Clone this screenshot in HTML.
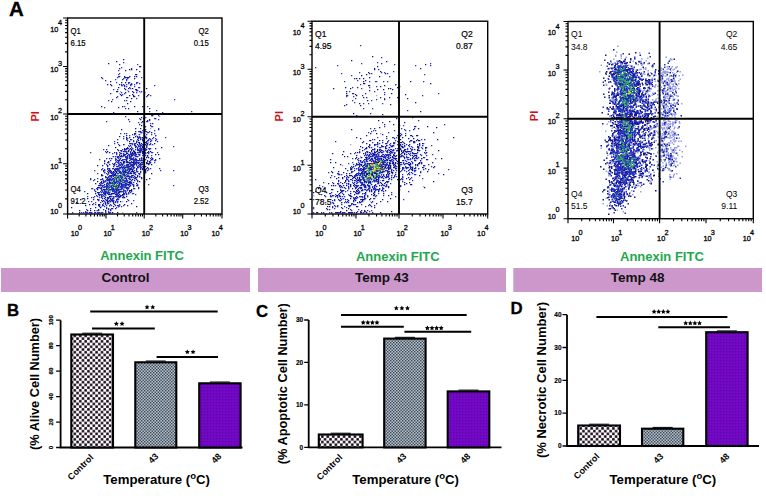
<!DOCTYPE html>
<html><head><meta charset="utf-8"><style>
html,body{margin:0;padding:0;background:#fff;}
svg{display:block;font-family:'Liberation Sans',sans-serif;}
</style></head><body>
<svg width="766" height="496" viewBox="0 0 766 496" style="font-family:'Liberation Sans',sans-serif">
<defs>
<filter id="bl" x="0" y="0" width="1" height="1"><feGaussianBlur stdDeviation="0.6"/></filter>
<pattern id="chk1" patternUnits="userSpaceOnUse" width="5.44" height="5.44"><rect width="5.44" height="5.44" fill="#fdf6fd"/><rect x="0.15" y="0.15" width="2.45" height="2.45" fill="#0a040a"/><rect x="2.87" y="2.87" width="2.45" height="2.45" fill="#0a040a"/></pattern>
<pattern id="chk2" patternUnits="userSpaceOnUse" width="3" height="3"><rect width="3" height="3" fill="#b4c0ce"/><rect width="1.4" height="1.4" fill="#3c4552"/><rect x="1.5" y="1.5" width="1.4" height="1.4" fill="#36404c"/></pattern>
<pattern id="chk3" patternUnits="userSpaceOnUse" width="3" height="3"><rect width="3" height="3" fill="#7408c6"/><rect width="1.3" height="1.3" fill="#5608a4"/></pattern>
</defs>
<text x="9" y="16.3" font-size="20.5" font-weight="bold" stroke="#000" stroke-width="0.3">A</text>
<path fill="#98a0e6" d="M0 0m112 188h1.3v1.3h-1.3zm12 2h1.3v1.3h-1.3zm-12 6h1.3v1.3h-1.3zm26 -34h1.3v1.3h-1.3zm-13 21h1.3v1.3h-1.3zm-29 27h1.3v1.3h-1.3zm29 -23h1.3v1.3h-1.3zm-4 -18h1.3v1.3h-1.3zm9 -7h1.3v1.3h-1.3zm7 18h1.3v1.3h-1.3zm-19 -10h1.3v1.3h-1.3zm-8 6h1.3v1.3h-1.3zm26 -41h1.3v1.3h-1.3zm-17 22h1.3v1.3h-1.3zm4 30h1.3v1.3h-1.3zm15 -42h1.3v1.3h-1.3zm-6 32h1.3v1.3h-1.3zm1 -27h1.3v1.3h-1.3zm-16 34h1.3v1.3h-1.3zm16 -20h1.3v1.3h-1.3zm-11 37h1.3v1.3h-1.3zm-21 5h1.3v1.3h-1.3zm41 -55h1.3v1.3h-1.3zm-23 12h1.3v1.3h-1.3zm29 -21h1.3v1.3h-1.3zm-17 4h1.3v1.3h-1.3zm-8 10h1.3v1.3h-1.3zm19 7h1.3v1.3h-1.3zm-33 30h1.3v1.3h-1.3zm0 9h1.3v1.3h-1.3zm-5 -11h1.3v1.3h-1.3zm19 -12h1.3v1.3h-1.3zm-11 -23h1.3v1.3h-1.3zm9 30h1.3v1.3h-1.3zm26 -25h1.3v1.3h-1.3zm-17 15h1.3v1.3h-1.3zm-9 -14h1.3v1.3h-1.3zm23 -11h1.3v1.3h-1.3zm-24 17h1.3v1.3h-1.3zm-5 33h1.3v1.3h-1.3zm44 -85h1.3v1.3h-1.3zm-37 96h1.3v1.3h-1.3zm2 -68h1.3v1.3h-1.3zm18 -6h1.3v1.3h-1.3zm-2 27h1.3v1.3h-1.3zm-2 -31h1.3v1.3h-1.3zm-2 6h1.3v1.3h-1.3zm14 -12h1.3v1.3h-1.3zm-10 -36h1.3v1.3h-1.3zm-20 -1h1.3v1.3h-1.3zm-1 2h1.3v1.3h-1.3zm8 -3h1.3v1.3h-1.3z"/>
<path fill="#14148a" d="M0 0m104 193h1.3v1.3h-1.3zm18 -15h1.3v1.3h-1.3zm1 18h1.3v1.3h-1.3zm-3 -13h1.3v1.3h-1.3zm4 4h1.3v1.3h-1.3zm5 -1h1.3v1.3h-1.3zm-19 -3h1.3v1.3h-1.3zm-10 24h1.3v1.3h-1.3zm1 -33h1.3v1.3h-1.3zm6 6h1.3v1.3h-1.3zm10 7h1.3v1.3h-1.3zm4 0h1.3v1.3h-1.3zm-4 -2h1.3v1.3h-1.3zm-2 -7h1.3v1.3h-1.3zm-15 7h1.3v1.3h-1.3zm16 6h1.3v1.3h-1.3zm-7 -10h1.3v1.3h-1.3zm2 5h1.3v1.3h-1.3zm10 1h1.3v1.3h-1.3zm3 0h1.3v1.3h-1.3zm-14 7h1.3v1.3h-1.3zm12 0h1.3v1.3h-1.3zm0 -8h1.3v1.3h-1.3zm-12 15h1.3v1.3h-1.3zm8 -11h1.3v1.3h-1.3zm-7 -7h1.3v1.3h-1.3zm6 8h1.3v1.3h-1.3zm-1 8h1.3v1.3h-1.3zm-1 -25h1.3v1.3h-1.3zm7 10h1.3v1.3h-1.3zm-9 -6h1.3v1.3h-1.3zm0 8h1.3v1.3h-1.3zm7 -11h1.3v1.3h-1.3zm-2 11h1.3v1.3h-1.3zm-15 7h1.3v1.3h-1.3zm6 -11h1.3v1.3h-1.3zm-12 -1h1.3v1.3h-1.3zm21 -5h1.3v1.3h-1.3zm-10 4h1.3v1.3h-1.3zm10 15h1.3v1.3h-1.3zm2 -15h1.3v1.3h-1.3zm-12 18h1.3v1.3h-1.3zm24 -33h1.3v1.3h-1.3zm-17 12h1.3v1.3h-1.3zm-2 16h1.3v1.3h-1.3zm13 3h1.3v1.3h-1.3zm-7 -13h1.3v1.3h-1.3zm-5 3h1.3v1.3h-1.3zm-3 7h1.3v1.3h-1.3zm-5 -1h1.3v1.3h-1.3zm10 -2h1.3v1.3h-1.3zm3 -8h1.3v1.3h-1.3zm4 4h1.3v1.3h-1.3zm1 18h1.3v1.3h-1.3zm5 -13h1.3v1.3h-1.3zm-24 12h1.3v1.3h-1.3zm28 -18h1.3v1.3h-1.3zm-9 12h1.3v1.3h-1.3zm-2 -11h1.3v1.3h-1.3zm-5 -9h1.3v1.3h-1.3zm-5 12h1.3v1.3h-1.3zm-1 -9h1.3v1.3h-1.3zm5 5h1.3v1.3h-1.3zm-7 15h1.3v1.3h-1.3zm14 -18h1.3v1.3h-1.3zm-6 -2h1.3v1.3h-1.3zm-8 14h1.3v1.3h-1.3zm10 2h1.3v1.3h-1.3zm-8 -16h1.3v1.3h-1.3zm18 2h1.3v1.3h-1.3zm-12 3h1.3v1.3h-1.3zm-12 12h1.3v1.3h-1.3zm21 -19h1.3v1.3h-1.3zm-24 -3h1.3v1.3h-1.3zm18 6h1.3v1.3h-1.3zm21 -4h1.3v1.3h-1.3zm-38 15h1.3v1.3h-1.3zm27 -20h1.3v1.3h-1.3zm-15 24h1.3v1.3h-1.3zm1 -7h1.3v1.3h-1.3zm-6 -14h1.3v1.3h-1.3zm-2 13h1.3v1.3h-1.3zm18 6h1.3v1.3h-1.3zm-22 -10h1.3v1.3h-1.3zm6 -1h1.3v1.3h-1.3zm-1 11h1.3v1.3h-1.3zm10 -2h1.3v1.3h-1.3zm0 -1h1.3v1.3h-1.3zm-10 -11h1.3v1.3h-1.3zm12 11h1.3v1.3h-1.3zm-13 -5h1.3v1.3h-1.3zm2 10h1.3v1.3h-1.3zm-10 -8h1.3v1.3h-1.3zm-1 -5h1.3v1.3h-1.3zm15 -4h1.3v1.3h-1.3zm-4 7h1.3v1.3h-1.3zm23 0h1.3v1.3h-1.3zm-13 10h1.3v1.3h-1.3zm-3 -12h1.3v1.3h-1.3zm-4 18h1.3v1.3h-1.3zm7 -7h1.3v1.3h-1.3zm-9 5h1.3v1.3h-1.3zm4 -11h1.3v1.3h-1.3zm-8 -6h1.3v1.3h-1.3zm19 0h1.3v1.3h-1.3zm-4 12h1.3v1.3h-1.3zm-4 -10h1.3v1.3h-1.3zm-4 19h1.3v1.3h-1.3zm-1 -22h1.3v1.3h-1.3zm2 10h1.3v1.3h-1.3zm16 -2h1.3v1.3h-1.3zm-23 19h1.3v1.3h-1.3zm0 -39h1.3v1.3h-1.3zm-1 10h1.3v1.3h-1.3zm-1 20h1.3v1.3h-1.3zm15 -19h1.3v1.3h-1.3zm0 10h1.3v1.3h-1.3zm-4 -11h1.3v1.3h-1.3zm-6 -1h1.3v1.3h-1.3zm-21 0h1.3v1.3h-1.3zm25 3h1.3v1.3h-1.3zm-8 -4h1.3v1.3h-1.3zm1 11h1.3v1.3h-1.3zm20 -18h1.3v1.3h-1.3zm4 -5h1.3v1.3h-1.3zm-6 -1h1.3v1.3h-1.3zm13 16h1.3v1.3h-1.3zm-18 -3h1.3v1.3h-1.3zm-8 23h1.3v1.3h-1.3zm-4 -25h1.3v1.3h-1.3zm17 -6h1.3v1.3h-1.3zm6 -16h1.3v1.3h-1.3zm-3 2h1.3v1.3h-1.3zm18 11h1.3v1.3h-1.3zm-25 -8h1.3v1.3h-1.3zm1 34h1.3v1.3h-1.3zm-4 -16h1.3v1.3h-1.3zm35 -34h1.3v1.3h-1.3zm-32 36h1.3v1.3h-1.3zm20 -40h1.3v1.3h-1.3zm-44 65h1.3v1.3h-1.3zm17 -26h1.3v1.3h-1.3zm-1 -3h1.3v1.3h-1.3zm18 -16h1.3v1.3h-1.3zm-8 9h1.3v1.3h-1.3zm16 3h1.3v1.3h-1.3zm-33 32h1.3v1.3h-1.3zm15 -19h1.3v1.3h-1.3zm-1 1h1.3v1.3h-1.3zm-5 -4h1.3v1.3h-1.3zm3 2h1.3v1.3h-1.3zm-22 9h1.3v1.3h-1.3zm26 -48h1.3v1.3h-1.3zm-11 68h1.3v1.3h-1.3zm-3 -44h1.3v1.3h-1.3zm30 8h1.3v1.3h-1.3zm-16 14h1.3v1.3h-1.3zm27 -49h1.3v1.3h-1.3zm-13 8h1.3v1.3h-1.3zm-16 32h1.3v1.3h-1.3zm-4 24h1.3v1.3h-1.3zm9 -53h1.3v1.3h-1.3zm-9 29h1.3v1.3h-1.3zm-9 5h1.3v1.3h-1.3zm26 -22h1.3v1.3h-1.3zm-10 1h1.3v1.3h-1.3zm-21 6h1.3v1.3h-1.3zm5 18h1.3v1.3h-1.3zm24 -37h1.3v1.3h-1.3zm2 11h1.3v1.3h-1.3zm-19 22h1.3v1.3h-1.3zm-3 23h1.3v1.3h-1.3zm5 -26h1.3v1.3h-1.3zm-27 28h1.3v1.3h-1.3zm28 -14h1.3v1.3h-1.3zm28 -51h1.3v1.3h-1.3zm-37 47h1.3v1.3h-1.3zm13 -28h1.3v1.3h-1.3zm2 7h1.3v1.3h-1.3zm-10 -19h1.3v1.3h-1.3zm26 -15h1.3v1.3h-1.3zm-32 35h1.3v1.3h-1.3zm8 15h1.3v1.3h-1.3zm-8 -2h1.3v1.3h-1.3zm7 -3h1.3v1.3h-1.3zm28 -24h1.3v1.3h-1.3zm-15 -8h1.3v1.3h-1.3zm3 26h1.3v1.3h-1.3zm-27 13h1.3v1.3h-1.3zm22 -28h1.3v1.3h-1.3zm0 40h1.3v1.3h-1.3zm-26 -16h1.3v1.3h-1.3zm29 -25h1.3v1.3h-1.3zm-5 22h1.3v1.3h-1.3zm14 -33h1.3v1.3h-1.3zm-9 17h1.3v1.3h-1.3zm-6 0h1.3v1.3h-1.3zm21 15h1.3v1.3h-1.3zm-7 -6h1.3v1.3h-1.3zm4 3h1.3v1.3h-1.3zm-37 3h1.3v1.3h-1.3zm22 -28h1.3v1.3h-1.3zm-8 10h1.3v1.3h-1.3zm25 -22h1.3v1.3h-1.3zm-26 71h1.3v1.3h-1.3zm24 -53h1.3v1.3h-1.3zm-24 28h1.3v1.3h-1.3zm-13 11h1.3v1.3h-1.3zm13 -29h1.3v1.3h-1.3zm-5 5h1.3v1.3h-1.3zm-18 36h1.3v1.3h-1.3zm15 -40h1.3v1.3h-1.3zm33 -26h1.3v1.3h-1.3zm-30 38h1.3v1.3h-1.3zm-6 3h1.3v1.3h-1.3zm-11 8h1.3v1.3h-1.3zm39 -41h1.3v1.3h-1.3zm-18 17h1.3v1.3h-1.3zm21 -30h1.3v1.3h-1.3zm-33 52h1.3v1.3h-1.3zm21 -20h1.3v1.3h-1.3zm1 -34h1.3v1.3h-1.3zm16 0h1.3v1.3h-1.3zm-24 49h1.3v1.3h-1.3zm-1 12h1.3v1.3h-1.3zm-4 -30h1.3v1.3h-1.3zm-4 12h1.3v1.3h-1.3zm20 -3h1.3v1.3h-1.3zm-10 -17h1.3v1.3h-1.3zm-9 30h1.3v1.3h-1.3zm35 -19h1.3v1.3h-1.3zm-35 5h1.3v1.3h-1.3zm12 -1h1.3v1.3h-1.3zm-21 0h1.3v1.3h-1.3zm26 9h1.3v1.3h-1.3zm7 -33h1.3v1.3h-1.3zm-25 20h1.3v1.3h-1.3zm26 -13h1.3v1.3h-1.3zm-25 38h1.3v1.3h-1.3zm26 -28h1.3v1.3h-1.3zm-3 3h1.3v1.3h-1.3zm-22 0h1.3v1.3h-1.3zm9 -4h1.3v1.3h-1.3zm3 7h1.3v1.3h-1.3zm13 -15h1.3v1.3h-1.3zm-13 -4h1.3v1.3h-1.3zm6 -14h1.3v1.3h-1.3zm19 16h1.3v1.3h-1.3zm-41 43h1.3v1.3h-1.3zm29 -21h1.3v1.3h-1.3zm-35 33h1.3v1.3h-1.3zm3 -42h1.3v1.3h-1.3zm27 -1h1.3v1.3h-1.3zm-8 0h1.3v1.3h-1.3zm-2 -40h1.3v1.3h-1.3zm1 51h1.3v1.3h-1.3zm24 -92h1.3v1.3h-1.3zm-21 95h1.3v1.3h-1.3zm-8 -34h1.3v1.3h-1.3zm9 10h1.3v1.3h-1.3zm-7 9h1.3v1.3h-1.3zm24 -20h1.3v1.3h-1.3zm-33 48h1.3v1.3h-1.3zm4 -5h1.3v1.3h-1.3zm18 -20h1.3v1.3h-1.3zm14 8h1.3v1.3h-1.3zm-26 12h1.3v1.3h-1.3zm-11 -39h1.3v1.3h-1.3zm21 -13h1.3v1.3h-1.3zm-20 59h1.3v1.3h-1.3zm1 -40h1.3v1.3h-1.3zm8 1h1.3v1.3h-1.3zm-5 15h1.3v1.3h-1.3zm30 -44h1.3v1.3h-1.3zm-27 36h1.3v1.3h-1.3zm21 -4h1.3v1.3h-1.3zm-5 0h1.3v1.3h-1.3zm-8 -11h1.3v1.3h-1.3zm-5 22h1.3v1.3h-1.3zm-24 22h1.3v1.3h-1.3zm41 -39h1.3v1.3h-1.3zm-29 41h1.3v1.3h-1.3zm12 -20h1.3v1.3h-1.3zm-14 14h1.3v1.3h-1.3zm13 -19h1.3v1.3h-1.3zm23 -20h1.3v1.3h-1.3zm-20 15h1.3v1.3h-1.3zm-7 11h1.3v1.3h-1.3zm18 -27h1.3v1.3h-1.3zm-16 50h1.3v1.3h-1.3zm-20 -36h1.3v1.3h-1.3zm38 9h1.3v1.3h-1.3zm-33 -9h1.3v1.3h-1.3zm32 11h1.3v1.3h-1.3zm-5 10h1.3v1.3h-1.3zm-30 9h1.3v1.3h-1.3zm32 -18h1.3v1.3h-1.3zm7 -17h1.3v1.3h-1.3zm3 4h1.3v1.3h-1.3zm0 -6h1.3v1.3h-1.3zm-2 0h1.3v1.3h-1.3zm-34 54h1.3v1.3h-1.3zm13 -62h1.3v1.3h-1.3zm17 9h1.3v1.3h-1.3zm-3 -4h1.3v1.3h-1.3zm-22 31h1.3v1.3h-1.3zm24 2h1.3v1.3h-1.3zm-31 1h1.3v1.3h-1.3zm31 -27h1.3v1.3h-1.3zm-3 -9h1.3v1.3h-1.3zm-18 44h1.3v1.3h-1.3zm19 -28h1.3v1.3h-1.3zm-24 19h1.3v1.3h-1.3zm33 -63h1.3v1.3h-1.3zm-24 48h1.3v1.3h-1.3zm-22 39h1.3v1.3h-1.3zm29 -38h1.3v1.3h-1.3zm-10 2h1.3v1.3h-1.3zm32 -13h1.3v1.3h-1.3zm-22 9h1.3v1.3h-1.3zm-18 17h1.3v1.3h-1.3zm14 12h1.3v1.3h-1.3zm-8 -13h1.3v1.3h-1.3zm19 -20h1.3v1.3h-1.3zm12 -50h1.3v1.3h-1.3zm-10 43h1.3v1.3h-1.3zm-5 -11h1.3v1.3h-1.3zm-14 31h1.3v1.3h-1.3zm-9 -1h1.3v1.3h-1.3zm50 -40h1.3v1.3h-1.3zm-23 24h1.3v1.3h-1.3zm11 -17h1.3v1.3h-1.3zm-18 38h1.3v1.3h-1.3zm-4 -7h1.3v1.3h-1.3zm-1 -16h1.3v1.3h-1.3zm13 0h1.3v1.3h-1.3zm-35 25h1.3v1.3h-1.3zm9 6h1.3v1.3h-1.3zm5 -15h1.3v1.3h-1.3zm13 -29h1.3v1.3h-1.3zm-1 18h1.3v1.3h-1.3zm13 0h1.3v1.3h-1.3zm-31 33h1.3v1.3h-1.3zm20 -52h1.3v1.3h-1.3zm-19 54h1.3v1.3h-1.3zm42 -64h1.3v1.3h-1.3zm-31 46h1.3v1.3h-1.3zm20 -34h1.3v1.3h-1.3zm-40 42h1.3v1.3h-1.3zm26 -37h1.3v1.3h-1.3zm-19 25h1.3v1.3h-1.3zm40 -36h1.3v1.3h-1.3zm-11 29h1.3v1.3h-1.3zm-18 23h1.3v1.3h-1.3zm-3 -15h1.3v1.3h-1.3zm0 8h1.3v1.3h-1.3zm8 -10h1.3v1.3h-1.3zm22 -18h1.3v1.3h-1.3zm-28 27h1.3v1.3h-1.3zm-1 -19h1.3v1.3h-1.3zm13 -7h1.3v1.3h-1.3zm-29 38h1.3v1.3h-1.3zm22 -28h1.3v1.3h-1.3zm-5 4h1.3v1.3h-1.3zm19 -17h1.3v1.3h-1.3zm-19 -12h1.3v1.3h-1.3zm25 -19h1.3v1.3h-1.3zm-21 17h1.3v1.3h-1.3zm2 39h1.3v1.3h-1.3zm0 -24h1.3v1.3h-1.3zm0 -7h1.3v1.3h-1.3zm0 10h1.3v1.3h-1.3zm10 14h1.3v1.3h-1.3zm15 -15h1.3v1.3h-1.3zm-20 -2h1.3v1.3h-1.3zm3 24h1.3v1.3h-1.3zm-4 -12h1.3v1.3h-1.3zm-11 -9h1.3v1.3h-1.3zm15 -8h1.3v1.3h-1.3zm-6 8h1.3v1.3h-1.3zm-11 27h1.3v1.3h-1.3zm24 -28h1.3v1.3h-1.3zm-11 3h1.3v1.3h-1.3zm7 5h1.3v1.3h-1.3zm-21 38h1.3v1.3h-1.3zm2 -2h1.3v1.3h-1.3zm38 -74h1.3v1.3h-1.3zm-49 72h1.3v1.3h-1.3zm25 -46h1.3v1.3h-1.3zm-23 23h1.3v1.3h-1.3zm9 7h1.3v1.3h-1.3zm15 -34h1.3v1.3h-1.3zm-1 12h1.3v1.3h-1.3zm1 16h1.3v1.3h-1.3zm-26 19h1.3v1.3h-1.3zm44 -55h1.3v1.3h-1.3zm5 13h1.3v1.3h-1.3zm-40 27h1.3v1.3h-1.3zm2 -20h1.3v1.3h-1.3zm9 11h1.3v1.3h-1.3zm-12 33h1.3v1.3h-1.3zm-2 -20h1.3v1.3h-1.3zm10 -3h1.3v1.3h-1.3zm13 2h1.3v1.3h-1.3zm2 -29h1.3v1.3h-1.3zm9 4h1.3v1.3h-1.3zm-22 25h1.3v1.3h-1.3zm11 -16h1.3v1.3h-1.3zm-18 0h1.3v1.3h-1.3zm1 4h1.3v1.3h-1.3zm12 11h1.3v1.3h-1.3zm7 -26h1.3v1.3h-1.3zm-1 13h1.3v1.3h-1.3zm-10 3h1.3v1.3h-1.3zm28 -39h1.3v1.3h-1.3zm-55 44h1.3v1.3h-1.3zm32 -18h1.3v1.3h-1.3zm0 -3h1.3v1.3h-1.3zm-2 -3h1.3v1.3h-1.3zm-9 22h1.3v1.3h-1.3zm14 9h1.3v1.3h-1.3zm-2 -26h1.3v1.3h-1.3zm-22 27h1.3v1.3h-1.3zm15 -36h1.3v1.3h-1.3zm-14 31h1.3v1.3h-1.3zm24 -27h1.3v1.3h-1.3zm-1 10h1.3v1.3h-1.3zm-9 3h1.3v1.3h-1.3zm-14 -7h1.3v1.3h-1.3zm18 26h1.3v1.3h-1.3zm4 -31h1.3v1.3h-1.3zm8 0h1.3v1.3h-1.3zm-8 18h1.3v1.3h-1.3zm-2 -17h1.3v1.3h-1.3zm-9 8h1.3v1.3h-1.3zm17 9h1.3v1.3h-1.3zm23 -49h1.3v1.3h-1.3zm-54 72h1.3v1.3h-1.3zm2 -13h1.3v1.3h-1.3zm6 10h1.3v1.3h-1.3zm-25 12h1.3v1.3h-1.3zm41 -56h1.3v1.3h-1.3zm-11 26h1.3v1.3h-1.3zm10 -11h1.3v1.3h-1.3zm7 -36h1.3v1.3h-1.3zm-6 21h1.3v1.3h-1.3zm14 10h1.3v1.3h-1.3zm16 -10h1.3v1.3h-1.3zm-18 -4h1.3v1.3h-1.3zm-32 12h1.3v1.3h-1.3zm19 2h1.3v1.3h-1.3zm28 -16h1.3v1.3h-1.3zm-25 0h1.3v1.3h-1.3zm10 -3h1.3v1.3h-1.3zm-30 54h1.3v1.3h-1.3zm32 -30h1.3v1.3h-1.3zm-11 -4h1.3v1.3h-1.3zm-9 15h1.3v1.3h-1.3zm-36 32h1.3v1.3h-1.3zm45 -50h1.3v1.3h-1.3zm-7 14h1.3v1.3h-1.3zm4 -14h1.3v1.3h-1.3zm7 -10h1.3v1.3h-1.3zm-9 -17h1.3v1.3h-1.3zm-13 62h1.3v1.3h-1.3zm-12 -16h1.3v1.3h-1.3zm40 -31h1.3v1.3h-1.3zm-16 20h1.3v1.3h-1.3zm-1 -5h1.3v1.3h-1.3zm-23 31h1.3v1.3h-1.3zm25 -45h1.3v1.3h-1.3zm-18 50h1.3v1.3h-1.3zm23 -11h1.3v1.3h-1.3zm-9 -22h1.3v1.3h-1.3zm-1 -18h1.3v1.3h-1.3zm4 33h1.3v1.3h-1.3zm0 -18h1.3v1.3h-1.3zm5 -7h1.3v1.3h-1.3zm-41 54h1.3v1.3h-1.3zm37 -34h1.3v1.3h-1.3zm15 -16h1.3v1.3h-1.3zm-17 -13h1.3v1.3h-1.3zm-18 38h1.3v1.3h-1.3zm36 -36h1.3v1.3h-1.3zm-32 47h1.3v1.3h-1.3zm16 -33h1.3v1.3h-1.3zm8 -21h1.3v1.3h-1.3zm5 8h1.3v1.3h-1.3zm-37 46h1.3v1.3h-1.3zm46 -47h1.3v1.3h-1.3zm-43 59h1.3v1.3h-1.3zm0 -11h1.3v1.3h-1.3zm15 -23h1.3v1.3h-1.3zm19 -45h1.3v1.3h-1.3zm-21 25h1.3v1.3h-1.3zm17 21h1.3v1.3h-1.3zm14 -58h1.3v1.3h-1.3zm-3 38h1.3v1.3h-1.3zm-44 34h1.3v1.3h-1.3zm13 -5h1.3v1.3h-1.3zm-28 12h1.3v1.3h-1.3zm39 -59h1.3v1.3h-1.3zm-9 29h1.3v1.3h-1.3zm13 0h1.3v1.3h-1.3zm-5 24h1.3v1.3h-1.3zm-18 -30h1.3v1.3h-1.3zm25 0h1.3v1.3h-1.3zm-7 -3h1.3v1.3h-1.3zm9 -25h1.3v1.3h-1.3zm-29 57h1.3v1.3h-1.3zm10 3h1.3v1.3h-1.3zm-10 0h1.3v1.3h-1.3zm21 -12h1.3v1.3h-1.3zm-33 17h1.3v1.3h-1.3zm41 -46h1.3v1.3h-1.3zm-9 3h1.3v1.3h-1.3zm0 -2h1.3v1.3h-1.3zm-28 58h1.3v1.3h-1.3zm48 -83h1.3v1.3h-1.3zm-20 22h1.3v1.3h-1.3zm5 14h1.3v1.3h-1.3zm1 -16h1.3v1.3h-1.3zm-18 40h1.3v1.3h-1.3zm11 -28h1.3v1.3h-1.3zm3 6h1.3v1.3h-1.3zm-28 39h1.3v1.3h-1.3zm41 -46h1.3v1.3h-1.3zm-23 35h1.3v1.3h-1.3zm-1 0h1.3v1.3h-1.3zm-15 -26h1.3v1.3h-1.3zm26 3h1.3v1.3h-1.3zm18 -19h1.3v1.3h-1.3zm-11 27h1.3v1.3h-1.3zm-12 -4h1.3v1.3h-1.3zm-9 -12h1.3v1.3h-1.3zm10 9h1.3v1.3h-1.3zm14 -13h1.3v1.3h-1.3zm-4 3h1.3v1.3h-1.3zm-27 21h1.3v1.3h-1.3zm-14 20h1.3v1.3h-1.3zm37 -38h1.3v1.3h-1.3zm1 -23h1.3v1.3h-1.3zm-29 44h1.3v1.3h-1.3zm19 -7h1.3v1.3h-1.3zm10 -11h1.3v1.3h-1.3zm9 -19h1.3v1.3h-1.3zm-32 16h1.3v1.3h-1.3zm27 -3h1.3v1.3h-1.3zm-4 -6h1.3v1.3h-1.3zm-3 -4h1.3v1.3h-1.3zm-23 10h1.3v1.3h-1.3zm43 -20h1.3v1.3h-1.3zm-37 36h1.3v1.3h-1.3zm8 13h1.3v1.3h-1.3zm-9 -13h1.3v1.3h-1.3zm38 -35h1.3v1.3h-1.3zm-38 36h1.3v1.3h-1.3zm26 -17h1.3v1.3h-1.3zm-13 22h1.3v1.3h-1.3zm14 -8h1.3v1.3h-1.3zm-18 12h1.3v1.3h-1.3zm23 -41h1.3v1.3h-1.3zm-23 14h1.3v1.3h-1.3zm7 18h1.3v1.3h-1.3zm-15 9h1.3v1.3h-1.3zm18 -38h1.3v1.3h-1.3zm-15 49h1.3v1.3h-1.3zm22 -55h1.3v1.3h-1.3zm-8 42h1.3v1.3h-1.3zm12 -33h1.3v1.3h-1.3zm-3 -13h1.3v1.3h-1.3zm-17 42h1.3v1.3h-1.3zm-7 17h1.3v1.3h-1.3zm18 -15h1.3v1.3h-1.3zm25 -67h1.3v1.3h-1.3zm-33 46h1.3v1.3h-1.3zm5 41h1.3v1.3h-1.3zm4 -22h1.3v1.3h-1.3zm2 -15h1.3v1.3h-1.3zm13 -19h1.3v1.3h-1.3zm-25 26h1.3v1.3h-1.3zm7 9h1.3v1.3h-1.3zm4 -36h1.3v1.3h-1.3zm-27 45h1.3v1.3h-1.3zm31 -10h1.3v1.3h-1.3zm-21 -27h1.3v1.3h-1.3zm9 18h1.3v1.3h-1.3zm6 -12h1.3v1.3h-1.3zm-28 17h1.3v1.3h-1.3zm10 -4h1.3v1.3h-1.3zm40 -52h1.3v1.3h-1.3zm-1 41h1.3v1.3h-1.3zm-37 20h1.3v1.3h-1.3zm6 -13h1.3v1.3h-1.3zm-10 1h1.3v1.3h-1.3zm18 4h1.3v1.3h-1.3zm-30 36h1.3v1.3h-1.3zm29 -39h1.3v1.3h-1.3zm-8 21h1.3v1.3h-1.3zm-29 14h1.3v1.3h-1.3zm38 -89h1.3v1.3h-1.3zm1 71h1.3v1.3h-1.3zm1 -32h1.3v1.3h-1.3zm-16 21h1.3v1.3h-1.3zm28 -19h1.3v1.3h-1.3zm-29 36h1.3v1.3h-1.3zm23 -27h1.3v1.3h-1.3zm-27 14h1.3v1.3h-1.3zm0 22h1.3v1.3h-1.3zm9 -26h1.3v1.3h-1.3zm-1 -9h1.3v1.3h-1.3zm-8 -6h1.3v1.3h-1.3zm35 -14h1.3v1.3h-1.3zm-31 28h1.3v1.3h-1.3zm46 -20h1.3v1.3h-1.3zm-12 -38h1.3v1.3h-1.3zm-17 48h1.3v1.3h-1.3zm-27 32h1.3v1.3h-1.3zm22 -46h1.3v1.3h-1.3zm4 9h1.3v1.3h-1.3zm-9 17h1.3v1.3h-1.3zm-1 7h1.3v1.3h-1.3zm-21 18h1.3v1.3h-1.3zm1 -20h1.3v1.3h-1.3zm6 -4h1.3v1.3h-1.3zm41 -40h1.3v1.3h-1.3zm-33 35h1.3v1.3h-1.3zm33 -8h1.3v1.3h-1.3zm-17 -31h1.3v1.3h-1.3zm-14 39h1.3v1.3h-1.3zm22 -16h1.3v1.3h-1.3zm-8 10h1.3v1.3h-1.3zm3 -11h1.3v1.3h-1.3zm-41 53h1.3v1.3h-1.3zm30 -29h1.3v1.3h-1.3zm-5 -11h1.3v1.3h-1.3zm0 22h1.3v1.3h-1.3zm15 -40h1.3v1.3h-1.3zm-10 10h1.3v1.3h-1.3zm-8 11h1.3v1.3h-1.3zm2 33h1.3v1.3h-1.3zm-15 -26h1.3v1.3h-1.3zm33 -16h1.3v1.3h-1.3zm-32 23h1.3v1.3h-1.3zm-6 18h1.3v1.3h-1.3zm19 -29h1.3v1.3h-1.3zm11 -3h1.3v1.3h-1.3zm-21 -3h1.3v1.3h-1.3zm2 36h1.3v1.3h-1.3zm26 -38h1.3v1.3h-1.3zm-28 -9h1.3v1.3h-1.3zm31 -15h1.3v1.3h-1.3zm2 -2h1.3v1.3h-1.3zm5 18h1.3v1.3h-1.3zm0 -11h1.3v1.3h-1.3zm-15 24h1.3v1.3h-1.3zm-8 -23h1.3v1.3h-1.3zm-4 19h1.3v1.3h-1.3zm-8 3h1.3v1.3h-1.3zm-8 13h1.3v1.3h-1.3zm24 -26h1.3v1.3h-1.3zm-12 18h1.3v1.3h-1.3zm12 15h1.3v1.3h-1.3zm-6 -4h1.3v1.3h-1.3zm7 -3h1.3v1.3h-1.3zm-14 -5h1.3v1.3h-1.3zm23 -17h1.3v1.3h-1.3zm-17 21h1.3v1.3h-1.3zm5 -13h1.3v1.3h-1.3zm-24 26h1.3v1.3h-1.3zm40 -63h1.3v1.3h-1.3zm-32 53h1.3v1.3h-1.3zm38 -35h1.3v1.3h-1.3zm-31 18h1.3v1.3h-1.3zm36 -20h1.3v1.3h-1.3zm-33 26h1.3v1.3h-1.3zm16 -2h1.3v1.3h-1.3zm4 -29h1.3v1.3h-1.3zm-1 31h1.3v1.3h-1.3zm2 -36h1.3v1.3h-1.3zm-5 38h1.3v1.3h-1.3zm4 -37h1.3v1.3h-1.3zm7 4h1.3v1.3h-1.3zm3 23h1.3v1.3h-1.3zm-22 5h1.3v1.3h-1.3zm5 -8h1.3v1.3h-1.3zm-5 30h1.3v1.3h-1.3zm-3 -41h1.3v1.3h-1.3zm10 16h1.3v1.3h-1.3zm-6 -1h1.3v1.3h-1.3zm9 -30h1.3v1.3h-1.3zm-13 48h1.3v1.3h-1.3zm8 -13h1.3v1.3h-1.3zm-16 3h1.3v1.3h-1.3zm36 -28h1.3v1.3h-1.3zm-43 35h1.3v1.3h-1.3zm-10 5h1.3v1.3h-1.3zm37 -38h1.3v1.3h-1.3zm-13 24h1.3v1.3h-1.3zm36 -23h1.3v1.3h-1.3zm-32 -3h1.3v1.3h-1.3zm-14 43h1.3v1.3h-1.3zm1 -24h1.3v1.3h-1.3zm1 3h1.3v1.3h-1.3zm12 -1h1.3v1.3h-1.3zm-17 5h1.3v1.3h-1.3zm18 -23h1.3v1.3h-1.3zm-4 21h1.3v1.3h-1.3zm-21 29h1.3v1.3h-1.3zm40 -31h1.3v1.3h-1.3zm-18 -17h1.3v1.3h-1.3zm2 14h1.3v1.3h-1.3zm15 -5h1.3v1.3h-1.3zm17 -30h1.3v1.3h-1.3zm-10 31h1.3v1.3h-1.3zm-31 22h1.3v1.3h-1.3zm17 15h1.3v1.3h-1.3zm-1 -30h1.3v1.3h-1.3zm-32 19h1.3v1.3h-1.3zm10 2h1.3v1.3h-1.3zm27 -39h1.3v1.3h-1.3zm0 -27h1.3v1.3h-1.3zm-10 29h1.3v1.3h-1.3zm-14 28h1.3v1.3h-1.3zm14 -18h1.3v1.3h-1.3zm-10 11h1.3v1.3h-1.3zm20 -20h1.3v1.3h-1.3zm-6 18h1.3v1.3h-1.3zm-16 27h1.3v1.3h-1.3zm-1 -35h1.3v1.3h-1.3zm5 17h1.3v1.3h-1.3zm9 -6h1.3v1.3h-1.3zm-17 10h1.3v1.3h-1.3zm35 -56h1.3v1.3h-1.3zm-37 54h1.3v1.3h-1.3zm31 -45h1.3v1.3h-1.3zm-26 51h1.3v1.3h-1.3zm6 -16h1.3v1.3h-1.3zm-1 4h1.3v1.3h-1.3zm12 -19h1.3v1.3h-1.3zm6 -26h1.3v1.3h-1.3zm1 27h1.3v1.3h-1.3zm-24 10h1.3v1.3h-1.3zm15 -16h1.3v1.3h-1.3zm5 -2h1.3v1.3h-1.3zm-16 23h1.3v1.3h-1.3zm9 -22h1.3v1.3h-1.3zm6 15h1.3v1.3h-1.3zm-22 25h1.3v1.3h-1.3zm34 -45h1.3v1.3h-1.3zm-8 12h1.3v1.3h-1.3zm-6 14h1.3v1.3h-1.3zm13 -9h1.3v1.3h-1.3zm-17 18h1.3v1.3h-1.3zm-10 -17h1.3v1.3h-1.3zm14 -14h1.3v1.3h-1.3zm32 -8h1.3v1.3h-1.3zm-53 38h1.3v1.3h-1.3zm-5 -3h1.3v1.3h-1.3zm-27 20h1.3v1.3h-1.3zm54 -50h1.3v1.3h-1.3zm-24 0h1.3v1.3h-1.3zm41 -57h1.3v1.3h-1.3zm-17 50h1.3v1.3h-1.3zm-31 67h1.3v1.3h-1.3zm2 -12h1.3v1.3h-1.3zm12 -18h1.3v1.3h-1.3zm6 -46h1.3v1.3h-1.3zm8 19h1.3v1.3h-1.3zm-21 -6h1.3v1.3h-1.3zm-9 43h1.3v1.3h-1.3zm37 -29h1.3v1.3h-1.3zm-36 31h1.3v1.3h-1.3zm23 -18h1.3v1.3h-1.3zm-5 -23h1.3v1.3h-1.3zm3 2h1.3v1.3h-1.3zm8 -8h1.3v1.3h-1.3zm10 29h1.3v1.3h-1.3zm1 -38h1.3v1.3h-1.3zm-33 54h1.3v1.3h-1.3zm20 -23h1.3v1.3h-1.3zm-7 -9h1.3v1.3h-1.3zm25 7h1.3v1.3h-1.3zm-14 2h1.3v1.3h-1.3zm23 -11h1.3v1.3h-1.3zm-17 -25h1.3v1.3h-1.3zm-64 74h1.3v1.3h-1.3zm36 -30h1.3v1.3h-1.3zm38 -8h1.3v1.3h-1.3zm-24 14h1.3v1.3h-1.3zm0 -19h1.3v1.3h-1.3zm6 12h1.3v1.3h-1.3zm-12 -1h1.3v1.3h-1.3zm2 -18h1.3v1.3h-1.3zm-20 32h1.3v1.3h-1.3zm16 -18h1.3v1.3h-1.3zm23 8h1.3v1.3h-1.3zm-47 33h1.3v1.3h-1.3zm43 -43h1.3v1.3h-1.3zm-15 24h1.3v1.3h-1.3zm34 -20h1.3v1.3h-1.3zm-46 39h1.3v1.3h-1.3zm-26 0h1.3v1.3h-1.3zm29 -51h1.3v1.3h-1.3zm-21 32h1.3v1.3h-1.3zm28 -20h1.3v1.3h-1.3zm18 -19h1.3v1.3h-1.3zm-11 25h1.3v1.3h-1.3zm27 -71h1.3v1.3h-1.3zm-38 91h1.3v1.3h-1.3zm25 7h1.3v1.3h-1.3zm-15 -43h1.3v1.3h-1.3zm7 30h1.3v1.3h-1.3zm-12 -22h1.3v1.3h-1.3zm25 -28h1.3v1.3h-1.3zm-32 15h1.3v1.3h-1.3zm22 25h1.3v1.3h-1.3zm-13 -5h1.3v1.3h-1.3zm1 9h1.3v1.3h-1.3zm33 -72h1.3v1.3h-1.3zm-3 63h1.3v1.3h-1.3zm-23 -16h1.3v1.3h-1.3zm-7 18h1.3v1.3h-1.3zm-30 24h1.3v1.3h-1.3zm18 -3h1.3v1.3h-1.3zm31 -14h1.3v1.3h-1.3zm-27 -12h1.3v1.3h-1.3zm26 6h1.3v1.3h-1.3zm-29 -2h1.3v1.3h-1.3zm6 3h1.3v1.3h-1.3zm10 -34h1.3v1.3h-1.3zm-26 51h1.3v1.3h-1.3zm-13 6h1.3v1.3h-1.3zm17 -14h1.3v1.3h-1.3zm35 -6h1.3v1.3h-1.3zm-28 4h1.3v1.3h-1.3zm-8 -7h1.3v1.3h-1.3zm36 -11h1.3v1.3h-1.3zm-30 -3h1.3v1.3h-1.3zm13 4h1.3v1.3h-1.3zm12 7h1.3v1.3h-1.3zm-30 7h1.3v1.3h-1.3zm26 -20h1.3v1.3h-1.3zm17 -16h1.3v1.3h-1.3zm-38 47h1.3v1.3h-1.3zm6 4h1.3v1.3h-1.3zm5 -17h1.3v1.3h-1.3zm-15 8h1.3v1.3h-1.3zm-5 17h1.3v1.3h-1.3zm25 -47h1.3v1.3h-1.3zm7 20h1.3v1.3h-1.3zm-21 30h1.3v1.3h-1.3zm31 -81h1.3v1.3h-1.3zm-30 58h1.3v1.3h-1.3zm-5 -13h1.3v1.3h-1.3zm13 30h1.3v1.3h-1.3zm26 -57h1.3v1.3h-1.3zm-16 19h1.3v1.3h-1.3zm3 -13h1.3v1.3h-1.3zm-14 -13h1.3v1.3h-1.3zm3 16h1.3v1.3h-1.3zm-13 -7h1.3v1.3h-1.3zm1 -6h1.3v1.3h-1.3zm11 40h1.3v1.3h-1.3zm-39 14h1.3v1.3h-1.3zm48 -11h1.3v1.3h-1.3zm3 -38h1.3v1.3h-1.3zm-52 60h1.3v1.3h-1.3zm39 -48h1.3v1.3h-1.3zm25 -18h1.3v1.3h-1.3zm-3 22h1.3v1.3h-1.3zm-1 -23h1.3v1.3h-1.3zm2 -11h1.3v1.3h-1.3zm0 27h1.3v1.3h-1.3zm5 -28h1.3v1.3h-1.3zm-5 29h1.3v1.3h-1.3zm-14 -12h1.3v1.3h-1.3zm12 -6h1.3v1.3h-1.3zm11 -17h1.3v1.3h-1.3zm-6 2h1.3v1.3h-1.3zm6 35h1.3v1.3h-1.3zm-8 -41h1.3v1.3h-1.3zm-2 29h1.3v1.3h-1.3zm2 -4h1.3v1.3h-1.3zm7 17h1.3v1.3h-1.3zm-2 -11h1.3v1.3h-1.3zm-2 -15h1.3v1.3h-1.3zm-7 3h1.3v1.3h-1.3zm0 23h1.3v1.3h-1.3zm4 -23h1.3v1.3h-1.3zm1 1h1.3v1.3h-1.3zm0 4h1.3v1.3h-1.3zm2 -3h1.3v1.3h-1.3zm-10 18h1.3v1.3h-1.3zm-3 -1h1.3v1.3h-1.3zm7 5h1.3v1.3h-1.3zm-6 -27h1.3v1.3h-1.3zm5 15h1.3v1.3h-1.3zm12 -1h1.3v1.3h-1.3zm-5 21h1.3v1.3h-1.3zm-3 -19h1.3v1.3h-1.3zm-2 -34h1.3v1.3h-1.3zm-5 12h1.3v1.3h-1.3zm6 -14h1.3v1.3h-1.3zm2 42h1.3v1.3h-1.3zm6 2h1.3v1.3h-1.3zm-7 -8h1.3v1.3h-1.3zm-2 -2h1.3v1.3h-1.3zm7 4h1.3v1.3h-1.3zm-8 -31h1.3v1.3h-1.3zm8 39h1.3v1.3h-1.3zm-7 0h1.3v1.3h-1.3zm6 -26h1.3v1.3h-1.3zm1 3h1.3v1.3h-1.3zm-7 29h1.3v1.3h-1.3zm-5 -16h1.3v1.3h-1.3zm13 11h1.3v1.3h-1.3zm-9 -98h1.3v1.3h-1.3zm-3 3h1.3v1.3h-1.3zm-25 16h1.3v1.3h-1.3zm13 0h1.3v1.3h-1.3zm4 23h1.3v1.3h-1.3zm-3 -16h1.3v1.3h-1.3zm4 -23h1.3v1.3h-1.3zm2 29h1.3v1.3h-1.3zm3 -22h1.3v1.3h-1.3zm6 -10h1.3v1.3h-1.3zm-7 30h1.3v1.3h-1.3zm2 -7h1.3v1.3h-1.3zm-6 6h1.3v1.3h-1.3zm-8 -13h1.3v1.3h-1.3zm-5 9h1.3v1.3h-1.3zm0 6h1.3v1.3h-1.3zm2 -10h1.3v1.3h-1.3zm14 7h1.3v1.3h-1.3zm12 -2h1.3v1.3h-1.3zm-25 -24h1.3v1.3h-1.3zm9 20h1.3v1.3h-1.3zm3 -19h1.3v1.3h-1.3zm2 26h1.3v1.3h-1.3zm-6 -18h1.3v1.3h-1.3zm-2 -7h1.3v1.3h-1.3zm8 22h1.3v1.3h-1.3zm-11 14h1.3v1.3h-1.3zm-1 -11h1.3v1.3h-1.3zm4 -13h1.3v1.3h-1.3zm4 -6h1.3v1.3h-1.3zm19 18h1.3v1.3h-1.3zm-38 -1h1.3v1.3h-1.3zm8 14h1.3v1.3h-1.3zm18 -31h1.3v1.3h-1.3zm0 14h1.3v1.3h-1.3zm-2 -12h1.3v1.3h-1.3zm-17 13h1.3v1.3h-1.3zm-6 10h1.3v1.3h-1.3zm17 -24h1.3v1.3h-1.3zm8 -3h1.3v1.3h-1.3zm1 37h1.3v1.3h-1.3zm-5 -20h1.3v1.3h-1.3zm0 -3h1.3v1.3h-1.3zm10 18h1.3v1.3h-1.3zm-15 -3h1.3v1.3h-1.3zm-3 -15h1.3v1.3h-1.3zm3 9h1.3v1.3h-1.3zm-2 -8h1.3v1.3h-1.3zm6 -5h1.3v1.3h-1.3zm-7 -8h1.3v1.3h-1.3zm-2 3h1.3v1.3h-1.3zm2 9h1.3v1.3h-1.3zm-4 6h1.3v1.3h-1.3zm-4 -33h1.3v1.3h-1.3zm19 13h1.3v1.3h-1.3zm1 15h1.3v1.3h-1.3zm-29 -5h1.3v1.3h-1.3zm18 -7h1.3v1.3h-1.3zm-17 -14h1.3v1.3h-1.3zm22 38h1.3v1.3h-1.3zm-11 -17h1.3v1.3h-1.3zm-9 0h1.3v1.3h-1.3zm0 -3h1.3v1.3h-1.3zm-9 25h1.3v1.3h-1.3zm33 0h1.3v1.3h-1.3zm0 -10h1.3v1.3h-1.3zm-11 -37h1.3v1.3h-1.3zm-22 18h1.3v1.3h-1.3zm89 36h1.3v1.3h-1.3zm-71 -37h1.3v1.3h-1.3z"/>
<path fill="#2834c4" d="M0 0m114 180h1.3v1.3h-1.3zm0 0h1.3v1.3h-1.3zm2 0h1.3v1.3h-1.3zm3 0h1.3v1.3h-1.3zm-5 3h1.3v1.3h-1.3zm-3 5h1.3v1.3h-1.3zm-4 -9h1.3v1.3h-1.3zm-6 6h1.3v1.3h-1.3zm23 8h1.3v1.3h-1.3zm-7 -23h1.3v1.3h-1.3zm2 5h1.3v1.3h-1.3zm-20 22h1.3v1.3h-1.3zm10 -14h1.3v1.3h-1.3zm5 -2h1.3v1.3h-1.3zm10 6h1.3v1.3h-1.3zm11 -15h1.3v1.3h-1.3zm-25 22h1.3v1.3h-1.3zm7 -4h1.3v1.3h-1.3zm1 -28h1.3v1.3h-1.3zm6 20h1.3v1.3h-1.3zm-5 -3h1.3v1.3h-1.3zm-2 12h1.3v1.3h-1.3zm1 15h1.3v1.3h-1.3zm0 -21h1.3v1.3h-1.3zm-16 6h1.3v1.3h-1.3zm14 2h1.3v1.3h-1.3zm-8 -2h1.3v1.3h-1.3zm0 -5h1.3v1.3h-1.3zm19 -5h1.3v1.3h-1.3zm-9 1h1.3v1.3h-1.3zm9 -1h1.3v1.3h-1.3zm-19 12h1.3v1.3h-1.3zm18 -12h1.3v1.3h-1.3zm-13 17h1.3v1.3h-1.3zm4 -15h1.3v1.3h-1.3zm-5 -10h1.3v1.3h-1.3zm10 13h1.3v1.3h-1.3zm15 -2h1.3v1.3h-1.3zm-34 -4h1.3v1.3h-1.3zm5 10h1.3v1.3h-1.3zm21 -6h1.3v1.3h-1.3zm-21 -7h1.3v1.3h-1.3zm5 -5h1.3v1.3h-1.3zm2 30h1.3v1.3h-1.3zm12 -12h1.3v1.3h-1.3zm-20 9h1.3v1.3h-1.3zm5 -9h1.3v1.3h-1.3zm13 -10h1.3v1.3h-1.3zm-2 6h1.3v1.3h-1.3zm-8 -1h1.3v1.3h-1.3zm-22 12h1.3v1.3h-1.3zm24 -10h1.3v1.3h-1.3zm6 -2h1.3v1.3h-1.3zm-20 0h1.3v1.3h-1.3zm14 -10h1.3v1.3h-1.3zm-5 9h1.3v1.3h-1.3zm21 4h1.3v1.3h-1.3zm-21 -20h1.3v1.3h-1.3zm10 16h1.3v1.3h-1.3zm-4 12h1.3v1.3h-1.3zm-7 3h1.3v1.3h-1.3zm22 -24h1.3v1.3h-1.3zm-11 12h1.3v1.3h-1.3zm-15 -5h1.3v1.3h-1.3zm16 7h1.3v1.3h-1.3zm-6 9h1.3v1.3h-1.3zm6 -27h1.3v1.3h-1.3zm-21 34h1.3v1.3h-1.3zm21 -23h1.3v1.3h-1.3zm-15 10h1.3v1.3h-1.3zm8 8h1.3v1.3h-1.3zm0 -9h1.3v1.3h-1.3zm8 3h1.3v1.3h-1.3zm-17 -5h1.3v1.3h-1.3zm11 1h1.3v1.3h-1.3zm-9 -10h1.3v1.3h-1.3zm-7 10h1.3v1.3h-1.3zm17 -20h1.3v1.3h-1.3zm4 20h1.3v1.3h-1.3zm2 1h1.3v1.3h-1.3zm0 -7h1.3v1.3h-1.3zm-13 1h1.3v1.3h-1.3zm15 -3h1.3v1.3h-1.3zm-16 7h1.3v1.3h-1.3zm0 5h1.3v1.3h-1.3zm-3 -3h1.3v1.3h-1.3zm1 -6h1.3v1.3h-1.3zm14 -15h1.3v1.3h-1.3zm-12 26h1.3v1.3h-1.3zm14 -5h1.3v1.3h-1.3zm-10 -4h1.3v1.3h-1.3zm1 -5h1.3v1.3h-1.3zm-9 -5h1.3v1.3h-1.3zm18 4h1.3v1.3h-1.3zm-11 10h1.3v1.3h-1.3zm4 -20h1.3v1.3h-1.3zm2 15h1.3v1.3h-1.3zm-2 11h1.3v1.3h-1.3zm16 -35h1.3v1.3h-1.3zm4 26h1.3v1.3h-1.3zm-13 2h1.3v1.3h-1.3zm-18 8h1.3v1.3h-1.3zm-1 -14h1.3v1.3h-1.3zm18 -9h1.3v1.3h-1.3zm-21 34h1.3v1.3h-1.3zm8 -15h1.3v1.3h-1.3zm5 -30h1.3v1.3h-1.3zm-15 24h1.3v1.3h-1.3zm10 -11h1.3v1.3h-1.3zm-7 9h1.3v1.3h-1.3zm19 4h1.3v1.3h-1.3zm-6 -2h1.3v1.3h-1.3zm7 -7h1.3v1.3h-1.3zm-21 0h1.3v1.3h-1.3zm23 12h1.3v1.3h-1.3zm2 7h1.3v1.3h-1.3zm0 -13h1.3v1.3h-1.3zm-19 -11h1.3v1.3h-1.3zm0 29h1.3v1.3h-1.3zm11 -22h1.3v1.3h-1.3zm-11 -5h1.3v1.3h-1.3zm3 21h1.3v1.3h-1.3zm5 0h1.3v1.3h-1.3zm5 -8h1.3v1.3h-1.3zm-11 -12h1.3v1.3h-1.3zm14 -10h1.3v1.3h-1.3zm-13 6h1.3v1.3h-1.3zm14 12h1.3v1.3h-1.3zm-14 -4h1.3v1.3h-1.3zm0 -3h1.3v1.3h-1.3zm-10 5h1.3v1.3h-1.3zm15 11h1.3v1.3h-1.3zm1 -15h1.3v1.3h-1.3zm-2 7h1.3v1.3h-1.3zm-10 1h1.3v1.3h-1.3zm19 -5h1.3v1.3h-1.3zm-8 14h1.3v1.3h-1.3zm-8 -1h1.3v1.3h-1.3zm6 -13h1.3v1.3h-1.3zm13 9h1.3v1.3h-1.3zm-30 -8h1.3v1.3h-1.3zm15 6h1.3v1.3h-1.3zm-14 -8h1.3v1.3h-1.3zm26 -2h1.3v1.3h-1.3zm-14 6h1.3v1.3h-1.3zm-5 3h1.3v1.3h-1.3zm18 -5h1.3v1.3h-1.3zm-30 -6h1.3v1.3h-1.3zm7 13h1.3v1.3h-1.3zm14 -5h1.3v1.3h-1.3zm4 -12h1.3v1.3h-1.3zm-9 -3h1.3v1.3h-1.3zm4 9h1.3v1.3h-1.3zm14 4h1.3v1.3h-1.3zm-24 -4h1.3v1.3h-1.3zm11 7h1.3v1.3h-1.3zm18 -29h1.3v1.3h-1.3zm5 -28h1.3v1.3h-1.3zm13 9h1.3v1.3h-1.3zm-2 -9h1.3v1.3h-1.3zm-31 74h1.3v1.3h-1.3zm5 -34h1.3v1.3h-1.3zm-21 23h1.3v1.3h-1.3zm16 -19h1.3v1.3h-1.3zm22 -38h1.3v1.3h-1.3zm-12 17h1.3v1.3h-1.3zm1 29h1.3v1.3h-1.3zm1 -20h1.3v1.3h-1.3zm14 -50h1.3v1.3h-1.3zm-19 65h1.3v1.3h-1.3zm-17 -5h1.3v1.3h-1.3zm33 -15h1.3v1.3h-1.3zm-26 31h1.3v1.3h-1.3zm21 -25h1.3v1.3h-1.3zm-17 4h1.3v1.3h-1.3zm9 -23h1.3v1.3h-1.3zm-29 49h1.3v1.3h-1.3zm4 11h1.3v1.3h-1.3zm35 -51h1.3v1.3h-1.3zm-14 13h1.3v1.3h-1.3zm-20 20h1.3v1.3h-1.3zm5 -12h1.3v1.3h-1.3zm-12 35h1.3v1.3h-1.3zm12 2h1.3v1.3h-1.3zm12 -45h1.3v1.3h-1.3zm27 17h1.3v1.3h-1.3zm-22 -10h1.3v1.3h-1.3zm3 -12h1.3v1.3h-1.3zm-13 -3h1.3v1.3h-1.3zm19 -3h1.3v1.3h-1.3zm-11 38h1.3v1.3h-1.3zm12 -31h1.3v1.3h-1.3zm-17 34h1.3v1.3h-1.3zm24 -52h1.3v1.3h-1.3zm2 3h1.3v1.3h-1.3zm-34 37h1.3v1.3h-1.3zm32 -23h1.3v1.3h-1.3zm-62 50h1.3v1.3h-1.3zm52 -62h1.3v1.3h-1.3zm-7 11h1.3v1.3h-1.3zm-17 9h1.3v1.3h-1.3zm-1 27h1.3v1.3h-1.3zm19 -9h1.3v1.3h-1.3zm3 4h1.3v1.3h-1.3zm-45 20h1.3v1.3h-1.3zm3 -11h1.3v1.3h-1.3zm31 -19h1.3v1.3h-1.3zm8 -16h1.3v1.3h-1.3zm26 -29h1.3v1.3h-1.3zm-19 -3h1.3v1.3h-1.3zm-20 46h1.3v1.3h-1.3zm16 -8h1.3v1.3h-1.3zm0 -21h1.3v1.3h-1.3zm7 1h1.3v1.3h-1.3zm-20 41h1.3v1.3h-1.3zm24 -44h1.3v1.3h-1.3zm-15 17h1.3v1.3h-1.3zm-16 12h1.3v1.3h-1.3zm8 -17h1.3v1.3h-1.3zm8 -4h1.3v1.3h-1.3zm-20 48h1.3v1.3h-1.3zm16 -30h1.3v1.3h-1.3zm-1 11h1.3v1.3h-1.3zm-7 -7h1.3v1.3h-1.3zm33 -18h1.3v1.3h-1.3zm-9 -12h1.3v1.3h-1.3zm-12 21h1.3v1.3h-1.3zm-9 31h1.3v1.3h-1.3zm1 -2h1.3v1.3h-1.3zm16 -32h1.3v1.3h-1.3zm-24 12h1.3v1.3h-1.3zm-6 -10h1.3v1.3h-1.3zm-6 24h1.3v1.3h-1.3zm27 -6h1.3v1.3h-1.3zm-25 -8h1.3v1.3h-1.3zm13 12h1.3v1.3h-1.3zm30 -32h1.3v1.3h-1.3zm-52 38h1.3v1.3h-1.3zm35 -17h1.3v1.3h-1.3zm-41 23h1.3v1.3h-1.3zm27 -31h1.3v1.3h-1.3zm22 -13h1.3v1.3h-1.3zm-13 18h1.3v1.3h-1.3zm-13 31h1.3v1.3h-1.3zm32 -60h1.3v1.3h-1.3zm-53 64h1.3v1.3h-1.3zm23 -3h1.3v1.3h-1.3zm33 -48h1.3v1.3h-1.3zm-15 10h1.3v1.3h-1.3zm22 -28h1.3v1.3h-1.3zm-46 49h1.3v1.3h-1.3zm22 -18h1.3v1.3h-1.3zm-1 -9h1.3v1.3h-1.3zm-1 8h1.3v1.3h-1.3zm-10 17h1.3v1.3h-1.3zm1 -22h1.3v1.3h-1.3zm3 5h1.3v1.3h-1.3zm-3 -4h1.3v1.3h-1.3zm10 -13h1.3v1.3h-1.3zm7 37h1.3v1.3h-1.3zm-23 -24h1.3v1.3h-1.3zm25 3h1.3v1.3h-1.3zm-11 -34h1.3v1.3h-1.3zm-16 65h1.3v1.3h-1.3zm8 -12h1.3v1.3h-1.3zm-18 -4h1.3v1.3h-1.3zm43 -39h1.3v1.3h-1.3zm-34 25h1.3v1.3h-1.3zm31 -11h1.3v1.3h-1.3zm6 -1h1.3v1.3h-1.3zm-9 -16h1.3v1.3h-1.3zm6 4h1.3v1.3h-1.3zm-24 19h1.3v1.3h-1.3zm0 -16h1.3v1.3h-1.3zm12 40h1.3v1.3h-1.3zm24 -40h1.3v1.3h-1.3zm-4 -4h1.3v1.3h-1.3zm-42 39h1.3v1.3h-1.3zm25 -12h1.3v1.3h-1.3zm-11 -2h1.3v1.3h-1.3zm-2 0h1.3v1.3h-1.3zm25 -35h1.3v1.3h-1.3zm-6 9h1.3v1.3h-1.3zm3 13h1.3v1.3h-1.3zm-15 32h1.3v1.3h-1.3zm29 -59h1.3v1.3h-1.3zm-45 45h1.3v1.3h-1.3zm8 2h1.3v1.3h-1.3zm6 -14h1.3v1.3h-1.3zm-18 46h1.3v1.3h-1.3zm13 -16h1.3v1.3h-1.3zm-9 -4h1.3v1.3h-1.3zm-3 -9h1.3v1.3h-1.3zm26 -35h1.3v1.3h-1.3zm-26 59h1.3v1.3h-1.3zm17 -34h1.3v1.3h-1.3zm16 -39h1.3v1.3h-1.3zm-8 22h1.3v1.3h-1.3zm-19 45h1.3v1.3h-1.3zm7 3h1.3v1.3h-1.3zm27 -66h1.3v1.3h-1.3zm-40 26h1.3v1.3h-1.3zm33 -18h1.3v1.3h-1.3zm-31 34h1.3v1.3h-1.3zm9 9h1.3v1.3h-1.3zm6 3h1.3v1.3h-1.3zm10 -17h1.3v1.3h-1.3zm7 -3h1.3v1.3h-1.3zm-4 -12h1.3v1.3h-1.3zm-32 46h1.3v1.3h-1.3zm38 -44h1.3v1.3h-1.3zm-42 32h1.3v1.3h-1.3zm34 -18h1.3v1.3h-1.3zm-4 -14h1.3v1.3h-1.3zm-25 18h1.3v1.3h-1.3zm21 -16h1.3v1.3h-1.3zm-22 8h1.3v1.3h-1.3zm19 -2h1.3v1.3h-1.3zm22 -33h1.3v1.3h-1.3zm-29 55h1.3v1.3h-1.3zm20 -36h1.3v1.3h-1.3zm-22 30h1.3v1.3h-1.3zm15 -26h1.3v1.3h-1.3zm-23 31h1.3v1.3h-1.3zm12 -23h1.3v1.3h-1.3zm4 9h1.3v1.3h-1.3zm-25 11h1.3v1.3h-1.3zm26 9h1.3v1.3h-1.3zm12 -43h1.3v1.3h-1.3zm5 11h1.3v1.3h-1.3zm-6 5h1.3v1.3h-1.3zm4 -48h1.3v1.3h-1.3zm-22 71h1.3v1.3h-1.3zm18 -38h1.3v1.3h-1.3zm4 -3h1.3v1.3h-1.3zm-5 1h1.3v1.3h-1.3zm-4 28h1.3v1.3h-1.3zm-28 -2h1.3v1.3h-1.3zm32 -26h1.3v1.3h-1.3zm-7 5h1.3v1.3h-1.3zm-8 19h1.3v1.3h-1.3zm-3 -2h1.3v1.3h-1.3zm-8 -6h1.3v1.3h-1.3zm14 -6h1.3v1.3h-1.3zm-1 1h1.3v1.3h-1.3zm15 -6h1.3v1.3h-1.3zm-44 54h1.3v1.3h-1.3zm16 -44h1.3v1.3h-1.3zm26 -8h1.3v1.3h-1.3zm-4 -3h1.3v1.3h-1.3zm-35 33h1.3v1.3h-1.3zm-3 11h1.3v1.3h-1.3zm24 0h1.3v1.3h-1.3zm-17 -2h1.3v1.3h-1.3zm31 -23h1.3v1.3h-1.3zm-5 4h1.3v1.3h-1.3zm-7 14h1.3v1.3h-1.3zm1 -23h1.3v1.3h-1.3zm9 4h1.3v1.3h-1.3zm6 9h1.3v1.3h-1.3zm-22 -4h1.3v1.3h-1.3zm12 -11h1.3v1.3h-1.3zm3 -20h1.3v1.3h-1.3zm-18 19h1.3v1.3h-1.3zm25 -9h1.3v1.3h-1.3zm-34 33h1.3v1.3h-1.3zm26 -8h1.3v1.3h-1.3zm-28 28h1.3v1.3h-1.3zm24 -40h1.3v1.3h-1.3zm-27 40h1.3v1.3h-1.3zm39 -48h1.3v1.3h-1.3zm-19 -23h1.3v1.3h-1.3zm-2 46h1.3v1.3h-1.3zm9 8h1.3v1.3h-1.3zm0 -29h1.3v1.3h-1.3zm1 -17h1.3v1.3h-1.3zm-24 61h1.3v1.3h-1.3zm19 -48h1.3v1.3h-1.3zm10 -24h1.3v1.3h-1.3zm-2 21h1.3v1.3h-1.3zm17 1h1.3v1.3h-1.3zm-31 16h1.3v1.3h-1.3zm22 1h1.3v1.3h-1.3zm-13 -5h1.3v1.3h-1.3zm0 -7h1.3v1.3h-1.3zm-13 9h1.3v1.3h-1.3zm26 10h1.3v1.3h-1.3zm14 -44h1.3v1.3h-1.3zm-30 33h1.3v1.3h-1.3zm-3 -1h1.3v1.3h-1.3zm9 13h1.3v1.3h-1.3zm-16 -14h1.3v1.3h-1.3zm24 4h1.3v1.3h-1.3zm-9 1h1.3v1.3h-1.3zm24 -30h1.3v1.3h-1.3zm-39 39h1.3v1.3h-1.3zm29 -39h1.3v1.3h-1.3zm-29 37h1.3v1.3h-1.3zm21 -5h1.3v1.3h-1.3zm-25 -29h1.3v1.3h-1.3zm17 30h1.3v1.3h-1.3zm28 -26h1.3v1.3h-1.3zm-18 28h1.3v1.3h-1.3zm-11 8h1.3v1.3h-1.3zm11 -25h1.3v1.3h-1.3zm-12 2h1.3v1.3h-1.3zm25 -7h1.3v1.3h-1.3zm-19 31h1.3v1.3h-1.3zm-5 -25h1.3v1.3h-1.3zm-2 29h1.3v1.3h-1.3zm13 -41h1.3v1.3h-1.3zm-4 -15h1.3v1.3h-1.3zm7 44h1.3v1.3h-1.3zm-28 20h1.3v1.3h-1.3zm12 -46h1.3v1.3h-1.3zm12 23h1.3v1.3h-1.3zm-7 -20h1.3v1.3h-1.3zm-9 15h1.3v1.3h-1.3zm15 -5h1.3v1.3h-1.3zm20 -29h1.3v1.3h-1.3zm-28 47h1.3v1.3h-1.3zm10 -21h1.3v1.3h-1.3zm-28 12h1.3v1.3h-1.3zm8 34h1.3v1.3h-1.3zm9 -7h1.3v1.3h-1.3zm19 -40h1.3v1.3h-1.3zm17 -27h1.3v1.3h-1.3zm-39 41h1.3v1.3h-1.3zm25 -30h1.3v1.3h-1.3zm7 14h1.3v1.3h-1.3zm-31 39h1.3v1.3h-1.3zm0 -22h1.3v1.3h-1.3zm14 -27h1.3v1.3h-1.3zm24 7h1.3v1.3h-1.3zm3 -32h1.3v1.3h-1.3zm-40 16h1.3v1.3h-1.3zm-32 68h1.3v1.3h-1.3zm47 -35h1.3v1.3h-1.3zm24 -36h1.3v1.3h-1.3zm-28 30h1.3v1.3h-1.3zm-16 9h1.3v1.3h-1.3zm10 -14h1.3v1.3h-1.3zm0 9h1.3v1.3h-1.3zm6 -40h1.3v1.3h-1.3zm-18 61h1.3v1.3h-1.3zm-7 5h1.3v1.3h-1.3zm25 -17h1.3v1.3h-1.3zm-28 10h1.3v1.3h-1.3zm8 -2h1.3v1.3h-1.3zm18 -27h1.3v1.3h-1.3zm-5 23h1.3v1.3h-1.3zm4 -3h1.3v1.3h-1.3zm9 -23h1.3v1.3h-1.3zm-11 16h1.3v1.3h-1.3zm15 -18h1.3v1.3h-1.3zm10 -11h1.3v1.3h-1.3zm-31 9h1.3v1.3h-1.3zm33 -32h1.3v1.3h-1.3zm-8 14h1.3v1.3h-1.3zm-10 28h1.3v1.3h-1.3zm-33 23h1.3v1.3h-1.3zm-6 5h1.3v1.3h-1.3zm42 -36h1.3v1.3h-1.3zm-22 33h1.3v1.3h-1.3zm29 -52h1.3v1.3h-1.3zm-36 51h1.3v1.3h-1.3zm8 -32h1.3v1.3h-1.3zm5 13h1.3v1.3h-1.3zm-16 21h1.3v1.3h-1.3zm43 -24h1.3v1.3h-1.3zm-2 -17h1.3v1.3h-1.3zm-24 26h1.3v1.3h-1.3zm-3 -18h1.3v1.3h-1.3zm11 -40h1.3v1.3h-1.3zm11 43h1.3v1.3h-1.3zm8 -25h1.3v1.3h-1.3zm-22 -6h1.3v1.3h-1.3zm-18 51h1.3v1.3h-1.3zm8 12h1.3v1.3h-1.3zm0 -42h1.3v1.3h-1.3zm6 21h1.3v1.3h-1.3zm17 -16h1.3v1.3h-1.3zm-20 25h1.3v1.3h-1.3zm19 -32h1.3v1.3h-1.3zm-10 21h1.3v1.3h-1.3zm-9 -2h1.3v1.3h-1.3zm4 -4h1.3v1.3h-1.3zm12 -7h1.3v1.3h-1.3zm-5 23h1.3v1.3h-1.3zm22 -39h1.3v1.3h-1.3zm-21 17h1.3v1.3h-1.3zm-31 33h1.3v1.3h-1.3zm35 -38h1.3v1.3h-1.3zm-14 -5h1.3v1.3h-1.3zm-8 39h1.3v1.3h-1.3zm-18 14h1.3v1.3h-1.3zm35 -50h1.3v1.3h-1.3zm-1 0h1.3v1.3h-1.3zm-7 25h1.3v1.3h-1.3zm-2 -26h1.3v1.3h-1.3zm-13 16h1.3v1.3h-1.3zm2 23h1.3v1.3h-1.3zm21 -16h1.3v1.3h-1.3zm-8 9h1.3v1.3h-1.3zm13 -39h1.3v1.3h-1.3zm4 16h1.3v1.3h-1.3zm6 -31h1.3v1.3h-1.3zm-19 45h1.3v1.3h-1.3zm1 -3h1.3v1.3h-1.3zm-14 1h1.3v1.3h-1.3zm2 -16h1.3v1.3h-1.3zm9 15h1.3v1.3h-1.3zm2 -12h1.3v1.3h-1.3zm-20 12h1.3v1.3h-1.3zm4 39h1.3v1.3h-1.3zm-1 0h1.3v1.3h-1.3zm-3 -26h1.3v1.3h-1.3zm35 -36h1.3v1.3h-1.3zm-26 10h1.3v1.3h-1.3zm7 14h1.3v1.3h-1.3zm7 -18h1.3v1.3h-1.3zm0 -7h1.3v1.3h-1.3zm-5 35h1.3v1.3h-1.3zm-3 -4h1.3v1.3h-1.3zm2 -11h1.3v1.3h-1.3zm14 -13h1.3v1.3h-1.3zm-24 40h1.3v1.3h-1.3zm25 -59h1.3v1.3h-1.3zm-7 27h1.3v1.3h-1.3zm-2 -21h1.3v1.3h-1.3zm36 -6h1.3v1.3h-1.3zm-48 44h1.3v1.3h-1.3zm-9 2h1.3v1.3h-1.3zm-3 -6h1.3v1.3h-1.3zm49 -47h1.3v1.3h-1.3zm-21 28h1.3v1.3h-1.3zm-5 15h1.3v1.3h-1.3zm-36 15h1.3v1.3h-1.3zm3 14h1.3v1.3h-1.3zm13 -26h1.3v1.3h-1.3zm24 8h1.3v1.3h-1.3zm-16 3h1.3v1.3h-1.3zm-10 5h1.3v1.3h-1.3zm-6 -10h1.3v1.3h-1.3zm3 3h1.3v1.3h-1.3zm19 3h1.3v1.3h-1.3zm-14 23h1.3v1.3h-1.3zm2 -32h1.3v1.3h-1.3zm19 -2h1.3v1.3h-1.3zm33 -65h1.3v1.3h-1.3zm-45 77h1.3v1.3h-1.3zm14 -7h1.3v1.3h-1.3zm-13 -17h1.3v1.3h-1.3zm5 10h1.3v1.3h-1.3zm9 -9h1.3v1.3h-1.3zm-2 -13h1.3v1.3h-1.3zm-27 17h1.3v1.3h-1.3zm36 -4h1.3v1.3h-1.3zm-6 6h1.3v1.3h-1.3zm-22 0h1.3v1.3h-1.3zm-7 19h1.3v1.3h-1.3zm25 -34h1.3v1.3h-1.3zm0 16h1.3v1.3h-1.3zm-44 38h1.3v1.3h-1.3zm32 -15h1.3v1.3h-1.3zm-11 -38h1.3v1.3h-1.3zm10 26h1.3v1.3h-1.3zm-8 -7h1.3v1.3h-1.3zm22 -18h1.3v1.3h-1.3zm10 -15h1.3v1.3h-1.3zm-21 38h1.3v1.3h-1.3zm-14 22h1.3v1.3h-1.3zm28 -32h1.3v1.3h-1.3zm-7 -3h1.3v1.3h-1.3zm14 -1h1.3v1.3h-1.3zm-35 9h1.3v1.3h-1.3zm25 -21h1.3v1.3h-1.3zm-16 8h1.3v1.3h-1.3zm4 -1h1.3v1.3h-1.3zm25 -21h1.3v1.3h-1.3zm-28 50h1.3v1.3h-1.3zm6 -6h1.3v1.3h-1.3zm-20 9h1.3v1.3h-1.3zm30 -4h1.3v1.3h-1.3zm-19 -6h1.3v1.3h-1.3zm-9 2h1.3v1.3h-1.3zm41 -39h1.3v1.3h-1.3zm-37 35h1.3v1.3h-1.3zm16 8h1.3v1.3h-1.3zm-13 -5h1.3v1.3h-1.3zm26 -21h1.3v1.3h-1.3zm-3 2h1.3v1.3h-1.3zm22 -32h1.3v1.3h-1.3zm3 -16h1.3v1.3h-1.3zm-35 17h1.3v1.3h-1.3zm22 -5h1.3v1.3h-1.3zm-22 23h1.3v1.3h-1.3zm19 1h1.3v1.3h-1.3zm-14 -7h1.3v1.3h-1.3zm-9 19h1.3v1.3h-1.3zm15 11h1.3v1.3h-1.3zm-1 -5h1.3v1.3h-1.3zm-15 5h1.3v1.3h-1.3zm6 2h1.3v1.3h-1.3zm-14 3h1.3v1.3h-1.3zm-9 14h1.3v1.3h-1.3zm27 -32h1.3v1.3h-1.3zm-24 25h1.3v1.3h-1.3zm46 -32h1.3v1.3h-1.3zm-56 12h1.3v1.3h-1.3zm38 -36h1.3v1.3h-1.3zm8 12h1.3v1.3h-1.3zm-19 45h1.3v1.3h-1.3zm-2 -20h1.3v1.3h-1.3zm4 -4h1.3v1.3h-1.3zm7 -10h1.3v1.3h-1.3zm1 -14h1.3v1.3h-1.3zm20 9h1.3v1.3h-1.3zm0 3h1.3v1.3h-1.3zm-37 36h1.3v1.3h-1.3zm-2 -17h1.3v1.3h-1.3zm16 -2h1.3v1.3h-1.3zm-26 40h1.3v1.3h-1.3zm3 -20h1.3v1.3h-1.3zm-3 2h1.3v1.3h-1.3zm20 -38h1.3v1.3h-1.3zm2 -6h1.3v1.3h-1.3zm-4 26h1.3v1.3h-1.3zm35 -17h1.3v1.3h-1.3zm-31 19h1.3v1.3h-1.3zm1 -1h1.3v1.3h-1.3zm-25 7h1.3v1.3h-1.3zm9 13h1.3v1.3h-1.3zm18 -41h1.3v1.3h-1.3zm9 7h1.3v1.3h-1.3zm-9 26h1.3v1.3h-1.3zm-11 -13h1.3v1.3h-1.3zm-1 -17h1.3v1.3h-1.3zm8 0h1.3v1.3h-1.3zm-10 -3h1.3v1.3h-1.3zm13 11h1.3v1.3h-1.3zm-26 35h1.3v1.3h-1.3zm29 -40h1.3v1.3h-1.3zm-15 28h1.3v1.3h-1.3zm25 -35h1.3v1.3h-1.3zm-8 21h1.3v1.3h-1.3zm-26 13h1.3v1.3h-1.3zm32 -41h1.3v1.3h-1.3zm22 20h1.3v1.3h-1.3zm-16 -2h1.3v1.3h-1.3zm-8 -11h1.3v1.3h-1.3zm13 -23h1.3v1.3h-1.3zm-30 44h1.3v1.3h-1.3zm1 -17h1.3v1.3h-1.3zm4 25h1.3v1.3h-1.3zm31 -24h1.3v1.3h-1.3zm-37 41h1.3v1.3h-1.3zm-4 -16h1.3v1.3h-1.3zm-1 6h1.3v1.3h-1.3zm24 -21h1.3v1.3h-1.3zm10 -28h1.3v1.3h-1.3zm-21 44h1.3v1.3h-1.3zm-24 4h1.3v1.3h-1.3zm-4 6h1.3v1.3h-1.3zm21 -3h1.3v1.3h-1.3zm3 -17h1.3v1.3h-1.3zm18 -25h1.3v1.3h-1.3zm-27 12h1.3v1.3h-1.3zm7 2h1.3v1.3h-1.3zm20 9h1.3v1.3h-1.3zm-15 -12h1.3v1.3h-1.3zm-3 11h1.3v1.3h-1.3zm-11 -2h1.3v1.3h-1.3zm12 26h1.3v1.3h-1.3zm1 -34h1.3v1.3h-1.3zm17 -11h1.3v1.3h-1.3zm-21 2h1.3v1.3h-1.3zm17 7h1.3v1.3h-1.3zm20 -22h1.3v1.3h-1.3zm-11 13h1.3v1.3h-1.3zm-49 36h1.3v1.3h-1.3zm6 8h1.3v1.3h-1.3zm31 -3h1.3v1.3h-1.3zm4 -56h1.3v1.3h-1.3zm10 -16h1.3v1.3h-1.3zm-11 33h1.3v1.3h-1.3zm7 -7h1.3v1.3h-1.3zm-16 -7h1.3v1.3h-1.3zm-4 65h1.3v1.3h-1.3zm10 -48h1.3v1.3h-1.3zm-34 48h1.3v1.3h-1.3zm37 -34h1.3v1.3h-1.3zm-39 2h1.3v1.3h-1.3zm60 -21h1.3v1.3h-1.3zm-30 18h1.3v1.3h-1.3zm-12 31h1.3v1.3h-1.3zm10 -21h1.3v1.3h-1.3zm27 -21h1.3v1.3h-1.3zm-16 -13h1.3v1.3h-1.3zm-21 37h1.3v1.3h-1.3zm4 -12h1.3v1.3h-1.3zm6 6h1.3v1.3h-1.3zm1 -25h1.3v1.3h-1.3zm22 -13h1.3v1.3h-1.3zm-32 36h1.3v1.3h-1.3zm-19 3h1.3v1.3h-1.3zm31 -3h1.3v1.3h-1.3zm-15 8h1.3v1.3h-1.3zm5 -4h1.3v1.3h-1.3zm1 -20h1.3v1.3h-1.3zm17 2h1.3v1.3h-1.3zm-21 -5h1.3v1.3h-1.3zm0 13h1.3v1.3h-1.3zm19 -9h1.3v1.3h-1.3zm-5 18h1.3v1.3h-1.3zm0 -20h1.3v1.3h-1.3zm-14 44h1.3v1.3h-1.3zm18 -2h1.3v1.3h-1.3zm-2 -42h1.3v1.3h-1.3zm20 -24h1.3v1.3h-1.3zm-29 34h1.3v1.3h-1.3zm20 -24h1.3v1.3h-1.3zm-17 37h1.3v1.3h-1.3zm-1 -48h1.3v1.3h-1.3zm25 -13h1.3v1.3h-1.3zm-28 55h1.3v1.3h-1.3zm-4 5h1.3v1.3h-1.3zm-9 10h1.3v1.3h-1.3zm-1 -3h1.3v1.3h-1.3zm30 -7h1.3v1.3h-1.3zm-13 -21h1.3v1.3h-1.3zm7 2h1.3v1.3h-1.3zm-6 23h1.3v1.3h-1.3zm-1 -4h1.3v1.3h-1.3zm-4 -7h1.3v1.3h-1.3zm-15 4h1.3v1.3h-1.3zm24 -31h1.3v1.3h-1.3zm19 -14h1.3v1.3h-1.3zm-45 71h1.3v1.3h-1.3zm27 -50h1.3v1.3h-1.3zm7 13h1.3v1.3h-1.3zm-3 -4h1.3v1.3h-1.3zm-18 45h1.3v1.3h-1.3zm24 -47h1.3v1.3h-1.3zm-20 -27h1.3v1.3h-1.3zm17 17h1.3v1.3h-1.3zm8 -33h1.3v1.3h-1.3zm-36 53h1.3v1.3h-1.3zm22 -23h1.3v1.3h-1.3zm-2 21h1.3v1.3h-1.3zm1 11h1.3v1.3h-1.3zm-3 1h1.3v1.3h-1.3zm0 -6h1.3v1.3h-1.3zm2 -5h1.3v1.3h-1.3zm-28 14h1.3v1.3h-1.3zm14 -21h1.3v1.3h-1.3zm-11 34h1.3v1.3h-1.3zm41 -37h1.3v1.3h-1.3zm-42 33h1.3v1.3h-1.3zm42 -56h1.3v1.3h-1.3zm-30 49h1.3v1.3h-1.3zm16 -17h1.3v1.3h-1.3zm-1 -3h1.3v1.3h-1.3zm-13 30h1.3v1.3h-1.3zm15 -41h1.3v1.3h-1.3zm-6 18h1.3v1.3h-1.3zm-10 -11h1.3v1.3h-1.3zm8 4h1.3v1.3h-1.3zm-13 7h1.3v1.3h-1.3zm31 -6h1.3v1.3h-1.3zm2 -31h1.3v1.3h-1.3zm-2 -5h1.3v1.3h-1.3zm-16 26h1.3v1.3h-1.3zm15 -6h1.3v1.3h-1.3zm-27 42h1.3v1.3h-1.3zm6 -42h1.3v1.3h-1.3zm14 11h1.3v1.3h-1.3zm-15 3h1.3v1.3h-1.3zm22 -5h1.3v1.3h-1.3zm9 -15h1.3v1.3h-1.3zm-29 44h1.3v1.3h-1.3zm3 -26h1.3v1.3h-1.3zm-6 -5h1.3v1.3h-1.3zm-8 3h1.3v1.3h-1.3zm9 17h1.3v1.3h-1.3zm-18 35h1.3v1.3h-1.3zm10 -36h1.3v1.3h-1.3zm10 30h1.3v1.3h-1.3zm-9 -53h1.3v1.3h-1.3zm28 -6h1.3v1.3h-1.3zm-11 34h1.3v1.3h-1.3zm-15 -16h1.3v1.3h-1.3zm-9 30h1.3v1.3h-1.3zm35 -50h1.3v1.3h-1.3zm-4 67h1.3v1.3h-1.3zm-4 -69h1.3v1.3h-1.3zm1 11h1.3v1.3h-1.3zm-24 33h1.3v1.3h-1.3zm4 13h1.3v1.3h-1.3zm7 -19h1.3v1.3h-1.3zm2 -11h1.3v1.3h-1.3zm-5 -1h1.3v1.3h-1.3zm-18 -10h1.3v1.3h-1.3zm59 -44h1.3v1.3h-1.3zm-74 76h1.3v1.3h-1.3zm24 12h1.3v1.3h-1.3zm43 -88h1.3v1.3h-1.3zm-16 79h1.3v1.3h-1.3zm12 -38h1.3v1.3h-1.3zm-11 29h1.3v1.3h-1.3zm-20 -19h1.3v1.3h-1.3zm33 -18h1.3v1.3h-1.3zm-45 46h1.3v1.3h-1.3zm11 -17h1.3v1.3h-1.3zm-22 3h1.3v1.3h-1.3zm19 8h1.3v1.3h-1.3zm9 1h1.3v1.3h-1.3zm18 -43h1.3v1.3h-1.3zm-27 33h1.3v1.3h-1.3zm10 -14h1.3v1.3h-1.3zm1 -12h1.3v1.3h-1.3zm-24 59h1.3v1.3h-1.3zm32 -45h1.3v1.3h-1.3zm-29 16h1.3v1.3h-1.3zm1 12h1.3v1.3h-1.3zm1 -35h1.3v1.3h-1.3zm22 -9h1.3v1.3h-1.3zm13 -14h1.3v1.3h-1.3zm-23 58h1.3v1.3h-1.3zm11 4h1.3v1.3h-1.3zm11 -50h1.3v1.3h-1.3zm0 18h1.3v1.3h-1.3zm-18 9h1.3v1.3h-1.3zm8 -11h1.3v1.3h-1.3zm-26 3h1.3v1.3h-1.3zm71 -22h1.3v1.3h-1.3zm-23 -23h1.3v1.3h-1.3zm-4 -2h1.3v1.3h-1.3zm-20 63h1.3v1.3h-1.3zm13 -66h1.3v1.3h-1.3zm4 34h1.3v1.3h-1.3zm-26 -13h1.3v1.3h-1.3zm74 -28h1.3v1.3h-1.3zm-69 60h1.3v1.3h-1.3zm2 -12h1.3v1.3h-1.3zm-37 37h1.3v1.3h-1.3zm-2 16h1.3v1.3h-1.3zm36 -46h1.3v1.3h-1.3zm-30 46h1.3v1.3h-1.3zm48 -76h1.3v1.3h-1.3zm-32 63h1.3v1.3h-1.3zm3 0h1.3v1.3h-1.3zm6 -3h1.3v1.3h-1.3zm-26 -18h1.3v1.3h-1.3zm18 34h1.3v1.3h-1.3zm0 -21h1.3v1.3h-1.3zm-4 10h1.3v1.3h-1.3zm10 -12h1.3v1.3h-1.3zm-6 4h1.3v1.3h-1.3zm-4 1h1.3v1.3h-1.3zm11 11h1.3v1.3h-1.3zm58 -35h1.3v1.3h-1.3zm-67 9h1.3v1.3h-1.3zm9 -9h1.3v1.3h-1.3zm22 1h1.3v1.3h-1.3zm-34 34h1.3v1.3h-1.3zm37 -38h1.3v1.3h-1.3zm-9 -28h1.3v1.3h-1.3zm23 23h1.3v1.3h-1.3zm-61 41h1.3v1.3h-1.3zm27 -20h1.3v1.3h-1.3zm28 -15h1.3v1.3h-1.3zm-43 13h1.3v1.3h-1.3zm-6 6h1.3v1.3h-1.3zm6 -1h1.3v1.3h-1.3zm55 -16h1.3v1.3h-1.3zm-21 6h1.3v1.3h-1.3zm-33 -55h1.3v1.3h-1.3zm-1 30h1.3v1.3h-1.3zm-18 61h1.3v1.3h-1.3zm23 -3h1.3v1.3h-1.3zm-38 3h1.3v1.3h-1.3zm39 -7h1.3v1.3h-1.3zm4 -19h1.3v1.3h-1.3zm-32 26h1.3v1.3h-1.3zm73 -102h1.3v1.3h-1.3zm-28 57h1.3v1.3h-1.3zm-23 32h1.3v1.3h-1.3zm-1 -12h1.3v1.3h-1.3zm17 -23h1.3v1.3h-1.3zm-16 47h1.3v1.3h-1.3zm30 -55h1.3v1.3h-1.3zm-25 20h1.3v1.3h-1.3zm14 -4h1.3v1.3h-1.3zm-12 6h1.3v1.3h-1.3zm-26 31h1.3v1.3h-1.3zm48 -49h1.3v1.3h-1.3zm-17 0h1.3v1.3h-1.3zm-4 37h1.3v1.3h-1.3zm-16 15h1.3v1.3h-1.3zm27 -61h1.3v1.3h-1.3zm25 11h1.3v1.3h-1.3zm-9 -24h1.3v1.3h-1.3zm-50 14h1.3v1.3h-1.3zm28 14h1.3v1.3h-1.3zm24 -6h1.3v1.3h-1.3zm-4 13h1.3v1.3h-1.3zm-51 39h1.3v1.3h-1.3zm27 -20h1.3v1.3h-1.3zm0 -49h1.3v1.3h-1.3zm-13 46h1.3v1.3h-1.3zm73 -90h1.3v1.3h-1.3zm-52 61h1.3v1.3h-1.3zm24 -26h1.3v1.3h-1.3zm-38 28h1.3v1.3h-1.3zm-7 28h1.3v1.3h-1.3zm22 -10h1.3v1.3h-1.3zm-32 8h1.3v1.3h-1.3zm23 -18h1.3v1.3h-1.3zm-4 34h1.3v1.3h-1.3zm-12 8h1.3v1.3h-1.3zm24 -30h1.3v1.3h-1.3zm19 -15h1.3v1.3h-1.3zm-51 45h1.3v1.3h-1.3zm29 -60h1.3v1.3h-1.3zm18 -15h1.3v1.3h-1.3zm-36 60h1.3v1.3h-1.3zm43 -24h1.3v1.3h-1.3zm-61 39h1.3v1.3h-1.3zm67 -64h1.3v1.3h-1.3zm-32 58h1.3v1.3h-1.3zm-24 -17h1.3v1.3h-1.3zm19 -3h1.3v1.3h-1.3zm-12 -17h1.3v1.3h-1.3zm7 24h1.3v1.3h-1.3zm35 -44h1.3v1.3h-1.3zm-11 9h1.3v1.3h-1.3zm9 -26h1.3v1.3h-1.3zm6 28h1.3v1.3h-1.3zm3 -17h1.3v1.3h-1.3zm-11 11h1.3v1.3h-1.3zm2 -9h1.3v1.3h-1.3zm-7 -2h1.3v1.3h-1.3zm6 2h1.3v1.3h-1.3zm5 10h1.3v1.3h-1.3zm-1 -20h1.3v1.3h-1.3zm1 14h1.3v1.3h-1.3zm-13 -5h1.3v1.3h-1.3zm10 5h1.3v1.3h-1.3zm-3 -1h1.3v1.3h-1.3zm9 4h1.3v1.3h-1.3zm-3 -26h1.3v1.3h-1.3zm-4 31h1.3v1.3h-1.3zm0 -25h1.3v1.3h-1.3zm13 -14h1.3v1.3h-1.3zm-3 39h1.3v1.3h-1.3zm-7 -22h1.3v1.3h-1.3zm5 9h1.3v1.3h-1.3zm-3 -1h1.3v1.3h-1.3zm3 1h1.3v1.3h-1.3zm-2 -12h1.3v1.3h-1.3zm-7 7h1.3v1.3h-1.3zm2 1h1.3v1.3h-1.3zm-3 18h1.3v1.3h-1.3zm13 -20h1.3v1.3h-1.3zm-6 9h1.3v1.3h-1.3zm-8 -1h1.3v1.3h-1.3zm1 -2h1.3v1.3h-1.3zm-4 5h1.3v1.3h-1.3zm9 -19h1.3v1.3h-1.3zm-8 11h1.3v1.3h-1.3zm2 4h1.3v1.3h-1.3zm12 15h1.3v1.3h-1.3zm-2 9h1.3v1.3h-1.3zm-7 -47h1.3v1.3h-1.3zm9 46h1.3v1.3h-1.3zm-12 -14h1.3v1.3h-1.3zm-5 -14h1.3v1.3h-1.3zm7 -8h1.3v1.3h-1.3zm3 8h1.3v1.3h-1.3zm-3 -3h1.3v1.3h-1.3zm12 -11h1.3v1.3h-1.3zm-22 -41h1.3v1.3h-1.3zm19 26h1.3v1.3h-1.3zm-25 -25h1.3v1.3h-1.3zm-5 -22h1.3v1.3h-1.3zm15 20h1.3v1.3h-1.3zm5 -13h1.3v1.3h-1.3zm-11 11h1.3v1.3h-1.3zm-9 -9h1.3v1.3h-1.3zm8 5h1.3v1.3h-1.3zm-1 -1h1.3v1.3h-1.3zm-5 -10h1.3v1.3h-1.3zm25 29h1.3v1.3h-1.3zm-15 -13h1.3v1.3h-1.3zm-8 -5h1.3v1.3h-1.3zm18 13h1.3v1.3h-1.3zm-4 -9h1.3v1.3h-1.3zm-24 30h1.3v1.3h-1.3zm23 -29h1.3v1.3h-1.3zm-10 -3h1.3v1.3h-1.3zm-5 4h1.3v1.3h-1.3zm16 6h1.3v1.3h-1.3zm-22 -11h1.3v1.3h-1.3zm11 5h1.3v1.3h-1.3zm-9 12h1.3v1.3h-1.3zm-4 -7h1.3v1.3h-1.3zm12 19h1.3v1.3h-1.3zm-7 -32h1.3v1.3h-1.3zm29 30h1.3v1.3h-1.3zm-25 -21h1.3v1.3h-1.3zm1 -23h1.3v1.3h-1.3zm1 15h1.3v1.3h-1.3zm0 29h1.3v1.3h-1.3zm14 -19h1.3v1.3h-1.3zm-8 -3h1.3v1.3h-1.3zm-1 3h1.3v1.3h-1.3zm-4 29h1.3v1.3h-1.3zm4 -34h1.3v1.3h-1.3zm-1 1h1.3v1.3h-1.3zm6 3h1.3v1.3h-1.3zm5 -3h1.3v1.3h-1.3zm-11 8h1.3v1.3h-1.3zm11 0h1.3v1.3h-1.3zm-13 6h1.3v1.3h-1.3zm-5 -12h1.3v1.3h-1.3zm15 -3h1.3v1.3h-1.3zm-12 11h1.3v1.3h-1.3zm6 -5h1.3v1.3h-1.3zm1 -20h1.3v1.3h-1.3zm-5 18h1.3v1.3h-1.3zm3 -10h1.3v1.3h-1.3zm-5 24h1.3v1.3h-1.3zm14 -5h1.3v1.3h-1.3zm-21 -6h1.3v1.3h-1.3zm19 3h1.3v1.3h-1.3zm14 3h1.3v1.3h-1.3zm-32 -25h1.3v1.3h-1.3zm4 24h1.3v1.3h-1.3zm-4 -20h1.3v1.3h-1.3zm18 24h1.3v1.3h-1.3zm-24 1h1.3v1.3h-1.3zm4 -17h1.3v1.3h-1.3zm23 5h1.3v1.3h-1.3zm-13 13h1.3v1.3h-1.3zm-5 -8h1.3v1.3h-1.3zm-4 -15h1.3v1.3h-1.3zm-15 1h1.3v1.3h-1.3zm35 -14h1.3v1.3h-1.3zm-33 43h1.3v1.3h-1.3zm1 -27h1.3v1.3h-1.3zm3 20h1.3v1.3h-1.3zm33 -23h1.3v1.3h-1.3zm-18 7h1.3v1.3h-1.3zm3 -5h1.3v1.3h-1.3zm47 106h1.3v1.3h-1.3zm-19 -100h1.3v1.3h-1.3z"/>
<path fill="#30b060" d="M0 0m119 177h1.3v1.3h-1.3zm-11 12h1.3v1.3h-1.3zm10 -10h1.3v1.3h-1.3zm-3 6h1.3v1.3h-1.3zm-5 0h1.3v1.3h-1.3zm16 -3h1.3v1.3h-1.3zm-20 8h1.3v1.3h-1.3zm15 -11h1.3v1.3h-1.3zm-3 -1h1.3v1.3h-1.3zm-4 0h1.3v1.3h-1.3zm1 0h1.3v1.3h-1.3zm6 2h1.3v1.3h-1.3zm6 -12h1.3v1.3h-1.3zm-11 19h1.3v1.3h-1.3zm3 0h1.3v1.3h-1.3zm3 -9h1.3v1.3h-1.3zm-9 4h1.3v1.3h-1.3zm0 2h1.3v1.3h-1.3zm-5 1h1.3v1.3h-1.3zm17 -20h1.3v1.3h-1.3zm1 4h1.3v1.3h-1.3zm-5 6h1.3v1.3h-1.3zm-9 5h1.3v1.3h-1.3zm0 4h1.3v1.3h-1.3zm1 3h1.3v1.3h-1.3zm4 -12h1.3v1.3h-1.3zm7 -6h1.3v1.3h-1.3zm-7 2h1.3v1.3h-1.3zm0 9h1.3v1.3h-1.3zm10 -6h1.3v1.3h-1.3zm-20 14h1.3v1.3h-1.3zm11 -13h1.3v1.3h-1.3zm-5 12h1.3v1.3h-1.3zm4 4h1.3v1.3h-1.3zm1 -12h1.3v1.3h-1.3zm4 -6h1.3v1.3h-1.3zm-12 17h1.3v1.3h-1.3zm5 -12h1.3v1.3h-1.3zm-4 4h1.3v1.3h-1.3zm7 -4h1.3v1.3h-1.3zm-4 10h1.3v1.3h-1.3zm3 -6h1.3v1.3h-1.3zm-4 2h1.3v1.3h-1.3zm3 -8h1.3v1.3h-1.3zm-1 0h1.3v1.3h-1.3zm-10 19h1.3v1.3h-1.3zm17 -20h1.3v1.3h-1.3zm-7 9h1.3v1.3h-1.3z"/>
<path fill="#d8e040" d="M0 0m114 187h1.3v1.3h-1.3zm0 -11h1.3v1.3h-1.3zm9 0h1.3v1.3h-1.3zm-6 8h1.3v1.3h-1.3zm-2 0h1.3v1.3h-1.3z"/>
<rect x="67.6" y="18" width="154.4" height="196" fill="none" stroke="#000" stroke-width="1.4"/>
<line x1="67.6" y1="114" x2="222" y2="114" stroke="#000" stroke-width="1.9"/>
<line x1="144.2" y1="18" x2="144.2" y2="214" stroke="#000" stroke-width="1.9"/>
<path d="M63.1 214H67.6M67.6 214V218.5M65.1 198.86H67.6M79.16 214V216.5M65.1 190H67.6M85.92 214V216.5M65.1 183.72H67.6M90.72 214V216.5M65.1 178.84H67.6M94.44 214V216.5M65.1 174.86H67.6M97.48 214V216.5M65.1 171.49H67.6M100.05 214V216.5M65.1 168.57H67.6M102.28 214V216.5M65.1 166H67.6M104.24 214V216.5M63.1 163.7H67.6M106 214V218.5M65.1 148.74H67.6M117.5 214V216.5M65.1 139.99H67.6M124.23 214V216.5M65.1 133.78H67.6M129 214V216.5M65.1 128.96H67.6M132.7 214V216.5M65.1 125.03H67.6M135.73 214V216.5M65.1 121.7H67.6M138.28 214V216.5M65.1 118.82H67.6M140.5 214V216.5M65.1 116.27H67.6M142.45 214V216.5M63.1 114H67.6M144.2 214V218.5M65.1 99.7H67.6M155.79 214V216.5M65.1 91.34H67.6M162.57 214V216.5M65.1 85.4H67.6M167.38 214V216.5M65.1 80.8H67.6M171.11 214V216.5M65.1 77.04H67.6M174.16 214V216.5M65.1 73.86H67.6M176.74 214V216.5M65.1 71.1H67.6M178.97 214V216.5M65.1 68.67H67.6M180.94 214V216.5M63.1 66.5H67.6M182.7 214V218.5M65.1 51.9H67.6M194.53 214V216.5M65.1 43.36H67.6M201.45 214V216.5M65.1 37.3H67.6M206.36 214V216.5M65.1 32.6H67.6M210.17 214V216.5M65.1 28.76H67.6M213.28 214V216.5M65.1 25.51H67.6M215.91 214V216.5M65.1 22.7H67.6M218.19 214V216.5M65.1 20.22H67.6M220.2 214V216.5M63.1 18H67.6M222 214V218.5" stroke="#000" stroke-width="1.1" fill="none"/>
<text x="50.3" y="213.9" font-size="7.3" stroke="#000" stroke-width="0.28">10</text>
<text x="58" y="207.6" font-size="7.3" stroke="#000" stroke-width="0.28">0</text>
<text x="70.8" y="236.2" font-size="7.3" stroke="#000" stroke-width="0.28">10</text>
<text x="78.1" y="230.2" font-size="7.3" stroke="#000" stroke-width="0.28">0</text>
<text x="50.3" y="169.2" font-size="7.3" stroke="#000" stroke-width="0.28">10</text>
<text x="58" y="162.9" font-size="7.3" stroke="#000" stroke-width="0.28">1</text>
<text x="103.5" y="236.2" font-size="7.3" stroke="#000" stroke-width="0.28">10</text>
<text x="110.8" y="230.2" font-size="7.3" stroke="#000" stroke-width="0.28">1</text>
<text x="50.3" y="119.5" font-size="7.3" stroke="#000" stroke-width="0.28">10</text>
<text x="58" y="113.2" font-size="7.3" stroke="#000" stroke-width="0.28">2</text>
<text x="141.7" y="236.2" font-size="7.3" stroke="#000" stroke-width="0.28">10</text>
<text x="149" y="230.2" font-size="7.3" stroke="#000" stroke-width="0.28">2</text>
<text x="50.3" y="72" font-size="7.3" stroke="#000" stroke-width="0.28">10</text>
<text x="58" y="65.7" font-size="7.3" stroke="#000" stroke-width="0.28">3</text>
<text x="180.2" y="236.2" font-size="7.3" stroke="#000" stroke-width="0.28">10</text>
<text x="187.5" y="230.2" font-size="7.3" stroke="#000" stroke-width="0.28">3</text>
<text x="50.3" y="31.5" font-size="7.3" stroke="#000" stroke-width="0.28">10</text>
<text x="58" y="25.2" font-size="7.3" stroke="#000" stroke-width="0.28">4</text>
<text x="211.4" y="236.2" font-size="7.3" stroke="#000" stroke-width="0.28">10</text>
<text x="218.7" y="230.2" font-size="7.3" stroke="#000" stroke-width="0.28">4</text>
<text transform="translate(70.6 34) scale(0.86 1)" font-size="9" stroke="#000" stroke-width="0.2" text-anchor="start">Q1</text>
<text transform="translate(70.6 46) scale(0.86 1)" font-size="9" stroke="#000" stroke-width="0.2" text-anchor="start">6.15</text>
<text transform="translate(208.7 34) scale(0.86 1)" font-size="9" stroke="#000" stroke-width="0.2" text-anchor="end">Q2</text>
<text transform="translate(208.7 46) scale(0.86 1)" font-size="9" stroke="#000" stroke-width="0.2" text-anchor="end">0.15</text>
<text transform="translate(70.6 191.5) scale(0.86 1)" font-size="9" stroke="#000" stroke-width="0.2" text-anchor="start">Q4</text>
<text transform="translate(70.6 203.5) scale(0.86 1)" font-size="9" stroke="#000" stroke-width="0.2" text-anchor="start">91.2</text>
<text transform="translate(208.7 191.5) scale(0.86 1)" font-size="9" stroke="#000" stroke-width="0.2" text-anchor="end">Q3</text>
<text transform="translate(208.7 203.5) scale(0.86 1)" font-size="9" stroke="#000" stroke-width="0.2" text-anchor="end">2.52</text>
<text transform="translate(38.5 116.3) rotate(-90)" font-size="11" font-weight="bold" fill="#cc1020" text-anchor="middle">PI</text>
<text x="142.1" y="259.7" font-size="13" font-weight="bold" fill="#1ea84e" text-anchor="middle">Annexin FITC</text>
<path fill="#98a0e6" d="M0 0m364 162h1.3v1.3h-1.3zm16 3h1.3v1.3h-1.3zm1 -6h1.3v1.3h-1.3zm10 0h1.3v1.3h-1.3zm-15 1h1.3v1.3h-1.3zm-34 38h1.3v1.3h-1.3zm29 -44h1.3v1.3h-1.3zm9 26h1.3v1.3h-1.3zm-21 -5h1.3v1.3h-1.3zm-10 6h1.3v1.3h-1.3zm24 -15h1.3v1.3h-1.3zm21 -10h1.3v1.3h-1.3zm-25 0h1.3v1.3h-1.3zm6 17h1.3v1.3h-1.3zm-5 5h1.3v1.3h-1.3zm0 23h1.3v1.3h-1.3zm-57 -6h1.3v1.3h-1.3zm64 -21h1.3v1.3h-1.3zm-36 18h1.3v1.3h-1.3zm47 -45h1.3v1.3h-1.3zm-42 63h1.3v1.3h-1.3zm14 -54h1.3v1.3h-1.3zm10 -4h1.3v1.3h-1.3zm3 40h1.3v1.3h-1.3zm-17 -6h1.3v1.3h-1.3zm19 -6h1.3v1.3h-1.3zm-15 -23h1.3v1.3h-1.3zm54 2h1.3v1.3h-1.3zm-48 28h1.3v1.3h-1.3zm0 -21h1.3v1.3h-1.3zm25 -15h1.3v1.3h-1.3zm-19 1h1.3v1.3h-1.3zm-11 18h1.3v1.3h-1.3zm26 -25h1.3v1.3h-1.3zm-37 -1h1.3v1.3h-1.3zm16 37h1.3v1.3h-1.3zm10 -37h1.3v1.3h-1.3zm5 31h1.3v1.3h-1.3zm-1 -42h1.3v1.3h-1.3zm-38 32h1.3v1.3h-1.3zm81 21h1.3v1.3h-1.3zm-3 -25h1.3v1.3h-1.3zm-11 -2h1.3v1.3h-1.3zm3 7h1.3v1.3h-1.3zm6 2h1.3v1.3h-1.3zm-23 1h1.3v1.3h-1.3zm-19 -74h1.3v1.3h-1.3z"/>
<path fill="#14148a" d="M0 0m381 177h1.3v1.3h-1.3zm-11 -11h1.3v1.3h-1.3zm8 -4h1.3v1.3h-1.3zm10 3h1.3v1.3h-1.3zm-4 3h1.3v1.3h-1.3zm-9 12h1.3v1.3h-1.3zm3 -22h1.3v1.3h-1.3zm-18 17h1.3v1.3h-1.3zm20 -17h1.3v1.3h-1.3zm-6 5h1.3v1.3h-1.3zm8 -7h1.3v1.3h-1.3zm-3 10h1.3v1.3h-1.3zm-1 -2h1.3v1.3h-1.3zm-7 1h1.3v1.3h-1.3zm4 -3h1.3v1.3h-1.3zm15 -9h1.3v1.3h-1.3zm-30 16h1.3v1.3h-1.3zm21 -17h1.3v1.3h-1.3zm4 8h1.3v1.3h-1.3zm-18 20h1.3v1.3h-1.3zm17 -24h1.3v1.3h-1.3zm-7 -3h1.3v1.3h-1.3zm13 -8h1.3v1.3h-1.3zm-20 21h1.3v1.3h-1.3zm-7 1h1.3v1.3h-1.3zm12 2h1.3v1.3h-1.3zm-6 8h1.3v1.3h-1.3zm8 -10h1.3v1.3h-1.3zm2 21h1.3v1.3h-1.3zm-11 -15h1.3v1.3h-1.3zm14 -27h1.3v1.3h-1.3zm-5 16h1.3v1.3h-1.3zm-12 6h1.3v1.3h-1.3zm24 -3h1.3v1.3h-1.3zm-26 4h1.3v1.3h-1.3zm1 0h1.3v1.3h-1.3zm24 -13h1.3v1.3h-1.3zm-9 11h1.3v1.3h-1.3zm-9 6h1.3v1.3h-1.3zm-6 6h1.3v1.3h-1.3zm14 -23h1.3v1.3h-1.3zm15 -11h1.3v1.3h-1.3zm-2 7h1.3v1.3h-1.3zm-24 23h1.3v1.3h-1.3zm12 -19h1.3v1.3h-1.3zm-14 15h1.3v1.3h-1.3zm0 15h1.3v1.3h-1.3zm11 -32h1.3v1.3h-1.3zm-6 10h1.3v1.3h-1.3zm24 -6h1.3v1.3h-1.3zm-13 2h1.3v1.3h-1.3zm-6 6h1.3v1.3h-1.3zm2 4h1.3v1.3h-1.3zm-1 5h1.3v1.3h-1.3zm-7 -7h1.3v1.3h-1.3zm9 9h1.3v1.3h-1.3zm-4 -22h1.3v1.3h-1.3zm11 11h1.3v1.3h-1.3zm1 -21h1.3v1.3h-1.3zm-15 31h1.3v1.3h-1.3zm1 -1h1.3v1.3h-1.3zm1 -5h1.3v1.3h-1.3zm-9 9h1.3v1.3h-1.3zm9 -24h1.3v1.3h-1.3zm-5 18h1.3v1.3h-1.3zm18 -22h1.3v1.3h-1.3zm-2 16h1.3v1.3h-1.3zm-8 13h1.3v1.3h-1.3zm-11 -26h1.3v1.3h-1.3zm17 7h1.3v1.3h-1.3zm-8 16h1.3v1.3h-1.3zm5 -5h1.3v1.3h-1.3zm-6 -4h1.3v1.3h-1.3zm7 -7h1.3v1.3h-1.3zm-7 0h1.3v1.3h-1.3zm6 3h1.3v1.3h-1.3zm-5 14h1.3v1.3h-1.3zm21 -10h1.3v1.3h-1.3zm-26 -14h1.3v1.3h-1.3zm-8 29h1.3v1.3h-1.3zm12 -20h1.3v1.3h-1.3zm-9 12h1.3v1.3h-1.3zm13 -24h1.3v1.3h-1.3zm-11 23h1.3v1.3h-1.3zm9 -17h1.3v1.3h-1.3zm-13 27h1.3v1.3h-1.3zm12 -23h1.3v1.3h-1.3zm-3 -11h1.3v1.3h-1.3zm-9 16h1.3v1.3h-1.3zm16 -6h1.3v1.3h-1.3zm11 -10h1.3v1.3h-1.3zm-16 30h1.3v1.3h-1.3zm4 -20h1.3v1.3h-1.3zm-1 15h1.3v1.3h-1.3zm14 -10h1.3v1.3h-1.3zm-9 -13h1.3v1.3h-1.3zm1 15h1.3v1.3h-1.3zm-23 14h1.3v1.3h-1.3zm20 -8h1.3v1.3h-1.3zm4 -11h1.3v1.3h-1.3zm12 1h1.3v1.3h-1.3zm-29 14h1.3v1.3h-1.3zm25 -31h1.3v1.3h-1.3zm-15 28h1.3v1.3h-1.3zm-2 -17h1.3v1.3h-1.3zm-6 29h1.3v1.3h-1.3zm7 -11h1.3v1.3h-1.3zm0 -2h1.3v1.3h-1.3zm-13 -11h1.3v1.3h-1.3zm2 6h1.3v1.3h-1.3zm-2 10h1.3v1.3h-1.3zm23 -11h1.3v1.3h-1.3zm-17 11h1.3v1.3h-1.3zm-8 1h1.3v1.3h-1.3zm5 -16h1.3v1.3h-1.3zm13 -5h1.3v1.3h-1.3zm-9 5h1.3v1.3h-1.3zm-1 14h1.3v1.3h-1.3zm2 -5h1.3v1.3h-1.3zm15 -24h1.3v1.3h-1.3zm-4 11h1.3v1.3h-1.3zm-20 6h1.3v1.3h-1.3zm6 13h1.3v1.3h-1.3zm9 -6h1.3v1.3h-1.3zm-9 6h1.3v1.3h-1.3zm-3 1h1.3v1.3h-1.3zm3 -6h1.3v1.3h-1.3zm4 0h1.3v1.3h-1.3zm4 -19h1.3v1.3h-1.3zm-2 14h1.3v1.3h-1.3zm0 7h1.3v1.3h-1.3zm8 -25h1.3v1.3h-1.3zm4 16h1.3v1.3h-1.3zm-6 -8h1.3v1.3h-1.3zm8 6h1.3v1.3h-1.3zm-29 26h1.3v1.3h-1.3zm9 -20h1.3v1.3h-1.3zm-3 14h1.3v1.3h-1.3zm10 -4h1.3v1.3h-1.3zm-2 -21h1.3v1.3h-1.3zm-3 13h1.3v1.3h-1.3zm12 -10h1.3v1.3h-1.3zm2 4h1.3v1.3h-1.3zm-10 6h1.3v1.3h-1.3zm8 0h1.3v1.3h-1.3zm-6 -12h1.3v1.3h-1.3zm1 8h1.3v1.3h-1.3zm0 -7h1.3v1.3h-1.3zm5 3h1.3v1.3h-1.3zm-23 6h1.3v1.3h-1.3zm28 -27h1.3v1.3h-1.3zm-27 34h1.3v1.3h-1.3zm17 -12h1.3v1.3h-1.3zm5 0h1.3v1.3h-1.3zm-15 8h1.3v1.3h-1.3zm16 7h1.3v1.3h-1.3zm-12 -20h1.3v1.3h-1.3zm21 10h1.3v1.3h-1.3zm-27 12h1.3v1.3h-1.3zm15 -12h1.3v1.3h-1.3zm-6 -9h1.3v1.3h-1.3zm-2 0h1.3v1.3h-1.3zm2 -7h1.3v1.3h-1.3zm1 11h1.3v1.3h-1.3zm11 -18h1.3v1.3h-1.3zm-9 23h1.3v1.3h-1.3zm-3 10h1.3v1.3h-1.3zm-10 -1h1.3v1.3h-1.3zm20 -22h1.3v1.3h-1.3zm-8 10h1.3v1.3h-1.3zm-1 -16h1.3v1.3h-1.3zm5 12h1.3v1.3h-1.3zm8 -11h1.3v1.3h-1.3zm-20 13h1.3v1.3h-1.3zm15 -9h1.3v1.3h-1.3zm7 4h1.3v1.3h-1.3zm0 3h1.3v1.3h-1.3zm-14 6h1.3v1.3h-1.3zm-9 6h1.3v1.3h-1.3zm24 -14h1.3v1.3h-1.3zm-9 -3h1.3v1.3h-1.3zm-21 24h1.3v1.3h-1.3zm-4 -1h1.3v1.3h-1.3zm24 -9h1.3v1.3h-1.3zm-2 -4h1.3v1.3h-1.3zm-14 12h1.3v1.3h-1.3zm15 -13h1.3v1.3h-1.3zm-8 -3h1.3v1.3h-1.3zm5 -5h1.3v1.3h-1.3zm-10 14h1.3v1.3h-1.3zm9 -4h1.3v1.3h-1.3zm5 -9h1.3v1.3h-1.3zm-10 16h1.3v1.3h-1.3zm10 6h1.3v1.3h-1.3zm3 -18h1.3v1.3h-1.3zm-8 -3h1.3v1.3h-1.3zm15 2h1.3v1.3h-1.3zm-8 1h1.3v1.3h-1.3zm-3 0h1.3v1.3h-1.3zm-6 8h1.3v1.3h-1.3zm1 8h1.3v1.3h-1.3zm-13 -8h1.3v1.3h-1.3zm28 -12h1.3v1.3h-1.3zm-16 -7h1.3v1.3h-1.3zm16 -1h1.3v1.3h-1.3zm-2 21h1.3v1.3h-1.3zm-22 -2h1.3v1.3h-1.3zm5 -15h1.3v1.3h-1.3zm3 4h1.3v1.3h-1.3zm-11 33h1.3v1.3h-1.3zm3 -29h1.3v1.3h-1.3zm18 7h1.3v1.3h-1.3zm-10 5h1.3v1.3h-1.3zm-5 -11h1.3v1.3h-1.3zm9 -16h1.3v1.3h-1.3zm-5 24h1.3v1.3h-1.3zm3 -1h1.3v1.3h-1.3zm-7 1h1.3v1.3h-1.3zm30 -32h1.3v1.3h-1.3zm-30 22h1.3v1.3h-1.3zm15 -9h1.3v1.3h-1.3zm-17 12h1.3v1.3h-1.3zm21 -6h1.3v1.3h-1.3zm-15 9h1.3v1.3h-1.3zm5 12h1.3v1.3h-1.3zm-16 1h1.3v1.3h-1.3zm1 -9h1.3v1.3h-1.3zm5 -6h1.3v1.3h-1.3zm5 -1h1.3v1.3h-1.3zm2 -22h1.3v1.3h-1.3zm-14 31h1.3v1.3h-1.3zm10 -10h1.3v1.3h-1.3zm-1 4h1.3v1.3h-1.3zm7 -6h1.3v1.3h-1.3zm1 -1h1.3v1.3h-1.3zm-11 8h1.3v1.3h-1.3zm6 -15h1.3v1.3h-1.3zm-10 17h1.3v1.3h-1.3zm38 -28h1.3v1.3h-1.3zm-18 16h1.3v1.3h-1.3zm-6 13h1.3v1.3h-1.3zm1 -9h1.3v1.3h-1.3zm-4 -11h1.3v1.3h-1.3zm5 17h1.3v1.3h-1.3zm2 -2h1.3v1.3h-1.3zm-6 -11h1.3v1.3h-1.3zm15 6h1.3v1.3h-1.3zm-12 1h1.3v1.3h-1.3zm-6 4h1.3v1.3h-1.3zm2 7h1.3v1.3h-1.3zm10 -12h1.3v1.3h-1.3zm-11 12h1.3v1.3h-1.3zm-16 10h1.3v1.3h-1.3zm12 -12h1.3v1.3h-1.3zm27 -10h1.3v1.3h-1.3zm-29 2h1.3v1.3h-1.3zm-4 6h1.3v1.3h-1.3zm9 -3h1.3v1.3h-1.3zm-10 2h1.3v1.3h-1.3zm13 5h1.3v1.3h-1.3zm9 -6h1.3v1.3h-1.3zm3 -10h1.3v1.3h-1.3zm-16 16h1.3v1.3h-1.3zm-4 7h1.3v1.3h-1.3zm19 -26h1.3v1.3h-1.3zm-9 6h1.3v1.3h-1.3zm14 5h1.3v1.3h-1.3zm-24 -7h1.3v1.3h-1.3zm5 14h1.3v1.3h-1.3zm6 2h1.3v1.3h-1.3zm-14 9h1.3v1.3h-1.3zm7 -25h1.3v1.3h-1.3zm-4 13h1.3v1.3h-1.3zm-2 -8h1.3v1.3h-1.3zm29 2h1.3v1.3h-1.3zm-4 -20h1.3v1.3h-1.3zm-33 32h1.3v1.3h-1.3zm-17 21h1.3v1.3h-1.3zm13 -22h1.3v1.3h-1.3zm35 -28h1.3v1.3h-1.3zm-28 28h1.3v1.3h-1.3zm29 9h1.3v1.3h-1.3zm-72 25h1.3v1.3h-1.3zm48 -14h1.3v1.3h-1.3zm0 12h1.3v1.3h-1.3zm5 -42h1.3v1.3h-1.3zm19 -1h1.3v1.3h-1.3zm-26 9h1.3v1.3h-1.3zm16 2h1.3v1.3h-1.3zm-11 -15h1.3v1.3h-1.3zm-7 24h1.3v1.3h-1.3zm10 -24h1.3v1.3h-1.3zm-7 2h1.3v1.3h-1.3zm-6 24h1.3v1.3h-1.3zm-13 -13h1.3v1.3h-1.3zm22 -5h1.3v1.3h-1.3zm-14 7h1.3v1.3h-1.3zm17 -26h1.3v1.3h-1.3zm-4 24h1.3v1.3h-1.3zm37 -39h1.3v1.3h-1.3zm-36 53h1.3v1.3h-1.3zm21 -18h1.3v1.3h-1.3zm-21 -12h1.3v1.3h-1.3zm0 -12h1.3v1.3h-1.3zm-13 35h1.3v1.3h-1.3zm12 6h1.3v1.3h-1.3zm-8 -14h1.3v1.3h-1.3zm20 4h1.3v1.3h-1.3zm-17 -18h1.3v1.3h-1.3zm0 3h1.3v1.3h-1.3zm-11 9h1.3v1.3h-1.3zm3 3h1.3v1.3h-1.3zm40 -4h1.3v1.3h-1.3zm-28 2h1.3v1.3h-1.3zm-11 23h1.3v1.3h-1.3zm11 -24h1.3v1.3h-1.3zm-37 36h1.3v1.3h-1.3zm72 -53h1.3v1.3h-1.3zm-52 23h1.3v1.3h-1.3zm-16 -8h1.3v1.3h-1.3zm36 3h1.3v1.3h-1.3zm7 17h1.3v1.3h-1.3zm-2 10h1.3v1.3h-1.3zm-3 -14h1.3v1.3h-1.3zm-8 -19h1.3v1.3h-1.3zm-30 44h1.3v1.3h-1.3zm22 -46h1.3v1.3h-1.3zm28 0h1.3v1.3h-1.3zm-26 22h1.3v1.3h-1.3zm40 -23h1.3v1.3h-1.3zm-13 7h1.3v1.3h-1.3zm17 -36h1.3v1.3h-1.3zm-36 41h1.3v1.3h-1.3zm11 4h1.3v1.3h-1.3zm-5 -17h1.3v1.3h-1.3zm-14 34h1.3v1.3h-1.3zm33 -43h1.3v1.3h-1.3zm-37 16h1.3v1.3h-1.3zm28 -21h1.3v1.3h-1.3zm-15 45h1.3v1.3h-1.3zm9 0h1.3v1.3h-1.3zm11 -34h1.3v1.3h-1.3zm-24 19h1.3v1.3h-1.3zm2 -30h1.3v1.3h-1.3zm-8 26h1.3v1.3h-1.3zm-21 27h1.3v1.3h-1.3zm15 -20h1.3v1.3h-1.3zm27 -5h1.3v1.3h-1.3zm-24 34h1.3v1.3h-1.3zm48 -23h1.3v1.3h-1.3zm-62 2h1.3v1.3h-1.3zm3 -6h1.3v1.3h-1.3zm36 -16h1.3v1.3h-1.3zm-44 33h1.3v1.3h-1.3zm37 2h1.3v1.3h-1.3zm-7 -30h1.3v1.3h-1.3zm-4 -1h1.3v1.3h-1.3zm25 7h1.3v1.3h-1.3zm-37 3h1.3v1.3h-1.3zm8 -3h1.3v1.3h-1.3zm44 -42h1.3v1.3h-1.3zm-19 47h1.3v1.3h-1.3zm-15 11h1.3v1.3h-1.3zm34 -30h1.3v1.3h-1.3zm-11 5h1.3v1.3h-1.3zm-66 41h1.3v1.3h-1.3zm59 -63h1.3v1.3h-1.3zm-41 25h1.3v1.3h-1.3zm27 -7h1.3v1.3h-1.3zm2 -21h1.3v1.3h-1.3zm-13 46h1.3v1.3h-1.3zm-17 -21h1.3v1.3h-1.3zm18 25h1.3v1.3h-1.3zm23 -46h1.3v1.3h-1.3zm-45 50h1.3v1.3h-1.3zm53 -29h1.3v1.3h-1.3zm-29 22h1.3v1.3h-1.3zm-1 -13h1.3v1.3h-1.3zm25 -20h1.3v1.3h-1.3zm-10 -4h1.3v1.3h-1.3zm8 -5h1.3v1.3h-1.3zm-36 36h1.3v1.3h-1.3zm26 -5h1.3v1.3h-1.3zm-22 23h1.3v1.3h-1.3zm44 -53h1.3v1.3h-1.3zm-32 8h1.3v1.3h-1.3zm9 22h1.3v1.3h-1.3zm2 12h1.3v1.3h-1.3zm-5 -15h1.3v1.3h-1.3zm14 -16h1.3v1.3h-1.3zm-46 42h1.3v1.3h-1.3zm18 -34h1.3v1.3h-1.3zm49 -29h1.3v1.3h-1.3zm-51 42h1.3v1.3h-1.3zm17 12h1.3v1.3h-1.3zm23 -28h1.3v1.3h-1.3zm9 -19h1.3v1.3h-1.3zm-29 24h1.3v1.3h-1.3zm-13 -9h1.3v1.3h-1.3zm-1 42h1.3v1.3h-1.3zm-1 -6h1.3v1.3h-1.3zm17 -28h1.3v1.3h-1.3zm21 -5h1.3v1.3h-1.3zm-25 21h1.3v1.3h-1.3zm6 -15h1.3v1.3h-1.3zm-9 13h1.3v1.3h-1.3zm0 -1h1.3v1.3h-1.3zm21 -10h1.3v1.3h-1.3zm-11 -9h1.3v1.3h-1.3zm19 -13h1.3v1.3h-1.3zm-51 41h1.3v1.3h-1.3zm61 -45h1.3v1.3h-1.3zm-54 49h1.3v1.3h-1.3zm32 -32h1.3v1.3h-1.3zm-36 9h1.3v1.3h-1.3zm31 -10h1.3v1.3h-1.3zm-30 36h1.3v1.3h-1.3zm1 -1h1.3v1.3h-1.3zm15 -30h1.3v1.3h-1.3zm-21 20h1.3v1.3h-1.3zm17 -27h1.3v1.3h-1.3zm9 7h1.3v1.3h-1.3zm10 11h1.3v1.3h-1.3zm18 -31h1.3v1.3h-1.3zm-58 49h1.3v1.3h-1.3zm18 -9h1.3v1.3h-1.3zm-8 -4h1.3v1.3h-1.3zm12 -6h1.3v1.3h-1.3zm18 -26h1.3v1.3h-1.3zm-2 22h1.3v1.3h-1.3zm-35 31h1.3v1.3h-1.3zm73 -52h1.3v1.3h-1.3zm-63 41h1.3v1.3h-1.3zm-15 -18h1.3v1.3h-1.3zm-1 18h1.3v1.3h-1.3zm33 -8h1.3v1.3h-1.3zm22 -37h1.3v1.3h-1.3zm-33 26h1.3v1.3h-1.3zm-26 35h1.3v1.3h-1.3zm60 -1h1.3v1.3h-1.3zm-8 -23h1.3v1.3h-1.3zm-50 -5h1.3v1.3h-1.3zm41 -34h1.3v1.3h-1.3zm-25 63h1.3v1.3h-1.3zm60 -71h1.3v1.3h-1.3zm-69 57h1.3v1.3h-1.3zm21 1h1.3v1.3h-1.3zm9 -66h1.3v1.3h-1.3zm4 38h1.3v1.3h-1.3zm-30 11h1.3v1.3h-1.3zm53 -21h1.3v1.3h-1.3zm-60 12h1.3v1.3h-1.3zm-2 39h1.3v1.3h-1.3zm21 -48h1.3v1.3h-1.3zm23 -12h1.3v1.3h-1.3zm-28 16h1.3v1.3h-1.3zm10 -4h1.3v1.3h-1.3zm20 21h1.3v1.3h-1.3zm5 -49h1.3v1.3h-1.3zm-22 59h1.3v1.3h-1.3zm-38 -3h1.3v1.3h-1.3zm64 -41h1.3v1.3h-1.3zm3 12h1.3v1.3h-1.3zm-27 -8h1.3v1.3h-1.3zm7 38h1.3v1.3h-1.3zm-3 -40h1.3v1.3h-1.3zm-14 15h1.3v1.3h-1.3zm7 12h1.3v1.3h-1.3zm15 0h1.3v1.3h-1.3zm-4 -15h1.3v1.3h-1.3zm-42 7h1.3v1.3h-1.3zm30 -3h1.3v1.3h-1.3zm37 -12h1.3v1.3h-1.3zm-25 35h1.3v1.3h-1.3zm-7 -40h1.3v1.3h-1.3zm-17 17h1.3v1.3h-1.3zm30 32h1.3v1.3h-1.3zm-18 -11h1.3v1.3h-1.3zm7 -22h1.3v1.3h-1.3zm-28 23h1.3v1.3h-1.3zm1 -37h1.3v1.3h-1.3zm15 28h1.3v1.3h-1.3zm27 1h1.3v1.3h-1.3zm-9 -11h1.3v1.3h-1.3zm-4 7h1.3v1.3h-1.3zm-7 32h1.3v1.3h-1.3zm13 -58h1.3v1.3h-1.3zm-5 34h1.3v1.3h-1.3zm4 -25h1.3v1.3h-1.3zm-3 5h1.3v1.3h-1.3zm14 9h1.3v1.3h-1.3zm-9 -7h1.3v1.3h-1.3zm8 7h1.3v1.3h-1.3zm-6 -15h1.3v1.3h-1.3zm-19 12h1.3v1.3h-1.3zm20 -4h1.3v1.3h-1.3zm-16 12h1.3v1.3h-1.3zm3 -2h1.3v1.3h-1.3zm27 -23h1.3v1.3h-1.3zm4 -31h1.3v1.3h-1.3zm-46 76h1.3v1.3h-1.3zm30 -38h1.3v1.3h-1.3zm7 -3h1.3v1.3h-1.3zm-32 7h1.3v1.3h-1.3zm-7 2h1.3v1.3h-1.3zm14 3h1.3v1.3h-1.3zm-6 -20h1.3v1.3h-1.3zm21 4h1.3v1.3h-1.3zm-31 50h1.3v1.3h-1.3zm-17 1h1.3v1.3h-1.3zm12 -20h1.3v1.3h-1.3zm32 -16h1.3v1.3h-1.3zm28 -18h1.3v1.3h-1.3zm-61 32h1.3v1.3h-1.3zm21 -16h1.3v1.3h-1.3zm40 -26h1.3v1.3h-1.3zm-7 36h1.3v1.3h-1.3zm-40 23h1.3v1.3h-1.3zm29 -17h1.3v1.3h-1.3zm3 -31h1.3v1.3h-1.3zm25 -5h1.3v1.3h-1.3zm-49 -1h1.3v1.3h-1.3zm-3 52h1.3v1.3h-1.3zm5 -22h1.3v1.3h-1.3zm24 -1h1.3v1.3h-1.3zm3 -39h1.3v1.3h-1.3zm-38 36h1.3v1.3h-1.3zm-18 3h1.3v1.3h-1.3zm49 4h1.3v1.3h-1.3zm-24 3h1.3v1.3h-1.3zm10 -13h1.3v1.3h-1.3zm-15 17h1.3v1.3h-1.3zm-10 -5h1.3v1.3h-1.3zm37 7h1.3v1.3h-1.3zm-11 -5h1.3v1.3h-1.3zm-19 -7h1.3v1.3h-1.3zm31 3h1.3v1.3h-1.3zm-1 -23h1.3v1.3h-1.3zm-44 44h1.3v1.3h-1.3zm30 -44h1.3v1.3h-1.3zm-17 26h1.3v1.3h-1.3zm-14 27h1.3v1.3h-1.3zm13 -34h1.3v1.3h-1.3zm29 7h1.3v1.3h-1.3zm-3 -19h1.3v1.3h-1.3zm3 -2h1.3v1.3h-1.3zm34 -8h1.3v1.3h-1.3zm-69 1h1.3v1.3h-1.3zm27 38h1.3v1.3h-1.3zm-21 -9h1.3v1.3h-1.3zm33 -8h1.3v1.3h-1.3zm-17 -4h1.3v1.3h-1.3zm-6 -3h1.3v1.3h-1.3zm37 -6h1.3v1.3h-1.3zm-13 37h1.3v1.3h-1.3zm-50 4h1.3v1.3h-1.3zm19 -12h1.3v1.3h-1.3zm30 -19h1.3v1.3h-1.3zm-37 1h1.3v1.3h-1.3zm18 14h1.3v1.3h-1.3zm3 -30h1.3v1.3h-1.3zm6 20h1.3v1.3h-1.3zm17 -9h1.3v1.3h-1.3zm6 -2h1.3v1.3h-1.3zm-39 44h1.3v1.3h-1.3zm-20 -20h1.3v1.3h-1.3zm-16 3h1.3v1.3h-1.3zm33 -2h1.3v1.3h-1.3zm14 -28h1.3v1.3h-1.3zm-35 47h1.3v1.3h-1.3zm7 -40h1.3v1.3h-1.3zm1 40h1.3v1.3h-1.3zm-13 -23h1.3v1.3h-1.3zm60 -43h1.3v1.3h-1.3zm17 5h1.3v1.3h-1.3zm-52 40h1.3v1.3h-1.3zm18 -39h1.3v1.3h-1.3zm-10 12h1.3v1.3h-1.3zm26 2h1.3v1.3h-1.3zm-25 21h1.3v1.3h-1.3zm9 1h1.3v1.3h-1.3zm-24 7h1.3v1.3h-1.3zm1 -20h1.3v1.3h-1.3zm37 -10h1.3v1.3h-1.3zm-29 1h1.3v1.3h-1.3zm19 3h1.3v1.3h-1.3zm-10 16h1.3v1.3h-1.3zm14 14h1.3v1.3h-1.3zm3 -17h1.3v1.3h-1.3zm-21 -15h1.3v1.3h-1.3zm-4 7h1.3v1.3h-1.3zm16 5h1.3v1.3h-1.3zm-1 -35h1.3v1.3h-1.3zm-14 46h1.3v1.3h-1.3zm21 -19h1.3v1.3h-1.3zm1 0h1.3v1.3h-1.3zm-7 -15h1.3v1.3h-1.3zm18 8h1.3v1.3h-1.3zm-17 1h1.3v1.3h-1.3zm-8 -2h1.3v1.3h-1.3zm-23 22h1.3v1.3h-1.3zm-28 3h1.3v1.3h-1.3zm60 -23h1.3v1.3h-1.3zm14 -2h1.3v1.3h-1.3zm-53 32h1.3v1.3h-1.3zm42 -12h1.3v1.3h-1.3zm-12 -39h1.3v1.3h-1.3zm-21 33h1.3v1.3h-1.3zm2 21h1.3v1.3h-1.3zm-12 -18h1.3v1.3h-1.3zm36 -17h1.3v1.3h-1.3zm-29 17h1.3v1.3h-1.3zm23 -13h1.3v1.3h-1.3zm-10 13h1.3v1.3h-1.3zm20 -16h1.3v1.3h-1.3zm-9 22h1.3v1.3h-1.3zm-30 7h1.3v1.3h-1.3zm25 -8h1.3v1.3h-1.3zm37 -29h1.3v1.3h-1.3zm-61 40h1.3v1.3h-1.3zm29 -29h1.3v1.3h-1.3zm-3 -20h1.3v1.3h-1.3zm-7 31h1.3v1.3h-1.3zm-1 -18h1.3v1.3h-1.3zm11 5h1.3v1.3h-1.3zm20 -3h1.3v1.3h-1.3zm19 -24h1.3v1.3h-1.3zm-40 35h1.3v1.3h-1.3zm-2 39h1.3v1.3h-1.3zm-46 -24h1.3v1.3h-1.3zm68 -34h1.3v1.3h-1.3zm-38 32h1.3v1.3h-1.3zm36 -23h1.3v1.3h-1.3zm-23 15h1.3v1.3h-1.3zm6 3h1.3v1.3h-1.3zm48 -31h1.3v1.3h-1.3zm-26 19h1.3v1.3h-1.3zm-41 29h1.3v1.3h-1.3zm-13 8h1.3v1.3h-1.3zm57 -51h1.3v1.3h-1.3zm-38 8h1.3v1.3h-1.3zm6 12h1.3v1.3h-1.3zm-17 -7h1.3v1.3h-1.3zm49 -15h1.3v1.3h-1.3zm-29 28h1.3v1.3h-1.3zm20 -35h1.3v1.3h-1.3zm-32 54h1.3v1.3h-1.3zm8 -12h1.3v1.3h-1.3zm-8 16h1.3v1.3h-1.3zm1 -34h1.3v1.3h-1.3zm9 4h1.3v1.3h-1.3zm-21 3h1.3v1.3h-1.3zm10 -1h1.3v1.3h-1.3zm-26 32h1.3v1.3h-1.3zm28 -31h1.3v1.3h-1.3zm22 0h1.3v1.3h-1.3zm-15 -5h1.3v1.3h-1.3zm13 -4h1.3v1.3h-1.3zm-4 13h1.3v1.3h-1.3zm-10 1h1.3v1.3h-1.3zm11 8h1.3v1.3h-1.3zm18 -17h1.3v1.3h-1.3zm-14 -15h1.3v1.3h-1.3zm3 24h1.3v1.3h-1.3zm-8 -5h1.3v1.3h-1.3zm-25 4h1.3v1.3h-1.3zm38 12h1.3v1.3h-1.3zm-28 4h1.3v1.3h-1.3zm24 -9h1.3v1.3h-1.3zm-13 -53h1.3v1.3h-1.3zm-12 59h1.3v1.3h-1.3zm35 -23h1.3v1.3h-1.3zm-30 9h1.3v1.3h-1.3zm13 6h1.3v1.3h-1.3zm2 19h1.3v1.3h-1.3zm18 -49h1.3v1.3h-1.3zm-21 33h1.3v1.3h-1.3zm-2 -8h1.3v1.3h-1.3zm-5 0h1.3v1.3h-1.3zm-13 -52h1.3v1.3h-1.3zm4 63h1.3v1.3h-1.3zm19 -12h1.3v1.3h-1.3zm6 -11h1.3v1.3h-1.3zm2 0h1.3v1.3h-1.3zm-27 -11h1.3v1.3h-1.3zm4 20h1.3v1.3h-1.3zm-27 11h1.3v1.3h-1.3zm47 -40h1.3v1.3h-1.3zm-8 20h1.3v1.3h-1.3zm-39 26h1.3v1.3h-1.3zm88 -35h1.3v1.3h-1.3zm-83 35h1.3v1.3h-1.3zm36 -18h1.3v1.3h-1.3zm6 -18h1.3v1.3h-1.3zm-7 16h1.3v1.3h-1.3zm4 -11h1.3v1.3h-1.3zm-12 -5h1.3v1.3h-1.3zm8 6h1.3v1.3h-1.3zm-10 17h1.3v1.3h-1.3zm10 -8h1.3v1.3h-1.3zm11 -13h1.3v1.3h-1.3zm12 13h1.3v1.3h-1.3zm-30 32h1.3v1.3h-1.3zm-29 -11h1.3v1.3h-1.3zm38 -23h1.3v1.3h-1.3zm-18 -17h1.3v1.3h-1.3zm11 22h1.3v1.3h-1.3zm-13 22h1.3v1.3h-1.3zm27 -54h1.3v1.3h-1.3zm10 30h1.3v1.3h-1.3zm-11 -12h1.3v1.3h-1.3zm-4 40h1.3v1.3h-1.3zm-21 -25h1.3v1.3h-1.3zm34 0h1.3v1.3h-1.3zm-29 4h1.3v1.3h-1.3zm1 -6h1.3v1.3h-1.3zm17 -16h1.3v1.3h-1.3zm-36 52h1.3v1.3h-1.3zm35 -54h1.3v1.3h-1.3zm8 7h1.3v1.3h-1.3zm-32 35h1.3v1.3h-1.3zm5 -36h1.3v1.3h-1.3zm-12 46h1.3v1.3h-1.3zm48 -34h1.3v1.3h-1.3zm-17 -26h1.3v1.3h-1.3zm-47 46h1.3v1.3h-1.3zm39 -51h1.3v1.3h-1.3zm9 37h1.3v1.3h-1.3zm-21 -5h1.3v1.3h-1.3zm17 1h1.3v1.3h-1.3zm-5 -31h1.3v1.3h-1.3zm-5 8h1.3v1.3h-1.3zm22 -4h1.3v1.3h-1.3zm-30 36h1.3v1.3h-1.3zm25 -32h1.3v1.3h-1.3zm19 -10h1.3v1.3h-1.3zm-13 22h1.3v1.3h-1.3zm-29 23h1.3v1.3h-1.3zm27 -20h1.3v1.3h-1.3zm-25 9h1.3v1.3h-1.3zm55 -53h1.3v1.3h-1.3zm-82 59h1.3v1.3h-1.3zm55 -17h1.3v1.3h-1.3zm-31 29h1.3v1.3h-1.3zm26 -38h1.3v1.3h-1.3zm0 12h1.3v1.3h-1.3zm-7 -16h1.3v1.3h-1.3zm-14 -8h1.3v1.3h-1.3zm-12 28h1.3v1.3h-1.3zm-2 13h1.3v1.3h-1.3zm3 -22h1.3v1.3h-1.3zm13 -5h1.3v1.3h-1.3zm17 29h1.3v1.3h-1.3zm-11 -50h1.3v1.3h-1.3zm4 33h1.3v1.3h-1.3zm-9 19h1.3v1.3h-1.3zm22 -30h1.3v1.3h-1.3zm1 12h1.3v1.3h-1.3zm-37 -6h1.3v1.3h-1.3zm67 -40h1.3v1.3h-1.3zm-101 84h1.3v1.3h-1.3zm75 -55h1.3v1.3h-1.3zm-21 34h1.3v1.3h-1.3zm39 -56h1.3v1.3h-1.3zm-70 77h1.3v1.3h-1.3zm53 -50h1.3v1.3h-1.3zm-11 14h1.3v1.3h-1.3zm-20 8h1.3v1.3h-1.3zm28 -29h1.3v1.3h-1.3zm-48 28h1.3v1.3h-1.3zm-5 29h1.3v1.3h-1.3zm37 -39h1.3v1.3h-1.3zm28 -36h1.3v1.3h-1.3zm-30 12h1.3v1.3h-1.3zm-12 24h1.3v1.3h-1.3zm17 16h1.3v1.3h-1.3zm11 6h1.3v1.3h-1.3zm-40 17h1.3v1.3h-1.3zm9 -6h1.3v1.3h-1.3zm21 -31h1.3v1.3h-1.3zm13 -3h1.3v1.3h-1.3zm-32 30h1.3v1.3h-1.3zm5 -38h1.3v1.3h-1.3zm48 -12h1.3v1.3h-1.3zm-44 30h1.3v1.3h-1.3zm-2 -15h1.3v1.3h-1.3zm-4 33h1.3v1.3h-1.3zm32 -42h1.3v1.3h-1.3zm-61 45h1.3v1.3h-1.3zm31 -17h1.3v1.3h-1.3zm-33 -1h1.3v1.3h-1.3zm26 -10h1.3v1.3h-1.3zm36 -20h1.3v1.3h-1.3zm-37 2h1.3v1.3h-1.3zm36 4h1.3v1.3h-1.3zm-9 1h1.3v1.3h-1.3zm-34 33h1.3v1.3h-1.3zm33 -24h1.3v1.3h-1.3zm-16 -28h1.3v1.3h-1.3zm11 1h1.3v1.3h-1.3zm-19 30h1.3v1.3h-1.3zm-8 11h1.3v1.3h-1.3zm20 -4h1.3v1.3h-1.3zm16 -26h1.3v1.3h-1.3zm-16 1h1.3v1.3h-1.3zm30 8h1.3v1.3h-1.3zm-50 45h1.3v1.3h-1.3zm38 -43h1.3v1.3h-1.3zm-5 -12h1.3v1.3h-1.3zm-40 36h1.3v1.3h-1.3zm21 -18h1.3v1.3h-1.3zm14 19h1.3v1.3h-1.3zm0 -1h1.3v1.3h-1.3zm-33 9h1.3v1.3h-1.3zm11 -24h1.3v1.3h-1.3zm-4 37h1.3v1.3h-1.3zm10 -15h1.3v1.3h-1.3zm17 -57h1.3v1.3h-1.3zm-31 68h1.3v1.3h-1.3zm46 -56h1.3v1.3h-1.3zm-34 44h1.3v1.3h-1.3zm2 3h1.3v1.3h-1.3zm19 -43h1.3v1.3h-1.3zm34 -3h1.3v1.3h-1.3zm-35 16h1.3v1.3h-1.3zm-41 17h1.3v1.3h-1.3zm36 4h1.3v1.3h-1.3zm31 -36h1.3v1.3h-1.3zm2 -9h1.3v1.3h-1.3zm-42 15h1.3v1.3h-1.3zm-2 33h1.3v1.3h-1.3zm10 -13h1.3v1.3h-1.3zm0 -18h1.3v1.3h-1.3zm-10 3h1.3v1.3h-1.3zm16 17h1.3v1.3h-1.3zm8 -24h1.3v1.3h-1.3zm-27 29h1.3v1.3h-1.3zm-10 9h1.3v1.3h-1.3zm31 -27h1.3v1.3h-1.3zm-30 19h1.3v1.3h-1.3zm24 -2h1.3v1.3h-1.3zm-38 -6h1.3v1.3h-1.3zm23 32h1.3v1.3h-1.3zm-32 -6h1.3v1.3h-1.3zm44 -27h1.3v1.3h-1.3zm17 19h1.3v1.3h-1.3zm-34 14h1.3v1.3h-1.3zm35 -63h1.3v1.3h-1.3zm-16 3h1.3v1.3h-1.3zm-6 36h1.3v1.3h-1.3zm1 10h1.3v1.3h-1.3zm43 -60h1.3v1.3h-1.3zm-33 24h1.3v1.3h-1.3zm-38 16h1.3v1.3h-1.3zm88 -95h1.3v1.3h-1.3zm-40 74h1.3v1.3h-1.3zm-62 26h1.3v1.3h-1.3zm72 -41h1.3v1.3h-1.3zm-8 4h1.3v1.3h-1.3zm-15 -4h1.3v1.3h-1.3zm13 26h1.3v1.3h-1.3zm24 -26h1.3v1.3h-1.3zm23 -3h1.3v1.3h-1.3zm-46 13h1.3v1.3h-1.3zm12 11h1.3v1.3h-1.3zm-73 -1h1.3v1.3h-1.3zm31 48h1.3v1.3h-1.3zm55 -70h1.3v1.3h-1.3zm37 -3h1.3v1.3h-1.3zm-126 69h1.3v1.3h-1.3zm37 -44h1.3v1.3h-1.3zm49 -6h1.3v1.3h-1.3zm-78 6h1.3v1.3h-1.3zm80 -60h1.3v1.3h-1.3zm-55 77h1.3v1.3h-1.3zm-19 7h1.3v1.3h-1.3zm71 -69h1.3v1.3h-1.3zm-82 42h1.3v1.3h-1.3zm80 25h1.3v1.3h-1.3zm23 -3h1.3v1.3h-1.3zm-73 -43h1.3v1.3h-1.3zm-9 34h1.3v1.3h-1.3zm69 -61h1.3v1.3h-1.3zm16 16h1.3v1.3h-1.3zm-86 48h1.3v1.3h-1.3zm5 -10h1.3v1.3h-1.3zm11 -8h1.3v1.3h-1.3zm8 50h1.3v1.3h-1.3zm28 -38h1.3v1.3h-1.3zm-41 -12h1.3v1.3h-1.3zm11 6h1.3v1.3h-1.3zm5 10h1.3v1.3h-1.3zm24 -27h1.3v1.3h-1.3zm-88 46h1.3v1.3h-1.3zm27 -28h1.3v1.3h-1.3zm20 38h1.3v1.3h-1.3zm-7 -4h1.3v1.3h-1.3zm-9 -42h1.3v1.3h-1.3zm67 -16h1.3v1.3h-1.3zm-61 53h1.3v1.3h-1.3zm34 -26h1.3v1.3h-1.3zm5 -46h1.3v1.3h-1.3zm-1 44h1.3v1.3h-1.3zm-6 -25h1.3v1.3h-1.3zm18 39h1.3v1.3h-1.3zm-63 4h1.3v1.3h-1.3zm26 -30h1.3v1.3h-1.3zm41 1h1.3v1.3h-1.3zm39 20h1.3v1.3h-1.3zm-72 -2h1.3v1.3h-1.3zm15 -8h1.3v1.3h-1.3zm14 -25h1.3v1.3h-1.3zm0 10h1.3v1.3h-1.3zm-2 1h1.3v1.3h-1.3zm-31 21h1.3v1.3h-1.3zm15 -11h1.3v1.3h-1.3zm-39 -9h1.3v1.3h-1.3zm67 12h1.3v1.3h-1.3zm-36 12h1.3v1.3h-1.3zm22 -20h1.3v1.3h-1.3zm31 -29h1.3v1.3h-1.3zm-23 -4h1.3v1.3h-1.3zm-58 51h1.3v1.3h-1.3zm43 -5h1.3v1.3h-1.3zm52 -10h1.3v1.3h-1.3zm-126 21h1.3v1.3h-1.3zm42 -27h1.3v1.3h-1.3zm57 -26h1.3v1.3h-1.3zm10 61h1.3v1.3h-1.3zm-38 -22h1.3v1.3h-1.3zm16 14h1.3v1.3h-1.3zm-9 -2h1.3v1.3h-1.3zm-37 -40h1.3v1.3h-1.3zm-26 40h1.3v1.3h-1.3zm52 -61h1.3v1.3h-1.3zm-6 17h1.3v1.3h-1.3zm36 34h1.3v1.3h-1.3zm-11 -17h1.3v1.3h-1.3zm-16 27h1.3v1.3h-1.3zm-23 -35h1.3v1.3h-1.3zm38 43h1.3v1.3h-1.3zm-20 27h1.3v1.3h-1.3zm-22 -20h1.3v1.3h-1.3zm30 -23h1.3v1.3h-1.3zm-14 -41h1.3v1.3h-1.3zm-5 71h1.3v1.3h-1.3zm27 -33h1.3v1.3h-1.3zm-28 6h1.3v1.3h-1.3zm11 -45h1.3v1.3h-1.3zm54 5h1.3v1.3h-1.3zm-29 32h1.3v1.3h-1.3zm-32 48h1.3v1.3h-1.3zm12 -47h1.3v1.3h-1.3zm-10 22h1.3v1.3h-1.3zm19 -33h1.3v1.3h-1.3zm-27 4h1.3v1.3h-1.3zm2 0h1.3v1.3h-1.3zm30 -20h1.3v1.3h-1.3zm9 13h1.3v1.3h-1.3zm-44 48h1.3v1.3h-1.3zm-6 -24h1.3v1.3h-1.3zm14 -24h1.3v1.3h-1.3zm27 -14h1.3v1.3h-1.3zm-23 17h1.3v1.3h-1.3zm49 -15h1.3v1.3h-1.3zm-55 51h1.3v1.3h-1.3zm13 -56h1.3v1.3h-1.3zm22 11h1.3v1.3h-1.3zm-41 23h1.3v1.3h-1.3zm20 7h1.3v1.3h-1.3zm-51 -22h1.3v1.3h-1.3zm18 0h1.3v1.3h-1.3zm78 16h1.3v1.3h-1.3zm-44 -45h1.3v1.3h-1.3zm-4 45h1.3v1.3h-1.3zm-23 28h1.3v1.3h-1.3zm31 -11h1.3v1.3h-1.3zm-28 -40h1.3v1.3h-1.3zm42 21h1.3v1.3h-1.3zm-28 -13h1.3v1.3h-1.3zm-9 3h1.3v1.3h-1.3zm30 1h1.3v1.3h-1.3zm13 19h1.3v1.3h-1.3zm-75 -10h1.3v1.3h-1.3zm66 -31h1.3v1.3h-1.3zm-42 55h1.3v1.3h-1.3zm36 -67h1.3v1.3h-1.3zm3 -6h1.3v1.3h-1.3zm17 35h1.3v1.3h-1.3zm-3 15h1.3v1.3h-1.3zm12 -23h1.3v1.3h-1.3zm-2 27h1.3v1.3h-1.3zm-3 -37h1.3v1.3h-1.3zm-2 29h1.3v1.3h-1.3zm0 -11h1.3v1.3h-1.3zm-12 -2h1.3v1.3h-1.3zm1 6h1.3v1.3h-1.3zm21 -10h1.3v1.3h-1.3zm3 17h1.3v1.3h-1.3zm-7 -2h1.3v1.3h-1.3zm1 5h1.3v1.3h-1.3zm-13 15h1.3v1.3h-1.3zm-8 -31h1.3v1.3h-1.3zm3 33h1.3v1.3h-1.3zm2 -16h1.3v1.3h-1.3zm5 16h1.3v1.3h-1.3zm4 -29h1.3v1.3h-1.3zm-6 -11h1.3v1.3h-1.3zm3 26h1.3v1.3h-1.3zm-5 -19h1.3v1.3h-1.3zm-5 26h1.3v1.3h-1.3zm-13 -12h1.3v1.3h-1.3zm34 0h1.3v1.3h-1.3zm-12 -30h1.3v1.3h-1.3zm-10 18h1.3v1.3h-1.3zm15 0h1.3v1.3h-1.3zm-14 2h1.3v1.3h-1.3zm3 -4h1.3v1.3h-1.3zm8 -9h1.3v1.3h-1.3zm4 8h1.3v1.3h-1.3zm-15 -4h1.3v1.3h-1.3zm7 19h1.3v1.3h-1.3zm1 1h1.3v1.3h-1.3zm15 2h1.3v1.3h-1.3zm-21 -18h1.3v1.3h-1.3zm8 18h1.3v1.3h-1.3zm-2 -20h1.3v1.3h-1.3zm22 14h1.3v1.3h-1.3zm-37 0h1.3v1.3h-1.3zm7 -10h1.3v1.3h-1.3zm20 -9h1.3v1.3h-1.3zm-26 15h1.3v1.3h-1.3zm-5 21h1.3v1.3h-1.3zm14 -30h1.3v1.3h-1.3zm9 4h1.3v1.3h-1.3zm-15 -6h1.3v1.3h-1.3zm39 3h1.3v1.3h-1.3zm-20 13h1.3v1.3h-1.3zm-15 0h1.3v1.3h-1.3zm20 2h1.3v1.3h-1.3zm1 -13h1.3v1.3h-1.3zm9 15h1.3v1.3h-1.3zm-8 -17h1.3v1.3h-1.3zm-1 15h1.3v1.3h-1.3zm-5 10h1.3v1.3h-1.3zm-17 -28h1.3v1.3h-1.3zm-5 3h1.3v1.3h-1.3zm14 19h1.3v1.3h-1.3zm-3 -7h1.3v1.3h-1.3zm0 11h1.3v1.3h-1.3zm4 -21h1.3v1.3h-1.3zm-12 -4h1.3v1.3h-1.3zm4 34h1.3v1.3h-1.3zm16 -28h1.3v1.3h-1.3zm-15 13h1.3v1.3h-1.3zm-1 -17h1.3v1.3h-1.3zm15 13h1.3v1.3h-1.3zm-2 1h1.3v1.3h-1.3zm-18 2h1.3v1.3h-1.3zm11 -2h1.3v1.3h-1.3zm5 -4h1.3v1.3h-1.3zm-14 -5h1.3v1.3h-1.3zm16 10h1.3v1.3h-1.3zm0 -19h1.3v1.3h-1.3zm4 12h1.3v1.3h-1.3zm-19 9h1.3v1.3h-1.3zm1 -7h1.3v1.3h-1.3zm6 4h1.3v1.3h-1.3zm3 5h1.3v1.3h-1.3zm-19 -19h1.3v1.3h-1.3zm10 18h1.3v1.3h-1.3zm18 -5h1.3v1.3h-1.3zm-28 2h1.3v1.3h-1.3zm19 -10h1.3v1.3h-1.3zm-5 2h1.3v1.3h-1.3zm20 14h1.3v1.3h-1.3zm-8 -21h1.3v1.3h-1.3zm-7 8h1.3v1.3h-1.3zm-3 -7h1.3v1.3h-1.3zm-3 3h1.3v1.3h-1.3zm-12 13h1.3v1.3h-1.3zm25 -5h1.3v1.3h-1.3zm7 -3h1.3v1.3h-1.3zm-20 24h1.3v1.3h-1.3zm-6 -48h1.3v1.3h-1.3zm19 5h1.3v1.3h-1.3zm7 12h1.3v1.3h-1.3zm-8 -12h1.3v1.3h-1.3zm-2 0h1.3v1.3h-1.3zm2 10h1.3v1.3h-1.3zm-4 8h1.3v1.3h-1.3zm3 -12h1.3v1.3h-1.3zm-7 5h1.3v1.3h-1.3zm4 -10h1.3v1.3h-1.3zm0 27h1.3v1.3h-1.3zm-2 0h1.3v1.3h-1.3zm-9 -12h1.3v1.3h-1.3zm31 10h1.3v1.3h-1.3zm-8 -19h1.3v1.3h-1.3zm-26 15h1.3v1.3h-1.3zm23 -5h1.3v1.3h-1.3zm-4 -14h1.3v1.3h-1.3zm-2 6h1.3v1.3h-1.3zm-10 18h1.3v1.3h-1.3zm5 -10h1.3v1.3h-1.3zm1 -28h1.3v1.3h-1.3zm-1 38h1.3v1.3h-1.3zm-3 12h1.3v1.3h-1.3zm7 -44h1.3v1.3h-1.3zm3 9h1.3v1.3h-1.3zm-5 5h1.3v1.3h-1.3zm-6 21h1.3v1.3h-1.3zm6 -15h1.3v1.3h-1.3zm-9 -20h1.3v1.3h-1.3zm10 35h1.3v1.3h-1.3zm3 -23h1.3v1.3h-1.3zm-10 17h1.3v1.3h-1.3zm-7 -9h1.3v1.3h-1.3zm-51 -67h1.3v1.3h-1.3zm33 1h1.3v1.3h-1.3zm-27 6h1.3v1.3h-1.3zm11 5h1.3v1.3h-1.3zm-21 4h1.3v1.3h-1.3zm17 -26h1.3v1.3h-1.3zm6 12h1.3v1.3h-1.3zm13 24h1.3v1.3h-1.3zm8 -26h1.3v1.3h-1.3zm1 5h1.3v1.3h-1.3zm-26 -13h1.3v1.3h-1.3zm-12 13h1.3v1.3h-1.3zm31 6h1.3v1.3h-1.3zm-15 -22h1.3v1.3h-1.3zm-10 1h1.3v1.3h-1.3zm6 15h1.3v1.3h-1.3zm21 -32h1.3v1.3h-1.3zm-35 -1h1.3v1.3h-1.3zm34 13h1.3v1.3h-1.3zm-11 -5h1.3v1.3h-1.3zm-30 37h1.3v1.3h-1.3zm53 -18h1.3v1.3h-1.3zm-41 -9h1.3v1.3h-1.3zm-10 13h1.3v1.3h-1.3zm0 2h1.3v1.3h-1.3zm53 -7h1.3v1.3h-1.3zm-22 3h1.3v1.3h-1.3zm-22 5h1.3v1.3h-1.3zm19 -25h1.3v1.3h-1.3zm6 2h1.3v1.3h-1.3zm-35 16h1.3v1.3h-1.3zm35 -1h1.3v1.3h-1.3zm4 -1h1.3v1.3h-1.3zm-30 -7h1.3v1.3h-1.3zm-1 35h1.3v1.3h-1.3zm13 -39h1.3v1.3h-1.3zm-3 7h1.3v1.3h-1.3zm27 23h1.3v1.3h-1.3zm-27 -7h1.3v1.3h-1.3zm14 -31h1.3v1.3h-1.3zm-9 19h1.3v1.3h-1.3zm10 -16h1.3v1.3h-1.3zm-21 18h1.3v1.3h-1.3zm-24 1h1.3v1.3h-1.3zm30 -5h1.3v1.3h-1.3zm6 -10h1.3v1.3h-1.3zm9 47h1.3v1.3h-1.3zm-14 -37h1.3v1.3h-1.3zm28 6h1.3v1.3h-1.3zm-13 -13h1.3v1.3h-1.3zm-10 9h1.3v1.3h-1.3zm19 3h1.3v1.3h-1.3zm-42 7h1.3v1.3h-1.3zm22 -23h1.3v1.3h-1.3zm12 25h1.3v1.3h-1.3zm-14 0h1.3v1.3h-1.3zm-5 -22h1.3v1.3h-1.3zm-1 30h1.3v1.3h-1.3zm-1 -2h1.3v1.3h-1.3zm13 -47h1.3v1.3h-1.3zm23 28h1.3v1.3h-1.3zm2 13h1.3v1.3h-1.3zm8 -3h1.3v1.3h-1.3zm15 -26h1.3v1.3h-1.3zm5 -4h1.3v1.3h-1.3zm-18 34h1.3v1.3h-1.3zm3 -17h1.3v1.3h-1.3z"/>
<path fill="#2834c4" d="M0 0m373 172h1.3v1.3h-1.3zm-14 15h1.3v1.3h-1.3zm22 -42h1.3v1.3h-1.3zm3 12h1.3v1.3h-1.3zm-14 9h1.3v1.3h-1.3zm12 -5h1.3v1.3h-1.3zm-8 0h1.3v1.3h-1.3zm-6 7h1.3v1.3h-1.3zm12 -12h1.3v1.3h-1.3zm0 15h1.3v1.3h-1.3zm-2 -11h1.3v1.3h-1.3zm-9 10h1.3v1.3h-1.3zm21 -21h1.3v1.3h-1.3zm-34 24h1.3v1.3h-1.3zm5 6h1.3v1.3h-1.3zm14 -25h1.3v1.3h-1.3zm-2 26h1.3v1.3h-1.3zm6 -5h1.3v1.3h-1.3zm-16 -8h1.3v1.3h-1.3zm7 3h1.3v1.3h-1.3zm19 -6h1.3v1.3h-1.3zm-20 0h1.3v1.3h-1.3zm0 24h1.3v1.3h-1.3zm5 -39h1.3v1.3h-1.3zm1 15h1.3v1.3h-1.3zm13 11h1.3v1.3h-1.3zm-1 -8h1.3v1.3h-1.3zm-21 -6h1.3v1.3h-1.3zm15 1h1.3v1.3h-1.3zm-23 11h1.3v1.3h-1.3zm-1 13h1.3v1.3h-1.3zm28 -29h1.3v1.3h-1.3zm2 -2h1.3v1.3h-1.3zm-20 4h1.3v1.3h-1.3zm11 20h1.3v1.3h-1.3zm5 -5h1.3v1.3h-1.3zm-2 -8h1.3v1.3h-1.3zm-10 1h1.3v1.3h-1.3zm1 -2h1.3v1.3h-1.3zm-9 2h1.3v1.3h-1.3zm18 -12h1.3v1.3h-1.3zm-6 23h1.3v1.3h-1.3zm-3 -12h1.3v1.3h-1.3zm0 -3h1.3v1.3h-1.3zm2 12h1.3v1.3h-1.3zm1 -6h1.3v1.3h-1.3zm6 -4h1.3v1.3h-1.3zm-4 -6h1.3v1.3h-1.3zm-3 2h1.3v1.3h-1.3zm12 9h1.3v1.3h-1.3zm-9 11h1.3v1.3h-1.3zm-14 -14h1.3v1.3h-1.3zm9 -14h1.3v1.3h-1.3zm5 3h1.3v1.3h-1.3zm-10 22h1.3v1.3h-1.3zm17 -23h1.3v1.3h-1.3zm-11 15h1.3v1.3h-1.3zm13 6h1.3v1.3h-1.3zm-14 -8h1.3v1.3h-1.3zm11 -11h1.3v1.3h-1.3zm-21 18h1.3v1.3h-1.3zm-1 -13h1.3v1.3h-1.3zm14 4h1.3v1.3h-1.3zm2 -8h1.3v1.3h-1.3zm-4 7h1.3v1.3h-1.3zm-11 10h1.3v1.3h-1.3zm-1 10h1.3v1.3h-1.3zm23 -23h1.3v1.3h-1.3zm-6 -7h1.3v1.3h-1.3zm3 12h1.3v1.3h-1.3zm-15 4h1.3v1.3h-1.3zm5 -5h1.3v1.3h-1.3zm4 -22h1.3v1.3h-1.3zm10 20h1.3v1.3h-1.3zm-13 3h1.3v1.3h-1.3zm11 2h1.3v1.3h-1.3zm3 -15h1.3v1.3h-1.3zm-28 25h1.3v1.3h-1.3zm13 -4h1.3v1.3h-1.3zm-10 4h1.3v1.3h-1.3zm10 -11h1.3v1.3h-1.3zm16 -11h1.3v1.3h-1.3zm-20 -3h1.3v1.3h-1.3zm2 3h1.3v1.3h-1.3zm0 18h1.3v1.3h-1.3zm14 -19h1.3v1.3h-1.3zm1 8h1.3v1.3h-1.3zm-24 17h1.3v1.3h-1.3zm22 -19h1.3v1.3h-1.3zm-6 -11h1.3v1.3h-1.3zm23 -6h1.3v1.3h-1.3zm-5 7h1.3v1.3h-1.3zm-10 8h1.3v1.3h-1.3zm-9 -3h1.3v1.3h-1.3zm-19 26h1.3v1.3h-1.3zm24 -14h1.3v1.3h-1.3zm-11 -9h1.3v1.3h-1.3zm1 -1h1.3v1.3h-1.3zm14 2h1.3v1.3h-1.3zm-25 4h1.3v1.3h-1.3zm20 11h1.3v1.3h-1.3zm-12 1h1.3v1.3h-1.3zm-5 -1h1.3v1.3h-1.3zm7 0h1.3v1.3h-1.3zm1 -7h1.3v1.3h-1.3zm17 -15h1.3v1.3h-1.3zm-15 -1h1.3v1.3h-1.3zm7 36h1.3v1.3h-1.3zm-7 -33h1.3v1.3h-1.3zm21 -13h1.3v1.3h-1.3zm-15 32h1.3v1.3h-1.3zm6 -18h1.3v1.3h-1.3zm-18 18h1.3v1.3h-1.3zm-5 7h1.3v1.3h-1.3zm11 -29h1.3v1.3h-1.3zm16 1h1.3v1.3h-1.3zm-24 14h1.3v1.3h-1.3zm18 -18h1.3v1.3h-1.3zm7 8h1.3v1.3h-1.3zm-25 13h1.3v1.3h-1.3zm22 -17h1.3v1.3h-1.3zm-17 25h1.3v1.3h-1.3zm-2 5h1.3v1.3h-1.3zm13 -20h1.3v1.3h-1.3zm-11 -6h1.3v1.3h-1.3zm15 -1h1.3v1.3h-1.3zm-4 19h1.3v1.3h-1.3zm-1 1h1.3v1.3h-1.3zm-11 -2h1.3v1.3h-1.3zm16 -20h1.3v1.3h-1.3zm-16 1h1.3v1.3h-1.3zm0 22h1.3v1.3h-1.3zm20 -2h1.3v1.3h-1.3zm-17 -17h1.3v1.3h-1.3zm-9 15h1.3v1.3h-1.3zm13 -14h1.3v1.3h-1.3zm7 -6h1.3v1.3h-1.3zm-8 -15h1.3v1.3h-1.3zm1 23h1.3v1.3h-1.3zm-1 8h1.3v1.3h-1.3zm3 -27h1.3v1.3h-1.3zm1 26h1.3v1.3h-1.3zm-12 1h1.3v1.3h-1.3zm2 18h1.3v1.3h-1.3zm4 -25h1.3v1.3h-1.3zm7 -1h1.3v1.3h-1.3zm-9 4h1.3v1.3h-1.3zm7 -1h1.3v1.3h-1.3zm7 6h1.3v1.3h-1.3zm-16 9h1.3v1.3h-1.3zm15 5h1.3v1.3h-1.3zm-12 -22h1.3v1.3h-1.3zm10 6h1.3v1.3h-1.3zm7 -12h1.3v1.3h-1.3zm-24 15h1.3v1.3h-1.3zm22 -12h1.3v1.3h-1.3zm-19 9h1.3v1.3h-1.3zm27 -26h1.3v1.3h-1.3zm-35 27h1.3v1.3h-1.3zm9 0h1.3v1.3h-1.3zm-7 9h1.3v1.3h-1.3zm15 -4h1.3v1.3h-1.3zm-7 4h1.3v1.3h-1.3zm20 -11h1.3v1.3h-1.3zm-23 -4h1.3v1.3h-1.3zm17 -13h1.3v1.3h-1.3zm-17 16h1.3v1.3h-1.3zm-7 -3h1.3v1.3h-1.3zm27 0h1.3v1.3h-1.3zm-28 4h1.3v1.3h-1.3zm6 -4h1.3v1.3h-1.3zm23 3h1.3v1.3h-1.3zm-19 4h1.3v1.3h-1.3zm9 0h1.3v1.3h-1.3zm-4 9h1.3v1.3h-1.3zm-2 -12h1.3v1.3h-1.3zm1 3h1.3v1.3h-1.3zm7 -12h1.3v1.3h-1.3zm-3 -4h1.3v1.3h-1.3zm-7 0h1.3v1.3h-1.3zm4 16h1.3v1.3h-1.3zm1 -18h1.3v1.3h-1.3zm-5 16h1.3v1.3h-1.3zm20 -17h1.3v1.3h-1.3zm-8 8h1.3v1.3h-1.3zm-7 7h1.3v1.3h-1.3zm-13 9h1.3v1.3h-1.3zm11 -16h1.3v1.3h-1.3zm7 -2h1.3v1.3h-1.3zm-14 8h1.3v1.3h-1.3zm0 -2h1.3v1.3h-1.3zm10 0h1.3v1.3h-1.3zm10 -10h1.3v1.3h-1.3zm-5 12h1.3v1.3h-1.3zm5 -10h1.3v1.3h-1.3zm-11 12h1.3v1.3h-1.3zm4 -10h1.3v1.3h-1.3zm2 11h1.3v1.3h-1.3zm1 1h1.3v1.3h-1.3zm-7 25h1.3v1.3h-1.3zm-11 -10h1.3v1.3h-1.3zm-5 -27h1.3v1.3h-1.3zm21 10h1.3v1.3h-1.3zm-1 -9h1.3v1.3h-1.3zm-34 53h1.3v1.3h-1.3zm24 -37h1.3v1.3h-1.3zm-33 19h1.3v1.3h-1.3zm61 -18h1.3v1.3h-1.3zm-34 13h1.3v1.3h-1.3zm-29 6h1.3v1.3h-1.3zm30 -16h1.3v1.3h-1.3zm11 -24h1.3v1.3h-1.3zm1 29h1.3v1.3h-1.3zm-20 1h1.3v1.3h-1.3zm-18 11h1.3v1.3h-1.3zm74 -46h1.3v1.3h-1.3zm-19 12h1.3v1.3h-1.3zm-24 6h1.3v1.3h-1.3zm-17 11h1.3v1.3h-1.3zm-5 23h1.3v1.3h-1.3zm24 -49h1.3v1.3h-1.3zm-41 56h1.3v1.3h-1.3zm25 -34h1.3v1.3h-1.3zm11 -23h1.3v1.3h-1.3zm21 12h1.3v1.3h-1.3zm6 -19h1.3v1.3h-1.3zm-61 67h1.3v1.3h-1.3zm-2 -19h1.3v1.3h-1.3zm12 9h1.3v1.3h-1.3zm0 -28h1.3v1.3h-1.3zm34 -3h1.3v1.3h-1.3zm-8 7h1.3v1.3h-1.3zm-3 -29h1.3v1.3h-1.3zm-25 63h1.3v1.3h-1.3zm36 -35h1.3v1.3h-1.3zm-44 15h1.3v1.3h-1.3zm19 13h1.3v1.3h-1.3zm45 -33h1.3v1.3h-1.3zm-40 32h1.3v1.3h-1.3zm-1 -6h1.3v1.3h-1.3zm-4 -30h1.3v1.3h-1.3zm25 -9h1.3v1.3h-1.3zm3 31h1.3v1.3h-1.3zm8 -26h1.3v1.3h-1.3zm12 -5h1.3v1.3h-1.3zm4 15h1.3v1.3h-1.3zm-43 17h1.3v1.3h-1.3zm32 1h1.3v1.3h-1.3zm-21 -9h1.3v1.3h-1.3zm-27 15h1.3v1.3h-1.3zm3 -19h1.3v1.3h-1.3zm1 20h1.3v1.3h-1.3zm24 -21h1.3v1.3h-1.3zm-2 7h1.3v1.3h-1.3zm9 -2h1.3v1.3h-1.3zm-5 -34h1.3v1.3h-1.3zm1 37h1.3v1.3h-1.3zm-33 13h1.3v1.3h-1.3zm32 -1h1.3v1.3h-1.3zm-5 -23h1.3v1.3h-1.3zm32 -4h1.3v1.3h-1.3zm-11 -17h1.3v1.3h-1.3zm5 -12h1.3v1.3h-1.3zm-25 33h1.3v1.3h-1.3zm-16 22h1.3v1.3h-1.3zm6 -28h1.3v1.3h-1.3zm-8 35h1.3v1.3h-1.3zm9 -8h1.3v1.3h-1.3zm22 -44h1.3v1.3h-1.3zm-7 4h1.3v1.3h-1.3zm-29 21h1.3v1.3h-1.3zm8 -9h1.3v1.3h-1.3zm25 -21h1.3v1.3h-1.3zm-14 12h1.3v1.3h-1.3zm3 -27h1.3v1.3h-1.3zm13 34h1.3v1.3h-1.3zm5 -18h1.3v1.3h-1.3zm-44 60h1.3v1.3h-1.3zm35 -51h1.3v1.3h-1.3zm-11 9h1.3v1.3h-1.3zm26 7h1.3v1.3h-1.3zm-4 6h1.3v1.3h-1.3zm-42 28h1.3v1.3h-1.3zm2 -5h1.3v1.3h-1.3zm5 -11h1.3v1.3h-1.3zm53 -20h1.3v1.3h-1.3zm-21 -28h1.3v1.3h-1.3zm-40 45h1.3v1.3h-1.3zm16 8h1.3v1.3h-1.3zm-46 -5h1.3v1.3h-1.3zm53 -33h1.3v1.3h-1.3zm18 5h1.3v1.3h-1.3zm-10 14h1.3v1.3h-1.3zm-15 24h1.3v1.3h-1.3zm44 -68h1.3v1.3h-1.3zm-82 79h1.3v1.3h-1.3zm66 -68h1.3v1.3h-1.3zm-19 -16h1.3v1.3h-1.3zm-3 49h1.3v1.3h-1.3zm-15 3h1.3v1.3h-1.3zm-14 14h1.3v1.3h-1.3zm38 -28h1.3v1.3h-1.3zm-8 23h1.3v1.3h-1.3zm1 -1h1.3v1.3h-1.3zm-24 3h1.3v1.3h-1.3zm33 -35h1.3v1.3h-1.3zm-4 39h1.3v1.3h-1.3zm-34 -5h1.3v1.3h-1.3zm9 15h1.3v1.3h-1.3zm54 -63h1.3v1.3h-1.3zm-21 -20h1.3v1.3h-1.3zm-14 59h1.3v1.3h-1.3zm15 -3h1.3v1.3h-1.3zm-32 -7h1.3v1.3h-1.3zm-12 41h1.3v1.3h-1.3zm27 -44h1.3v1.3h-1.3zm23 -1h1.3v1.3h-1.3zm-20 20h1.3v1.3h-1.3zm21 -42h1.3v1.3h-1.3zm-40 67h1.3v1.3h-1.3zm18 -26h1.3v1.3h-1.3zm18 -35h1.3v1.3h-1.3zm-34 31h1.3v1.3h-1.3zm-4 5h1.3v1.3h-1.3zm5 -23h1.3v1.3h-1.3zm49 4h1.3v1.3h-1.3zm-54 13h1.3v1.3h-1.3zm-1 -11h1.3v1.3h-1.3zm3 -3h1.3v1.3h-1.3zm21 -20h1.3v1.3h-1.3zm17 34h1.3v1.3h-1.3zm-21 -17h1.3v1.3h-1.3zm-7 48h1.3v1.3h-1.3zm11 -56h1.3v1.3h-1.3zm-58 56h1.3v1.3h-1.3zm69 -44h1.3v1.3h-1.3zm-16 0h1.3v1.3h-1.3zm-9 5h1.3v1.3h-1.3zm37 2h1.3v1.3h-1.3zm-24 -8h1.3v1.3h-1.3zm12 -25h1.3v1.3h-1.3zm-50 64h1.3v1.3h-1.3zm60 -54h1.3v1.3h-1.3zm-40 15h1.3v1.3h-1.3zm49 -33h1.3v1.3h-1.3zm-31 25h1.3v1.3h-1.3zm0 9h1.3v1.3h-1.3zm13 27h1.3v1.3h-1.3zm-35 -32h1.3v1.3h-1.3zm19 33h1.3v1.3h-1.3zm-13 -14h1.3v1.3h-1.3zm13 2h1.3v1.3h-1.3zm-7 -23h1.3v1.3h-1.3zm13 28h1.3v1.3h-1.3zm23 -52h1.3v1.3h-1.3zm-6 46h1.3v1.3h-1.3zm-23 12h1.3v1.3h-1.3zm-23 11h1.3v1.3h-1.3zm29 -34h1.3v1.3h-1.3zm-15 -3h1.3v1.3h-1.3zm11 42h1.3v1.3h-1.3zm-5 -49h1.3v1.3h-1.3zm-5 19h1.3v1.3h-1.3zm-7 22h1.3v1.3h-1.3zm-1 -24h1.3v1.3h-1.3zm1 -17h1.3v1.3h-1.3zm13 31h1.3v1.3h-1.3zm-21 9h1.3v1.3h-1.3zm27 -18h1.3v1.3h-1.3zm-48 -2h1.3v1.3h-1.3zm31 -29h1.3v1.3h-1.3zm23 4h1.3v1.3h-1.3zm-35 34h1.3v1.3h-1.3zm-18 -3h1.3v1.3h-1.3zm47 18h1.3v1.3h-1.3zm15 -68h1.3v1.3h-1.3zm-11 -8h1.3v1.3h-1.3zm3 63h1.3v1.3h-1.3zm-14 -32h1.3v1.3h-1.3zm8 20h1.3v1.3h-1.3zm11 10h1.3v1.3h-1.3zm-44 21h1.3v1.3h-1.3zm55 -82h1.3v1.3h-1.3zm4 38h1.3v1.3h-1.3zm3 -40h1.3v1.3h-1.3zm-53 60h1.3v1.3h-1.3zm2 3h1.3v1.3h-1.3zm28 -18h1.3v1.3h-1.3zm4 -10h1.3v1.3h-1.3zm-34 21h1.3v1.3h-1.3zm26 -9h1.3v1.3h-1.3zm7 -29h1.3v1.3h-1.3zm11 4h1.3v1.3h-1.3zm-37 37h1.3v1.3h-1.3zm5 -18h1.3v1.3h-1.3zm33 -9h1.3v1.3h-1.3zm-17 29h1.3v1.3h-1.3zm16 -28h1.3v1.3h-1.3zm-1 -2h1.3v1.3h-1.3zm-28 15h1.3v1.3h-1.3zm5 2h1.3v1.3h-1.3zm20 -4h1.3v1.3h-1.3zm5 -14h1.3v1.3h-1.3zm-62 17h1.3v1.3h-1.3zm43 14h1.3v1.3h-1.3zm19 -32h1.3v1.3h-1.3zm-23 21h1.3v1.3h-1.3zm-38 24h1.3v1.3h-1.3zm55 -60h1.3v1.3h-1.3zm-39 63h1.3v1.3h-1.3zm9 -23h1.3v1.3h-1.3zm19 -18h1.3v1.3h-1.3zm-3 -4h1.3v1.3h-1.3zm-39 48h1.3v1.3h-1.3zm48 -21h1.3v1.3h-1.3zm-12 -11h1.3v1.3h-1.3zm-8 1h1.3v1.3h-1.3zm-7 3h1.3v1.3h-1.3zm13 3h1.3v1.3h-1.3zm-8 -15h1.3v1.3h-1.3zm6 -9h1.3v1.3h-1.3zm-12 45h1.3v1.3h-1.3zm18 -46h1.3v1.3h-1.3zm7 -9h1.3v1.3h-1.3zm21 37h1.3v1.3h-1.3zm-30 -19h1.3v1.3h-1.3zm-1 24h1.3v1.3h-1.3zm-14 7h1.3v1.3h-1.3zm36 -27h1.3v1.3h-1.3zm-41 8h1.3v1.3h-1.3zm47 -38h1.3v1.3h-1.3zm-33 44h1.3v1.3h-1.3zm23 -15h1.3v1.3h-1.3zm6 -6h1.3v1.3h-1.3zm-50 48h1.3v1.3h-1.3zm42 -26h1.3v1.3h-1.3zm-12 -24h1.3v1.3h-1.3zm-45 10h1.3v1.3h-1.3zm39 -11h1.3v1.3h-1.3zm18 -11h1.3v1.3h-1.3zm-47 24h1.3v1.3h-1.3zm42 -11h1.3v1.3h-1.3zm-23 -4h1.3v1.3h-1.3zm23 13h1.3v1.3h-1.3zm-15 22h1.3v1.3h-1.3zm-9 -21h1.3v1.3h-1.3zm1 12h1.3v1.3h-1.3zm5 -7h1.3v1.3h-1.3zm17 -2h1.3v1.3h-1.3zm-23 5h1.3v1.3h-1.3zm11 -24h1.3v1.3h-1.3zm-3 25h1.3v1.3h-1.3zm15 -10h1.3v1.3h-1.3zm-17 0h1.3v1.3h-1.3zm13 -8h1.3v1.3h-1.3zm-36 32h1.3v1.3h-1.3zm44 -50h1.3v1.3h-1.3zm1 25h1.3v1.3h-1.3zm-26 -2h1.3v1.3h-1.3zm20 -17h1.3v1.3h-1.3zm-2 14h1.3v1.3h-1.3zm-15 18h1.3v1.3h-1.3zm-4 -25h1.3v1.3h-1.3zm29 9h1.3v1.3h-1.3zm-20 1h1.3v1.3h-1.3zm-20 9h1.3v1.3h-1.3zm-8 34h1.3v1.3h-1.3zm13 -33h1.3v1.3h-1.3zm49 -25h1.3v1.3h-1.3zm-53 22h1.3v1.3h-1.3zm15 25h1.3v1.3h-1.3zm35 -53h1.3v1.3h-1.3zm-56 56h1.3v1.3h-1.3zm15 -18h1.3v1.3h-1.3zm10 -10h1.3v1.3h-1.3zm-6 23h1.3v1.3h-1.3zm-18 -3h1.3v1.3h-1.3zm-29 12h1.3v1.3h-1.3zm16 4h1.3v1.3h-1.3zm26 -36h1.3v1.3h-1.3zm17 -9h1.3v1.3h-1.3zm-19 31h1.3v1.3h-1.3zm24 -15h1.3v1.3h-1.3zm41 -63h1.3v1.3h-1.3zm-74 76h1.3v1.3h-1.3zm44 -40h1.3v1.3h-1.3zm-23 12h1.3v1.3h-1.3zm-15 28h1.3v1.3h-1.3zm22 -54h1.3v1.3h-1.3zm13 20h1.3v1.3h-1.3zm-15 -3h1.3v1.3h-1.3zm-6 30h1.3v1.3h-1.3zm19 -28h1.3v1.3h-1.3zm-19 16h1.3v1.3h-1.3zm-7 1h1.3v1.3h-1.3zm-19 3h1.3v1.3h-1.3zm37 -12h1.3v1.3h-1.3zm-16 4h1.3v1.3h-1.3zm42 -18h1.3v1.3h-1.3zm-67 44h1.3v1.3h-1.3zm16 -20h1.3v1.3h-1.3zm37 -7h1.3v1.3h-1.3zm-5 16h1.3v1.3h-1.3zm-26 10h1.3v1.3h-1.3zm11 -9h1.3v1.3h-1.3zm12 -19h1.3v1.3h-1.3zm-19 18h1.3v1.3h-1.3zm3 -28h1.3v1.3h-1.3zm3 21h1.3v1.3h-1.3zm22 -10h1.3v1.3h-1.3zm-1 -20h1.3v1.3h-1.3zm-30 42h1.3v1.3h-1.3zm34 -33h1.3v1.3h-1.3zm-15 21h1.3v1.3h-1.3zm-5 -27h1.3v1.3h-1.3zm-3 29h1.3v1.3h-1.3zm-5 -10h1.3v1.3h-1.3zm-38 23h1.3v1.3h-1.3zm55 -34h1.3v1.3h-1.3zm-14 -7h1.3v1.3h-1.3zm9 23h1.3v1.3h-1.3zm-10 20h1.3v1.3h-1.3zm42 -41h1.3v1.3h-1.3zm-50 7h1.3v1.3h-1.3zm22 -3h1.3v1.3h-1.3zm16 5h1.3v1.3h-1.3zm-50 35h1.3v1.3h-1.3zm38 -27h1.3v1.3h-1.3zm-43 8h1.3v1.3h-1.3zm19 14h1.3v1.3h-1.3zm43 -19h1.3v1.3h-1.3zm-7 19h1.3v1.3h-1.3zm-43 -38h1.3v1.3h-1.3zm-14 16h1.3v1.3h-1.3zm32 31h1.3v1.3h-1.3zm-13 6h1.3v1.3h-1.3zm-19 -38h1.3v1.3h-1.3zm50 -33h1.3v1.3h-1.3zm-29 9h1.3v1.3h-1.3zm16 31h1.3v1.3h-1.3zm17 -18h1.3v1.3h-1.3zm-28 25h1.3v1.3h-1.3zm14 -26h1.3v1.3h-1.3zm9 11h1.3v1.3h-1.3zm-64 40h1.3v1.3h-1.3zm41 -33h1.3v1.3h-1.3zm-1 -38h1.3v1.3h-1.3zm0 30h1.3v1.3h-1.3zm4 7h1.3v1.3h-1.3zm10 -19h1.3v1.3h-1.3zm11 -1h1.3v1.3h-1.3zm-14 30h1.3v1.3h-1.3zm-44 11h1.3v1.3h-1.3zm46 -4h1.3v1.3h-1.3zm-37 -10h1.3v1.3h-1.3zm20 7h1.3v1.3h-1.3zm16 -3h1.3v1.3h-1.3zm-7 -26h1.3v1.3h-1.3zm-10 4h1.3v1.3h-1.3zm-8 12h1.3v1.3h-1.3zm6 -11h1.3v1.3h-1.3zm-26 27h1.3v1.3h-1.3zm49 -48h1.3v1.3h-1.3zm-42 58h1.3v1.3h-1.3zm41 -26h1.3v1.3h-1.3zm-65 20h1.3v1.3h-1.3zm73 -13h1.3v1.3h-1.3zm6 -27h1.3v1.3h-1.3zm-67 43h1.3v1.3h-1.3zm47 -16h1.3v1.3h-1.3zm-15 7h1.3v1.3h-1.3zm14 -62h1.3v1.3h-1.3zm-33 52h1.3v1.3h-1.3zm24 -22h1.3v1.3h-1.3zm5 5h1.3v1.3h-1.3zm-36 30h1.3v1.3h-1.3zm29 15h1.3v1.3h-1.3zm7 -45h1.3v1.3h-1.3zm-27 23h1.3v1.3h-1.3zm49 -21h1.3v1.3h-1.3zm4 -26h1.3v1.3h-1.3zm5 18h1.3v1.3h-1.3zm-3 -12h1.3v1.3h-1.3zm17 5h1.3v1.3h-1.3zm-46 18h1.3v1.3h-1.3zm6 -32h1.3v1.3h-1.3zm26 -15h1.3v1.3h-1.3zm-56 63h1.3v1.3h-1.3zm24 -36h1.3v1.3h-1.3zm-4 32h1.3v1.3h-1.3zm0 13h1.3v1.3h-1.3zm15 -26h1.3v1.3h-1.3zm11 -21h1.3v1.3h-1.3zm-28 33h1.3v1.3h-1.3zm-1 -31h1.3v1.3h-1.3zm16 34h1.3v1.3h-1.3zm15 -24h1.3v1.3h-1.3zm-16 -16h1.3v1.3h-1.3zm-3 57h1.3v1.3h-1.3zm13 -17h1.3v1.3h-1.3zm-9 3h1.3v1.3h-1.3zm-8 -3h1.3v1.3h-1.3zm-9 -13h1.3v1.3h-1.3zm27 -10h1.3v1.3h-1.3zm-20 13h1.3v1.3h-1.3zm-5 -1h1.3v1.3h-1.3zm-5 30h1.3v1.3h-1.3zm31 -50h1.3v1.3h-1.3zm-15 56h1.3v1.3h-1.3zm6 -54h1.3v1.3h-1.3zm2 0h1.3v1.3h-1.3zm-5 2h1.3v1.3h-1.3zm4 -4h1.3v1.3h-1.3zm-23 11h1.3v1.3h-1.3zm18 23h1.3v1.3h-1.3zm-15 -30h1.3v1.3h-1.3zm50 -5h1.3v1.3h-1.3zm-42 24h1.3v1.3h-1.3zm7 -47h1.3v1.3h-1.3zm10 26h1.3v1.3h-1.3zm-22 48h1.3v1.3h-1.3zm21 -14h1.3v1.3h-1.3zm-42 10h1.3v1.3h-1.3zm0 -13h1.3v1.3h-1.3zm30 -9h1.3v1.3h-1.3zm-35 7h1.3v1.3h-1.3zm42 -48h1.3v1.3h-1.3zm16 12h1.3v1.3h-1.3zm-11 1h1.3v1.3h-1.3zm-24 10h1.3v1.3h-1.3zm1 20h1.3v1.3h-1.3zm6 -27h1.3v1.3h-1.3zm22 6h1.3v1.3h-1.3zm-8 17h1.3v1.3h-1.3zm-13 14h1.3v1.3h-1.3zm2 15h1.3v1.3h-1.3zm-16 -23h1.3v1.3h-1.3zm-14 2h1.3v1.3h-1.3zm16 7h1.3v1.3h-1.3zm11 20h1.3v1.3h-1.3zm-23 -18h1.3v1.3h-1.3zm-7 13h1.3v1.3h-1.3zm46 -42h1.3v1.3h-1.3zm-49 36h1.3v1.3h-1.3zm46 -36h1.3v1.3h-1.3zm-22 27h1.3v1.3h-1.3zm26 -23h1.3v1.3h-1.3zm-8 13h1.3v1.3h-1.3zm-22 -10h1.3v1.3h-1.3zm35 11h1.3v1.3h-1.3zm4 -13h1.3v1.3h-1.3zm-33 16h1.3v1.3h-1.3zm-7 18h1.3v1.3h-1.3zm-10 -13h1.3v1.3h-1.3zm43 -14h1.3v1.3h-1.3zm-71 36h1.3v1.3h-1.3zm34 -22h1.3v1.3h-1.3zm32 -31h1.3v1.3h-1.3zm12 -8h1.3v1.3h-1.3zm-35 40h1.3v1.3h-1.3zm22 -2h1.3v1.3h-1.3zm3 -15h1.3v1.3h-1.3zm-59 12h1.3v1.3h-1.3zm37 15h1.3v1.3h-1.3zm44 -2h1.3v1.3h-1.3zm-11 -62h1.3v1.3h-1.3zm13 -7h1.3v1.3h-1.3zm-36 10h1.3v1.3h-1.3zm-6 72h1.3v1.3h-1.3zm58 -57h1.3v1.3h-1.3zm-27 11h1.3v1.3h-1.3zm-10 -1h1.3v1.3h-1.3zm2 19h1.3v1.3h-1.3zm29 -10h1.3v1.3h-1.3zm-55 11h1.3v1.3h-1.3zm44 -39h1.3v1.3h-1.3zm-37 64h1.3v1.3h-1.3zm-3 -13h1.3v1.3h-1.3zm45 -35h1.3v1.3h-1.3zm-6 5h1.3v1.3h-1.3zm-1 9h1.3v1.3h-1.3zm-51 34h1.3v1.3h-1.3zm31 -58h1.3v1.3h-1.3zm-23 23h1.3v1.3h-1.3zm56 -8h1.3v1.3h-1.3zm-44 0h1.3v1.3h-1.3zm-58 40h1.3v1.3h-1.3zm75 -75h1.3v1.3h-1.3zm-20 23h1.3v1.3h-1.3zm37 -22h1.3v1.3h-1.3zm-2 17h1.3v1.3h-1.3zm-49 36h1.3v1.3h-1.3zm41 -27h1.3v1.3h-1.3zm-19 5h1.3v1.3h-1.3zm6 25h1.3v1.3h-1.3zm-2 -42h1.3v1.3h-1.3zm11 47h1.3v1.3h-1.3zm41 -40h1.3v1.3h-1.3zm-55 5h1.3v1.3h-1.3zm-15 34h1.3v1.3h-1.3zm25 -51h1.3v1.3h-1.3zm-13 6h1.3v1.3h-1.3zm-53 51h1.3v1.3h-1.3zm87 -32h1.3v1.3h-1.3zm-34 31h1.3v1.3h-1.3zm16 -55h1.3v1.3h-1.3zm-30 27h1.3v1.3h-1.3zm61 -31h1.3v1.3h-1.3zm-8 2h1.3v1.3h-1.3zm-44 4h1.3v1.3h-1.3zm69 28h1.3v1.3h-1.3zm-77 10h1.3v1.3h-1.3zm16 -37h1.3v1.3h-1.3zm-22 28h1.3v1.3h-1.3zm3 35h1.3v1.3h-1.3zm31 -51h1.3v1.3h-1.3zm-34 -6h1.3v1.3h-1.3zm24 -9h1.3v1.3h-1.3zm18 -8h1.3v1.3h-1.3zm-29 53h1.3v1.3h-1.3zm44 -39h1.3v1.3h-1.3zm-77 -8h1.3v1.3h-1.3zm29 58h1.3v1.3h-1.3zm1 -36h1.3v1.3h-1.3zm19 -37h1.3v1.3h-1.3zm-52 56h1.3v1.3h-1.3zm61 -45h1.3v1.3h-1.3zm-56 60h1.3v1.3h-1.3zm50 -56h1.3v1.3h-1.3zm-17 24h1.3v1.3h-1.3zm49 -20h1.3v1.3h-1.3zm-15 -16h1.3v1.3h-1.3zm44 40h1.3v1.3h-1.3zm-102 14h1.3v1.3h-1.3zm12 -21h1.3v1.3h-1.3zm17 34h1.3v1.3h-1.3zm-4 -80h1.3v1.3h-1.3zm32 9h1.3v1.3h-1.3zm-33 43h1.3v1.3h-1.3zm1 -14h1.3v1.3h-1.3zm-16 21h1.3v1.3h-1.3zm59 -4h1.3v1.3h-1.3zm30 -47h1.3v1.3h-1.3zm-71 51h1.3v1.3h-1.3zm-43 18h1.3v1.3h-1.3zm37 -42h1.3v1.3h-1.3zm54 -4h1.3v1.3h-1.3zm-87 29h1.3v1.3h-1.3zm68 5h1.3v1.3h-1.3zm-54 13h1.3v1.3h-1.3zm43 -19h1.3v1.3h-1.3zm-70 19h1.3v1.3h-1.3zm80 -30h1.3v1.3h-1.3zm-82 21h1.3v1.3h-1.3zm63 -8h1.3v1.3h-1.3zm-23 2h1.3v1.3h-1.3zm48 -69h1.3v1.3h-1.3zm-59 70h1.3v1.3h-1.3zm6 32h1.3v1.3h-1.3zm34 -35h1.3v1.3h-1.3zm22 -24h1.3v1.3h-1.3zm13 16h1.3v1.3h-1.3zm-13 -29h1.3v1.3h-1.3zm4 30h1.3v1.3h-1.3zm-4 -3h1.3v1.3h-1.3zm-14 1h1.3v1.3h-1.3zm27 -1h1.3v1.3h-1.3zm-8 -2h1.3v1.3h-1.3zm-15 -11h1.3v1.3h-1.3zm9 -24h1.3v1.3h-1.3zm6 38h1.3v1.3h-1.3zm-6 1h1.3v1.3h-1.3zm11 2h1.3v1.3h-1.3zm-4 -15h1.3v1.3h-1.3zm-21 -16h1.3v1.3h-1.3zm3 26h1.3v1.3h-1.3zm27 -13h1.3v1.3h-1.3zm-22 3h1.3v1.3h-1.3zm8 11h1.3v1.3h-1.3zm-8 -15h1.3v1.3h-1.3zm11 22h1.3v1.3h-1.3zm4 -26h1.3v1.3h-1.3zm-22 18h1.3v1.3h-1.3zm14 12h1.3v1.3h-1.3zm-20 -29h1.3v1.3h-1.3zm22 13h1.3v1.3h-1.3zm5 -10h1.3v1.3h-1.3zm-11 15h1.3v1.3h-1.3zm0 -6h1.3v1.3h-1.3zm-6 -5h1.3v1.3h-1.3zm6 -4h1.3v1.3h-1.3zm-10 8h1.3v1.3h-1.3zm16 13h1.3v1.3h-1.3zm-15 -29h1.3v1.3h-1.3zm28 4h1.3v1.3h-1.3zm-18 0h1.3v1.3h-1.3zm-4 -1h1.3v1.3h-1.3zm15 21h1.3v1.3h-1.3zm-9 6h1.3v1.3h-1.3zm-3 -23h1.3v1.3h-1.3zm29 7h1.3v1.3h-1.3zm-31 12h1.3v1.3h-1.3zm20 -13h1.3v1.3h-1.3zm-8 1h1.3v1.3h-1.3zm-10 -7h1.3v1.3h-1.3zm10 2h1.3v1.3h-1.3zm-4 10h1.3v1.3h-1.3zm-12 -18h1.3v1.3h-1.3zm17 2h1.3v1.3h-1.3zm-6 20h1.3v1.3h-1.3zm-10 3h1.3v1.3h-1.3zm5 -14h1.3v1.3h-1.3zm12 -10h1.3v1.3h-1.3zm-17 16h1.3v1.3h-1.3zm-1 2h1.3v1.3h-1.3zm9 -10h1.3v1.3h-1.3zm3 -7h1.3v1.3h-1.3zm-14 19h1.3v1.3h-1.3zm9 -17h1.3v1.3h-1.3zm4 23h1.3v1.3h-1.3zm-3 -13h1.3v1.3h-1.3zm7 9h1.3v1.3h-1.3zm-12 -6h1.3v1.3h-1.3zm2 -2h1.3v1.3h-1.3zm9 11h1.3v1.3h-1.3zm-14 -38h1.3v1.3h-1.3zm7 26h1.3v1.3h-1.3zm-11 -9h1.3v1.3h-1.3zm21 -6h1.3v1.3h-1.3zm-6 2h1.3v1.3h-1.3zm0 31h1.3v1.3h-1.3zm6 -19h1.3v1.3h-1.3zm-5 -1h1.3v1.3h-1.3zm-10 -16h1.3v1.3h-1.3zm29 4h1.3v1.3h-1.3zm-21 13h1.3v1.3h-1.3zm2 22h1.3v1.3h-1.3zm4 -23h1.3v1.3h-1.3zm-10 0h1.3v1.3h-1.3zm9 0h1.3v1.3h-1.3zm6 -2h1.3v1.3h-1.3zm-23 4h1.3v1.3h-1.3zm29 0h1.3v1.3h-1.3zm-23 -1h1.3v1.3h-1.3zm6 -3h1.3v1.3h-1.3zm-2 2h1.3v1.3h-1.3zm-12 13h1.3v1.3h-1.3zm14 -19h1.3v1.3h-1.3zm13 14h1.3v1.3h-1.3zm-12 -4h1.3v1.3h-1.3zm-2 -20h1.3v1.3h-1.3zm9 16h1.3v1.3h-1.3zm-20 -1h1.3v1.3h-1.3zm-1 7h1.3v1.3h-1.3zm4 15h1.3v1.3h-1.3zm5 -34h1.3v1.3h-1.3zm8 -16h1.3v1.3h-1.3zm-8 50h1.3v1.3h-1.3zm-1 -11h1.3v1.3h-1.3zm21 -12h1.3v1.3h-1.3zm-20 8h1.3v1.3h-1.3zm6 -27h1.3v1.3h-1.3zm-5 27h1.3v1.3h-1.3zm14 -5h1.3v1.3h-1.3zm-4 -19h1.3v1.3h-1.3zm5 6h1.3v1.3h-1.3zm-17 18h1.3v1.3h-1.3zm4 9h1.3v1.3h-1.3zm-1 19h1.3v1.3h-1.3zm2 -32h1.3v1.3h-1.3zm13 -16h1.3v1.3h-1.3zm-1 5h1.3v1.3h-1.3zm-23 -3h1.3v1.3h-1.3zm10 1h1.3v1.3h-1.3zm13 32h1.3v1.3h-1.3zm-11 -29h1.3v1.3h-1.3zm-13 -2h1.3v1.3h-1.3zm7 19h1.3v1.3h-1.3zm-3 -6h1.3v1.3h-1.3zm8 -20h1.3v1.3h-1.3zm-3 34h1.3v1.3h-1.3zm7 -14h1.3v1.3h-1.3zm-12 -16h1.3v1.3h-1.3zm29 22h1.3v1.3h-1.3zm-37 -102h1.3v1.3h-1.3zm-42 36h1.3v1.3h-1.3zm31 -19h1.3v1.3h-1.3zm-2 -9h1.3v1.3h-1.3zm12 -1h1.3v1.3h-1.3zm-11 32h1.3v1.3h-1.3zm-1 -40h1.3v1.3h-1.3zm-4 -1h1.3v1.3h-1.3zm-6 38h1.3v1.3h-1.3zm5 -19h1.3v1.3h-1.3zm-17 -9h1.3v1.3h-1.3zm22 -15h1.3v1.3h-1.3zm6 24h1.3v1.3h-1.3zm-36 -6h1.3v1.3h-1.3zm33 19h1.3v1.3h-1.3zm-14 19h1.3v1.3h-1.3zm-33 -48h1.3v1.3h-1.3zm37 26h1.3v1.3h-1.3zm-28 5h1.3v1.3h-1.3zm26 12h1.3v1.3h-1.3zm-1 -35h1.3v1.3h-1.3zm-15 42h1.3v1.3h-1.3zm-12 -34h1.3v1.3h-1.3zm40 11h1.3v1.3h-1.3zm-15 -11h1.3v1.3h-1.3zm-22 14h1.3v1.3h-1.3zm16 13h1.3v1.3h-1.3zm-11 -15h1.3v1.3h-1.3zm37 -17h1.3v1.3h-1.3zm-48 -3h1.3v1.3h-1.3zm43 25h1.3v1.3h-1.3zm-23 -10h1.3v1.3h-1.3zm-46 -21h1.3v1.3h-1.3zm42 13h1.3v1.3h-1.3zm38 4h1.3v1.3h-1.3zm-19 2h1.3v1.3h-1.3zm-1 -5h1.3v1.3h-1.3zm-13 14h1.3v1.3h-1.3zm-2 -50h1.3v1.3h-1.3zm-6 57h1.3v1.3h-1.3zm-5 -11h1.3v1.3h-1.3zm38 -18h1.3v1.3h-1.3zm-26 -10h1.3v1.3h-1.3zm-9 24h1.3v1.3h-1.3zm3 11h1.3v1.3h-1.3zm29 -26h1.3v1.3h-1.3zm-8 27h1.3v1.3h-1.3zm-8 4h1.3v1.3h-1.3zm1 -16h1.3v1.3h-1.3zm-6 16h1.3v1.3h-1.3zm-3 -19h1.3v1.3h-1.3zm-7 12h1.3v1.3h-1.3zm69 -1h1.3v1.3h-1.3zm-7 -30h1.3v1.3h-1.3zm8 16h1.3v1.3h-1.3zm7 -16h1.3v1.3h-1.3zm0 -2h1.3v1.3h-1.3zm-6 11h1.3v1.3h-1.3zm-35 23h1.3v1.3h-1.3zm49 -4h1.3v1.3h-1.3z"/>
<path fill="#30b060" d="M0 0m376 164h1.3v1.3h-1.3zm-10 6h1.3v1.3h-1.3zm13 -3h1.3v1.3h-1.3zm-2 -4h1.3v1.3h-1.3zm3 -3h1.3v1.3h-1.3zm-4 3h1.3v1.3h-1.3zm-5 1h1.3v1.3h-1.3zm8 -1h1.3v1.3h-1.3zm-2 2h1.3v1.3h-1.3zm-4 0h1.3v1.3h-1.3zm-6 6h1.3v1.3h-1.3zm13 -4h1.3v1.3h-1.3zm-11 -1h1.3v1.3h-1.3zm1 10h1.3v1.3h-1.3zm5 -12h1.3v1.3h-1.3zm3 7h1.3v1.3h-1.3zm-1 -5h1.3v1.3h-1.3zm3 3h1.3v1.3h-1.3zm-14 -2h1.3v1.3h-1.3zm-3 7h1.3v1.3h-1.3zm17 -13h1.3v1.3h-1.3zm-6 15h1.3v1.3h-1.3zm2 -10h1.3v1.3h-1.3zm-8 1h1.3v1.3h-1.3zm14 1h1.3v1.3h-1.3zm-5 6h1.3v1.3h-1.3zm4 -14h1.3v1.3h-1.3zm1 8h1.3v1.3h-1.3zm-4 0h1.3v1.3h-1.3zm-3 7h1.3v1.3h-1.3zm-2 -10h1.3v1.3h-1.3zm-4 9h1.3v1.3h-1.3zm-3 3h1.3v1.3h-1.3zm18 -12h1.3v1.3h-1.3zm-20 12h1.3v1.3h-1.3zm19 -9h1.3v1.3h-1.3zm-15 1h1.3v1.3h-1.3zm-2 -5h1.3v1.3h-1.3zm7 15h1.3v1.3h-1.3zm-4 -4h1.3v1.3h-1.3zm5 -7h1.3v1.3h-1.3zm4 -1h1.3v1.3h-1.3zm-1 -1h1.3v1.3h-1.3zm-1 6h1.3v1.3h-1.3zm-9 5h1.3v1.3h-1.3zm11 -11h1.3v1.3h-1.3zm-7 5h1.3v1.3h-1.3zm-4 9h1.3v1.3h-1.3zm3 -10h1.3v1.3h-1.3zm-1 4h1.3v1.3h-1.3zm6 -5h1.3v1.3h-1.3zm-5 4h1.3v1.3h-1.3zm-1 7h1.3v1.3h-1.3zm-1 -14h1.3v1.3h-1.3zm8 3h1.3v1.3h-1.3zm-1 -1h1.3v1.3h-1.3zm-13 11h1.3v1.3h-1.3zm12 -2h1.3v1.3h-1.3zm-6 -5h1.3v1.3h-1.3zm3 0h1.3v1.3h-1.3zm0 -1h1.3v1.3h-1.3zm-1 2h1.3v1.3h-1.3zm-3 -4h1.3v1.3h-1.3zm3 1h1.3v1.3h-1.3zm-4 9h1.3v1.3h-1.3zm9 -13h1.3v1.3h-1.3zm-7 4h1.3v1.3h-1.3zm8 -5h1.3v1.3h-1.3zm-3 2h1.3v1.3h-1.3zm5 6h1.3v1.3h-1.3zm-7 3h1.3v1.3h-1.3zm4 -5h1.3v1.3h-1.3zm-8 -4h1.3v1.3h-1.3zm1 12h1.3v1.3h-1.3z"/>
<path fill="#d8e040" d="M0 0m379 167h1.3v1.3h-1.3zm-8 9h1.3v1.3h-1.3zm1 -11h1.3v1.3h-1.3zm-5 4h1.3v1.3h-1.3zm6 1h1.3v1.3h-1.3zm-3 2h1.3v1.3h-1.3zm2 -2h1.3v1.3h-1.3zm9 0h1.3v1.3h-1.3zm-7 5h1.3v1.3h-1.3zm2 -15h1.3v1.3h-1.3zm-2 9h1.3v1.3h-1.3zm4 0h1.3v1.3h-1.3zm0 -6h1.3v1.3h-1.3zm-1 9h1.3v1.3h-1.3zm-7 3h1.3v1.3h-1.3zm7 -8h1.3v1.3h-1.3zm-8 9h1.3v1.3h-1.3zm4 -5h1.3v1.3h-1.3zm-5 -5h1.3v1.3h-1.3zm3 10h1.3v1.3h-1.3zm9 -15h1.3v1.3h-1.3zm-1 2h1.3v1.3h-1.3zm-7 7h1.3v1.3h-1.3zm-2 -6h1.3v1.3h-1.3zm9 -2h1.3v1.3h-1.3zm-8 3h1.3v1.3h-1.3zm10 -2h1.3v1.3h-1.3zm-4 5h1.3v1.3h-1.3zm-10 7h1.3v1.3h-1.3zm16 -8h1.3v1.3h-1.3zm-15 -2h1.3v1.3h-1.3zm3 12h1.3v1.3h-1.3zm4 -9h1.3v1.3h-1.3zm-1 0h1.3v1.3h-1.3zm-6 8h1.3v1.3h-1.3zm-1 -5h1.3v1.3h-1.3zm7 -4h1.3v1.3h-1.3zm0 -2h1.3v1.3h-1.3zm-7 11h1.3v1.3h-1.3zm7 -6h1.3v1.3h-1.3zm-2 -2h1.3v1.3h-1.3zm-6 1h1.3v1.3h-1.3zm12 -5h1.3v1.3h-1.3z"/>
<path fill="#e03020" d="M0 0m381 168h1.3v1.3h-1.3zm-3 -3h1.3v1.3h-1.3zm-6 -2h1.3v1.3h-1.3zm5 5h1.3v1.3h-1.3zm-4 -6h1.3v1.3h-1.3z"/>
<rect x="312" y="21.2" width="175.7" height="192.8" fill="none" stroke="#000" stroke-width="1.4"/>
<line x1="312" y1="116.8" x2="487.7" y2="116.8" stroke="#000" stroke-width="1.9"/>
<line x1="399" y1="21.2" x2="399" y2="214" stroke="#000" stroke-width="1.9"/>
<path d="M307.5 214H312M312 214V218.5M309.5 199.34H312M325.25 214V216.5M309.5 190.76H312M332.99 214V216.5M309.5 184.68H312M338.49 214V216.5M309.5 179.96H312M342.75 214V216.5M309.5 176.1H312M346.24 214V216.5M309.5 172.84H312M349.18 214V216.5M309.5 170.02H312M351.74 214V216.5M309.5 167.53H312M353.99 214V216.5M307.5 165.3H312M356 214V218.5M309.5 150.7H312M368.94 214V216.5M309.5 142.16H312M376.52 214V216.5M309.5 136.1H312M381.89 214V216.5M309.5 131.4H312M386.06 214V216.5M309.5 127.56H312M389.46 214V216.5M309.5 124.31H312M392.34 214V216.5M309.5 121.5H312M394.83 214V216.5M309.5 119.02H312M397.03 214V216.5M307.5 116.8H312M399 214V218.5M309.5 102.5H312M412.25 214V216.5M309.5 94.14H312M419.99 214V216.5M309.5 88.2H312M425.49 214V216.5M309.5 83.6H312M429.75 214V216.5M309.5 79.84H312M433.24 214V216.5M309.5 76.66H312M436.18 214V216.5M309.5 73.9H312M438.74 214V216.5M309.5 71.47H312M440.99 214V216.5M307.5 69.3H312M443 214V218.5M309.5 54.82H312M456.46 214V216.5M309.5 46.35H312M464.33 214V216.5M309.5 40.34H312M469.91 214V216.5M309.5 35.68H312M474.24 214V216.5M309.5 31.87H312M477.78 214V216.5M309.5 28.65H312M480.78 214V216.5M309.5 25.86H312M483.37 214V216.5M309.5 23.4H312M485.65 214V216.5M307.5 21.2H312M487.7 214V218.5" stroke="#000" stroke-width="1.1" fill="none"/>
<text x="292.7" y="213.9" font-size="7.3" stroke="#000" stroke-width="0.28">10</text>
<text x="300.4" y="207.6" font-size="7.3" stroke="#000" stroke-width="0.28">0</text>
<text x="315.2" y="236.2" font-size="7.3" stroke="#000" stroke-width="0.28">10</text>
<text x="322.5" y="230.2" font-size="7.3" stroke="#000" stroke-width="0.28">0</text>
<text x="292.7" y="170.8" font-size="7.3" stroke="#000" stroke-width="0.28">10</text>
<text x="300.4" y="164.5" font-size="7.3" stroke="#000" stroke-width="0.28">1</text>
<text x="353.5" y="236.2" font-size="7.3" stroke="#000" stroke-width="0.28">10</text>
<text x="360.8" y="230.2" font-size="7.3" stroke="#000" stroke-width="0.28">1</text>
<text x="292.7" y="122.3" font-size="7.3" stroke="#000" stroke-width="0.28">10</text>
<text x="300.4" y="116" font-size="7.3" stroke="#000" stroke-width="0.28">2</text>
<text x="396.5" y="236.2" font-size="7.3" stroke="#000" stroke-width="0.28">10</text>
<text x="403.8" y="230.2" font-size="7.3" stroke="#000" stroke-width="0.28">2</text>
<text x="292.7" y="74.8" font-size="7.3" stroke="#000" stroke-width="0.28">10</text>
<text x="300.4" y="68.5" font-size="7.3" stroke="#000" stroke-width="0.28">3</text>
<text x="440.5" y="236.2" font-size="7.3" stroke="#000" stroke-width="0.28">10</text>
<text x="447.8" y="230.2" font-size="7.3" stroke="#000" stroke-width="0.28">3</text>
<text x="292.7" y="34.7" font-size="7.3" stroke="#000" stroke-width="0.28">10</text>
<text x="300.4" y="28.4" font-size="7.3" stroke="#000" stroke-width="0.28">4</text>
<text x="477.1" y="236.2" font-size="7.3" stroke="#000" stroke-width="0.28">10</text>
<text x="484.4" y="230.2" font-size="7.3" stroke="#000" stroke-width="0.28">4</text>
<text transform="translate(315 36.8) scale(0.95 1)" font-size="9" stroke="#000" stroke-width="0.2" text-anchor="start">Q1</text>
<text transform="translate(315 48.9) scale(0.95 1)" font-size="9" stroke="#000" stroke-width="0.2" text-anchor="start">4.95</text>
<text transform="translate(472.7 36.8) scale(0.95 1)" font-size="9" stroke="#000" stroke-width="0.2" text-anchor="end">Q2</text>
<text transform="translate(472.7 48.9) scale(0.95 1)" font-size="9" stroke="#000" stroke-width="0.2" text-anchor="end">0.87</text>
<text transform="translate(315 193) scale(0.95 1)" font-size="9" stroke="#000" stroke-width="0.2" text-anchor="start">Q4</text>
<text transform="translate(315 204.8) scale(0.95 1)" font-size="9" stroke="#000" stroke-width="0.2" text-anchor="start">78.5</text>
<text transform="translate(472.7 193) scale(0.95 1)" font-size="9" stroke="#000" stroke-width="0.2" text-anchor="end">Q3</text>
<text transform="translate(472.7 204.8) scale(0.95 1)" font-size="9" stroke="#000" stroke-width="0.2" text-anchor="end">15.7</text>
<text transform="translate(283 116.2) rotate(-90)" font-size="11" font-weight="bold" fill="#cc1020" text-anchor="middle">PI</text>
<text x="397.8" y="261.1" font-size="13" font-weight="bold" fill="#1ea84e" text-anchor="middle">Annexin FITC</text>
<g filter="url(#bl)"><path fill="#98a0e6" d="M0 0m616 51.5h1.5v1.5h-1.5zm-10 33h1.5v1.5h-1.5zm7.5 -18h1.5v1.5h-1.5zm3.5 -4h1.5v1.5h-1.5zm1 18h1.5v1.5h-1.5zm7.5 -24h1.5v1.5h-1.5zm-12.5 18h1.5v1.5h-1.5zm10 2h1.5v1.5h-1.5zm-22.5 -12h1.5v1.5h-1.5zm12.5 9h1.5v1.5h-1.5zm-1 2h1.5v1.5h-1.5zm8.5 -20h1.5v1.5h-1.5zm-9 17.5h1.5v1.5h-1.5zm12.5 -13.5h1.5v1.5h-1.5zm-7 21h1.5v1.5h-1.5zm-6 -12.5h1.5v1.5h-1.5zm-0.5 -6h1.5v1.5h-1.5zm2 17h1.5v1.5h-1.5zm5.5 7h1.5v1.5h-1.5zm-4.5 -3h1.5v1.5h-1.5zm2.5 -5.5h1.5v1.5h-1.5zm5 -4h1.5v1.5h-1.5zm-7.5 -11h1.5v1.5h-1.5zm9.5 2.5h1.5v1.5h-1.5zm-17.5 18.5h1.5v1.5h-1.5zm20.5 -13.5h1.5v1.5h-1.5zm-8 11h1.5v1.5h-1.5zm6 4.5h1.5v1.5h-1.5zm-11 -27h1.5v1.5h-1.5zm7.5 -4.5h1.5v1.5h-1.5zm-3.5 -8.5h1.5v1.5h-1.5zm-1.5 21h1.5v1.5h-1.5zm15 -0.5h1.5v1.5h-1.5zm-18 12h1.5v1.5h-1.5zm21.5 -3.5h1.5v1.5h-1.5zm-15.5 3h1.5v1.5h-1.5zm15.5 -19.5h1.5v1.5h-1.5zm-21 12.5h1.5v1.5h-1.5zm14.5 -1h1.5v1.5h-1.5zm4 14.5h1.5v1.5h-1.5zm-14 -18.5h1.5v1.5h-1.5zm1 14.5h1.5v1.5h-1.5zm8.5 -4.5h1.5v1.5h-1.5zm-5.5 -10h1.5v1.5h-1.5zm-12.5 -2.5h1.5v1.5h-1.5zm4 3.5h1.5v1.5h-1.5zm2 -11h1.5v1.5h-1.5zm-7 12h1.5v1.5h-1.5zm21 8.5h1.5v1.5h-1.5zm-17.5 2.5h1.5v1.5h-1.5zm13 14h1.5v1.5h-1.5zm-8.5 -10h1.5v1.5h-1.5zm1 3.5h1.5v1.5h-1.5zm-1 -25.5h1.5v1.5h-1.5zm-3 18.5h1.5v1.5h-1.5zm25 -18.5h1.5v1.5h-1.5zm-23.5 1.5h1.5v1.5h-1.5zm-0.5 9.5h1.5v1.5h-1.5zm-15 -0.5h1.5v1.5h-1.5zm16 -16.5h1.5v1.5h-1.5zm13.5 17h1.5v1.5h-1.5zm-8 -14h1.5v1.5h-1.5zm-1 16h1.5v1.5h-1.5zm-2.5 12.5h1.5v1.5h-1.5zm17 -13h1.5v1.5h-1.5zm-6 9h1.5v1.5h-1.5zm-9.5 19h1.5v1.5h-1.5zm10.5 -19h1.5v1.5h-1.5zm-9 17.5h1.5v1.5h-1.5zm6.5 -18h1.5v1.5h-1.5zm-2.5 16h1.5v1.5h-1.5zm6 -23h1.5v1.5h-1.5zm2 2h1.5v1.5h-1.5zm2 -2h1.5v1.5h-1.5zm1 26h1.5v1.5h-1.5zm-17 -7.5h1.5v1.5h-1.5zm9 -16.5h1.5v1.5h-1.5zm-3.5 16h1.5v1.5h-1.5zm-8 -11h1.5v1.5h-1.5zm3 6h1.5v1.5h-1.5zm10.5 2.5h1.5v1.5h-1.5zm0 3.5h1.5v1.5h-1.5zm10 -5.5h1.5v1.5h-1.5zm-1 -7h1.5v1.5h-1.5zm-19.5 16h1.5v1.5h-1.5zm13 -16.5h1.5v1.5h-1.5zm7 7.5h1.5v1.5h-1.5zm1 1.5h1.5v1.5h-1.5zm-16.5 -5.5h1.5v1.5h-1.5zm9.5 -12.5h1.5v1.5h-1.5zm0.5 29.5h1.5v1.5h-1.5zm7 -22.5h1.5v1.5h-1.5zm-5.5 -3h1.5v1.5h-1.5zm2 6.5h1.5v1.5h-1.5zm-12.5 -1.5h1.5v1.5h-1.5zm8.5 19h1.5v1.5h-1.5zm-14 -6.5h1.5v1.5h-1.5zm11.5 -13h1.5v1.5h-1.5zm6.5 15h1.5v1.5h-1.5zm-2.5 -3.5h1.5v1.5h-1.5zm3 -22.5h1.5v1.5h-1.5zm-26.5 12.5h1.5v1.5h-1.5zm4.5 26.5h1.5v1.5h-1.5zm3.5 10.5h1.5v1.5h-1.5zm11.5 -8h1.5v1.5h-1.5zm-17 -13.5h1.5v1.5h-1.5zm6 4.5h1.5v1.5h-1.5zm11 19h1.5v1.5h-1.5zm-17.5 -17h1.5v1.5h-1.5zm7.5 5.5h1.5v1.5h-1.5zm-9 -12h1.5v1.5h-1.5zm4.5 11.5h1.5v1.5h-1.5zm16 -3h1.5v1.5h-1.5zm-9 5h1.5v1.5h-1.5zm3 -4h1.5v1.5h-1.5zm-10.5 -13h1.5v1.5h-1.5zm8 25h1.5v1.5h-1.5zm-11 -18.5h1.5v1.5h-1.5zm0 14h1.5v1.5h-1.5zm16 3h1.5v1.5h-1.5zm-4 -20.5h1.5v1.5h-1.5zm-3 -3h1.5v1.5h-1.5zm-9 -1h1.5v1.5h-1.5zm1 19.5h1.5v1.5h-1.5zm3.5 -19.5h1.5v1.5h-1.5zm-3 17.5h1.5v1.5h-1.5zm9.5 1h1.5v1.5h-1.5zm7.5 -11h1.5v1.5h-1.5zm-11 5.5h1.5v1.5h-1.5zm7 3.5h1.5v1.5h-1.5zm-10 -1.5h1.5v1.5h-1.5zm1.5 0h1.5v1.5h-1.5zm10 -8.5h1.5v1.5h-1.5zm-9.5 22.5h1.5v1.5h-1.5zm-0.5 0h1.5v1.5h-1.5zm8.5 -28h1.5v1.5h-1.5zm-14 5.5h1.5v1.5h-1.5zm1 -2.5h1.5v1.5h-1.5zm-3.5 25h1.5v1.5h-1.5zm20.5 -29h1.5v1.5h-1.5zm0 18.5h1.5v1.5h-1.5zm1 0h1.5v1.5h-1.5zm-1 -10.5h1.5v1.5h-1.5zm-21.5 15h1.5v1.5h-1.5zm11.5 -8h1.5v1.5h-1.5zm-7.5 -8h1.5v1.5h-1.5zm-1.5 -1h1.5v1.5h-1.5zm6 9h1.5v1.5h-1.5zm-8.5 -7.5h1.5v1.5h-1.5zm4.5 14h1.5v1.5h-1.5zm2 -18.5h1.5v1.5h-1.5zm-0.5 25.5h1.5v1.5h-1.5zm3.5 -11.5h1.5v1.5h-1.5zm-12 14h1.5v1.5h-1.5zm22 19h1.5v1.5h-1.5zm8.5 -4.5h1.5v1.5h-1.5zm-19.5 -12.5h1.5v1.5h-1.5zm-6 -8.5h1.5v1.5h-1.5zm14 -9h1.5v1.5h-1.5zm7.5 40.5h1.5v1.5h-1.5zm-14 -24h1.5v1.5h-1.5zm4 5h1.5v1.5h-1.5zm8.5 5.5h1.5v1.5h-1.5zm-3 -2h1.5v1.5h-1.5zm-15 -16.5h1.5v1.5h-1.5zm2.5 12h1.5v1.5h-1.5zm28 -15h1.5v1.5h-1.5zm-14 20h1.5v1.5h-1.5zm9.5 -18.5h1.5v1.5h-1.5zm-17 -1h1.5v1.5h-1.5zm1.5 21h1.5v1.5h-1.5zm9 -4.5h1.5v1.5h-1.5zm-13.5 -0.5h1.5v1.5h-1.5zm7.5 7.5h1.5v1.5h-1.5zm-1 -20.5h1.5v1.5h-1.5zm-7 -8.5h1.5v1.5h-1.5zm10.5 22.5h1.5v1.5h-1.5zm-21.5 -10h1.5v1.5h-1.5zm26 -7.5h1.5v1.5h-1.5zm4 12h1.5v1.5h-1.5zm-2.5 -2.5h1.5v1.5h-1.5zm-21.5 12.5h1.5v1.5h-1.5zm20.5 -11.5h1.5v1.5h-1.5zm-16.5 11h1.5v1.5h-1.5zm-3 -4.5h1.5v1.5h-1.5zm8.5 -5h1.5v1.5h-1.5zm7.5 -3h1.5v1.5h-1.5zm-7.5 13.5h1.5v1.5h-1.5zm4.5 -13.5h1.5v1.5h-1.5zm-8.5 10h1.5v1.5h-1.5zm14 2h1.5v1.5h-1.5zm-15 -3.5h1.5v1.5h-1.5zm-1 -6h1.5v1.5h-1.5zm14.5 -13.5h1.5v1.5h-1.5zm-11.5 9h1.5v1.5h-1.5zm20.5 11h1.5v1.5h-1.5zm-18.5 3h1.5v1.5h-1.5zm12 -15h1.5v1.5h-1.5zm-13 22.5h1.5v1.5h-1.5zm9 8h1.5v1.5h-1.5zm-13.5 -1h1.5v1.5h-1.5zm5.5 6h1.5v1.5h-1.5zm5 -6h1.5v1.5h-1.5zm-12.5 -7.5h1.5v1.5h-1.5zm6.5 12.5h1.5v1.5h-1.5zm-16.5 -23.5h1.5v1.5h-1.5zm9 11h1.5v1.5h-1.5zm12.5 -2.5h1.5v1.5h-1.5zm-18.5 10h1.5v1.5h-1.5zm-1 5.5h1.5v1.5h-1.5zm5.5 -1h1.5v1.5h-1.5zm10 -6.5h1.5v1.5h-1.5zm-1.5 26h1.5v1.5h-1.5zm-3 -22.5h1.5v1.5h-1.5zm0 5.5h1.5v1.5h-1.5zm14 -17.5h1.5v1.5h-1.5zm-15.5 14.5h1.5v1.5h-1.5zm-3.5 -6.5h1.5v1.5h-1.5zm-1.5 1.5h1.5v1.5h-1.5zm3 3h1.5v1.5h-1.5zm1.5 -2h1.5v1.5h-1.5zm1 -4h1.5v1.5h-1.5zm-16.5 2.5h1.5v1.5h-1.5zm27.5 -16h1.5v1.5h-1.5zm-4.5 21h1.5v1.5h-1.5zm-12 -4.5h1.5v1.5h-1.5zm5.5 -2h1.5v1.5h-1.5zm9 -20h1.5v1.5h-1.5zm-15 29.5h1.5v1.5h-1.5zm-5 -4.5h1.5v1.5h-1.5zm4.5 12.5h1.5v1.5h-1.5zm11 4h1.5v1.5h-1.5zm0 -26.5h1.5v1.5h-1.5zm0.5 9.5h1.5v1.5h-1.5zm-9.5 -8h1.5v1.5h-1.5zm12.5 14.5h1.5v1.5h-1.5zm-1.5 3h1.5v1.5h-1.5zm-4.5 -23.5h1.5v1.5h-1.5zm-3 13.5h1.5v1.5h-1.5zm2 -10.5h1.5v1.5h-1.5zm-10 4h1.5v1.5h-1.5zm20.5 9h1.5v1.5h-1.5zm-5 11.5h1.5v1.5h-1.5zm0 -35.5h1.5v1.5h-1.5zm-9.5 2.5h1.5v1.5h-1.5zm-2 3h1.5v1.5h-1.5zm12.5 24h1.5v1.5h-1.5zm-5.5 -24h1.5v1.5h-1.5zm-1 15.5h1.5v1.5h-1.5zm7.5 5.5h1.5v1.5h-1.5zm-12.5 -11.5h1.5v1.5h-1.5zm-6.5 -2h1.5v1.5h-1.5zm14.5 31.5h1.5v1.5h-1.5zm-7 -12.5h1.5v1.5h-1.5zm1 -13.5h1.5v1.5h-1.5zm0 -19.5h1.5v1.5h-1.5zm-3 32.5h1.5v1.5h-1.5zm3.5 -20h1.5v1.5h-1.5zm-1 22h1.5v1.5h-1.5zm4.5 -42h1.5v1.5h-1.5zm10 16.5h1.5v1.5h-1.5zm-0.5 10.5h1.5v1.5h-1.5zm-17 -1.5h1.5v1.5h-1.5zm3.5 11h1.5v1.5h-1.5zm-4 -8.5h1.5v1.5h-1.5zm1 14.5h1.5v1.5h-1.5zm-1 -11.5h1.5v1.5h-1.5zm0.5 -23.5h1.5v1.5h-1.5zm13 23h1.5v1.5h-1.5zm-1 1h1.5v1.5h-1.5zm-8 -21h1.5v1.5h-1.5zm14 40.5h1.5v1.5h-1.5zm3.5 -10.5h1.5v1.5h-1.5zm-10 -8h1.5v1.5h-1.5zm9 14h1.5v1.5h-1.5zm-13 -8.5h1.5v1.5h-1.5zm9.5 -5.5h1.5v1.5h-1.5zm8.5 13h1.5v1.5h-1.5zm-9.5 -10.5h1.5v1.5h-1.5zm-16 6.5h1.5v1.5h-1.5zm18 1.5h1.5v1.5h-1.5zm1.5 -7.5h1.5v1.5h-1.5zm9.5 3.5h1.5v1.5h-1.5zm-22.5 14h1.5v1.5h-1.5zm9 6h1.5v1.5h-1.5zm18.5 -18.5h1.5v1.5h-1.5zm-25.5 11.5h1.5v1.5h-1.5zm13 -1.5h1.5v1.5h-1.5zm-10.5 -25h1.5v1.5h-1.5zm16.5 10h1.5v1.5h-1.5zm-2.5 3.5h1.5v1.5h-1.5zm-12.5 4h1.5v1.5h-1.5zm4.5 7h1.5v1.5h-1.5zm4 -7.5h1.5v1.5h-1.5zm-9.5 9.5h1.5v1.5h-1.5zm7.5 -14h1.5v1.5h-1.5zm-6 5.5h1.5v1.5h-1.5zm8.5 19h1.5v1.5h-1.5zm-17.5 -9.5h1.5v1.5h-1.5zm3 -5h1.5v1.5h-1.5zm18.5 -16h1.5v1.5h-1.5zm-15.5 1.5h1.5v1.5h-1.5zm-4 5h1.5v1.5h-1.5zm6.5 -6h1.5v1.5h-1.5zm8.5 -1h1.5v1.5h-1.5zm-8 13.5h1.5v1.5h-1.5zm9.5 1h1.5v1.5h-1.5zm-5.5 15h1.5v1.5h-1.5zm-10 -20.5h1.5v1.5h-1.5zm-9 5.5h1.5v1.5h-1.5zm1.5 -5.5h1.5v1.5h-1.5zm19 9.5h1.5v1.5h-1.5zm-11 -3h1.5v1.5h-1.5zm4 10h1.5v1.5h-1.5zm-4 11.5h1.5v1.5h-1.5zm2.5 -9h1.5v1.5h-1.5zm-16 -9h1.5v1.5h-1.5zm2 0.5h1.5v1.5h-1.5zm8 27.5h1.5v1.5h-1.5zm5 -13.5h1.5v1.5h-1.5zm16.5 0h1.5v1.5h-1.5zm-10 0h1.5v1.5h-1.5zm-7 -7.5h1.5v1.5h-1.5zm4 -6h1.5v1.5h-1.5zm-9 26h1.5v1.5h-1.5zm0 -12.5h1.5v1.5h-1.5zm6.5 0h1.5v1.5h-1.5zm-3 -7h1.5v1.5h-1.5zm1 -11.5h1.5v1.5h-1.5zm0.5 6h1.5v1.5h-1.5zm-3.5 28h1.5v1.5h-1.5zm1.5 -19.5h1.5v1.5h-1.5zm8.5 13h1.5v1.5h-1.5zm-17.5 -5h1.5v1.5h-1.5zm18 -7h1.5v1.5h-1.5zm-4.5 -5.5h1.5v1.5h-1.5zm-14.5 -12h1.5v1.5h-1.5zm23 25.5h1.5v1.5h-1.5zm1 4h1.5v1.5h-1.5zm-14.5 -21.5h1.5v1.5h-1.5zm11 2h1.5v1.5h-1.5zm-5.5 4.5h1.5v1.5h-1.5zm1 0h1.5v1.5h-1.5zm-4 10.5h1.5v1.5h-1.5zm6.5 -6h1.5v1.5h-1.5zm-1 5.5h1.5v1.5h-1.5zm-13 -4h1.5v1.5h-1.5zm2 -7h1.5v1.5h-1.5zm1 4h1.5v1.5h-1.5zm-1 0h1.5v1.5h-1.5zm-6 9.5h1.5v1.5h-1.5zm9 -2h1.5v1.5h-1.5zm5 -0.5h1.5v1.5h-1.5zm-14.5 -16.5h1.5v1.5h-1.5zm0 2.5h1.5v1.5h-1.5zm0.5 12h1.5v1.5h-1.5zm7 -3.5h1.5v1.5h-1.5zm6 -14.5h1.5v1.5h-1.5zm1 25.5h1.5v1.5h-1.5zm-4.5 -4.5h1.5v1.5h-1.5zm-8.5 6h1.5v1.5h-1.5zm9 0h1.5v1.5h-1.5zm-6 -5.5h1.5v1.5h-1.5zm10 20.5h1.5v1.5h-1.5zm-7.5 -11.5h1.5v1.5h-1.5zm-6 -17h1.5v1.5h-1.5zm10.5 21.5h1.5v1.5h-1.5zm-11.5 -11h1.5v1.5h-1.5zm10 -0.5h1.5v1.5h-1.5zm1 9h1.5v1.5h-1.5zm6.5 -9.5h1.5v1.5h-1.5zm-3.5 3h1.5v1.5h-1.5zm0 -5.5h1.5v1.5h-1.5zm-9 -6.5h1.5v1.5h-1.5zm9 8h1.5v1.5h-1.5zm-2.5 -5.5h1.5v1.5h-1.5zm-14 12h1.5v1.5h-1.5zm-3 5.5h1.5v1.5h-1.5zm7 0.5h1.5v1.5h-1.5zm7 -5.5h1.5v1.5h-1.5zm-8.5 -4h1.5v1.5h-1.5zm12 1h1.5v1.5h-1.5zm-11 7.5h1.5v1.5h-1.5zm11 -10h1.5v1.5h-1.5zm-8 3.5h1.5v1.5h-1.5zm-1 11.5h1.5v1.5h-1.5zm12.5 -9.5h1.5v1.5h-1.5zm-1.5 3.5h1.5v1.5h-1.5zm-3 0.5h1.5v1.5h-1.5zm-7.5 5h1.5v1.5h-1.5zm12.5 -11.5h1.5v1.5h-1.5zm-7.5 14h1.5v1.5h-1.5zm0.5 -19h1.5v1.5h-1.5zm-10.5 14.5h1.5v1.5h-1.5zm13.5 -7h1.5v1.5h-1.5zm28 -58h1.5v1.5h-1.5zm12.5 -26.5h1.5v1.5h-1.5zm-8.5 34.5h1.5v1.5h-1.5zm-21.5 -37.5h1.5v1.5h-1.5zm12.5 29.5h1.5v1.5h-1.5zm-13.5 -58.5h1.5v1.5h-1.5zm-7.5 61h1.5v1.5h-1.5zm9 -40h1.5v1.5h-1.5zm6 42h1.5v1.5h-1.5zm-5 -60.5h1.5v1.5h-1.5zm21 69h1.5v1.5h-1.5zm-8 -29h1.5v1.5h-1.5zm-12.5 7.5h1.5v1.5h-1.5zm3 -37.5h1.5v1.5h-1.5zm-2 -4h1.5v1.5h-1.5zm-2 -5h1.5v1.5h-1.5zm6 -3h1.5v1.5h-1.5zm1.5 94h1.5v1.5h-1.5zm7.5 -50.5h1.5v1.5h-1.5zm6 44h1.5v1.5h-1.5zm-24.5 12.5h1.5v1.5h-1.5zm-3.5 -45.5h1.5v1.5h-1.5zm14 45.5h1.5v1.5h-1.5zm9.5 -7h1.5v1.5h-1.5zm-12.5 -45h1.5v1.5h-1.5zm-5.5 -24.5h1.5v1.5h-1.5zm8 42.5h1.5v1.5h-1.5zm12 -19.5h1.5v1.5h-1.5zm-20.5 -67h1.5v1.5h-1.5zm18.5 22h1.5v1.5h-1.5zm-13.5 42.5h1.5v1.5h-1.5zm16.5 -47h1.5v1.5h-1.5zm3 48h1.5v1.5h-1.5zm-20.5 11h1.5v1.5h-1.5zm-4.5 26.5h1.5v1.5h-1.5zm12.5 -101h1.5v1.5h-1.5zm1.5 4.5h1.5v1.5h-1.5zm-2.5 -7.5h1.5v1.5h-1.5zm1 115.5h1.5v1.5h-1.5zm-7 -14h1.5v1.5h-1.5zm-7.5 -80h1.5v1.5h-1.5zm21 95h1.5v1.5h-1.5zm-7.5 -80h1.5v1.5h-1.5zm1 -22.5h1.5v1.5h-1.5zm-6 20.5h1.5v1.5h-1.5zm6.5 79.5h1.5v1.5h-1.5zm2.5 -50.5h1.5v1.5h-1.5zm10.5 16h1.5v1.5h-1.5zm-23.5 -35h1.5v1.5h-1.5zm13.5 -36.5h1.5v1.5h-1.5zm-9 48.5h1.5v1.5h-1.5zm5.5 -2.5h1.5v1.5h-1.5zm-24 47h1.5v1.5h-1.5zm20.5 -85.5h1.5v1.5h-1.5zm3 101h1.5v1.5h-1.5zm-3 -31.5h1.5v1.5h-1.5zm25 -54.5h1.5v1.5h-1.5zm-23.5 73h1.5v1.5h-1.5zm0.5 -101h1.5v1.5h-1.5zm-2.5 21h1.5v1.5h-1.5zm8.5 18.5h1.5v1.5h-1.5zm9.5 16h1.5v1.5h-1.5zm-12 -15h1.5v1.5h-1.5zm8 -9h1.5v1.5h-1.5zm-8 -5h1.5v1.5h-1.5zm1.5 73.5h1.5v1.5h-1.5zm-6 -94h1.5v1.5h-1.5zm1 71h1.5v1.5h-1.5zm-11.5 0h1.5v1.5h-1.5zm14 -46h1.5v1.5h-1.5zm4.5 33.5h1.5v1.5h-1.5zm-3 -13.5h1.5v1.5h-1.5zm-0.5 -42.5h1.5v1.5h-1.5zm-9 51.5h1.5v1.5h-1.5zm2 -33h1.5v1.5h-1.5zm1.5 -7.5h1.5v1.5h-1.5zm6 -9h1.5v1.5h-1.5zm-16 -9h1.5v1.5h-1.5zm22.5 89h1.5v1.5h-1.5zm-23 -46.5h1.5v1.5h-1.5zm-12.5 34.5h1.5v1.5h-1.5zm33 5.5h1.5v1.5h-1.5zm-0.5 -53.5h1.5v1.5h-1.5zm4.5 5.5h1.5v1.5h-1.5zm-6 52.5h1.5v1.5h-1.5zm-30.5 -17h1.5v1.5h-1.5zm25.5 -76.5h1.5v1.5h-1.5zm-29 78h1.5v1.5h-1.5zm25 -35h1.5v1.5h-1.5zm0 82h1.5v1.5h-1.5zm13 -2.5h1.5v1.5h-1.5zm-7.5 -45.5h1.5v1.5h-1.5zm12.5 12h1.5v1.5h-1.5zm-12.5 -84h1.5v1.5h-1.5zm-3 25.5h1.5v1.5h-1.5zm0.5 102.5h1.5v1.5h-1.5zm-4.5 -74.5h1.5v1.5h-1.5zm12 12h1.5v1.5h-1.5zm-0.5 -71h1.5v1.5h-1.5zm-5.5 48.5h1.5v1.5h-1.5zm-9.5 68.5h1.5v1.5h-1.5zm-0.5 -62h1.5v1.5h-1.5zm-21 54.5h1.5v1.5h-1.5zm24.5 -65.5h1.5v1.5h-1.5zm15.5 -13h1.5v1.5h-1.5zm-16 41h1.5v1.5h-1.5zm-15 51.5h1.5v1.5h-1.5zm23.5 -6h1.5v1.5h-1.5zm-12 -21h1.5v1.5h-1.5zm3.5 -62h1.5v1.5h-1.5zm14 68h1.5v1.5h-1.5zm-9 8h1.5v1.5h-1.5zm0.5 18h1.5v1.5h-1.5zm10 -10.5h1.5v1.5h-1.5zm-17 -107h1.5v1.5h-1.5zm9.5 21.5h1.5v1.5h-1.5zm-3.5 -38h1.5v1.5h-1.5zm6.5 27.5h1.5v1.5h-1.5zm0 -19.5h1.5v1.5h-1.5zm-15.5 5h1.5v1.5h-1.5zm2.5 -4.5h1.5v1.5h-1.5zm17 61h1.5v1.5h-1.5zm3.5 12.5h1.5v1.5h-1.5zm-15.5 -17.5h1.5v1.5h-1.5zm0.5 13.5h1.5v1.5h-1.5zm2.5 -54.5h1.5v1.5h-1.5zm6 16h1.5v1.5h-1.5zm-2.5 28h1.5v1.5h-1.5zm2.5 -11.5h1.5v1.5h-1.5zm-12 -4h1.5v1.5h-1.5zm15.5 22.5h1.5v1.5h-1.5zm-7 -63.5h1.5v1.5h-1.5zm6 85h1.5v1.5h-1.5zm0 -18.5h1.5v1.5h-1.5zm-0.5 14h1.5v1.5h-1.5zm6.5 11.5h1.5v1.5h-1.5zm-12 -20h1.5v1.5h-1.5zm-4.5 0h1.5v1.5h-1.5zm4.5 25.5h1.5v1.5h-1.5zm-10 -37.5h1.5v1.5h-1.5zm20 -2h1.5v1.5h-1.5zm-13 -42.5h1.5v1.5h-1.5zm-8.5 -10h1.5v1.5h-1.5zm23 6h1.5v1.5h-1.5zm-7 -2h1.5v1.5h-1.5zm-18.5 24h1.5v1.5h-1.5zm6 27.5h1.5v1.5h-1.5zm6.5 -13h1.5v1.5h-1.5zm-7.5 53h1.5v1.5h-1.5zm14 -22.5h1.5v1.5h-1.5zm-5.5 -41.5h1.5v1.5h-1.5zm-7.5 44h1.5v1.5h-1.5zm10.5 -63.5h1.5v1.5h-1.5zm-5 -12h1.5v1.5h-1.5zm-7 76h1.5v1.5h-1.5zm9 -71.5h1.5v1.5h-1.5zm4.5 69.5h1.5v1.5h-1.5zm-18.5 21.5h1.5v1.5h-1.5zm19 -26h1.5v1.5h-1.5zm9 28h1.5v1.5h-1.5zm-7.5 -84h1.5v1.5h-1.5zm-9 46.5h1.5v1.5h-1.5zm-2 -1.5h1.5v1.5h-1.5zm2.5 32.5h1.5v1.5h-1.5zm-1.5 17h1.5v1.5h-1.5zm6.5 -32h1.5v1.5h-1.5zm-3 18h1.5v1.5h-1.5zm-2.5 -21h1.5v1.5h-1.5zm7 -41h1.5v1.5h-1.5zm-30 57h1.5v1.5h-1.5zm4 -27h1.5v1.5h-1.5zm23.5 3h1.5v1.5h-1.5zm0 -51h1.5v1.5h-1.5zm-9 59.5h1.5v1.5h-1.5zm14 -24h1.5v1.5h-1.5zm-2.5 -55h1.5v1.5h-1.5zm-11.5 6.5h1.5v1.5h-1.5zm-5 -1.5h1.5v1.5h-1.5zm25 30.5h1.5v1.5h-1.5zm-16 10.5h1.5v1.5h-1.5zm13 7.5h1.5v1.5h-1.5zm-37 50.5h1.5v1.5h-1.5zm14.5 -58.5h1.5v1.5h-1.5zm7.5 38h1.5v1.5h-1.5zm22 -34h1.5v1.5h-1.5zm-26.5 73h1.5v1.5h-1.5zm2.5 -69.5h1.5v1.5h-1.5zm10 -37.5h1.5v1.5h-1.5zm-10.5 53.5h1.5v1.5h-1.5zm10 -65h1.5v1.5h-1.5zm-8.5 31h1.5v1.5h-1.5zm1.5 87h1.5v1.5h-1.5zm-6 -24h1.5v1.5h-1.5zm-2.5 -90h1.5v1.5h-1.5zm8.5 27.5h1.5v1.5h-1.5zm0.5 6.5h1.5v1.5h-1.5zm2.5 -40.5h1.5v1.5h-1.5zm-9 53h1.5v1.5h-1.5zm14 42h1.5v1.5h-1.5zm2.5 11.5h1.5v1.5h-1.5zm0 -2.5h1.5v1.5h-1.5zm3 -91h1.5v1.5h-1.5zm-8 10.5h1.5v1.5h-1.5zm-6 -24h1.5v1.5h-1.5zm0 25h1.5v1.5h-1.5zm6 24h1.5v1.5h-1.5zm1.5 -22.5h1.5v1.5h-1.5zm9.5 -10h1.5v1.5h-1.5zm-15 36h1.5v1.5h-1.5zm22 16.5h1.5v1.5h-1.5zm-13.5 -51h1.5v1.5h-1.5zm1 65h1.5v1.5h-1.5zm5.5 -17h1.5v1.5h-1.5zm-7 -60h1.5v1.5h-1.5zm-3.5 33h1.5v1.5h-1.5zm6 0h1.5v1.5h-1.5zm-6.5 5.5h1.5v1.5h-1.5zm14 4h1.5v1.5h-1.5zm-8.5 70h1.5v1.5h-1.5zm6.5 -42.5h1.5v1.5h-1.5zm-6 -6h1.5v1.5h-1.5zm1 -2h1.5v1.5h-1.5zm0 -29.5h1.5v1.5h-1.5zm-1.5 -1h1.5v1.5h-1.5zm-5.5 44.5h1.5v1.5h-1.5zm4.5 -83h1.5v1.5h-1.5zm15 54h1.5v1.5h-1.5zm-11 10.5h1.5v1.5h-1.5zm-0.5 5.5h1.5v1.5h-1.5zm7.5 -38.5h1.5v1.5h-1.5zm-10 55h1.5v1.5h-1.5zm2 -21.5h1.5v1.5h-1.5zm-9 23h1.5v1.5h-1.5zm1.5 -33h1.5v1.5h-1.5zm5 -23.5h1.5v1.5h-1.5zm10.5 27h1.5v1.5h-1.5zm-12.5 -15h1.5v1.5h-1.5zm0.5 -25h1.5v1.5h-1.5zm6 -6h1.5v1.5h-1.5zm-2.5 37.5h1.5v1.5h-1.5zm-6.5 40.5h1.5v1.5h-1.5zm4.5 -49h1.5v1.5h-1.5zm-1 -14h1.5v1.5h-1.5zm-3.5 70.5h1.5v1.5h-1.5zm6.5 -53.5h1.5v1.5h-1.5zm4.5 12h1.5v1.5h-1.5zm1 5h1.5v1.5h-1.5zm2.5 6.5h1.5v1.5h-1.5zm-6.5 -52.5h1.5v1.5h-1.5zm-6.5 3.5h1.5v1.5h-1.5zm-1 19h1.5v1.5h-1.5zm3.5 71h1.5v1.5h-1.5zm1.5 -76.5h1.5v1.5h-1.5zm-6 53.5h1.5v1.5h-1.5zm4 -74h1.5v1.5h-1.5zm6.5 65h1.5v1.5h-1.5zm-14 6.5h1.5v1.5h-1.5zm14.5 -45h1.5v1.5h-1.5zm-5 44h1.5v1.5h-1.5zm8 -12.5h1.5v1.5h-1.5zm-8.5 -42.5h1.5v1.5h-1.5zm1 -18.5h1.5v1.5h-1.5zm-11.5 42.5h1.5v1.5h-1.5zm12 -27h1.5v1.5h-1.5zm2 44.5h1.5v1.5h-1.5zm2 -8h1.5v1.5h-1.5zm-2.5 -45.5h1.5v1.5h-1.5z"/>
<path fill="#14148a" d="M0 0m612 74h1.5v1.5h-1.5zm17 -4h1.5v1.5h-1.5zm-13.5 0h1.5v1.5h-1.5zm2 1.5h1.5v1.5h-1.5zm7 2h1.5v1.5h-1.5zm-1 -4.5h1.5v1.5h-1.5zm-15.5 -1h1.5v1.5h-1.5zm13 -6.5h1.5v1.5h-1.5zm-2.5 22h1.5v1.5h-1.5zm5.5 -3.5h1.5v1.5h-1.5zm-1 4h1.5v1.5h-1.5zm-5.5 -10h1.5v1.5h-1.5zm-3.5 14h1.5v1.5h-1.5zm-11 -10.5h1.5v1.5h-1.5zm19 -8h1.5v1.5h-1.5zm-13.5 6h1.5v1.5h-1.5zm15.5 -8h1.5v1.5h-1.5zm-18 3.5h1.5v1.5h-1.5zm17.5 11h1.5v1.5h-1.5zm-18.5 -9.5h1.5v1.5h-1.5zm11 1h1.5v1.5h-1.5zm-1 -10h1.5v1.5h-1.5zm14.5 -2h1.5v1.5h-1.5zm-17.5 6h1.5v1.5h-1.5zm7 8.5h1.5v1.5h-1.5zm11 -18h1.5v1.5h-1.5zm-3.5 4h1.5v1.5h-1.5zm-11.5 6.5h1.5v1.5h-1.5zm-1 -3h1.5v1.5h-1.5zm0 3h1.5v1.5h-1.5zm-4.5 3h1.5v1.5h-1.5zm5.5 0.5h1.5v1.5h-1.5zm5.5 -5.5h1.5v1.5h-1.5zm2 1.5h1.5v1.5h-1.5zm-3.5 12h1.5v1.5h-1.5zm-2 -1h1.5v1.5h-1.5zm4 -10h1.5v1.5h-1.5zm3.5 9h1.5v1.5h-1.5zm-10.5 -11.5h1.5v1.5h-1.5zm6 5h1.5v1.5h-1.5zm2.5 14.5h1.5v1.5h-1.5zm-2 6.5h1.5v1.5h-1.5zm15 -21.5h1.5v1.5h-1.5zm-7 1h1.5v1.5h-1.5zm0 -18.5h1.5v1.5h-1.5zm-11.5 18.5h1.5v1.5h-1.5zm5.5 6.5h1.5v1.5h-1.5zm4 -8h1.5v1.5h-1.5zm-12.5 10h1.5v1.5h-1.5zm9 -20h1.5v1.5h-1.5zm9.5 16.5h1.5v1.5h-1.5zm-15 -5h1.5v1.5h-1.5zm6.5 -9.5h1.5v1.5h-1.5zm6.5 8.5h1.5v1.5h-1.5zm-2.5 7.5h1.5v1.5h-1.5zm1 -1h1.5v1.5h-1.5zm-5.5 3h1.5v1.5h-1.5zm-6.5 2h1.5v1.5h-1.5zm5 -20.5h1.5v1.5h-1.5zm-9 10.5h1.5v1.5h-1.5zm4.5 3.5h1.5v1.5h-1.5zm-2 -1.5h1.5v1.5h-1.5zm-4 11h1.5v1.5h-1.5zm-1 -12h1.5v1.5h-1.5zm12 -3.5h1.5v1.5h-1.5zm2 4.5h1.5v1.5h-1.5zm-4.5 -2.5h1.5v1.5h-1.5zm-4 -3h1.5v1.5h-1.5zm0 8.5h1.5v1.5h-1.5zm4 -2h1.5v1.5h-1.5zm6 -6h1.5v1.5h-1.5zm-9 -7h1.5v1.5h-1.5zm16 12.5h1.5v1.5h-1.5zm-14 -15h1.5v1.5h-1.5zm1 8.5h1.5v1.5h-1.5zm4 13.5h1.5v1.5h-1.5zm-9 -9.5h1.5v1.5h-1.5zm6.5 -3.5h1.5v1.5h-1.5zm-2.5 2h1.5v1.5h-1.5zm-4.5 -6h1.5v1.5h-1.5zm11.5 4h1.5v1.5h-1.5zm-11 -1h1.5v1.5h-1.5zm-6.5 -4.5h1.5v1.5h-1.5zm-1 4.5h1.5v1.5h-1.5zm15.5 2.5h1.5v1.5h-1.5zm-4.5 3h1.5v1.5h-1.5zm-3 1.5h1.5v1.5h-1.5zm2.5 -8h1.5v1.5h-1.5zm0 1.5h1.5v1.5h-1.5zm-4.5 24h1.5v1.5h-1.5zm4.5 -26.5h1.5v1.5h-1.5zm-13 -11.5h1.5v1.5h-1.5zm13 27.5h1.5v1.5h-1.5zm4.5 -1.5h1.5v1.5h-1.5zm-5 -3h1.5v1.5h-1.5zm2 1h1.5v1.5h-1.5zm-8.5 -14.5h1.5v1.5h-1.5zm12 10.5h1.5v1.5h-1.5zm1 -2.5h1.5v1.5h-1.5zm-12.5 2.5h1.5v1.5h-1.5zm7 -4.5h1.5v1.5h-1.5zm2 -0.5h1.5v1.5h-1.5zm-0.5 -8h1.5v1.5h-1.5zm-4.5 20h1.5v1.5h-1.5zm-4 10h1.5v1.5h-1.5zm3 -20.5h1.5v1.5h-1.5zm4.5 8h1.5v1.5h-1.5zm4 -13.5h1.5v1.5h-1.5zm-6.5 8.5h1.5v1.5h-1.5zm1.5 -6h1.5v1.5h-1.5zm-11 -6h1.5v1.5h-1.5zm6.5 11.5h1.5v1.5h-1.5zm2 2h1.5v1.5h-1.5zm5 -14.5h1.5v1.5h-1.5zm10.5 10.5h1.5v1.5h-1.5zm-12.5 -0.5h1.5v1.5h-1.5zm7 -1h1.5v1.5h-1.5zm-6 15.5h1.5v1.5h-1.5zm-15 -5.5h1.5v1.5h-1.5zm15.5 -8h1.5v1.5h-1.5zm-5.5 6h1.5v1.5h-1.5zm10 7h1.5v1.5h-1.5zm-8.5 -5.5h1.5v1.5h-1.5zm9 -14.5h1.5v1.5h-1.5zm-6 0.5h1.5v1.5h-1.5zm-8.5 5.5h1.5v1.5h-1.5zm10 8.5h1.5v1.5h-1.5zm-10 -12h1.5v1.5h-1.5zm-1.5 5h1.5v1.5h-1.5zm14.5 -1h1.5v1.5h-1.5zm1.5 3.5h1.5v1.5h-1.5zm-1 2h1.5v1.5h-1.5zm0 1h1.5v1.5h-1.5zm-9 -7h1.5v1.5h-1.5zm14 12h1.5v1.5h-1.5zm-4.5 -24.5h1.5v1.5h-1.5zm-10.5 18h1.5v1.5h-1.5zm9 -2h1.5v1.5h-1.5zm-10 -25.5h1.5v1.5h-1.5zm8 21.5h1.5v1.5h-1.5zm16 16.5h1.5v1.5h-1.5zm-8 4h1.5v1.5h-1.5zm-3.5 8h1.5v1.5h-1.5zm5.5 -20h1.5v1.5h-1.5zm3 -5h1.5v1.5h-1.5zm-9.5 2h1.5v1.5h-1.5zm9 13.5h1.5v1.5h-1.5zm-11 1.5h1.5v1.5h-1.5zm-1 -5h1.5v1.5h-1.5zm6 -11.5h1.5v1.5h-1.5zm-10 20h1.5v1.5h-1.5zm7 4h1.5v1.5h-1.5zm1 -0.5h1.5v1.5h-1.5zm13 -15h1.5v1.5h-1.5zm-22 6h1.5v1.5h-1.5zm8 8h1.5v1.5h-1.5zm14 -5h1.5v1.5h-1.5zm-13.5 -0.5h1.5v1.5h-1.5zm-1 -6.5h1.5v1.5h-1.5zm-2.5 -1h1.5v1.5h-1.5zm5 -2h1.5v1.5h-1.5zm-7 18h1.5v1.5h-1.5zm17 -30.5h1.5v1.5h-1.5zm-8.5 23h1.5v1.5h-1.5zm1 13.5h1.5v1.5h-1.5zm-20.5 -9h1.5v1.5h-1.5zm24 -16.5h1.5v1.5h-1.5zm-7 16.5h1.5v1.5h-1.5zm10 0h1.5v1.5h-1.5zm-12 -0.5h1.5v1.5h-1.5zm10.5 -12h1.5v1.5h-1.5zm3.5 8h1.5v1.5h-1.5zm-14 -3.5h1.5v1.5h-1.5zm-1.5 -5.5h1.5v1.5h-1.5zm-1 6h1.5v1.5h-1.5zm-0.5 0h1.5v1.5h-1.5zm9 -21h1.5v1.5h-1.5zm12.5 32.5h1.5v1.5h-1.5zm-24.5 -18h1.5v1.5h-1.5zm9.5 22.5h1.5v1.5h-1.5zm-6 -31h1.5v1.5h-1.5zm11.5 24h1.5v1.5h-1.5zm-8 -22.5h1.5v1.5h-1.5zm-1.5 17h1.5v1.5h-1.5zm1.5 -9.5h1.5v1.5h-1.5zm6.5 12.5h1.5v1.5h-1.5zm6 -7h1.5v1.5h-1.5zm-14 10h1.5v1.5h-1.5zm-1 -6h1.5v1.5h-1.5zm10.5 13.5h1.5v1.5h-1.5zm-12.5 -25.5h1.5v1.5h-1.5zm1.5 -4h1.5v1.5h-1.5zm6.5 20h1.5v1.5h-1.5zm1 -11.5h1.5v1.5h-1.5zm-0.5 10h1.5v1.5h-1.5zm8.5 -14.5h1.5v1.5h-1.5zm-5.5 8.5h1.5v1.5h-1.5zm-12 -5.5h1.5v1.5h-1.5zm-6 10.5h1.5v1.5h-1.5zm22 -11h1.5v1.5h-1.5zm-2 0h1.5v1.5h-1.5zm-5 0.5h1.5v1.5h-1.5zm4.5 16h1.5v1.5h-1.5zm-11.5 -9.5h1.5v1.5h-1.5zm-0.5 7h1.5v1.5h-1.5zm16.5 -5.5h1.5v1.5h-1.5zm-21.5 2.5h1.5v1.5h-1.5zm11 0h1.5v1.5h-1.5zm6 -3h1.5v1.5h-1.5zm1.5 8h1.5v1.5h-1.5zm-6 -6h1.5v1.5h-1.5zm1 0h1.5v1.5h-1.5zm4.5 -8.5h1.5v1.5h-1.5zm-11 12.5h1.5v1.5h-1.5zm-2 -14.5h1.5v1.5h-1.5zm3.5 11.5h1.5v1.5h-1.5zm-16 -6.5h1.5v1.5h-1.5zm15.5 -3h1.5v1.5h-1.5zm-2.5 9.5h1.5v1.5h-1.5zm0.5 4h1.5v1.5h-1.5zm9.5 -13.5h1.5v1.5h-1.5zm-3.5 9.5h1.5v1.5h-1.5zm1 8.5h1.5v1.5h-1.5zm0 -15.5h1.5v1.5h-1.5zm8 -0.5h1.5v1.5h-1.5zm2.5 10h1.5v1.5h-1.5zm5.5 -17h1.5v1.5h-1.5zm-8.5 8.5h1.5v1.5h-1.5zm-13 0h1.5v1.5h-1.5zm7 3.5h1.5v1.5h-1.5zm-0.5 -9h1.5v1.5h-1.5zm-1 4h1.5v1.5h-1.5zm-1.5 -7h1.5v1.5h-1.5zm5.5 2h1.5v1.5h-1.5zm-6.5 1.5h1.5v1.5h-1.5zm1 0h1.5v1.5h-1.5zm11 10h1.5v1.5h-1.5zm1.5 11.5h1.5v1.5h-1.5zm-9 -7h1.5v1.5h-1.5zm10.5 -15.5h1.5v1.5h-1.5zm-16.5 23h1.5v1.5h-1.5zm8 -9.5h1.5v1.5h-1.5zm2 3h1.5v1.5h-1.5zm-5 -13.5h1.5v1.5h-1.5zm-4 -6h1.5v1.5h-1.5zm-0.5 8.5h1.5v1.5h-1.5zm-10.5 7.5h1.5v1.5h-1.5zm15.5 -14h1.5v1.5h-1.5zm-21 -0.5h1.5v1.5h-1.5zm12 9.5h1.5v1.5h-1.5zm12 10.5h1.5v1.5h-1.5zm-20.5 10.5h1.5v1.5h-1.5zm18.5 -24h1.5v1.5h-1.5zm-9 -8h1.5v1.5h-1.5zm-1.5 7.5h1.5v1.5h-1.5zm11 1.5h1.5v1.5h-1.5zm3.5 5h1.5v1.5h-1.5zm-14.5 -17h1.5v1.5h-1.5zm11.5 13h1.5v1.5h-1.5zm-5 8h1.5v1.5h-1.5zm3 -9.5h1.5v1.5h-1.5zm-7.5 -1.5h1.5v1.5h-1.5zm-9 3h1.5v1.5h-1.5zm12.5 -8h1.5v1.5h-1.5zm3.5 9h1.5v1.5h-1.5zm5.5 4.5h1.5v1.5h-1.5zm-23 2h1.5v1.5h-1.5zm2 24h1.5v1.5h-1.5zm8.5 -24h1.5v1.5h-1.5zm-5 12h1.5v1.5h-1.5zm3.5 16h1.5v1.5h-1.5zm-1.5 1.5h1.5v1.5h-1.5zm-3.5 -12.5h1.5v1.5h-1.5zm6 4h1.5v1.5h-1.5zm-3 -7h1.5v1.5h-1.5zm0.5 -13h1.5v1.5h-1.5zm-8 10.5h1.5v1.5h-1.5zm12.5 12h1.5v1.5h-1.5zm-2 -13.5h1.5v1.5h-1.5zm-5 -13h1.5v1.5h-1.5zm19.5 -3h1.5v1.5h-1.5zm-15.5 2.5h1.5v1.5h-1.5zm4 4.5h1.5v1.5h-1.5zm-3 6h1.5v1.5h-1.5zm-19.5 -19.5h1.5v1.5h-1.5zm9 17.5h1.5v1.5h-1.5zm3 9h1.5v1.5h-1.5zm-1 -1h1.5v1.5h-1.5zm8.5 -1h1.5v1.5h-1.5zm4 -3h1.5v1.5h-1.5zm-8.5 1h1.5v1.5h-1.5zm5 -3h1.5v1.5h-1.5zm-3 14h1.5v1.5h-1.5zm-1 -12.5h1.5v1.5h-1.5zm-4.5 -6.5h1.5v1.5h-1.5zm10.5 13.5h1.5v1.5h-1.5zm1.5 -21h1.5v1.5h-1.5zm-12.5 20.5h1.5v1.5h-1.5zm-4.5 -9.5h1.5v1.5h-1.5zm1.5 -8.5h1.5v1.5h-1.5zm2 22h1.5v1.5h-1.5zm5 -1.5h1.5v1.5h-1.5zm12 -12.5h1.5v1.5h-1.5zm-6.5 -2.5h1.5v1.5h-1.5zm-14.5 3h1.5v1.5h-1.5zm13.5 -1h1.5v1.5h-1.5zm-1 10.5h1.5v1.5h-1.5zm-7.5 -16h1.5v1.5h-1.5zm-2 -4h1.5v1.5h-1.5zm8 26h1.5v1.5h-1.5zm3 -12h1.5v1.5h-1.5zm-4.5 7.5h1.5v1.5h-1.5zm-12 -6.5h1.5v1.5h-1.5zm1.5 -15.5h1.5v1.5h-1.5zm9.5 11.5h1.5v1.5h-1.5zm14 -8h1.5v1.5h-1.5zm-8 9h1.5v1.5h-1.5zm0 -7.5h1.5v1.5h-1.5zm3.5 -1.5h1.5v1.5h-1.5zm7 9h1.5v1.5h-1.5zm-11 1.5h1.5v1.5h-1.5zm-2 -7.5h1.5v1.5h-1.5zm-0.5 20.5h1.5v1.5h-1.5zm1 5.5h1.5v1.5h-1.5zm-7.5 -7h1.5v1.5h-1.5zm1.5 -12.5h1.5v1.5h-1.5zm-14 7.5h1.5v1.5h-1.5zm16 4.5h1.5v1.5h-1.5zm8 -20h1.5v1.5h-1.5zm-9 11.5h1.5v1.5h-1.5zm-2 -9h1.5v1.5h-1.5zm4 3.5h1.5v1.5h-1.5zm1.5 3h1.5v1.5h-1.5zm7.5 19.5h1.5v1.5h-1.5zm-7.5 -10.5h1.5v1.5h-1.5zm10 -12h1.5v1.5h-1.5zm-14.5 3.5h1.5v1.5h-1.5zm1.5 -13h1.5v1.5h-1.5zm1.5 10h1.5v1.5h-1.5zm1 1.5h1.5v1.5h-1.5zm9 5h1.5v1.5h-1.5zm-7.5 0.5h1.5v1.5h-1.5zm3.5 11h1.5v1.5h-1.5zm-15 -14.5h1.5v1.5h-1.5zm22 0.5h1.5v1.5h-1.5zm-21 -6.5h1.5v1.5h-1.5zm12 18.5h1.5v1.5h-1.5zm0 -21h1.5v1.5h-1.5zm-9.5 10h1.5v1.5h-1.5zm10 -9h1.5v1.5h-1.5zm7 -4h1.5v1.5h-1.5zm-14 21.5h1.5v1.5h-1.5zm-4.5 -23.5h1.5v1.5h-1.5zm8 3.5h1.5v1.5h-1.5zm0 18h1.5v1.5h-1.5zm-4.5 -18h1.5v1.5h-1.5zm14 -0.5h1.5v1.5h-1.5zm0.5 7h1.5v1.5h-1.5zm-12.5 -15.5h1.5v1.5h-1.5zm-2.5 23.5h1.5v1.5h-1.5zm1 -5h1.5v1.5h-1.5zm-4 11h1.5v1.5h-1.5zm6.5 -15.5h1.5v1.5h-1.5zm-5 1h1.5v1.5h-1.5zm7.5 3h1.5v1.5h-1.5zm-4 8.5h1.5v1.5h-1.5zm-0.5 10h1.5v1.5h-1.5zm7.5 -17h1.5v1.5h-1.5zm5.5 -12.5h1.5v1.5h-1.5zm-13.5 1h1.5v1.5h-1.5zm-8 18h1.5v1.5h-1.5zm22.5 6h1.5v1.5h-1.5zm-17 -7.5h1.5v1.5h-1.5zm8.5 -15.5h1.5v1.5h-1.5zm-7.5 7h1.5v1.5h-1.5zm12.5 -3.5h1.5v1.5h-1.5zm-18 -5h1.5v1.5h-1.5zm17 13h1.5v1.5h-1.5zm-2.5 -1h1.5v1.5h-1.5zm3.5 -6h1.5v1.5h-1.5zm9 13h1.5v1.5h-1.5zm-10.5 -1h1.5v1.5h-1.5zm5 -7.5h1.5v1.5h-1.5zm-6 9.5h1.5v1.5h-1.5zm1 -19h1.5v1.5h-1.5zm-12.5 10h1.5v1.5h-1.5zm3.5 0h1.5v1.5h-1.5zm5 14.5h1.5v1.5h-1.5zm1.5 -13h1.5v1.5h-1.5zm-3.5 9h1.5v1.5h-1.5zm0 -16h1.5v1.5h-1.5zm-15 -4h1.5v1.5h-1.5zm20 14h1.5v1.5h-1.5zm-9 -8.5h1.5v1.5h-1.5zm8 3.5h1.5v1.5h-1.5zm11 8.5h1.5v1.5h-1.5zm-8.5 -4.5h1.5v1.5h-1.5zm-1 -7h1.5v1.5h-1.5zm-3 2.5h1.5v1.5h-1.5zm14.5 -7.5h1.5v1.5h-1.5zm-18.5 8.5h1.5v1.5h-1.5zm-14.5 -12.5h1.5v1.5h-1.5zm14 13.5h1.5v1.5h-1.5zm8 34h1.5v1.5h-1.5zm-6 -16.5h1.5v1.5h-1.5zm6.5 8h1.5v1.5h-1.5zm-9.5 -7h1.5v1.5h-1.5zm12 -0.5h1.5v1.5h-1.5zm-8.5 -1.5h1.5v1.5h-1.5zm5 -5.5h1.5v1.5h-1.5zm-1 16h1.5v1.5h-1.5zm1 9.5h1.5v1.5h-1.5zm5 -4h1.5v1.5h-1.5zm-3.5 -11.5h1.5v1.5h-1.5zm4.5 0h1.5v1.5h-1.5zm-1.5 -12h1.5v1.5h-1.5zm-3 3h1.5v1.5h-1.5zm-5 12.5h1.5v1.5h-1.5zm1.5 -16.5h1.5v1.5h-1.5zm16.5 19h1.5v1.5h-1.5zm-13.5 5h1.5v1.5h-1.5zm6.5 -16.5h1.5v1.5h-1.5zm-1.5 -3.5h1.5v1.5h-1.5zm0 10h1.5v1.5h-1.5zm0 -2h1.5v1.5h-1.5zm-4 3h1.5v1.5h-1.5zm7 -13h1.5v1.5h-1.5zm-5.5 3h1.5v1.5h-1.5zm6.5 10h1.5v1.5h-1.5zm-9.5 -8h1.5v1.5h-1.5zm-8 5h1.5v1.5h-1.5zm9 1.5h1.5v1.5h-1.5zm-7 -4h1.5v1.5h-1.5zm7.5 -11.5h1.5v1.5h-1.5zm-0.5 8h1.5v1.5h-1.5zm7.5 31.5h1.5v1.5h-1.5zm-22 -27.5h1.5v1.5h-1.5zm2 14h1.5v1.5h-1.5zm11.5 -19h1.5v1.5h-1.5zm4 12h1.5v1.5h-1.5zm4.5 -21.5h1.5v1.5h-1.5zm-1.5 26h1.5v1.5h-1.5zm-14.5 -5.5h1.5v1.5h-1.5zm3 -9.5h1.5v1.5h-1.5zm9.5 14h1.5v1.5h-1.5zm-19.5 -20.5h1.5v1.5h-1.5zm18 31h1.5v1.5h-1.5zm2.5 -16.5h1.5v1.5h-1.5zm-6.5 -10h1.5v1.5h-1.5zm4.5 15.5h1.5v1.5h-1.5zm-10 0.5h1.5v1.5h-1.5zm11.5 -23.5h1.5v1.5h-1.5zm3 22h1.5v1.5h-1.5zm-1.5 -9h1.5v1.5h-1.5zm-10.5 1.5h1.5v1.5h-1.5zm5 -7.5h1.5v1.5h-1.5zm1.5 18h1.5v1.5h-1.5zm-1.5 -17h1.5v1.5h-1.5zm4.5 6h1.5v1.5h-1.5zm-0.5 2h1.5v1.5h-1.5zm-11 2h1.5v1.5h-1.5zm7 7.5h1.5v1.5h-1.5zm-5.5 3h1.5v1.5h-1.5zm16 6.5h1.5v1.5h-1.5zm-7 -26h1.5v1.5h-1.5zm-13.5 5h1.5v1.5h-1.5zm17.5 -6h1.5v1.5h-1.5zm-7 13.5h1.5v1.5h-1.5zm-4.5 -16.5h1.5v1.5h-1.5zm-6 0.5h1.5v1.5h-1.5zm5 -14.5h1.5v1.5h-1.5zm-12.5 34h1.5v1.5h-1.5zm28 -13.5h1.5v1.5h-1.5zm-8.5 3h1.5v1.5h-1.5zm3.5 5.5h1.5v1.5h-1.5zm-1 -3.5h1.5v1.5h-1.5zm0 -15.5h1.5v1.5h-1.5zm-2 17.5h1.5v1.5h-1.5zm5.5 -19h1.5v1.5h-1.5zm-9 18h1.5v1.5h-1.5zm3.5 -8h1.5v1.5h-1.5zm-0.5 5.5h1.5v1.5h-1.5zm5.5 4h1.5v1.5h-1.5zm-16 1h1.5v1.5h-1.5zm11 -16.5h1.5v1.5h-1.5zm-11 11.5h1.5v1.5h-1.5zm0.5 9h1.5v1.5h-1.5zm1 -7h1.5v1.5h-1.5zm-2 11h1.5v1.5h-1.5zm7 -20.5h1.5v1.5h-1.5zm7.5 6.5h1.5v1.5h-1.5zm-6.5 9h1.5v1.5h-1.5zm3.5 0.5h1.5v1.5h-1.5zm-6 10h1.5v1.5h-1.5zm6.5 -33h1.5v1.5h-1.5zm-15.5 17.5h1.5v1.5h-1.5zm16.5 5h1.5v1.5h-1.5zm-0.5 -4h1.5v1.5h-1.5zm-5 12h1.5v1.5h-1.5zm-6 -30h1.5v1.5h-1.5zm18.5 10h1.5v1.5h-1.5zm-21.5 22h1.5v1.5h-1.5zm8 -23.5h1.5v1.5h-1.5zm-12 0.5h1.5v1.5h-1.5zm16 -6h1.5v1.5h-1.5zm5 8.5h1.5v1.5h-1.5zm-8.5 5.5h1.5v1.5h-1.5zm-0.5 -16.5h1.5v1.5h-1.5zm7 28.5h1.5v1.5h-1.5zm-10 -3.5h1.5v1.5h-1.5zm24.5 4h1.5v1.5h-1.5zm-23.5 -33h1.5v1.5h-1.5zm7.5 6.5h1.5v1.5h-1.5zm-9 0.5h1.5v1.5h-1.5zm2.5 14h1.5v1.5h-1.5zm14 2.5h1.5v1.5h-1.5zm-6 -18.5h1.5v1.5h-1.5zm4.5 13.5h1.5v1.5h-1.5zm-13.5 -1h1.5v1.5h-1.5zm13 -4.5h1.5v1.5h-1.5zm-11 -1.5h1.5v1.5h-1.5zm-3 9h1.5v1.5h-1.5zm0.5 2.5h1.5v1.5h-1.5zm3.5 -12h1.5v1.5h-1.5zm-6.5 17h1.5v1.5h-1.5zm7.5 -11.5h1.5v1.5h-1.5zm-14 7h1.5v1.5h-1.5zm11 -4.5h1.5v1.5h-1.5zm6 1.5h1.5v1.5h-1.5zm-4 9h1.5v1.5h-1.5zm4.5 -28.5h1.5v1.5h-1.5zm-3 37h1.5v1.5h-1.5zm-2.5 -12.5h1.5v1.5h-1.5zm7.5 2.5h1.5v1.5h-1.5zm-9.5 -9.5h1.5v1.5h-1.5zm-8.5 -1.5h1.5v1.5h-1.5zm16.5 -3.5h1.5v1.5h-1.5zm-4 24h1.5v1.5h-1.5zm-8.5 -22h1.5v1.5h-1.5zm7.5 -0.5h1.5v1.5h-1.5zm6.5 -1.5h1.5v1.5h-1.5zm-23.5 13h1.5v1.5h-1.5zm21 -11.5h1.5v1.5h-1.5zm-10 0.5h1.5v1.5h-1.5zm22 1.5h1.5v1.5h-1.5zm-16.5 4h1.5v1.5h-1.5zm-4 13.5h1.5v1.5h-1.5zm6.5 -27.5h1.5v1.5h-1.5zm-3.5 9h1.5v1.5h-1.5zm9.5 -14.5h1.5v1.5h-1.5zm-11.5 3h1.5v1.5h-1.5zm6 31h1.5v1.5h-1.5zm-6.5 -2.5h1.5v1.5h-1.5zm1 -16h1.5v1.5h-1.5zm2 -11.5h1.5v1.5h-1.5zm-14 10h1.5v1.5h-1.5zm8 8h1.5v1.5h-1.5zm11 0.5h1.5v1.5h-1.5zm-10 -23h1.5v1.5h-1.5zm6 20h1.5v1.5h-1.5zm2 10.5h1.5v1.5h-1.5zm-3.5 -30h1.5v1.5h-1.5zm1.5 19.5h1.5v1.5h-1.5zm-9 -16h1.5v1.5h-1.5zm-0.5 16h1.5v1.5h-1.5zm5.5 -10.5h1.5v1.5h-1.5zm10.5 8.5h1.5v1.5h-1.5zm3 -15.5h1.5v1.5h-1.5zm-16.5 16.5h1.5v1.5h-1.5zm4.5 10.5h1.5v1.5h-1.5zm6.5 -9.5h1.5v1.5h-1.5zm-5.5 11.5h1.5v1.5h-1.5zm-7 37.5h1.5v1.5h-1.5zm4 -19.5h1.5v1.5h-1.5zm-5.5 8.5h1.5v1.5h-1.5zm6.5 -21h1.5v1.5h-1.5zm-18 12h1.5v1.5h-1.5zm11 -36h1.5v1.5h-1.5zm5.5 23h1.5v1.5h-1.5zm-11 -8.5h1.5v1.5h-1.5zm18.5 21h1.5v1.5h-1.5zm-2 -18.5h1.5v1.5h-1.5zm-8.5 2.5h1.5v1.5h-1.5zm11.5 0.5h1.5v1.5h-1.5zm-4 15h1.5v1.5h-1.5zm-4.5 -3h1.5v1.5h-1.5zm-2 -8.5h1.5v1.5h-1.5zm10 2.5h1.5v1.5h-1.5zm-4.5 0h1.5v1.5h-1.5zm-9 -9.5h1.5v1.5h-1.5zm14 5.5h1.5v1.5h-1.5zm-18.5 7.5h1.5v1.5h-1.5zm10.5 -4h1.5v1.5h-1.5zm-7.5 7h1.5v1.5h-1.5zm5 5h1.5v1.5h-1.5zm-4.5 -24h1.5v1.5h-1.5zm1 20h1.5v1.5h-1.5zm6.5 -20.5h1.5v1.5h-1.5zm-3.5 2.5h1.5v1.5h-1.5zm0.5 16h1.5v1.5h-1.5zm2.5 -7.5h1.5v1.5h-1.5zm-4.5 18h1.5v1.5h-1.5zm6 -21h1.5v1.5h-1.5zm-12.5 8.5h1.5v1.5h-1.5zm2 6.5h1.5v1.5h-1.5zm6 -3h1.5v1.5h-1.5zm-6.5 -14h1.5v1.5h-1.5zm0 23.5h1.5v1.5h-1.5zm21.5 -14.5h1.5v1.5h-1.5zm-11 -5h1.5v1.5h-1.5zm11.5 -3h1.5v1.5h-1.5zm-28 19.5h1.5v1.5h-1.5zm4.5 -26h1.5v1.5h-1.5zm6 7h1.5v1.5h-1.5zm3.5 -0.5h1.5v1.5h-1.5zm-8.5 6h1.5v1.5h-1.5zm4 14h1.5v1.5h-1.5zm-2.5 -22.5h1.5v1.5h-1.5zm10 0.5h1.5v1.5h-1.5zm-8 -11.5h1.5v1.5h-1.5zm-2 5h1.5v1.5h-1.5zm14 3.5h1.5v1.5h-1.5zm-12 -1.5h1.5v1.5h-1.5zm4.5 -0.5h1.5v1.5h-1.5zm-2 16h1.5v1.5h-1.5zm4.5 -11.5h1.5v1.5h-1.5zm-5.5 -2.5h1.5v1.5h-1.5zm-4.5 14h1.5v1.5h-1.5zm-1.5 -13.5h1.5v1.5h-1.5zm15.5 13.5h1.5v1.5h-1.5zm0 -27h1.5v1.5h-1.5zm1.5 39.5h1.5v1.5h-1.5zm10.5 -7.5h1.5v1.5h-1.5zm-7.5 1h1.5v1.5h-1.5zm-5 -12h1.5v1.5h-1.5zm-6.5 9h1.5v1.5h-1.5zm-4 -17h1.5v1.5h-1.5zm3.5 17.5h1.5v1.5h-1.5zm-5.5 -6h1.5v1.5h-1.5zm5.5 -10h1.5v1.5h-1.5zm14 25.5h1.5v1.5h-1.5zm-8 -4.5h1.5v1.5h-1.5zm-6.5 -24.5h1.5v1.5h-1.5zm1.5 -1h1.5v1.5h-1.5zm-4.5 7.5h1.5v1.5h-1.5zm2.5 -3h1.5v1.5h-1.5zm10 -2h1.5v1.5h-1.5zm2.5 -6h1.5v1.5h-1.5zm-13.5 21h1.5v1.5h-1.5zm1.5 -2.5h1.5v1.5h-1.5zm-4.5 0.5h1.5v1.5h-1.5zm19 0.5h1.5v1.5h-1.5zm-8.5 -0.5h1.5v1.5h-1.5zm3 -14h1.5v1.5h-1.5zm-10 8.5h1.5v1.5h-1.5zm8.5 -0.5h1.5v1.5h-1.5zm-7 11.5h1.5v1.5h-1.5zm-3.5 -20h1.5v1.5h-1.5zm-6 3h1.5v1.5h-1.5zm16 22.5h1.5v1.5h-1.5zm2 3h1.5v1.5h-1.5zm0 -33.5h1.5v1.5h-1.5zm-20.5 9.5h1.5v1.5h-1.5zm19.5 12.5h1.5v1.5h-1.5zm9 -9.5h1.5v1.5h-1.5zm-16.5 -2h1.5v1.5h-1.5zm-17 3h1.5v1.5h-1.5zm12 3.5h1.5v1.5h-1.5zm13.5 5h1.5v1.5h-1.5zm-1 -19.5h1.5v1.5h-1.5zm0.5 15.5h1.5v1.5h-1.5zm-4.5 0.5h1.5v1.5h-1.5zm-8.5 9h1.5v1.5h-1.5zm13 -20.5h1.5v1.5h-1.5zm-22.5 30h1.5v1.5h-1.5zm19 -28.5h1.5v1.5h-1.5zm4 11h1.5v1.5h-1.5zm-8.5 0h1.5v1.5h-1.5zm-6 -11.5h1.5v1.5h-1.5zm6.5 4.5h1.5v1.5h-1.5zm11.5 4h1.5v1.5h-1.5zm0 -6.5h1.5v1.5h-1.5zm-5 1.5h1.5v1.5h-1.5zm-3.5 6.5h1.5v1.5h-1.5zm-6.5 2.5h1.5v1.5h-1.5zm6 2h1.5v1.5h-1.5zm1 -10.5h1.5v1.5h-1.5zm-6 -5h1.5v1.5h-1.5zm19 2.5h1.5v1.5h-1.5zm-10 9h1.5v1.5h-1.5zm-4.5 18h1.5v1.5h-1.5zm-2.5 -22h1.5v1.5h-1.5zm-1.5 1.5h1.5v1.5h-1.5zm-4 -14h1.5v1.5h-1.5zm-12 32.5h1.5v1.5h-1.5zm14 -29h1.5v1.5h-1.5zm-3 -12h1.5v1.5h-1.5zm6 35.5h1.5v1.5h-1.5zm0 -31h1.5v1.5h-1.5zm-10.5 15.5h1.5v1.5h-1.5zm3.5 -5h1.5v1.5h-1.5zm-8 -17h1.5v1.5h-1.5zm27 29.5h1.5v1.5h-1.5zm-7 2h1.5v1.5h-1.5zm-7 -12.5h1.5v1.5h-1.5zm13 2.5h1.5v1.5h-1.5zm-7.5 0.5h1.5v1.5h-1.5zm-9.5 -5.5h1.5v1.5h-1.5zm-5 18h1.5v1.5h-1.5zm8 12.5h1.5v1.5h-1.5zm5 -21.5h1.5v1.5h-1.5zm-1 -8.5h1.5v1.5h-1.5zm13 -4.5h1.5v1.5h-1.5zm-22.5 13.5h1.5v1.5h-1.5zm13.5 -9h1.5v1.5h-1.5zm-7 12.5h1.5v1.5h-1.5zm4.5 -8.5h1.5v1.5h-1.5zm-3.5 -0.5h1.5v1.5h-1.5zm5 13.5h1.5v1.5h-1.5zm0.5 -13.5h1.5v1.5h-1.5zm-2 2.5h1.5v1.5h-1.5zm0 0h1.5v1.5h-1.5zm-3.5 9h1.5v1.5h-1.5zm7 -13.5h1.5v1.5h-1.5zm10 12h1.5v1.5h-1.5zm-4 9h1.5v1.5h-1.5zm5 -23.5h1.5v1.5h-1.5zm-13.5 7.5h1.5v1.5h-1.5zm-7 18.5h1.5v1.5h-1.5zm-3 -20h1.5v1.5h-1.5zm13.5 12.5h1.5v1.5h-1.5zm-10.5 -12.5h1.5v1.5h-1.5zm4.5 21.5h1.5v1.5h-1.5zm-1.5 -9.5h1.5v1.5h-1.5zm-0.5 -5.5h1.5v1.5h-1.5zm11.5 16h1.5v1.5h-1.5zm-5 -2h1.5v1.5h-1.5zm12 6.5h1.5v1.5h-1.5zm-5.5 -4h1.5v1.5h-1.5zm-2.5 -10h1.5v1.5h-1.5zm-0.5 9.5h1.5v1.5h-1.5zm-7.5 -7.5h1.5v1.5h-1.5zm12 -2h1.5v1.5h-1.5zm-2 6.5h1.5v1.5h-1.5zm4 12.5h1.5v1.5h-1.5zm-3.5 -15.5h1.5v1.5h-1.5zm4.5 5.5h1.5v1.5h-1.5zm-11.5 -1.5h1.5v1.5h-1.5zm-5.5 5h1.5v1.5h-1.5zm8.5 -17.5h1.5v1.5h-1.5zm0 15.5h1.5v1.5h-1.5zm0.5 -8.5h1.5v1.5h-1.5zm-2 8.5h1.5v1.5h-1.5zm1.5 -13h1.5v1.5h-1.5zm3.5 12.5h1.5v1.5h-1.5zm-9.5 -11h1.5v1.5h-1.5zm0.5 9h1.5v1.5h-1.5zm0 -7.5h1.5v1.5h-1.5zm7 2.5h1.5v1.5h-1.5zm0.5 -4h1.5v1.5h-1.5zm7 2h1.5v1.5h-1.5zm-2 7.5h1.5v1.5h-1.5zm-14.5 -2.5h1.5v1.5h-1.5zm22 6.5h1.5v1.5h-1.5zm-12 -7h1.5v1.5h-1.5zm7.5 7h1.5v1.5h-1.5zm-11.5 -13h1.5v1.5h-1.5zm11 3h1.5v1.5h-1.5zm-26 6.5h1.5v1.5h-1.5zm23.5 -28h1.5v1.5h-1.5zm3.5 22h1.5v1.5h-1.5zm-7.5 1h1.5v1.5h-1.5zm-4 6h1.5v1.5h-1.5zm9.5 -12h1.5v1.5h-1.5zm-3.5 10.5h1.5v1.5h-1.5zm5.5 -4.5h1.5v1.5h-1.5zm-11.5 7.5h1.5v1.5h-1.5zm5 -12.5h1.5v1.5h-1.5zm1 -2.5h1.5v1.5h-1.5zm3 11h1.5v1.5h-1.5zm-11.5 0h1.5v1.5h-1.5zm-4 4h1.5v1.5h-1.5zm7 2h1.5v1.5h-1.5zm0.5 -11.5h1.5v1.5h-1.5zm8 -4h1.5v1.5h-1.5zm-7.5 8h1.5v1.5h-1.5zm7 -7h1.5v1.5h-1.5zm-9 -8.5h1.5v1.5h-1.5zm-2 33h1.5v1.5h-1.5zm9 -12.5h1.5v1.5h-1.5zm0.5 -2.5h1.5v1.5h-1.5zm-4 -5h1.5v1.5h-1.5zm6 6h1.5v1.5h-1.5zm-1 -15.5h1.5v1.5h-1.5zm-10 -2h1.5v1.5h-1.5zm11 15.5h1.5v1.5h-1.5zm2 5.5h1.5v1.5h-1.5zm-6 -12.5h1.5v1.5h-1.5zm5 3h1.5v1.5h-1.5zm-8 7h1.5v1.5h-1.5zm2.5 1.5h1.5v1.5h-1.5zm4.5 -27h1.5v1.5h-1.5zm-8.5 15.5h1.5v1.5h-1.5zm4.5 13h1.5v1.5h-1.5zm-11.5 -3.5h1.5v1.5h-1.5zm2.5 -4h1.5v1.5h-1.5zm11.5 7.5h1.5v1.5h-1.5zm-7.5 -3h1.5v1.5h-1.5zm7.5 -1.5h1.5v1.5h-1.5zm3.5 -6h1.5v1.5h-1.5zm-18.5 -8h1.5v1.5h-1.5zm7.5 4.5h1.5v1.5h-1.5zm3 -1h1.5v1.5h-1.5zm6 4.5h1.5v1.5h-1.5zm-11 12.5h1.5v1.5h-1.5zm-6 -19.5h1.5v1.5h-1.5zm-6 17h1.5v1.5h-1.5zm24.5 -8.5h1.5v1.5h-1.5zm-8 5h1.5v1.5h-1.5zm-17 -5.5h1.5v1.5h-1.5zm22.5 -1h1.5v1.5h-1.5zm-7 1h1.5v1.5h-1.5zm15.5 8.5h1.5v1.5h-1.5zm-2.5 0.5h1.5v1.5h-1.5zm-16.5 0.5h1.5v1.5h-1.5zm12 -15h1.5v1.5h-1.5zm-15.5 6h1.5v1.5h-1.5zm8.5 -8h1.5v1.5h-1.5zm-1 20h1.5v1.5h-1.5zm-1.5 -20.5h1.5v1.5h-1.5zm-1 5.5h1.5v1.5h-1.5zm12 -8.5h1.5v1.5h-1.5zm-11 10h1.5v1.5h-1.5zm-1 4.5h1.5v1.5h-1.5zm-1.5 -8.5h1.5v1.5h-1.5zm16 -7h1.5v1.5h-1.5zm-20 11h1.5v1.5h-1.5zm15.5 4.5h1.5v1.5h-1.5zm2 -3h1.5v1.5h-1.5zm-19.5 2h1.5v1.5h-1.5zm10 -7h1.5v1.5h-1.5zm-0.5 4h1.5v1.5h-1.5zm2 -5.5h1.5v1.5h-1.5zm2.5 3h1.5v1.5h-1.5zm-4 12h1.5v1.5h-1.5zm6 -17h1.5v1.5h-1.5zm4 8h1.5v1.5h-1.5zm0.5 2h1.5v1.5h-1.5zm-9 -17h1.5v1.5h-1.5zm-1 25h1.5v1.5h-1.5zm-2 -15.5h1.5v1.5h-1.5zm2 6.5h1.5v1.5h-1.5zm0.5 7.5h1.5v1.5h-1.5zm-5.5 -26.5h1.5v1.5h-1.5zm3 32h1.5v1.5h-1.5zm-6.5 -19h1.5v1.5h-1.5zm16 2.5h1.5v1.5h-1.5zm-10.5 10.5h1.5v1.5h-1.5zm11 -2h1.5v1.5h-1.5zm-7 4.5h1.5v1.5h-1.5zm-3 2h1.5v1.5h-1.5zm-0.5 -13.5h1.5v1.5h-1.5zm1 2h1.5v1.5h-1.5zm4.5 -8h1.5v1.5h-1.5zm3 3h1.5v1.5h-1.5zm-11.5 5h1.5v1.5h-1.5zm9.5 13h1.5v1.5h-1.5zm-10 -8.5h1.5v1.5h-1.5zm1 23.5h1.5v1.5h-1.5zm-0.5 -9h1.5v1.5h-1.5zm-4 -10h1.5v1.5h-1.5zm4.5 14h1.5v1.5h-1.5zm3 -2h1.5v1.5h-1.5zm2 -20.5h1.5v1.5h-1.5zm-5 -7.5h1.5v1.5h-1.5zm2.5 11.5h1.5v1.5h-1.5zm-12 15h1.5v1.5h-1.5zm9 -3h1.5v1.5h-1.5zm-4 -3.5h1.5v1.5h-1.5zm4.5 -5h1.5v1.5h-1.5zm-2.5 26h1.5v1.5h-1.5zm-2 -24.5h1.5v1.5h-1.5zm7.5 11.5h1.5v1.5h-1.5zm4 -4.5h1.5v1.5h-1.5zm-14 -6h1.5v1.5h-1.5zm0.5 18.5h1.5v1.5h-1.5zm6 5.5h1.5v1.5h-1.5zm-11 -27h1.5v1.5h-1.5zm-0.5 -1h1.5v1.5h-1.5zm23.5 11.5h1.5v1.5h-1.5zm-3 -9h1.5v1.5h-1.5zm0 12.5h1.5v1.5h-1.5zm0 -3h1.5v1.5h-1.5zm-20 -12h1.5v1.5h-1.5zm-0.5 -3.5h1.5v1.5h-1.5zm12 3h1.5v1.5h-1.5zm-4 -5.5h1.5v1.5h-1.5zm6.5 34h1.5v1.5h-1.5zm-8.5 -31.5h1.5v1.5h-1.5zm-4.5 9h1.5v1.5h-1.5zm0.5 6h1.5v1.5h-1.5zm12.5 13h1.5v1.5h-1.5zm-8.5 -20.5h1.5v1.5h-1.5zm10.5 8h1.5v1.5h-1.5zm-10 -8h1.5v1.5h-1.5zm0 9h1.5v1.5h-1.5zm4.5 -1h1.5v1.5h-1.5zm9.5 -2.5h1.5v1.5h-1.5zm-10 1.5h1.5v1.5h-1.5zm2.5 -3.5h1.5v1.5h-1.5zm-1.5 17h1.5v1.5h-1.5zm2 -16h1.5v1.5h-1.5zm-14 -5h1.5v1.5h-1.5zm19.5 14.5h1.5v1.5h-1.5zm-14 -15h1.5v1.5h-1.5zm5 -1h1.5v1.5h-1.5zm-7.5 0.5h1.5v1.5h-1.5zm18.5 23.5h1.5v1.5h-1.5zm-12.5 -23.5h1.5v1.5h-1.5zm2 11h1.5v1.5h-1.5zm-10.5 -1.5h1.5v1.5h-1.5zm16 4.5h1.5v1.5h-1.5zm8 -4h1.5v1.5h-1.5zm-13.5 -14.5h1.5v1.5h-1.5zm5.5 13h1.5v1.5h-1.5zm-6.5 -11h1.5v1.5h-1.5zm-4 8h1.5v1.5h-1.5zm-0.5 -14.5h1.5v1.5h-1.5zm11 13.5h1.5v1.5h-1.5zm1.5 2.5h1.5v1.5h-1.5zm-8 3h1.5v1.5h-1.5zm-5.5 -2h1.5v1.5h-1.5zm10 19.5h1.5v1.5h-1.5zm-6 -18.5h1.5v1.5h-1.5zm-1.5 -11.5h1.5v1.5h-1.5zm6 20.5h1.5v1.5h-1.5zm-6 -14.5h1.5v1.5h-1.5zm9 -2.5h1.5v1.5h-1.5zm-10.5 6h1.5v1.5h-1.5zm-3 -11.5h1.5v1.5h-1.5zm-2.5 12.5h1.5v1.5h-1.5zm-1.5 17h1.5v1.5h-1.5zm15.5 -22.5h1.5v1.5h-1.5zm-4.5 15.5h1.5v1.5h-1.5zm10 -18.5h1.5v1.5h-1.5zm-10 15.5h1.5v1.5h-1.5zm5.5 6h1.5v1.5h-1.5zm-8.5 -8.5h1.5v1.5h-1.5zm5 0h1.5v1.5h-1.5zm-5 -11h1.5v1.5h-1.5zm9 5h1.5v1.5h-1.5zm-10 7h1.5v1.5h-1.5zm10.5 -13h1.5v1.5h-1.5zm1 10h1.5v1.5h-1.5zm-20 -4h1.5v1.5h-1.5zm13.5 3h1.5v1.5h-1.5zm7 -10.5h1.5v1.5h-1.5zm-3 11.5h1.5v1.5h-1.5zm1.5 1h1.5v1.5h-1.5zm-6.5 -6h1.5v1.5h-1.5zm8 5h1.5v1.5h-1.5zm-6 -4h1.5v1.5h-1.5zm1.5 -5.5h1.5v1.5h-1.5zm2.5 23h1.5v1.5h-1.5zm-4 -3h1.5v1.5h-1.5zm-3.5 -17h1.5v1.5h-1.5zm-0.5 5.5h1.5v1.5h-1.5zm6.5 -16h1.5v1.5h-1.5zm-9 36h1.5v1.5h-1.5zm-1 -24h1.5v1.5h-1.5zm6 -4.5h1.5v1.5h-1.5zm2.5 5h1.5v1.5h-1.5zm7.5 6h1.5v1.5h-1.5zm-10.5 -9h1.5v1.5h-1.5zm2 13.5h1.5v1.5h-1.5zm1.5 -21.5h1.5v1.5h-1.5zm-10.5 23.5h1.5v1.5h-1.5zm10.5 -1h1.5v1.5h-1.5zm-2.5 -14h1.5v1.5h-1.5zm-12 11.5h1.5v1.5h-1.5zm8.5 11h1.5v1.5h-1.5zm-5 -9h1.5v1.5h-1.5zm2 18h1.5v1.5h-1.5zm5 -8h1.5v1.5h-1.5zm-4 -4.5h1.5v1.5h-1.5zm8.5 -6.5h1.5v1.5h-1.5zm-4.5 -2.5h1.5v1.5h-1.5zm0.5 18h1.5v1.5h-1.5zm2.5 -9.5h1.5v1.5h-1.5zm-5.5 3h1.5v1.5h-1.5zm2 4h1.5v1.5h-1.5zm2 -11h1.5v1.5h-1.5zm-5 -1h1.5v1.5h-1.5zm0.5 12.5h1.5v1.5h-1.5zm-1.5 -5h1.5v1.5h-1.5zm1 1h1.5v1.5h-1.5zm4.5 -5h1.5v1.5h-1.5zm-0.5 -2h1.5v1.5h-1.5zm16 6h1.5v1.5h-1.5zm-15 2.5h1.5v1.5h-1.5zm-1.5 -5.5h1.5v1.5h-1.5zm2.5 -5h1.5v1.5h-1.5zm-2.5 0h1.5v1.5h-1.5zm-8 19.5h1.5v1.5h-1.5zm10 -23.5h1.5v1.5h-1.5zm-6 23.5h1.5v1.5h-1.5zm-4.5 -3h1.5v1.5h-1.5zm11 -8.5h1.5v1.5h-1.5zm-3.5 -5h1.5v1.5h-1.5zm-1 13.5h1.5v1.5h-1.5zm-1.5 -8.5h1.5v1.5h-1.5zm6 6h1.5v1.5h-1.5zm-2 -8.5h1.5v1.5h-1.5zm-10.5 -8h1.5v1.5h-1.5zm0.5 27.5h1.5v1.5h-1.5zm6 -29h1.5v1.5h-1.5zm-1 9.5h1.5v1.5h-1.5zm9 7h1.5v1.5h-1.5zm4.5 -7.5h1.5v1.5h-1.5zm-3.5 0.5h1.5v1.5h-1.5zm-8.5 15.5h1.5v1.5h-1.5zm-2.5 -21.5h1.5v1.5h-1.5zm-9.5 11h1.5v1.5h-1.5zm7.5 2.5h1.5v1.5h-1.5zm8 1.5h1.5v1.5h-1.5zm5.5 -16h1.5v1.5h-1.5zm-15 12h1.5v1.5h-1.5zm5.5 -3h1.5v1.5h-1.5zm3 2.5h1.5v1.5h-1.5zm7.5 8h1.5v1.5h-1.5zm-10 -16.5h1.5v1.5h-1.5zm2 8.5h1.5v1.5h-1.5zm-13.5 -9h1.5v1.5h-1.5zm14.5 13h1.5v1.5h-1.5zm-4 -4.5h1.5v1.5h-1.5zm6 -3h1.5v1.5h-1.5zm-11.5 1.5h1.5v1.5h-1.5zm13 3.5h1.5v1.5h-1.5zm-5 -9h1.5v1.5h-1.5zm3.5 6.5h1.5v1.5h-1.5zm-0.5 -3.5h1.5v1.5h-1.5zm-2.5 -1.5h1.5v1.5h-1.5zm-3 -2h1.5v1.5h-1.5zm1.5 5.5h1.5v1.5h-1.5zm-3.5 9.5h1.5v1.5h-1.5zm16.5 -10h1.5v1.5h-1.5zm-0.5 7.5h1.5v1.5h-1.5zm-8.5 -22h1.5v1.5h-1.5zm-12 12h1.5v1.5h-1.5zm10.5 -2h1.5v1.5h-1.5zm-3.5 13h1.5v1.5h-1.5zm12 -4h1.5v1.5h-1.5zm-12.5 -10h1.5v1.5h-1.5zm-6.5 0.5h1.5v1.5h-1.5zm11.5 -42.5h1.5v1.5h-1.5zm7.5 -17.5h1.5v1.5h-1.5zm4 -16.5h1.5v1.5h-1.5zm16.5 -7h1.5v1.5h-1.5zm-6.5 -33.5h1.5v1.5h-1.5zm-17.5 -4.5h1.5v1.5h-1.5zm29.5 -4.5h1.5v1.5h-1.5zm-22.5 36h1.5v1.5h-1.5zm11 72.5h1.5v1.5h-1.5zm6 -89h1.5v1.5h-1.5zm-11 100.5h1.5v1.5h-1.5zm-4.5 -7.5h1.5v1.5h-1.5zm0.5 -66.5h1.5v1.5h-1.5zm3.5 11.5h1.5v1.5h-1.5zm8.5 -4h1.5v1.5h-1.5zm-8.5 51.5h1.5v1.5h-1.5zm-3 9.5h1.5v1.5h-1.5zm5 -66.5h1.5v1.5h-1.5zm-4 46h1.5v1.5h-1.5zm-8.5 -69h1.5v1.5h-1.5zm28 13.5h1.5v1.5h-1.5zm-2.5 50h1.5v1.5h-1.5zm-28 -85h1.5v1.5h-1.5zm18.5 53.5h1.5v1.5h-1.5zm13 -47h1.5v1.5h-1.5zm-15 47h1.5v1.5h-1.5zm-4.5 1h1.5v1.5h-1.5zm-4.5 41h1.5v1.5h-1.5zm19.5 -55.5h1.5v1.5h-1.5zm-11.5 41h1.5v1.5h-1.5zm4.5 -26.5h1.5v1.5h-1.5zm0 24h1.5v1.5h-1.5zm1.5 -3h1.5v1.5h-1.5zm-7 -71.5h1.5v1.5h-1.5zm12 80.5h1.5v1.5h-1.5zm-5.5 -58h1.5v1.5h-1.5zm-12.5 84h1.5v1.5h-1.5zm12 -5.5h1.5v1.5h-1.5zm2 -58h1.5v1.5h-1.5zm-5.5 -19.5h1.5v1.5h-1.5zm-12 11.5h1.5v1.5h-1.5zm23 12.5h1.5v1.5h-1.5zm-3.5 45h1.5v1.5h-1.5zm-7 -64h1.5v1.5h-1.5zm-8.5 60.5h1.5v1.5h-1.5zm12.5 -99h1.5v1.5h-1.5zm2.5 107.5h1.5v1.5h-1.5zm-4.5 -90h1.5v1.5h-1.5zm6 22h1.5v1.5h-1.5zm-0.5 17h1.5v1.5h-1.5zm-17 42h1.5v1.5h-1.5zm8.5 -28.5h1.5v1.5h-1.5zm-3.5 24.5h1.5v1.5h-1.5zm-12.5 -41h1.5v1.5h-1.5zm27 42.5h1.5v1.5h-1.5zm-11.5 -66.5h1.5v1.5h-1.5zm-2 -9h1.5v1.5h-1.5zm2 63.5h1.5v1.5h-1.5zm1 -5h1.5v1.5h-1.5zm-5 12h1.5v1.5h-1.5zm-4.5 -52.5h1.5v1.5h-1.5zm-1 -32h1.5v1.5h-1.5zm13 92h1.5v1.5h-1.5zm0.5 0.5h1.5v1.5h-1.5zm8.5 -78h1.5v1.5h-1.5zm-22.5 64h1.5v1.5h-1.5zm23 17h1.5v1.5h-1.5zm-8 -11.5h1.5v1.5h-1.5zm-19 -85h1.5v1.5h-1.5zm2 68.5h1.5v1.5h-1.5zm23 -55.5h1.5v1.5h-1.5zm-25 22.5h1.5v1.5h-1.5zm7 -23.5h1.5v1.5h-1.5zm-2 35.5h1.5v1.5h-1.5zm16.5 -15h1.5v1.5h-1.5zm-20.5 39h1.5v1.5h-1.5zm19.5 13.5h1.5v1.5h-1.5zm-20.5 -92h1.5v1.5h-1.5zm9.5 27.5h1.5v1.5h-1.5zm-4 -5.5h1.5v1.5h-1.5zm3 97.5h1.5v1.5h-1.5zm9.5 -8h1.5v1.5h-1.5zm-1.5 -52h1.5v1.5h-1.5zm3.5 9.5h1.5v1.5h-1.5zm-8.5 -15h1.5v1.5h-1.5zm5 -19h1.5v1.5h-1.5zm-10 71.5h1.5v1.5h-1.5zm-1 -88h1.5v1.5h-1.5zm3.5 98h1.5v1.5h-1.5zm20.5 -114h1.5v1.5h-1.5zm-15.5 17.5h1.5v1.5h-1.5zm8 73.5h1.5v1.5h-1.5zm7.5 -29h1.5v1.5h-1.5zm-2 -41h1.5v1.5h-1.5zm-15.5 21.5h1.5v1.5h-1.5zm-1 -26.5h1.5v1.5h-1.5zm-13 4.5h1.5v1.5h-1.5zm27 -8.5h1.5v1.5h-1.5zm-14.5 25.5h1.5v1.5h-1.5zm-15 -17.5h1.5v1.5h-1.5zm31.5 -10h1.5v1.5h-1.5zm-11.5 62.5h1.5v1.5h-1.5zm-12 -66.5h1.5v1.5h-1.5zm-0.5 60h1.5v1.5h-1.5zm-13 9h1.5v1.5h-1.5zm20 -40h1.5v1.5h-1.5zm6 39h1.5v1.5h-1.5zm-4.5 -51.5h1.5v1.5h-1.5zm-15.5 -23.5h1.5v1.5h-1.5zm15.5 1h1.5v1.5h-1.5zm-7.5 60h1.5v1.5h-1.5zm12 28.5h1.5v1.5h-1.5zm6.5 -35h1.5v1.5h-1.5zm-8.5 13h1.5v1.5h-1.5zm-7.5 27.5h1.5v1.5h-1.5zm12 4h1.5v1.5h-1.5zm5 -46h1.5v1.5h-1.5zm-14 -39h1.5v1.5h-1.5zm3.5 18.5h1.5v1.5h-1.5zm-5 29h1.5v1.5h-1.5zm16 4h1.5v1.5h-1.5zm-13.5 -15.5h1.5v1.5h-1.5zm9.5 -11h1.5v1.5h-1.5zm-3 72h1.5v1.5h-1.5zm-18 -51h1.5v1.5h-1.5zm11 13.5h1.5v1.5h-1.5zm16.5 -24.5h1.5v1.5h-1.5zm-14 53h1.5v1.5h-1.5zm9 -67.5h1.5v1.5h-1.5zm2 38h1.5v1.5h-1.5zm-5 -13h1.5v1.5h-1.5zm5 -5.5h1.5v1.5h-1.5zm-13 -13.5h1.5v1.5h-1.5zm8.5 51.5h1.5v1.5h-1.5zm-10.5 -83.5h1.5v1.5h-1.5zm-4 -2.5h1.5v1.5h-1.5zm10 93.5h1.5v1.5h-1.5zm1 -70.5h1.5v1.5h-1.5zm8.5 89h1.5v1.5h-1.5zm-8 -69h1.5v1.5h-1.5zm-3.5 10.5h1.5v1.5h-1.5zm4.5 -14.5h1.5v1.5h-1.5zm2.5 -6h1.5v1.5h-1.5zm-10.5 15.5h1.5v1.5h-1.5zm8 -23.5h1.5v1.5h-1.5zm4 73.5h1.5v1.5h-1.5zm10 -40.5h1.5v1.5h-1.5zm-15.5 -24.5h1.5v1.5h-1.5zm-2.5 -2h1.5v1.5h-1.5zm4.5 42h1.5v1.5h-1.5zm-9.5 24.5h1.5v1.5h-1.5zm14 -53h1.5v1.5h-1.5zm-14.5 41h1.5v1.5h-1.5zm5 -22h1.5v1.5h-1.5zm-1.5 -28.5h1.5v1.5h-1.5zm-1 -3h1.5v1.5h-1.5zm-1.5 80h1.5v1.5h-1.5zm12.5 -66h1.5v1.5h-1.5zm-10 -14.5h1.5v1.5h-1.5zm1.5 10.5h1.5v1.5h-1.5zm11 7.5h1.5v1.5h-1.5zm-4.5 65.5h1.5v1.5h-1.5zm-4 -93.5h1.5v1.5h-1.5zm-3 22.5h1.5v1.5h-1.5zm8 3.5h1.5v1.5h-1.5zm-15 -1.5h1.5v1.5h-1.5zm-1 -19.5h1.5v1.5h-1.5zm6 27h1.5v1.5h-1.5zm-1 27h1.5v1.5h-1.5zm-5.5 6.5h1.5v1.5h-1.5zm-4 -69h1.5v1.5h-1.5zm16 88h1.5v1.5h-1.5zm-3.5 -102.5h1.5v1.5h-1.5zm7 15.5h1.5v1.5h-1.5zm-20 78.5h1.5v1.5h-1.5zm5 2.5h1.5v1.5h-1.5zm23 -63.5h1.5v1.5h-1.5zm-17 35h1.5v1.5h-1.5zm-2 -18h1.5v1.5h-1.5zm-14 -54.5h1.5v1.5h-1.5zm32.5 115h1.5v1.5h-1.5zm-11 -61.5h1.5v1.5h-1.5zm8.5 19.5h1.5v1.5h-1.5zm-14 -26h1.5v1.5h-1.5zm-4 -37.5h1.5v1.5h-1.5zm-8.5 -10.5h1.5v1.5h-1.5zm20 45h1.5v1.5h-1.5zm14 -3h1.5v1.5h-1.5zm-5 24h1.5v1.5h-1.5zm-39.5 -24.5h1.5v1.5h-1.5zm14.5 -33h1.5v1.5h-1.5zm0 -12h1.5v1.5h-1.5zm14.5 53h1.5v1.5h-1.5zm-8.5 2h1.5v1.5h-1.5zm-3.5 46h1.5v1.5h-1.5zm1 -38.5h1.5v1.5h-1.5zm12 10h1.5v1.5h-1.5zm-9 4.5h1.5v1.5h-1.5zm-3 -20.5h1.5v1.5h-1.5zm-6.5 62h1.5v1.5h-1.5zm10.5 -108.5h1.5v1.5h-1.5zm-2 19h1.5v1.5h-1.5zm-3.5 8.5h1.5v1.5h-1.5zm3 49.5h1.5v1.5h-1.5zm-0.5 -40h1.5v1.5h-1.5zm16 58h1.5v1.5h-1.5zm-1 -2.5h1.5v1.5h-1.5zm-11.5 -31h1.5v1.5h-1.5zm6 20.5h1.5v1.5h-1.5zm3 -76.5h1.5v1.5h-1.5zm-5.5 5.5h1.5v1.5h-1.5zm-5 1.5h1.5v1.5h-1.5zm10 8.5h1.5v1.5h-1.5zm-6.5 29.5h1.5v1.5h-1.5zm5.5 -48h1.5v1.5h-1.5zm5.5 82h1.5v1.5h-1.5zm-2 -64h1.5v1.5h-1.5zm-7.5 -2.5h1.5v1.5h-1.5zm0.5 -8h1.5v1.5h-1.5zm-5 91.5h1.5v1.5h-1.5zm2 -59.5h1.5v1.5h-1.5zm7 61h1.5v1.5h-1.5zm-5.5 -33.5h1.5v1.5h-1.5zm4.5 -63.5h1.5v1.5h-1.5zm5.5 11.5h1.5v1.5h-1.5zm3.5 29.5h1.5v1.5h-1.5zm-13.5 38.5h1.5v1.5h-1.5zm19 -89.5h1.5v1.5h-1.5zm-22 7.5h1.5v1.5h-1.5zm1 25.5h1.5v1.5h-1.5zm1 -25h1.5v1.5h-1.5zm3 5h1.5v1.5h-1.5zm1.5 80.5h1.5v1.5h-1.5zm-23.5 -93h1.5v1.5h-1.5zm18 85.5h1.5v1.5h-1.5zm3 -27h1.5v1.5h-1.5zm9.5 -18h1.5v1.5h-1.5zm-4 -5h1.5v1.5h-1.5zm-10 -10.5h1.5v1.5h-1.5zm-6.5 31.5h1.5v1.5h-1.5zm16 -42h1.5v1.5h-1.5zm2 51h1.5v1.5h-1.5zm-16 -5.5h1.5v1.5h-1.5zm10.5 1h1.5v1.5h-1.5zm-9.5 -48h1.5v1.5h-1.5zm9 -6h1.5v1.5h-1.5zm4.5 69.5h1.5v1.5h-1.5zm0 -79.5h1.5v1.5h-1.5zm-3.5 46.5h1.5v1.5h-1.5zm-16.5 -43h1.5v1.5h-1.5zm31 104.5h1.5v1.5h-1.5zm-8 -90.5h1.5v1.5h-1.5zm-12 92h1.5v1.5h-1.5zm-8 -109.5h1.5v1.5h-1.5zm-17.5 42h1.5v1.5h-1.5zm19.5 51h1.5v1.5h-1.5zm2.5 -100.5h1.5v1.5h-1.5zm3 33h1.5v1.5h-1.5zm17.5 85.5h1.5v1.5h-1.5zm-8.5 -51.5h1.5v1.5h-1.5zm-4.5 0h1.5v1.5h-1.5zm-19 -20.5h1.5v1.5h-1.5zm34.5 29h1.5v1.5h-1.5zm-1.5 9.5h1.5v1.5h-1.5zm-29 -69.5h1.5v1.5h-1.5zm17 35.5h1.5v1.5h-1.5zm7.5 35.5h1.5v1.5h-1.5zm-17.5 -72h1.5v1.5h-1.5zm25.5 116.5h1.5v1.5h-1.5zm-22.5 -50h1.5v1.5h-1.5zm3 -25.5h1.5v1.5h-1.5zm15 68.5h1.5v1.5h-1.5zm-23.5 -9.5h1.5v1.5h-1.5zm0 -38.5h1.5v1.5h-1.5zm4.5 -62.5h1.5v1.5h-1.5zm-11.5 21h1.5v1.5h-1.5zm24.5 68h1.5v1.5h-1.5zm-8 -87h1.5v1.5h-1.5zm-0.5 2h1.5v1.5h-1.5zm-1 89h1.5v1.5h-1.5zm11.5 -85.5h1.5v1.5h-1.5zm-13.5 24.5h1.5v1.5h-1.5zm4 76h1.5v1.5h-1.5zm13.5 -63.5h1.5v1.5h-1.5zm-27 10.5h1.5v1.5h-1.5zm8 59h1.5v1.5h-1.5zm5.5 -76.5h1.5v1.5h-1.5zm-2 -58h1.5v1.5h-1.5zm10 30.5h1.5v1.5h-1.5zm-8 28.5h1.5v1.5h-1.5zm8.5 49h1.5v1.5h-1.5zm-6.5 5.5h1.5v1.5h-1.5zm-3.5 -88.5h1.5v1.5h-1.5zm-10.5 -14.5h1.5v1.5h-1.5zm10 113.5h1.5v1.5h-1.5zm-16 -99h1.5v1.5h-1.5zm23 50.5h1.5v1.5h-1.5zm-14 40h1.5v1.5h-1.5zm7.5 -17.5h1.5v1.5h-1.5zm-1 -70.5h1.5v1.5h-1.5zm-4 72.5h1.5v1.5h-1.5zm9 -66.5h1.5v1.5h-1.5zm4 1.5h1.5v1.5h-1.5zm-20.5 27h1.5v1.5h-1.5zm0.5 -24.5h1.5v1.5h-1.5zm2.5 71.5h1.5v1.5h-1.5zm20 3h1.5v1.5h-1.5zm-5.5 -12.5h1.5v1.5h-1.5zm-11.5 -28.5h1.5v1.5h-1.5zm4.5 -48h1.5v1.5h-1.5zm6.5 3.5h1.5v1.5h-1.5zm-1 -17.5h1.5v1.5h-1.5zm0.5 -6.5h1.5v1.5h-1.5zm-15 71h1.5v1.5h-1.5zm5 -26.5h1.5v1.5h-1.5zm2 22.5h1.5v1.5h-1.5zm-3 -34h1.5v1.5h-1.5zm0.5 88h1.5v1.5h-1.5zm9.5 -103.5h1.5v1.5h-1.5zm-20 91h1.5v1.5h-1.5zm23.5 -4h1.5v1.5h-1.5zm-8.5 12h1.5v1.5h-1.5zm7 -17h1.5v1.5h-1.5zm-1 -25h1.5v1.5h-1.5zm-28 20h1.5v1.5h-1.5zm25.5 -39h1.5v1.5h-1.5zm-7.5 22.5h1.5v1.5h-1.5zm14 20h1.5v1.5h-1.5zm-5.5 -68.5h1.5v1.5h-1.5zm1.5 61.5h1.5v1.5h-1.5zm-4.5 -24h1.5v1.5h-1.5zm15 4.5h1.5v1.5h-1.5zm-14.5 -12.5h1.5v1.5h-1.5zm-2.5 -39h1.5v1.5h-1.5zm24 28h1.5v1.5h-1.5zm-25 -23h1.5v1.5h-1.5zm11 37.5h1.5v1.5h-1.5zm-7 42h1.5v1.5h-1.5zm7 -50.5h1.5v1.5h-1.5zm-1.5 -0.5h1.5v1.5h-1.5zm3 16h1.5v1.5h-1.5zm7.5 45.5h1.5v1.5h-1.5zm-4 -56.5h1.5v1.5h-1.5zm3 29h1.5v1.5h-1.5zm-5 -22.5h1.5v1.5h-1.5zm5 19h1.5v1.5h-1.5zm-3 -19.5h1.5v1.5h-1.5zm2 24h1.5v1.5h-1.5zm-5.5 -9h1.5v1.5h-1.5zm9 7.5h1.5v1.5h-1.5zm-11.5 -4h1.5v1.5h-1.5zm-3 -41.5h1.5v1.5h-1.5zm10 66.5h1.5v1.5h-1.5zm1.5 -60.5h1.5v1.5h-1.5zm-3 -3.5h1.5v1.5h-1.5zm-0.5 24h1.5v1.5h-1.5zm-4.5 8.5h1.5v1.5h-1.5zm4.5 -10.5h1.5v1.5h-1.5zm5 -2h1.5v1.5h-1.5zm-2.5 1h1.5v1.5h-1.5zm4.5 -41h1.5v1.5h-1.5zm-1 48h1.5v1.5h-1.5zm-7.5 -31h1.5v1.5h-1.5zm3.5 38h1.5v1.5h-1.5zm8 34.5h1.5v1.5h-1.5zm-6.5 -23h1.5v1.5h-1.5zm1 -79.5h1.5v1.5h-1.5zm2 38.5h1.5v1.5h-1.5zm-2 33.5h1.5v1.5h-1.5zm1.5 -21.5h1.5v1.5h-1.5zm-6 -2h1.5v1.5h-1.5zm3.5 -31h1.5v1.5h-1.5zm2 19h1.5v1.5h-1.5zm-5.5 50h1.5v1.5h-1.5zm-9 -65h1.5v1.5h-1.5zm6.5 26.5h1.5v1.5h-1.5zm2.5 -8.5h1.5v1.5h-1.5zm-2.5 34.5h1.5v1.5h-1.5zm4.5 5h1.5v1.5h-1.5zm10 -13.5h1.5v1.5h-1.5zm-12.5 -1.5h1.5v1.5h-1.5zm4 -23h1.5v1.5h-1.5zm-3 -19.5h1.5v1.5h-1.5zm0.5 41.5h1.5v1.5h-1.5zm-0.5 -0.5h1.5v1.5h-1.5zm-3.5 1.5h1.5v1.5h-1.5zm8.5 -26.5h1.5v1.5h-1.5zm-4.5 3h1.5v1.5h-1.5zm-1 13h1.5v1.5h-1.5zm5.5 2h1.5v1.5h-1.5zm-8.5 7h1.5v1.5h-1.5zm10.5 -16h1.5v1.5h-1.5zm-15 32h1.5v1.5h-1.5zm6 -1.5h1.5v1.5h-1.5zm1.5 -32.5h1.5v1.5h-1.5zm10.5 2h1.5v1.5h-1.5zm-9.5 15h1.5v1.5h-1.5zm-1 -23h1.5v1.5h-1.5zm-4.5 39.5h1.5v1.5h-1.5zm12 -28h1.5v1.5h-1.5zm-6 -7h1.5v1.5h-1.5zm-0.5 10.5h1.5v1.5h-1.5zm-2.5 -12.5h1.5v1.5h-1.5zm4 55h1.5v1.5h-1.5zm-3.5 -7.5h1.5v1.5h-1.5zm7.5 -23.5h1.5v1.5h-1.5zm-4.5 -51.5h1.5v1.5h-1.5zm-2.5 44h1.5v1.5h-1.5zm2.5 -40.5h1.5v1.5h-1.5zm-2 7h1.5v1.5h-1.5zm-10 33h1.5v1.5h-1.5zm16 52.5h1.5v1.5h-1.5zm-9 -50.5h1.5v1.5h-1.5zm9.5 1.5h1.5v1.5h-1.5zm-2.5 -19h1.5v1.5h-1.5zm-7 47h1.5v1.5h-1.5zm1 -33h1.5v1.5h-1.5zm-1 25h1.5v1.5h-1.5zm4 -67h1.5v1.5h-1.5zm4.5 56h1.5v1.5h-1.5zm1.5 -1h1.5v1.5h-1.5zm-5 -46h1.5v1.5h-1.5zm-6 41h1.5v1.5h-1.5zm4.5 -47h1.5v1.5h-1.5zm-2 84h1.5v1.5h-1.5zm4.5 -56h1.5v1.5h-1.5zm3.5 -8.5h1.5v1.5h-1.5zm-12.5 20h1.5v1.5h-1.5zm3 -16.5h1.5v1.5h-1.5zm4.5 8.5h1.5v1.5h-1.5zm-1 -40h1.5v1.5h-1.5z"/>
<path fill="#2834c4" d="M0 0m632.5 73h1.5v1.5h-1.5zm-30 8.5h1.5v1.5h-1.5zm19 -15h1.5v1.5h-1.5zm-6 5h1.5v1.5h-1.5zm2 -6.5h1.5v1.5h-1.5zm0 1.5h1.5v1.5h-1.5zm23 -4h1.5v1.5h-1.5zm-20 14h1.5v1.5h-1.5zm-4 -3h1.5v1.5h-1.5zm-2 4h1.5v1.5h-1.5zm2 0.5h1.5v1.5h-1.5zm5.5 -11h1.5v1.5h-1.5zm-4.5 19h1.5v1.5h-1.5zm7.5 -10.5h1.5v1.5h-1.5zm-7.5 -4.5h1.5v1.5h-1.5zm5 5.5h1.5v1.5h-1.5zm9 6.5h1.5v1.5h-1.5zm-14.5 -4.5h1.5v1.5h-1.5zm2.5 -10.5h1.5v1.5h-1.5zm-3.5 15.5h1.5v1.5h-1.5zm3 -17.5h1.5v1.5h-1.5zm9 17.5h1.5v1.5h-1.5zm-15 -5.5h1.5v1.5h-1.5zm10 -12h1.5v1.5h-1.5zm-3.5 12h1.5v1.5h-1.5zm-7 -1.5h1.5v1.5h-1.5zm0.5 3.5h1.5v1.5h-1.5zm8 0.5h1.5v1.5h-1.5zm0.5 -17.5h1.5v1.5h-1.5zm6.5 9.5h1.5v1.5h-1.5zm-11.5 -9h1.5v1.5h-1.5zm-8.5 15h1.5v1.5h-1.5zm13.5 -1.5h1.5v1.5h-1.5zm-13.5 4.5h1.5v1.5h-1.5zm16 -10h1.5v1.5h-1.5zm-3.5 -1h1.5v1.5h-1.5zm-2 0.5h1.5v1.5h-1.5zm-13 2.5h1.5v1.5h-1.5zm9.5 -10h1.5v1.5h-1.5zm-11 -4h1.5v1.5h-1.5zm22 13.5h1.5v1.5h-1.5zm-6.5 -12h1.5v1.5h-1.5zm4.5 10h1.5v1.5h-1.5zm-12 4h1.5v1.5h-1.5zm2.5 4h1.5v1.5h-1.5zm7.5 6h1.5v1.5h-1.5zm13 -12.5h1.5v1.5h-1.5zm-16 -4h1.5v1.5h-1.5zm-10 19h1.5v1.5h-1.5zm10.5 -15h1.5v1.5h-1.5zm-5.5 -2h1.5v1.5h-1.5zm3 -4h1.5v1.5h-1.5zm-0.5 10h1.5v1.5h-1.5zm1.5 -5h1.5v1.5h-1.5zm6.5 -3.5h1.5v1.5h-1.5zm0 6.5h1.5v1.5h-1.5zm-8.5 -1h1.5v1.5h-1.5zm8.5 -9h1.5v1.5h-1.5zm-4.5 10h1.5v1.5h-1.5zm9.5 -3h1.5v1.5h-1.5zm-4 2.5h1.5v1.5h-1.5zm-9 11h1.5v1.5h-1.5zm13 -6h1.5v1.5h-1.5zm-15 3.5h1.5v1.5h-1.5zm-3 -6h1.5v1.5h-1.5zm8.5 -4.5h1.5v1.5h-1.5zm5.5 9.5h1.5v1.5h-1.5zm-5.5 -17h1.5v1.5h-1.5zm1 15.5h1.5v1.5h-1.5zm5.5 -15h1.5v1.5h-1.5zm-13 13.5h1.5v1.5h-1.5zm8 -3h1.5v1.5h-1.5zm-2 0.5h1.5v1.5h-1.5zm-1.5 6.5h1.5v1.5h-1.5zm0 -14h1.5v1.5h-1.5zm-7 6.5h1.5v1.5h-1.5zm16.5 5.5h1.5v1.5h-1.5zm-21 -15h1.5v1.5h-1.5zm13.5 0h1.5v1.5h-1.5zm-8 -2h1.5v1.5h-1.5zm4 6.5h1.5v1.5h-1.5zm-8.5 8h1.5v1.5h-1.5zm10.5 0h1.5v1.5h-1.5zm-3.5 4h1.5v1.5h-1.5zm-0.5 -16.5h1.5v1.5h-1.5zm4.5 16h1.5v1.5h-1.5zm-0.5 -11.5h1.5v1.5h-1.5zm4.5 4h1.5v1.5h-1.5zm-2.5 0.5h1.5v1.5h-1.5zm3 1.5h1.5v1.5h-1.5zm7.5 6h1.5v1.5h-1.5zm-12.5 -17h1.5v1.5h-1.5zm1 7h1.5v1.5h-1.5zm3.5 -19h1.5v1.5h-1.5zm1.5 14h1.5v1.5h-1.5zm3 6.5h1.5v1.5h-1.5zm-3.5 -2.5h1.5v1.5h-1.5zm1 -1.5h1.5v1.5h-1.5zm-4 13.5h1.5v1.5h-1.5zm8 -10.5h1.5v1.5h-1.5zm2.5 -7h1.5v1.5h-1.5zm-15.5 16.5h1.5v1.5h-1.5zm-4 -14h1.5v1.5h-1.5zm-1.5 -7.5h1.5v1.5h-1.5zm12.5 30h1.5v1.5h-1.5zm-1.5 -21h1.5v1.5h-1.5zm-9 1h1.5v1.5h-1.5zm6.5 -3h1.5v1.5h-1.5zm-3.5 11h1.5v1.5h-1.5zm11 7.5h1.5v1.5h-1.5zm-14.5 -11h1.5v1.5h-1.5zm0.5 1h1.5v1.5h-1.5zm16.5 -6.5h1.5v1.5h-1.5zm-10 3.5h1.5v1.5h-1.5zm1 -11.5h1.5v1.5h-1.5zm3.5 10.5h1.5v1.5h-1.5zm11 -14h1.5v1.5h-1.5zm-10 11h1.5v1.5h-1.5zm-7.5 19.5h1.5v1.5h-1.5zm3 5h1.5v1.5h-1.5zm10 -6.5h1.5v1.5h-1.5zm-6 -3h1.5v1.5h-1.5zm4.5 16h1.5v1.5h-1.5zm-2 -4.5h1.5v1.5h-1.5zm-1.5 -3h1.5v1.5h-1.5zm1 5h1.5v1.5h-1.5zm1 2.5h1.5v1.5h-1.5zm4 -9h1.5v1.5h-1.5zm-3 5h1.5v1.5h-1.5zm6 -16.5h1.5v1.5h-1.5zm4 16h1.5v1.5h-1.5zm-13 -21h1.5v1.5h-1.5zm8 -6h1.5v1.5h-1.5zm-5 19.5h1.5v1.5h-1.5zm-1 2.5h1.5v1.5h-1.5zm-4 -11h1.5v1.5h-1.5zm16 9h1.5v1.5h-1.5zm2.5 6h1.5v1.5h-1.5zm-19.5 -2.5h1.5v1.5h-1.5zm5 -3h1.5v1.5h-1.5zm-9.5 0h1.5v1.5h-1.5zm12 7.5h1.5v1.5h-1.5zm3.5 -1.5h1.5v1.5h-1.5zm-15.5 -3.5h1.5v1.5h-1.5zm18 -15.5h1.5v1.5h-1.5zm-17 12.5h1.5v1.5h-1.5zm11.5 4h1.5v1.5h-1.5zm-5 -15h1.5v1.5h-1.5zm5 16.5h1.5v1.5h-1.5zm-13.5 6h1.5v1.5h-1.5zm7 -6h1.5v1.5h-1.5zm-5.5 -6.5h1.5v1.5h-1.5zm12 -10h1.5v1.5h-1.5zm0 17.5h1.5v1.5h-1.5zm-1 4h1.5v1.5h-1.5zm4 -21.5h1.5v1.5h-1.5zm-1.5 1.5h1.5v1.5h-1.5zm9 -0.5h1.5v1.5h-1.5zm-1.5 18h1.5v1.5h-1.5zm-7 4.5h1.5v1.5h-1.5zm-3 -10h1.5v1.5h-1.5zm9 -1.5h1.5v1.5h-1.5zm-16 -6.5h1.5v1.5h-1.5zm16 1.5h1.5v1.5h-1.5zm-19.5 -6.5h1.5v1.5h-1.5zm9.5 24h1.5v1.5h-1.5zm0 -10h1.5v1.5h-1.5zm10 -12h1.5v1.5h-1.5zm-4 10h1.5v1.5h-1.5zm-2 2h1.5v1.5h-1.5zm-2 1h1.5v1.5h-1.5zm-3 -15h1.5v1.5h-1.5zm2 10h1.5v1.5h-1.5zm-3.5 -13.5h1.5v1.5h-1.5zm-6 3.5h1.5v1.5h-1.5zm5 8.5h1.5v1.5h-1.5zm12 -2h1.5v1.5h-1.5zm-13 13.5h1.5v1.5h-1.5zm-0.5 -12.5h1.5v1.5h-1.5zm9.5 6.5h1.5v1.5h-1.5zm3.5 -7h1.5v1.5h-1.5zm-2.5 -12h1.5v1.5h-1.5zm-12 8h1.5v1.5h-1.5zm10 -6.5h1.5v1.5h-1.5zm-2.5 24.5h1.5v1.5h-1.5zm1 -30h1.5v1.5h-1.5zm4.5 23h1.5v1.5h-1.5zm-10.5 -4h1.5v1.5h-1.5zm8 -9.5h1.5v1.5h-1.5zm10 0.5h1.5v1.5h-1.5zm-7.5 3h1.5v1.5h-1.5zm-2 -7h1.5v1.5h-1.5zm-13.5 34h1.5v1.5h-1.5zm11 0.5h1.5v1.5h-1.5zm-8.5 -24.5h1.5v1.5h-1.5zm3.5 0.5h1.5v1.5h-1.5zm4.5 -3h1.5v1.5h-1.5zm-11.5 -12h1.5v1.5h-1.5zm12 23.5h1.5v1.5h-1.5zm4.5 -18h1.5v1.5h-1.5zm-7.5 22h1.5v1.5h-1.5zm-5 -10.5h1.5v1.5h-1.5zm-1.5 -7.5h1.5v1.5h-1.5zm6 9.5h1.5v1.5h-1.5zm3 0h1.5v1.5h-1.5zm-5.5 5.5h1.5v1.5h-1.5zm13.5 0h1.5v1.5h-1.5zm-5 -22h1.5v1.5h-1.5zm-8.5 23.5h1.5v1.5h-1.5zm-0.5 -2h1.5v1.5h-1.5zm4 -7.5h1.5v1.5h-1.5zm7 5.5h1.5v1.5h-1.5zm-5.5 1h1.5v1.5h-1.5zm3 -15h1.5v1.5h-1.5zm17 16.5h1.5v1.5h-1.5zm-25.5 2.5h1.5v1.5h-1.5zm11 -8h1.5v1.5h-1.5zm-4 6h1.5v1.5h-1.5zm-8.5 -3.5h1.5v1.5h-1.5zm14.5 -4h1.5v1.5h-1.5zm-8.5 -5.5h1.5v1.5h-1.5zm0 19h1.5v1.5h-1.5zm-1 -24h1.5v1.5h-1.5zm4.5 6.5h1.5v1.5h-1.5zm-11 9h1.5v1.5h-1.5zm2 -7h1.5v1.5h-1.5zm2.5 -7.5h1.5v1.5h-1.5zm4 6.5h1.5v1.5h-1.5zm2 -2h1.5v1.5h-1.5zm-9 28.5h1.5v1.5h-1.5zm-2 10.5h1.5v1.5h-1.5zm3.5 -25h1.5v1.5h-1.5zm4 2.5h1.5v1.5h-1.5zm-1 20.5h1.5v1.5h-1.5zm-7 -13.5h1.5v1.5h-1.5zm-1 0.5h1.5v1.5h-1.5zm-5 -4.5h1.5v1.5h-1.5zm16 8.5h1.5v1.5h-1.5zm-1.5 2.5h1.5v1.5h-1.5zm-8.5 -8.5h1.5v1.5h-1.5zm2.5 -4.5h1.5v1.5h-1.5zm-9 -4.5h1.5v1.5h-1.5zm11 4.5h1.5v1.5h-1.5zm-14 -1h1.5v1.5h-1.5zm11 5h1.5v1.5h-1.5zm1.5 12.5h1.5v1.5h-1.5zm-2.5 -21.5h1.5v1.5h-1.5zm0.5 12.5h1.5v1.5h-1.5zm-1 0h1.5v1.5h-1.5zm2.5 2h1.5v1.5h-1.5zm-7.5 -15h1.5v1.5h-1.5zm6 4.5h1.5v1.5h-1.5zm4.5 15.5h1.5v1.5h-1.5zm1 -1.5h1.5v1.5h-1.5zm6 -11.5h1.5v1.5h-1.5zm-19.5 -1h1.5v1.5h-1.5zm-4.5 7.5h1.5v1.5h-1.5zm5 -1.5h1.5v1.5h-1.5zm-6 1h1.5v1.5h-1.5zm20 -7h1.5v1.5h-1.5zm-3.5 -2h1.5v1.5h-1.5zm-5.5 24h1.5v1.5h-1.5zm9.5 -25h1.5v1.5h-1.5zm-4.5 5h1.5v1.5h-1.5zm-1.5 0h1.5v1.5h-1.5zm2.5 -6h1.5v1.5h-1.5zm-8.5 14.5h1.5v1.5h-1.5zm13.5 6h1.5v1.5h-1.5zm-14.5 -27h1.5v1.5h-1.5zm6.5 35h1.5v1.5h-1.5zm5 -25h1.5v1.5h-1.5zm-8.5 7.5h1.5v1.5h-1.5zm3.5 -19.5h1.5v1.5h-1.5zm-1 11h1.5v1.5h-1.5zm-4 11h1.5v1.5h-1.5zm12.5 1h1.5v1.5h-1.5zm-2.5 -16h1.5v1.5h-1.5zm5.5 6.5h1.5v1.5h-1.5zm-10 -14h1.5v1.5h-1.5zm5 15h1.5v1.5h-1.5zm6 17.5h1.5v1.5h-1.5zm-4.5 -16h1.5v1.5h-1.5zm-6 -5.5h1.5v1.5h-1.5zm-1 -10h1.5v1.5h-1.5zm9 13.5h1.5v1.5h-1.5zm-9 -3.5h1.5v1.5h-1.5zm6 14.5h1.5v1.5h-1.5zm-11 -15.5h1.5v1.5h-1.5zm3 4h1.5v1.5h-1.5zm9 15.5h1.5v1.5h-1.5zm-11.5 -18.5h1.5v1.5h-1.5zm8 -11.5h1.5v1.5h-1.5zm-3 21h1.5v1.5h-1.5zm2.5 -3.5h1.5v1.5h-1.5zm2.5 25.5h1.5v1.5h-1.5zm-10 -12h1.5v1.5h-1.5zm-2 -9h1.5v1.5h-1.5zm0.5 -9h1.5v1.5h-1.5zm12.5 11h1.5v1.5h-1.5zm-1 -7.5h1.5v1.5h-1.5zm-8.5 -0.5h1.5v1.5h-1.5zm1.5 6.5h1.5v1.5h-1.5zm3 -1h1.5v1.5h-1.5zm-0.5 -14.5h1.5v1.5h-1.5zm6 -3.5h1.5v1.5h-1.5zm-7.5 1.5h1.5v1.5h-1.5zm11.5 6h1.5v1.5h-1.5zm-29 8h1.5v1.5h-1.5zm12.5 5h1.5v1.5h-1.5zm5.5 -26.5h1.5v1.5h-1.5zm-4 18.5h1.5v1.5h-1.5zm3.5 -13.5h1.5v1.5h-1.5zm-1.5 12.5h1.5v1.5h-1.5zm7 1h1.5v1.5h-1.5zm-6 -12.5h1.5v1.5h-1.5zm0.5 13.5h1.5v1.5h-1.5zm0.5 4.5h1.5v1.5h-1.5zm10.5 9h1.5v1.5h-1.5zm-1 -11h1.5v1.5h-1.5zm-5 1h1.5v1.5h-1.5zm10 11.5h1.5v1.5h-1.5zm2 -29h1.5v1.5h-1.5zm-23 20h1.5v1.5h-1.5zm19 -13h1.5v1.5h-1.5zm-13.5 7h1.5v1.5h-1.5zm-4.5 8.5h1.5v1.5h-1.5zm11.5 -11h1.5v1.5h-1.5zm-1 39h1.5v1.5h-1.5zm-17.5 -30.5h1.5v1.5h-1.5zm15 -28.5h1.5v1.5h-1.5zm7 11h1.5v1.5h-1.5zm-10 16.5h1.5v1.5h-1.5zm-7 -15.5h1.5v1.5h-1.5zm3.5 -1h1.5v1.5h-1.5zm10 17h1.5v1.5h-1.5zm-7 12h1.5v1.5h-1.5zm6 -21h1.5v1.5h-1.5zm5.5 1.5h1.5v1.5h-1.5zm-0.5 -3.5h1.5v1.5h-1.5zm-10.5 -1h1.5v1.5h-1.5zm11.5 36.5h1.5v1.5h-1.5zm-13.5 -13.5h1.5v1.5h-1.5zm12.5 -9.5h1.5v1.5h-1.5zm-5.5 16h1.5v1.5h-1.5zm-3 3h1.5v1.5h-1.5zm1.5 7.5h1.5v1.5h-1.5zm1.5 -18.5h1.5v1.5h-1.5zm-0.5 0.5h1.5v1.5h-1.5zm-4.5 12.5h1.5v1.5h-1.5zm6 7.5h1.5v1.5h-1.5zm4.5 -16h1.5v1.5h-1.5zm0 8h1.5v1.5h-1.5zm7.5 -1h1.5v1.5h-1.5zm-9 4h1.5v1.5h-1.5zm-2 -13h1.5v1.5h-1.5zm3 27.5h1.5v1.5h-1.5zm-10.5 -29h1.5v1.5h-1.5zm4 -2h1.5v1.5h-1.5zm5.5 21.5h1.5v1.5h-1.5zm-3.5 -37.5h1.5v1.5h-1.5zm6.5 30.5h1.5v1.5h-1.5zm-13 -1h1.5v1.5h-1.5zm18.5 -14.5h1.5v1.5h-1.5zm-16.5 9.5h1.5v1.5h-1.5zm8 0.5h1.5v1.5h-1.5zm-4.5 -6h1.5v1.5h-1.5zm8.5 2.5h1.5v1.5h-1.5zm-9.5 -14.5h1.5v1.5h-1.5zm-2.5 5h1.5v1.5h-1.5zm1.5 8.5h1.5v1.5h-1.5zm-14 14h1.5v1.5h-1.5zm12.5 1h1.5v1.5h-1.5zm7 1.5h1.5v1.5h-1.5zm6 -19h1.5v1.5h-1.5zm-12.5 -10.5h1.5v1.5h-1.5zm-4.5 23h1.5v1.5h-1.5zm11.5 -7h1.5v1.5h-1.5zm-18.5 -6h1.5v1.5h-1.5zm16.5 4h1.5v1.5h-1.5zm0 7h1.5v1.5h-1.5zm-6 5.5h1.5v1.5h-1.5zm6 -18h1.5v1.5h-1.5zm2.5 15h1.5v1.5h-1.5zm-4 -2.5h1.5v1.5h-1.5zm3 -0.5h1.5v1.5h-1.5zm-6 -9h1.5v1.5h-1.5zm-3.5 19h1.5v1.5h-1.5zm9.5 -15h1.5v1.5h-1.5zm-5.5 21.5h1.5v1.5h-1.5zm1.5 -14.5h1.5v1.5h-1.5zm15 -10h1.5v1.5h-1.5zm-10.5 -9h1.5v1.5h-1.5zm9.5 20h1.5v1.5h-1.5zm-11 -11.5h1.5v1.5h-1.5zm-6.5 9.5h1.5v1.5h-1.5zm2 -16h1.5v1.5h-1.5zm0.5 17.5h1.5v1.5h-1.5zm-2.5 -5.5h1.5v1.5h-1.5zm3 4.5h1.5v1.5h-1.5zm9 12h1.5v1.5h-1.5zm-3 -10h1.5v1.5h-1.5zm-12.5 -13h1.5v1.5h-1.5zm6.5 12h1.5v1.5h-1.5zm4.5 -6h1.5v1.5h-1.5zm-6 1h1.5v1.5h-1.5zm-3 12h1.5v1.5h-1.5zm11 -2h1.5v1.5h-1.5zm-5.5 -10.5h1.5v1.5h-1.5zm3 -1.5h1.5v1.5h-1.5zm-6 0h1.5v1.5h-1.5zm2 -2.5h1.5v1.5h-1.5zm-2.5 0h1.5v1.5h-1.5zm9 21h1.5v1.5h-1.5zm-11.5 -35h1.5v1.5h-1.5zm0.5 12h1.5v1.5h-1.5zm4.5 10h1.5v1.5h-1.5zm6 -1h1.5v1.5h-1.5zm-0.5 8h1.5v1.5h-1.5zm-6.5 1.5h1.5v1.5h-1.5zm12 2.5h1.5v1.5h-1.5zm-5 -0.5h1.5v1.5h-1.5zm-3.5 -23h1.5v1.5h-1.5zm2.5 -1h1.5v1.5h-1.5zm-5.5 1h1.5v1.5h-1.5zm5 9h1.5v1.5h-1.5zm3.5 -2.5h1.5v1.5h-1.5zm-7 16.5h1.5v1.5h-1.5zm-15 -24h1.5v1.5h-1.5zm12 16.5h1.5v1.5h-1.5zm-3.5 -24h1.5v1.5h-1.5zm9.5 14h1.5v1.5h-1.5zm6.5 8h1.5v1.5h-1.5zm-13.5 4.5h1.5v1.5h-1.5zm17.5 -24h1.5v1.5h-1.5zm-25.5 10h1.5v1.5h-1.5zm9 -6.5h1.5v1.5h-1.5zm11 15h1.5v1.5h-1.5zm-20 -12h1.5v1.5h-1.5zm13.5 1.5h1.5v1.5h-1.5zm8.5 7h1.5v1.5h-1.5zm-14 -12h1.5v1.5h-1.5zm-1 15h1.5v1.5h-1.5zm3.5 1.5h1.5v1.5h-1.5zm-9.5 8h1.5v1.5h-1.5zm9 -9h1.5v1.5h-1.5zm-1.5 1h1.5v1.5h-1.5zm3.5 -9h1.5v1.5h-1.5zm-7 4.5h1.5v1.5h-1.5zm3 -7.5h1.5v1.5h-1.5zm2.5 -2h1.5v1.5h-1.5zm-7 18h1.5v1.5h-1.5zm15.5 -7h1.5v1.5h-1.5zm-2.5 -10h1.5v1.5h-1.5zm-13.5 -2.5h1.5v1.5h-1.5zm4.5 15.5h1.5v1.5h-1.5zm6 10h1.5v1.5h-1.5zm-10 -23.5h1.5v1.5h-1.5zm10.5 -8h1.5v1.5h-1.5zm-2 3h1.5v1.5h-1.5zm-5 25.5h1.5v1.5h-1.5zm-1 13h1.5v1.5h-1.5zm2.5 -7h1.5v1.5h-1.5zm-7 6.5h1.5v1.5h-1.5zm6 -12.5h1.5v1.5h-1.5zm4 -8.5h1.5v1.5h-1.5zm-6 7h1.5v1.5h-1.5zm-2 20.5h1.5v1.5h-1.5zm11 -5.5h1.5v1.5h-1.5zm-1.5 -14h1.5v1.5h-1.5zm-6.5 2h1.5v1.5h-1.5zm-6.5 19h1.5v1.5h-1.5zm-6.5 -14h1.5v1.5h-1.5zm2.5 16.5h1.5v1.5h-1.5zm32 -15h1.5v1.5h-1.5zm-18.5 -9h1.5v1.5h-1.5zm0.5 11h1.5v1.5h-1.5zm-8.5 7.5h1.5v1.5h-1.5zm7 -5.5h1.5v1.5h-1.5zm9 -3.5h1.5v1.5h-1.5zm-10 10h1.5v1.5h-1.5zm4 -13h1.5v1.5h-1.5zm-7.5 4.5h1.5v1.5h-1.5zm16 2.5h1.5v1.5h-1.5zm-9.5 -21h1.5v1.5h-1.5zm4 17.5h1.5v1.5h-1.5zm1 13h1.5v1.5h-1.5zm-17 -13h1.5v1.5h-1.5zm21.5 -8h1.5v1.5h-1.5zm-16.5 9h1.5v1.5h-1.5zm-1.5 -5h1.5v1.5h-1.5zm-1.5 9.5h1.5v1.5h-1.5zm6.5 -6h1.5v1.5h-1.5zm-2 4.5h1.5v1.5h-1.5zm-10 -8h1.5v1.5h-1.5zm13.5 -10h1.5v1.5h-1.5zm3 14.5h1.5v1.5h-1.5zm-8 17h1.5v1.5h-1.5zm-4.5 -31h1.5v1.5h-1.5zm11 7h1.5v1.5h-1.5zm0.5 6h1.5v1.5h-1.5zm-2 -6h1.5v1.5h-1.5zm-4.5 9.5h1.5v1.5h-1.5zm6.5 3h1.5v1.5h-1.5zm-12 -10h1.5v1.5h-1.5zm0 -14.5h1.5v1.5h-1.5zm19 34h1.5v1.5h-1.5zm-10.5 -30h1.5v1.5h-1.5zm-8.5 18h1.5v1.5h-1.5zm9.5 -5h1.5v1.5h-1.5zm12.5 12h1.5v1.5h-1.5zm-10.5 -7.5h1.5v1.5h-1.5zm10 3h1.5v1.5h-1.5zm-10.5 8h1.5v1.5h-1.5zm-5 -15h1.5v1.5h-1.5zm-1.5 13h1.5v1.5h-1.5zm2 -14h1.5v1.5h-1.5zm-11 15.5h1.5v1.5h-1.5zm6.5 -10h1.5v1.5h-1.5zm0 9h1.5v1.5h-1.5zm6.5 2h1.5v1.5h-1.5zm5.5 -22.5h1.5v1.5h-1.5zm-2 -9.5h1.5v1.5h-1.5zm-11 21h1.5v1.5h-1.5zm10.5 -21.5h1.5v1.5h-1.5zm-1.5 8.5h1.5v1.5h-1.5zm2.5 -8h1.5v1.5h-1.5zm-11.5 12h1.5v1.5h-1.5zm-3.5 5h1.5v1.5h-1.5zm12.5 8h1.5v1.5h-1.5zm-16.5 -16.5h1.5v1.5h-1.5zm22.5 7h1.5v1.5h-1.5zm-4.5 -2h1.5v1.5h-1.5zm-5 -5.5h1.5v1.5h-1.5zm-6 7h1.5v1.5h-1.5zm13.5 -7h1.5v1.5h-1.5zm-9.5 16.5h1.5v1.5h-1.5zm10.5 -0.5h1.5v1.5h-1.5zm-11 0h1.5v1.5h-1.5zm5 -6h1.5v1.5h-1.5zm12.5 -2h1.5v1.5h-1.5zm-3.5 -16h1.5v1.5h-1.5zm-7 21h1.5v1.5h-1.5zm3 -9.5h1.5v1.5h-1.5zm-15 9h1.5v1.5h-1.5zm12.5 -6.5h1.5v1.5h-1.5zm-3.5 14h1.5v1.5h-1.5zm8 -24.5h1.5v1.5h-1.5zm-13.5 15.5h1.5v1.5h-1.5zm18 12.5h1.5v1.5h-1.5zm-13.5 -21h1.5v1.5h-1.5zm-1.5 11h1.5v1.5h-1.5zm-2.5 -21h1.5v1.5h-1.5zm4.5 24.5h1.5v1.5h-1.5zm3.5 -20h1.5v1.5h-1.5zm-7.5 16h1.5v1.5h-1.5zm3.5 -18.5h1.5v1.5h-1.5zm10 6.5h1.5v1.5h-1.5zm-12 7h1.5v1.5h-1.5zm3.5 4.5h1.5v1.5h-1.5zm5.5 -5.5h1.5v1.5h-1.5zm-18.5 6.5h1.5v1.5h-1.5zm22 8.5h1.5v1.5h-1.5zm-3 -22h1.5v1.5h-1.5zm-7 18h1.5v1.5h-1.5zm7 -9.5h1.5v1.5h-1.5zm-12.5 -15.5h1.5v1.5h-1.5zm-6 9h1.5v1.5h-1.5zm16.5 9h1.5v1.5h-1.5zm3.5 -6h1.5v1.5h-1.5zm-0.5 4h1.5v1.5h-1.5zm0.5 -23.5h1.5v1.5h-1.5zm-4.5 34.5h1.5v1.5h-1.5zm-5.5 -22h1.5v1.5h-1.5zm19.5 29.5h1.5v1.5h-1.5zm1.5 -7.5h1.5v1.5h-1.5zm-20.5 5h1.5v1.5h-1.5zm2.5 2h1.5v1.5h-1.5zm13.5 -17h1.5v1.5h-1.5zm-14 11.5h1.5v1.5h-1.5zm17 -12h1.5v1.5h-1.5zm-7.5 19h1.5v1.5h-1.5zm-2 -1h1.5v1.5h-1.5zm5.5 1.5h1.5v1.5h-1.5zm-6 -7h1.5v1.5h-1.5zm-0.5 2.5h1.5v1.5h-1.5zm2.5 -1.5h1.5v1.5h-1.5zm9.5 -4h1.5v1.5h-1.5zm-1 7.5h1.5v1.5h-1.5zm-8 -11h1.5v1.5h-1.5zm-5 3h1.5v1.5h-1.5zm7 -0.5h1.5v1.5h-1.5zm-11 11.5h1.5v1.5h-1.5zm7.5 3h1.5v1.5h-1.5zm4 10h1.5v1.5h-1.5zm-5 -32h1.5v1.5h-1.5zm3 14.5h1.5v1.5h-1.5zm-2 3.5h1.5v1.5h-1.5zm2 -6h1.5v1.5h-1.5zm-3.5 3h1.5v1.5h-1.5zm-0.5 8.5h1.5v1.5h-1.5zm-2 -17h1.5v1.5h-1.5zm-0.5 4h1.5v1.5h-1.5zm-4 1.5h1.5v1.5h-1.5zm3 -2h1.5v1.5h-1.5zm-8.5 -7.5h1.5v1.5h-1.5zm9.5 16.5h1.5v1.5h-1.5zm-7 -13h1.5v1.5h-1.5zm17 -1.5h1.5v1.5h-1.5zm-10.5 24.5h1.5v1.5h-1.5zm8 -8.5h1.5v1.5h-1.5zm-5.5 -10h1.5v1.5h-1.5zm-6.5 -4h1.5v1.5h-1.5zm8.5 -2h1.5v1.5h-1.5zm0.5 11.5h1.5v1.5h-1.5zm-1 -20.5h1.5v1.5h-1.5zm-8.5 18.5h1.5v1.5h-1.5zm12.5 7h1.5v1.5h-1.5zm-4.5 -4h1.5v1.5h-1.5zm-6 -1.5h1.5v1.5h-1.5zm1.5 -2h1.5v1.5h-1.5zm1 9h1.5v1.5h-1.5zm5 4h1.5v1.5h-1.5zm-5.5 -7.5h1.5v1.5h-1.5zm-5.5 6.5h1.5v1.5h-1.5zm15.5 -18.5h1.5v1.5h-1.5zm-16.5 5.5h1.5v1.5h-1.5zm18.5 3h1.5v1.5h-1.5zm-17.5 0h1.5v1.5h-1.5zm8.5 -6h1.5v1.5h-1.5zm12.5 -2.5h1.5v1.5h-1.5zm-21.5 -2h1.5v1.5h-1.5zm7 6h1.5v1.5h-1.5zm14 20h1.5v1.5h-1.5zm-5.5 -7h1.5v1.5h-1.5zm-10 -5.5h1.5v1.5h-1.5zm-10.5 -11.5h1.5v1.5h-1.5zm33.5 13h1.5v1.5h-1.5zm-23 -8.5h1.5v1.5h-1.5zm0.5 2h1.5v1.5h-1.5zm6.5 -1h1.5v1.5h-1.5zm-10 6h1.5v1.5h-1.5zm11 5h1.5v1.5h-1.5zm9.5 -11.5h1.5v1.5h-1.5zm-14 -8.5h1.5v1.5h-1.5zm7 2h1.5v1.5h-1.5zm-10 15h1.5v1.5h-1.5zm12.5 -9.5h1.5v1.5h-1.5zm-7.5 3.5h1.5v1.5h-1.5zm1 3h1.5v1.5h-1.5zm1.5 6.5h1.5v1.5h-1.5zm2 -12.5h1.5v1.5h-1.5zm-7.5 -5.5h1.5v1.5h-1.5zm4.5 -3h1.5v1.5h-1.5zm-4.5 -8.5h1.5v1.5h-1.5zm-5.5 14.5h1.5v1.5h-1.5zm-1 -8h1.5v1.5h-1.5zm7.5 16.5h1.5v1.5h-1.5zm4 -9.5h1.5v1.5h-1.5zm4 7h1.5v1.5h-1.5zm0 -3h1.5v1.5h-1.5zm4 4.5h1.5v1.5h-1.5zm-20 1h1.5v1.5h-1.5zm13.5 -28h1.5v1.5h-1.5zm-8.5 37.5h1.5v1.5h-1.5zm-5 -10.5h1.5v1.5h-1.5zm-1.5 -12.5h1.5v1.5h-1.5zm14 6h1.5v1.5h-1.5zm-16 -8.5h1.5v1.5h-1.5zm19.5 13h1.5v1.5h-1.5zm-9.5 -16.5h1.5v1.5h-1.5zm11.5 13h1.5v1.5h-1.5zm-5 -2h1.5v1.5h-1.5zm-7 -1.5h1.5v1.5h-1.5zm-0.5 5.5h1.5v1.5h-1.5zm-7.5 -1h1.5v1.5h-1.5zm6 18h1.5v1.5h-1.5zm4 -15.5h1.5v1.5h-1.5zm-6.5 -3.5h1.5v1.5h-1.5zm-5.5 35.5h1.5v1.5h-1.5zm4.5 -10h1.5v1.5h-1.5zm-1 13h1.5v1.5h-1.5zm-1 -22.5h1.5v1.5h-1.5zm0.5 17.5h1.5v1.5h-1.5zm4 -24.5h1.5v1.5h-1.5zm3.5 13h1.5v1.5h-1.5zm-8 3.5h1.5v1.5h-1.5zm1.5 -16.5h1.5v1.5h-1.5zm12 23h1.5v1.5h-1.5zm5 -5h1.5v1.5h-1.5zm-20 -29h1.5v1.5h-1.5zm-1 34.5h1.5v1.5h-1.5zm1 -4h1.5v1.5h-1.5zm9 -7.5h1.5v1.5h-1.5zm10 9h1.5v1.5h-1.5zm-8 -8h1.5v1.5h-1.5zm-3.5 15h1.5v1.5h-1.5zm1 -4h1.5v1.5h-1.5zm-10.5 -15.5h1.5v1.5h-1.5zm3.5 0h1.5v1.5h-1.5zm1.5 6.5h1.5v1.5h-1.5zm3 21h1.5v1.5h-1.5zm7.5 -39h1.5v1.5h-1.5zm-9.5 19.5h1.5v1.5h-1.5zm0 -13.5h1.5v1.5h-1.5zm-5 10.5h1.5v1.5h-1.5zm3 5.5h1.5v1.5h-1.5zm13 -15h1.5v1.5h-1.5zm-19 10.5h1.5v1.5h-1.5zm23.5 -7.5h1.5v1.5h-1.5zm-5 10h1.5v1.5h-1.5zm-3 4.5h1.5v1.5h-1.5zm-6.5 -1.5h1.5v1.5h-1.5zm11.5 -16.5h1.5v1.5h-1.5zm-17 15.5h1.5v1.5h-1.5zm6 -3.5h1.5v1.5h-1.5zm4.5 -4h1.5v1.5h-1.5zm1.5 -3h1.5v1.5h-1.5zm-2.5 17h1.5v1.5h-1.5zm-1 -19.5h1.5v1.5h-1.5zm-2.5 2h1.5v1.5h-1.5zm-1.5 5h1.5v1.5h-1.5zm-1 -11h1.5v1.5h-1.5zm8.5 3h1.5v1.5h-1.5zm-1.5 9.5h1.5v1.5h-1.5zm-4 13h1.5v1.5h-1.5zm-2.5 -11h1.5v1.5h-1.5zm8 -5.5h1.5v1.5h-1.5zm-4.5 -7.5h1.5v1.5h-1.5zm-9 21.5h1.5v1.5h-1.5zm8 -26h1.5v1.5h-1.5zm-7 15.5h1.5v1.5h-1.5zm7.5 7.5h1.5v1.5h-1.5zm3.5 -9.5h1.5v1.5h-1.5zm5 1h1.5v1.5h-1.5zm4 -11.5h1.5v1.5h-1.5zm-9.5 -3h1.5v1.5h-1.5zm-9 8h1.5v1.5h-1.5zm-7 10h1.5v1.5h-1.5zm12 8.5h1.5v1.5h-1.5zm-10 -21.5h1.5v1.5h-1.5zm8 13.5h1.5v1.5h-1.5zm13.5 -15h1.5v1.5h-1.5zm-13.5 5.5h1.5v1.5h-1.5zm3.5 1.5h1.5v1.5h-1.5zm0.5 4.5h1.5v1.5h-1.5zm2.5 -10h1.5v1.5h-1.5zm-3.5 -2h1.5v1.5h-1.5zm-6.5 -7.5h1.5v1.5h-1.5zm14.5 21.5h1.5v1.5h-1.5zm-11 -15.5h1.5v1.5h-1.5zm8.5 3.5h1.5v1.5h-1.5zm-7.5 16h1.5v1.5h-1.5zm-1 -2.5h1.5v1.5h-1.5zm8.5 -7.5h1.5v1.5h-1.5zm-12.5 -10.5h1.5v1.5h-1.5zm9.5 8h1.5v1.5h-1.5zm-4.5 -2h1.5v1.5h-1.5zm10.5 -2.5h1.5v1.5h-1.5zm-13 8h1.5v1.5h-1.5zm2.5 -13.5h1.5v1.5h-1.5zm-1 13h1.5v1.5h-1.5zm6 11.5h1.5v1.5h-1.5zm-6 -26h1.5v1.5h-1.5zm-0.5 8h1.5v1.5h-1.5zm6.5 14.5h1.5v1.5h-1.5zm-7.5 -19.5h1.5v1.5h-1.5zm1 21h1.5v1.5h-1.5zm5 -9.5h1.5v1.5h-1.5zm1.5 3h1.5v1.5h-1.5zm-9.5 -11.5h1.5v1.5h-1.5zm5 13h1.5v1.5h-1.5zm12 -11.5h1.5v1.5h-1.5zm-8.5 -1h1.5v1.5h-1.5zm-5.5 -0.5h1.5v1.5h-1.5zm-7.5 -11.5h1.5v1.5h-1.5zm4.5 10h1.5v1.5h-1.5zm6 18.5h1.5v1.5h-1.5zm-1 14h1.5v1.5h-1.5zm-3.5 -9.5h1.5v1.5h-1.5zm7 12h1.5v1.5h-1.5zm-8 -15.5h1.5v1.5h-1.5zm1.5 -1h1.5v1.5h-1.5zm-4.5 16.5h1.5v1.5h-1.5zm3.5 -8h1.5v1.5h-1.5zm-6 -12.5h1.5v1.5h-1.5zm7.5 4h1.5v1.5h-1.5zm-5 12h1.5v1.5h-1.5zm1.5 0h1.5v1.5h-1.5zm-1 -7h1.5v1.5h-1.5zm7 -3h1.5v1.5h-1.5zm5.5 22h1.5v1.5h-1.5zm-7 -7.5h1.5v1.5h-1.5zm-0.5 -16.5h1.5v1.5h-1.5zm2.5 15h1.5v1.5h-1.5zm-2 -8h1.5v1.5h-1.5zm11 -1h1.5v1.5h-1.5zm-12.5 -8.5h1.5v1.5h-1.5zm-4 2.5h1.5v1.5h-1.5zm3.5 11h1.5v1.5h-1.5zm6 -10h1.5v1.5h-1.5zm-9 0.5h1.5v1.5h-1.5zm-1.5 5h1.5v1.5h-1.5zm5.5 7h1.5v1.5h-1.5zm-8 6h1.5v1.5h-1.5zm5.5 -14h1.5v1.5h-1.5zm-2.5 4.5h1.5v1.5h-1.5zm5 4h1.5v1.5h-1.5zm-1 -16.5h1.5v1.5h-1.5zm5.5 22h1.5v1.5h-1.5zm7 -19.5h1.5v1.5h-1.5zm-12.5 11h1.5v1.5h-1.5zm-4.5 -3h1.5v1.5h-1.5zm8.5 -3h1.5v1.5h-1.5zm-17.5 -2.5h1.5v1.5h-1.5zm9 -3.5h1.5v1.5h-1.5zm3 9.5h1.5v1.5h-1.5zm10.5 2.5h1.5v1.5h-1.5zm-12.5 -11.5h1.5v1.5h-1.5zm1.5 24h1.5v1.5h-1.5zm5 -9.5h1.5v1.5h-1.5zm-1.5 -7h1.5v1.5h-1.5zm-2 0h1.5v1.5h-1.5zm0 4.5h1.5v1.5h-1.5zm6 -4.5h1.5v1.5h-1.5zm5.5 -2.5h1.5v1.5h-1.5zm-17.5 1h1.5v1.5h-1.5zm-5 -5h1.5v1.5h-1.5zm15.5 12h1.5v1.5h-1.5zm-5.5 -4h1.5v1.5h-1.5zm11.5 3h1.5v1.5h-1.5zm-4.5 2.5h1.5v1.5h-1.5zm-3.5 -12h1.5v1.5h-1.5zm29 -11.5h1.5v1.5h-1.5zm-16.5 -50h1.5v1.5h-1.5zm-12.5 -68.5h1.5v1.5h-1.5zm13 34.5h1.5v1.5h-1.5zm0.5 82h1.5v1.5h-1.5zm3 -18.5h1.5v1.5h-1.5zm-1.5 -52h1.5v1.5h-1.5zm21.5 25.5h1.5v1.5h-1.5zm-25 -42h1.5v1.5h-1.5zm0 80.5h1.5v1.5h-1.5zm-3 -92h1.5v1.5h-1.5zm0.5 86.5h1.5v1.5h-1.5zm13.5 3h1.5v1.5h-1.5zm12 -82.5h1.5v1.5h-1.5zm-10.5 14h1.5v1.5h-1.5zm-11.5 28.5h1.5v1.5h-1.5zm-7.5 -26.5h1.5v1.5h-1.5zm22 44h1.5v1.5h-1.5zm-3 -52.5h1.5v1.5h-1.5zm7.5 -9h1.5v1.5h-1.5zm-20.5 7.5h1.5v1.5h-1.5zm6 74.5h1.5v1.5h-1.5zm3.5 -70.5h1.5v1.5h-1.5zm8.5 75h1.5v1.5h-1.5zm-7 11.5h1.5v1.5h-1.5zm-5.5 -45h1.5v1.5h-1.5zm-3 -71.5h1.5v1.5h-1.5zm9 56.5h1.5v1.5h-1.5zm-2 1.5h1.5v1.5h-1.5zm-5.5 31.5h1.5v1.5h-1.5zm15.5 -59h1.5v1.5h-1.5zm-7.5 78.5h1.5v1.5h-1.5zm7.5 -54h1.5v1.5h-1.5zm-16.5 -5h1.5v1.5h-1.5zm7 -38h1.5v1.5h-1.5zm-8.5 63.5h1.5v1.5h-1.5zm-1 -42.5h1.5v1.5h-1.5zm-6 16.5h1.5v1.5h-1.5zm5.5 59.5h1.5v1.5h-1.5zm21 -49.5h1.5v1.5h-1.5zm-19 -6h1.5v1.5h-1.5zm0 61h1.5v1.5h-1.5zm-18 -65.5h1.5v1.5h-1.5zm32 -8.5h1.5v1.5h-1.5zm-10.5 -14h1.5v1.5h-1.5zm-3.5 65.5h1.5v1.5h-1.5zm2.5 -34.5h1.5v1.5h-1.5zm1.5 12h1.5v1.5h-1.5zm-9.5 -21h1.5v1.5h-1.5zm10.5 -42h1.5v1.5h-1.5zm3 78h1.5v1.5h-1.5zm0 -1h1.5v1.5h-1.5zm-3.5 -87h1.5v1.5h-1.5zm0.5 72h1.5v1.5h-1.5zm-6 13.5h1.5v1.5h-1.5zm20.5 -36h1.5v1.5h-1.5zm-32 33.5h1.5v1.5h-1.5zm16 -88.5h1.5v1.5h-1.5zm6 86h1.5v1.5h-1.5zm1 24.5h1.5v1.5h-1.5zm13 -40.5h1.5v1.5h-1.5zm-20 -27h1.5v1.5h-1.5zm14 31.5h1.5v1.5h-1.5zm-12.5 -10.5h1.5v1.5h-1.5zm1 -24.5h1.5v1.5h-1.5zm11 12.5h1.5v1.5h-1.5zm-15 64.5h1.5v1.5h-1.5zm11 -102h1.5v1.5h-1.5zm-19 -4h1.5v1.5h-1.5zm14 63.5h1.5v1.5h-1.5zm4.5 37h1.5v1.5h-1.5zm-3 -61h1.5v1.5h-1.5zm-2.5 38h1.5v1.5h-1.5zm-6 -18.5h1.5v1.5h-1.5zm12.5 -20.5h1.5v1.5h-1.5zm-15 17h1.5v1.5h-1.5zm5.5 9.5h1.5v1.5h-1.5zm3.5 11h1.5v1.5h-1.5zm7 20.5h1.5v1.5h-1.5zm-30 -79.5h1.5v1.5h-1.5zm25 69h1.5v1.5h-1.5zm4.5 -9.5h1.5v1.5h-1.5zm-9.5 13.5h1.5v1.5h-1.5zm6 27.5h1.5v1.5h-1.5zm-27 -113.5h1.5v1.5h-1.5zm18 -1h1.5v1.5h-1.5zm-2 66.5h1.5v1.5h-1.5zm-4 -21.5h1.5v1.5h-1.5zm1.5 3h1.5v1.5h-1.5zm9.5 -33.5h1.5v1.5h-1.5zm2.5 16h1.5v1.5h-1.5zm-3.5 -7.5h1.5v1.5h-1.5zm-3.5 -14h1.5v1.5h-1.5zm7.5 20h1.5v1.5h-1.5zm-15.5 -22.5h1.5v1.5h-1.5zm4 70h1.5v1.5h-1.5zm0 -3.5h1.5v1.5h-1.5zm-4 36.5h1.5v1.5h-1.5zm2.5 -16h1.5v1.5h-1.5zm23 10h1.5v1.5h-1.5zm-17.5 -64h1.5v1.5h-1.5zm1 64.5h1.5v1.5h-1.5zm5.5 -77h1.5v1.5h-1.5zm-4 89.5h1.5v1.5h-1.5zm-3.5 -97.5h1.5v1.5h-1.5zm9 23.5h1.5v1.5h-1.5zm-13.5 65h1.5v1.5h-1.5zm6 6h1.5v1.5h-1.5zm1 -75h1.5v1.5h-1.5zm7 60.5h1.5v1.5h-1.5zm-13.5 -102h1.5v1.5h-1.5zm10.5 24.5h1.5v1.5h-1.5zm7.5 7h1.5v1.5h-1.5zm-1 -11h1.5v1.5h-1.5zm-1 45.5h1.5v1.5h-1.5zm-17 29h1.5v1.5h-1.5zm6.5 -61h1.5v1.5h-1.5zm-2 46.5h1.5v1.5h-1.5zm5 0h1.5v1.5h-1.5zm-9 -68.5h1.5v1.5h-1.5zm10.5 90h1.5v1.5h-1.5zm1 -56.5h1.5v1.5h-1.5zm3.5 3h1.5v1.5h-1.5zm3 -37h1.5v1.5h-1.5zm-13.5 -11h1.5v1.5h-1.5zm20.5 36h1.5v1.5h-1.5zm-10.5 24h1.5v1.5h-1.5zm-0.5 18h1.5v1.5h-1.5zm-4.5 -1.5h1.5v1.5h-1.5zm8 -34h1.5v1.5h-1.5zm-14 -4h1.5v1.5h-1.5zm16 69.5h1.5v1.5h-1.5zm-30.5 -98.5h1.5v1.5h-1.5zm22 28.5h1.5v1.5h-1.5zm8 41h1.5v1.5h-1.5zm-23 -62h1.5v1.5h-1.5zm16.5 -1h1.5v1.5h-1.5zm-12.5 -12h1.5v1.5h-1.5zm2 89h1.5v1.5h-1.5zm5 -30.5h1.5v1.5h-1.5zm2 -12.5h1.5v1.5h-1.5zm-7 -31h1.5v1.5h-1.5zm-11.5 -18h1.5v1.5h-1.5zm13 30h1.5v1.5h-1.5zm-3.5 -4.5h1.5v1.5h-1.5zm4 -17h1.5v1.5h-1.5zm4 73.5h1.5v1.5h-1.5zm-8.5 -64h1.5v1.5h-1.5zm-4 68.5h1.5v1.5h-1.5zm16 22h1.5v1.5h-1.5zm1.5 -87h1.5v1.5h-1.5zm0.5 -17.5h1.5v1.5h-1.5zm-4.5 38h1.5v1.5h-1.5zm15.5 -29h1.5v1.5h-1.5zm-9.5 33h1.5v1.5h-1.5zm-10 -39h1.5v1.5h-1.5zm0 34h1.5v1.5h-1.5zm14.5 47.5h1.5v1.5h-1.5zm-2.5 3.5h1.5v1.5h-1.5zm5 -18h1.5v1.5h-1.5zm-3.5 -15h1.5v1.5h-1.5zm-20 -11h1.5v1.5h-1.5zm26 62.5h1.5v1.5h-1.5zm-21.5 -7.5h1.5v1.5h-1.5zm6 -80.5h1.5v1.5h-1.5zm11 -17h1.5v1.5h-1.5zm-2.5 97h1.5v1.5h-1.5zm-5 -54.5h1.5v1.5h-1.5zm7 -14h1.5v1.5h-1.5zm-8.5 -41.5h1.5v1.5h-1.5zm1.5 38h1.5v1.5h-1.5zm-7.5 -2h1.5v1.5h-1.5zm-2 -29h1.5v1.5h-1.5zm5.5 95h1.5v1.5h-1.5zm3 -82h1.5v1.5h-1.5zm-15 54h1.5v1.5h-1.5zm15.5 22.5h1.5v1.5h-1.5zm-8 -5.5h1.5v1.5h-1.5zm15 -34h1.5v1.5h-1.5zm-7.5 56.5h1.5v1.5h-1.5zm-17.5 -17.5h1.5v1.5h-1.5zm14 -72.5h1.5v1.5h-1.5zm6 80h1.5v1.5h-1.5zm7.5 -51h1.5v1.5h-1.5zm-9 59h1.5v1.5h-1.5zm3.5 -27h1.5v1.5h-1.5zm-1.5 -49h1.5v1.5h-1.5zm-16.5 59.5h1.5v1.5h-1.5zm9.5 -57h1.5v1.5h-1.5zm10.5 57.5h1.5v1.5h-1.5zm-17 -22h1.5v1.5h-1.5zm2.5 27h1.5v1.5h-1.5zm14.5 -69h1.5v1.5h-1.5zm-6.5 28h1.5v1.5h-1.5zm13.5 -54.5h1.5v1.5h-1.5zm-17 102h1.5v1.5h-1.5zm-15.5 -43h1.5v1.5h-1.5zm26 50.5h1.5v1.5h-1.5zm-10 -78h1.5v1.5h-1.5zm4 20.5h1.5v1.5h-1.5zm-2 44.5h1.5v1.5h-1.5zm-3.5 9.5h1.5v1.5h-1.5zm12 -53h1.5v1.5h-1.5zm-9.5 31h1.5v1.5h-1.5zm11.5 -47h1.5v1.5h-1.5zm-6 31.5h1.5v1.5h-1.5zm16.5 41h1.5v1.5h-1.5zm-16.5 -84h1.5v1.5h-1.5zm3 17.5h1.5v1.5h-1.5zm-2.5 39.5h1.5v1.5h-1.5zm-9.5 -61.5h1.5v1.5h-1.5zm-3 -2h1.5v1.5h-1.5zm0.5 0h1.5v1.5h-1.5zm2 61h1.5v1.5h-1.5zm4 -64.5h1.5v1.5h-1.5zm12 0h1.5v1.5h-1.5zm-19.5 -5.5h1.5v1.5h-1.5zm2.5 52h1.5v1.5h-1.5zm-0.5 43h1.5v1.5h-1.5zm10 -73h1.5v1.5h-1.5zm-12.5 -13.5h1.5v1.5h-1.5zm13 33.5h1.5v1.5h-1.5zm-8 39.5h1.5v1.5h-1.5zm4 -19.5h1.5v1.5h-1.5zm7 -39h1.5v1.5h-1.5zm-21.5 80h1.5v1.5h-1.5zm15.5 -82h1.5v1.5h-1.5zm4.5 7.5h1.5v1.5h-1.5zm6.5 61.5h1.5v1.5h-1.5zm-13 -3h1.5v1.5h-1.5zm-1 -51.5h1.5v1.5h-1.5zm20 8.5h1.5v1.5h-1.5zm-22 -35h1.5v1.5h-1.5zm-2 28.5h1.5v1.5h-1.5zm23 -41.5h1.5v1.5h-1.5zm-18.5 77.5h1.5v1.5h-1.5zm-7 -34.5h1.5v1.5h-1.5zm10 21.5h1.5v1.5h-1.5zm-11 42.5h1.5v1.5h-1.5zm12.5 -51h1.5v1.5h-1.5zm-6 31.5h1.5v1.5h-1.5zm-6.5 -28.5h1.5v1.5h-1.5zm11 -52.5h1.5v1.5h-1.5zm-3.5 86.5h1.5v1.5h-1.5zm3.5 -87.5h1.5v1.5h-1.5zm-10 96h1.5v1.5h-1.5zm8.5 -45h1.5v1.5h-1.5zm-17 2.5h1.5v1.5h-1.5zm16 9.5h1.5v1.5h-1.5zm-1 -34h1.5v1.5h-1.5zm-5.5 44h1.5v1.5h-1.5zm-9.5 -12.5h1.5v1.5h-1.5zm24 -27h1.5v1.5h-1.5zm-15 -14h1.5v1.5h-1.5zm12.5 28h1.5v1.5h-1.5zm-7 48h1.5v1.5h-1.5zm-10 -32h1.5v1.5h-1.5zm1 18h1.5v1.5h-1.5zm21.5 -78.5h1.5v1.5h-1.5zm-10.5 79h1.5v1.5h-1.5zm12 15.5h1.5v1.5h-1.5zm-11.5 -63.5h1.5v1.5h-1.5zm0 28h1.5v1.5h-1.5zm2.5 7h1.5v1.5h-1.5zm-9 -26h1.5v1.5h-1.5zm-4.5 -14.5h1.5v1.5h-1.5zm14 76h1.5v1.5h-1.5zm-4 -64h1.5v1.5h-1.5zm14.5 -4h1.5v1.5h-1.5zm-12.5 -18.5h1.5v1.5h-1.5zm6 18h1.5v1.5h-1.5zm-7 26.5h1.5v1.5h-1.5zm-4.5 -67.5h1.5v1.5h-1.5zm5 43h1.5v1.5h-1.5zm-2.5 -15h1.5v1.5h-1.5zm-0.5 -20h1.5v1.5h-1.5zm-8.5 28.5h1.5v1.5h-1.5zm6.5 41.5h1.5v1.5h-1.5zm-8.5 11h1.5v1.5h-1.5zm18.5 -0.5h1.5v1.5h-1.5zm-13.5 -67h1.5v1.5h-1.5zm20.5 -11.5h1.5v1.5h-1.5zm-7 64h1.5v1.5h-1.5zm5.5 -84h1.5v1.5h-1.5zm-3 50.5h1.5v1.5h-1.5zm-12 -46.5h1.5v1.5h-1.5zm14.5 69.5h1.5v1.5h-1.5zm-2.5 -18.5h1.5v1.5h-1.5zm5 36h1.5v1.5h-1.5zm-7.5 -50h1.5v1.5h-1.5zm-1.5 -1h1.5v1.5h-1.5zm4 14.5h1.5v1.5h-1.5zm4 2h1.5v1.5h-1.5zm1 34.5h1.5v1.5h-1.5zm1 -35.5h1.5v1.5h-1.5zm-6.5 1.5h1.5v1.5h-1.5zm3.5 -67h1.5v1.5h-1.5zm-6 47h1.5v1.5h-1.5zm4 15.5h1.5v1.5h-1.5zm6.5 -21.5h1.5v1.5h-1.5zm-9 44h1.5v1.5h-1.5zm1 -35.5h1.5v1.5h-1.5zm1.5 43.5h1.5v1.5h-1.5zm3 -11h1.5v1.5h-1.5zm-1.5 7.5h1.5v1.5h-1.5zm0.5 -55.5h1.5v1.5h-1.5zm-10 56.5h1.5v1.5h-1.5zm9 -42.5h1.5v1.5h-1.5zm2.5 4h1.5v1.5h-1.5zm6.5 18.5h1.5v1.5h-1.5zm-1 -13h1.5v1.5h-1.5zm-7.5 12.5h1.5v1.5h-1.5zm2 -10h1.5v1.5h-1.5zm3.5 -11h1.5v1.5h-1.5zm1 -31h1.5v1.5h-1.5zm0.5 30.5h1.5v1.5h-1.5zm-1.5 20.5h1.5v1.5h-1.5zm-10.5 -25.5h1.5v1.5h-1.5zm-1 54.5h1.5v1.5h-1.5zm11.5 14h1.5v1.5h-1.5zm-8 -46.5h1.5v1.5h-1.5zm4.5 38h1.5v1.5h-1.5zm2.5 -19h1.5v1.5h-1.5zm-0.5 -24h1.5v1.5h-1.5zm-2.5 -57h1.5v1.5h-1.5zm-4.5 76h1.5v1.5h-1.5zm-7.5 0.5h1.5v1.5h-1.5zm9.5 -19.5h1.5v1.5h-1.5zm4.5 -33.5h1.5v1.5h-1.5z"/>
<path fill="#30b060" d="M0 0m619 68h1.5v1.5h-1.5zm3.5 11h1.5v1.5h-1.5zm-5.5 -0.5h1.5v1.5h-1.5zm8.5 4.5h1.5v1.5h-1.5zm-2 -12h1.5v1.5h-1.5zm-3 7.5h1.5v1.5h-1.5zm5.5 2.5h1.5v1.5h-1.5zm-8.5 -4.5h1.5v1.5h-1.5zm6 3.5h1.5v1.5h-1.5zm3 -7h1.5v1.5h-1.5zm-2.5 3.5h1.5v1.5h-1.5zm4 -1h1.5v1.5h-1.5zm-1 7h1.5v1.5h-1.5zm-9.5 -4h1.5v1.5h-1.5zm2.5 -9h1.5v1.5h-1.5zm0 4.5h1.5v1.5h-1.5zm4.5 -2.5h1.5v1.5h-1.5zm5.5 4.5h1.5v1.5h-1.5zm-14.5 -6h1.5v1.5h-1.5zm17.5 8.5h1.5v1.5h-1.5zm-10 -7h1.5v1.5h-1.5zm6.5 14.5h1.5v1.5h-1.5zm-5.5 -5.5h1.5v1.5h-1.5zm-5 -3.5h1.5v1.5h-1.5zm7.5 3.5h1.5v1.5h-1.5zm-2.5 4.5h1.5v1.5h-1.5zm1.5 -7h1.5v1.5h-1.5zm-7 -1.5h1.5v1.5h-1.5zm5 6.5h1.5v1.5h-1.5zm0 -15.5h1.5v1.5h-1.5zm3 13h1.5v1.5h-1.5zm-4 -12h1.5v1.5h-1.5zm-7 2h1.5v1.5h-1.5zm6 -1.5h1.5v1.5h-1.5zm-2.5 10h1.5v1.5h-1.5zm-3 -5.5h1.5v1.5h-1.5zm5.5 0.5h1.5v1.5h-1.5zm-1 11.5h1.5v1.5h-1.5zm0.5 -7.5h1.5v1.5h-1.5zm-2 -5h1.5v1.5h-1.5zm2 6h1.5v1.5h-1.5zm9 9h1.5v1.5h-1.5zm-1.5 11h1.5v1.5h-1.5zm2.5 -1.5h1.5v1.5h-1.5zm-1.5 -18h1.5v1.5h-1.5zm2 9.5h1.5v1.5h-1.5zm-4 -8h1.5v1.5h-1.5zm2 9h1.5v1.5h-1.5zm-6.5 -15h1.5v1.5h-1.5zm-1 11.5h1.5v1.5h-1.5zm-5 -3.5h1.5v1.5h-1.5zm11 1h1.5v1.5h-1.5zm2.5 4h1.5v1.5h-1.5zm-6 2.5h1.5v1.5h-1.5zm-2 -5h1.5v1.5h-1.5zm10.5 -4.5h1.5v1.5h-1.5zm-0.5 8h1.5v1.5h-1.5zm-13.5 7.5h1.5v1.5h-1.5zm5 8h1.5v1.5h-1.5zm0 -1.5h1.5v1.5h-1.5zm0 -4h1.5v1.5h-1.5zm4 -8h1.5v1.5h-1.5zm-8 -4h1.5v1.5h-1.5zm1 -5.5h1.5v1.5h-1.5zm7.5 8h1.5v1.5h-1.5zm-6.5 10.5h1.5v1.5h-1.5zm5 2h1.5v1.5h-1.5zm4 -16.5h1.5v1.5h-1.5zm0 -3h1.5v1.5h-1.5zm-6 9h1.5v1.5h-1.5zm-2.5 -17h1.5v1.5h-1.5zm1.5 22h1.5v1.5h-1.5zm10 5h1.5v1.5h-1.5zm-11.5 -14h1.5v1.5h-1.5zm6 -6h1.5v1.5h-1.5zm-3.5 13h1.5v1.5h-1.5zm-1 -3h1.5v1.5h-1.5zm1.5 -7h1.5v1.5h-1.5zm3.5 2h1.5v1.5h-1.5zm3.5 6.5h1.5v1.5h-1.5zm-1.5 0h1.5v1.5h-1.5zm-12 10.5h1.5v1.5h-1.5zm2.5 -1h1.5v1.5h-1.5zm0.5 24.5h1.5v1.5h-1.5zm2 -33h1.5v1.5h-1.5zm0 7h1.5v1.5h-1.5zm-1 20.5h1.5v1.5h-1.5zm8 -29h1.5v1.5h-1.5zm-5 12.5h1.5v1.5h-1.5zm-5 2.5h1.5v1.5h-1.5zm4 -3h1.5v1.5h-1.5zm-2.5 11h1.5v1.5h-1.5zm11 -18h1.5v1.5h-1.5zm0 -2h1.5v1.5h-1.5zm-12 3h1.5v1.5h-1.5zm1.5 19h1.5v1.5h-1.5zm0.5 -16.5h1.5v1.5h-1.5zm-1.5 -6.5h1.5v1.5h-1.5zm1 20h1.5v1.5h-1.5zm2.5 3.5h1.5v1.5h-1.5zm1 15h1.5v1.5h-1.5zm1 14h1.5v1.5h-1.5zm1.5 -20h1.5v1.5h-1.5zm-0.5 1.5h1.5v1.5h-1.5zm0 5.5h1.5v1.5h-1.5zm-5 -18.5h1.5v1.5h-1.5zm5 13.5h1.5v1.5h-1.5zm-3 -1.5h1.5v1.5h-1.5zm-5.5 9.5h1.5v1.5h-1.5zm4.5 -12.5h1.5v1.5h-1.5zm-1 -3.5h1.5v1.5h-1.5zm5 4h1.5v1.5h-1.5zm-3 8h1.5v1.5h-1.5zm1.5 -5h1.5v1.5h-1.5zm1 -1.5h1.5v1.5h-1.5zm-4.5 -12.5h1.5v1.5h-1.5zm3.5 16h1.5v1.5h-1.5zm3.5 -6h1.5v1.5h-1.5zm-4 20.5h1.5v1.5h-1.5zm0 -23h1.5v1.5h-1.5zm-4.5 2h1.5v1.5h-1.5zm7.5 0.5h1.5v1.5h-1.5zm-5 5.5h1.5v1.5h-1.5zm5.5 4.5h1.5v1.5h-1.5zm0.5 1.5h1.5v1.5h-1.5zm-5.5 -14h1.5v1.5h-1.5zm-3 -3h1.5v1.5h-1.5zm8.5 15h1.5v1.5h-1.5zm-3 -10h1.5v1.5h-1.5zm-10.5 32h1.5v1.5h-1.5zm0 1.5h1.5v1.5h-1.5zm11 -20.5h1.5v1.5h-1.5zm-6 21h1.5v1.5h-1.5zm-1.5 -7.5h1.5v1.5h-1.5zm-5 3.5h1.5v1.5h-1.5zm4.5 -8.5h1.5v1.5h-1.5zm5.5 14.5h1.5v1.5h-1.5zm0 -10h1.5v1.5h-1.5zm-3.5 -5.5h1.5v1.5h-1.5zm3 9.5h1.5v1.5h-1.5zm-4.5 4.5h1.5v1.5h-1.5zm0.5 -17h1.5v1.5h-1.5zm7.5 -6h1.5v1.5h-1.5zm-9.5 13h1.5v1.5h-1.5zm3.5 -6h1.5v1.5h-1.5zm1.5 -4.5h1.5v1.5h-1.5zm-2 9.5h1.5v1.5h-1.5zm-0.5 7h1.5v1.5h-1.5zm0.5 7h1.5v1.5h-1.5zm5 -8.5h1.5v1.5h-1.5zm-6.5 4.5h1.5v1.5h-1.5zm2.5 -8h1.5v1.5h-1.5zm3 -15.5h1.5v1.5h-1.5zm-3.5 17h1.5v1.5h-1.5zm-1 10.5h1.5v1.5h-1.5zm2 -7h1.5v1.5h-1.5zm-1.5 5.5h1.5v1.5h-1.5zm-1 -1h1.5v1.5h-1.5zm9.5 2.5h1.5v1.5h-1.5zm-5 -12.5h1.5v1.5h-1.5zm8 9h1.5v1.5h-1.5zm0.5 3h1.5v1.5h-1.5zm-1 3.5h1.5v1.5h-1.5zm-13.5 -5.5h1.5v1.5h-1.5zm11 3h1.5v1.5h-1.5zm-2 1h1.5v1.5h-1.5zm-9 -6.5h1.5v1.5h-1.5zm4 -1.5h1.5v1.5h-1.5zm0.5 8h1.5v1.5h-1.5zm-0.5 -1h1.5v1.5h-1.5zm8.5 0h1.5v1.5h-1.5zm-3 2h1.5v1.5h-1.5zm-1.5 -4h1.5v1.5h-1.5zm5.5 5h1.5v1.5h-1.5zm-13.5 -8.5h1.5v1.5h-1.5zm4 9h1.5v1.5h-1.5zm-5 -6h1.5v1.5h-1.5zm3 -1.5h1.5v1.5h-1.5zm4.5 9.5h1.5v1.5h-1.5zm6 -1h1.5v1.5h-1.5zm-3 -31h1.5v1.5h-1.5zm-2.5 26.5h1.5v1.5h-1.5zm-3 17h1.5v1.5h-1.5zm-6 14h1.5v1.5h-1.5zm-3.5 4.5h1.5v1.5h-1.5zm16 -107.5h1.5v1.5h-1.5zm2 68.5h1.5v1.5h-1.5zm1 -31h1.5v1.5h-1.5zm-3 37h1.5v1.5h-1.5zm-6.5 -41.5h1.5v1.5h-1.5zm7.5 -24.5h1.5v1.5h-1.5zm-9 -7.5h1.5v1.5h-1.5zm1 11.5h1.5v1.5h-1.5zm-4 -21h1.5v1.5h-1.5zm7 66.5h1.5v1.5h-1.5zm10.5 -57.5h1.5v1.5h-1.5zm-5.5 68.5h1.5v1.5h-1.5zm-6 -57.5h1.5v1.5h-1.5zm3.5 -8h1.5v1.5h-1.5zm3 37.5h1.5v1.5h-1.5zm-0.5 36.5h1.5v1.5h-1.5zm-8 -22h1.5v1.5h-1.5zm4 19.5h1.5v1.5h-1.5zm2.5 1.5h1.5v1.5h-1.5zm-6.5 -72h1.5v1.5h-1.5zm1.5 24.5h1.5v1.5h-1.5zm1.5 -22.5h1.5v1.5h-1.5zm8.5 -6.5h1.5v1.5h-1.5z"/>
<path fill="#d8e040" d="M0 0m629.5 92h1.5v1.5h-1.5zm-1 -1h1.5v1.5h-1.5zm-0.5 2h1.5v1.5h-1.5zm0.5 37.5h1.5v1.5h-1.5z"/><path fill="#98a0e6" d="M0 0m669.5 169.5h1.5v1.5h-1.5zm-6 -38.5h1.5v1.5h-1.5zm7 -63.5h1.5v1.5h-1.5zm-3 52.5h1.5v1.5h-1.5zm5.5 32h1.5v1.5h-1.5zm-6.5 -69.5h1.5v1.5h-1.5zm11.5 5.5h1.5v1.5h-1.5zm-17.5 49.5h1.5v1.5h-1.5zm2.5 -52.5h1.5v1.5h-1.5zm10 90h1.5v1.5h-1.5zm-4.5 -11h1.5v1.5h-1.5zm1 -40h1.5v1.5h-1.5zm-9.5 -11h1.5v1.5h-1.5zm8 -15h1.5v1.5h-1.5zm2.5 5h1.5v1.5h-1.5zm-8 -32.5h1.5v1.5h-1.5zm1.5 61.5h1.5v1.5h-1.5zm6.5 -53h1.5v1.5h-1.5zm-9 -5h1.5v1.5h-1.5zm6 37h1.5v1.5h-1.5zm-9 53h1.5v1.5h-1.5zm8.5 -32.5h1.5v1.5h-1.5zm11.5 -56.5h1.5v1.5h-1.5zm-20.5 94h1.5v1.5h-1.5zm14 -55.5h1.5v1.5h-1.5zm-0.5 -18.5h1.5v1.5h-1.5zm-1 63h1.5v1.5h-1.5zm6 -73h1.5v1.5h-1.5zm-11 20h1.5v1.5h-1.5zm2.5 -4.5h1.5v1.5h-1.5zm1 -25h1.5v1.5h-1.5zm1.5 79h1.5v1.5h-1.5zm-4 -4.5h1.5v1.5h-1.5zm3.5 -3h1.5v1.5h-1.5zm2.5 -15.5h1.5v1.5h-1.5zm-11.5 24.5h1.5v1.5h-1.5zm5.5 -90h1.5v1.5h-1.5zm-4 36.5h1.5v1.5h-1.5zm7 26.5h1.5v1.5h-1.5zm-6.5 26.5h1.5v1.5h-1.5zm12.5 -21h1.5v1.5h-1.5zm2 -39h1.5v1.5h-1.5zm-16 -5h1.5v1.5h-1.5zm13.5 59h1.5v1.5h-1.5zm-14.5 11h1.5v1.5h-1.5zm13 -72h1.5v1.5h-1.5zm-11.5 57h1.5v1.5h-1.5zm4.5 -17h1.5v1.5h-1.5zm-6.5 26.5h1.5v1.5h-1.5zm14 -8h1.5v1.5h-1.5zm-6 7h1.5v1.5h-1.5zm3.5 1h1.5v1.5h-1.5zm-3 -45h1.5v1.5h-1.5zm-2.5 26.5h1.5v1.5h-1.5zm-5 -64h1.5v1.5h-1.5zm9.5 98h1.5v1.5h-1.5zm-2.5 -93h1.5v1.5h-1.5zm-13 -3h1.5v1.5h-1.5zm12.5 40.5h1.5v1.5h-1.5zm3 -5.5h1.5v1.5h-1.5zm1 5.5h1.5v1.5h-1.5zm-1.5 -45h1.5v1.5h-1.5zm-5.5 55h1.5v1.5h-1.5zm2 25h1.5v1.5h-1.5zm-2.5 17.5h1.5v1.5h-1.5zm5 -50.5h1.5v1.5h-1.5zm-4.5 -18.5h1.5v1.5h-1.5zm4.5 75.5h1.5v1.5h-1.5zm-2.5 -78.5h1.5v1.5h-1.5zm6 18h1.5v1.5h-1.5zm4.5 41h1.5v1.5h-1.5zm-11.5 -43.5h1.5v1.5h-1.5zm-1.5 -3.5h1.5v1.5h-1.5zm-7 -22h1.5v1.5h-1.5zm15.5 79.5h1.5v1.5h-1.5zm-6.5 -94h1.5v1.5h-1.5zm6.5 27.5h1.5v1.5h-1.5zm-1 56.5h1.5v1.5h-1.5zm-6.5 -58.5h1.5v1.5h-1.5zm-1 19h1.5v1.5h-1.5zm0.5 -43.5h1.5v1.5h-1.5zm-0.5 61h1.5v1.5h-1.5zm0.5 -14h1.5v1.5h-1.5zm11 -44.5h1.5v1.5h-1.5zm-10.5 -3h1.5v1.5h-1.5zm1 0h1.5v1.5h-1.5zm2.5 24h1.5v1.5h-1.5zm-6.5 27h1.5v1.5h-1.5zm1 -47.5h1.5v1.5h-1.5zm-8.5 10.5h1.5v1.5h-1.5zm2.5 8.5h1.5v1.5h-1.5zm11 25.5h1.5v1.5h-1.5zm3.5 31.5h1.5v1.5h-1.5zm-14.5 -71.5h1.5v1.5h-1.5zm11 15h1.5v1.5h-1.5zm0 67.5h1.5v1.5h-1.5zm17 -16.5h1.5v1.5h-1.5zm-24 -5.5h1.5v1.5h-1.5zm2 -6.5h1.5v1.5h-1.5zm2 -17.5h1.5v1.5h-1.5zm11 45h1.5v1.5h-1.5zm3.5 -82.5h1.5v1.5h-1.5zm-15.5 56.5h1.5v1.5h-1.5zm6 -0.5h1.5v1.5h-1.5zm-4.5 -3.5h1.5v1.5h-1.5zm-2.5 -43h1.5v1.5h-1.5zm1 62.5h1.5v1.5h-1.5zm1.5 1h1.5v1.5h-1.5zm-6.5 -48.5h1.5v1.5h-1.5zm7.5 14h1.5v1.5h-1.5zm5 -28.5h1.5v1.5h-1.5zm-10 -11.5h1.5v1.5h-1.5zm2.5 27.5h1.5v1.5h-1.5zm5 -9.5h1.5v1.5h-1.5zm-2.5 58.5h1.5v1.5h-1.5zm6 -64h1.5v1.5h-1.5zm-14.5 11h1.5v1.5h-1.5zm16 -20.5h1.5v1.5h-1.5zm-2.5 77.5h1.5v1.5h-1.5zm-16.5 -58h1.5v1.5h-1.5zm12 -12.5h1.5v1.5h-1.5zm-4.5 78.5h1.5v1.5h-1.5zm-9 -57h1.5v1.5h-1.5zm10 19h1.5v1.5h-1.5zm7.5 -68.5h1.5v1.5h-1.5zm-9.5 84.5h1.5v1.5h-1.5zm7 -12.5h1.5v1.5h-1.5zm9 14.5h1.5v1.5h-1.5zm-15 -72h1.5v1.5h-1.5zm13.5 46h1.5v1.5h-1.5zm-6 40h1.5v1.5h-1.5zm-1.5 1h1.5v1.5h-1.5zm-1.5 -77h1.5v1.5h-1.5zm6 77.5h1.5v1.5h-1.5zm1.5 -38.5h1.5v1.5h-1.5zm-3 -56.5h1.5v1.5h-1.5zm-3 34h1.5v1.5h-1.5zm-1 -32h1.5v1.5h-1.5zm-4.5 13.5h1.5v1.5h-1.5zm-4.5 66h1.5v1.5h-1.5zm11.5 18h1.5v1.5h-1.5zm-8.5 -43h1.5v1.5h-1.5zm10.5 8h1.5v1.5h-1.5zm-9 -16h1.5v1.5h-1.5zm13 32.5h1.5v1.5h-1.5zm-2 17.5h1.5v1.5h-1.5zm-9 -19.5h1.5v1.5h-1.5zm0 -74h1.5v1.5h-1.5zm-2.5 70h1.5v1.5h-1.5zm6.5 35h1.5v1.5h-1.5zm8 -11.5h1.5v1.5h-1.5zm-16.5 2h1.5v1.5h-1.5zm21 -10.5h1.5v1.5h-1.5zm-21.5 -76.5h1.5v1.5h-1.5zm13.5 23h1.5v1.5h-1.5zm-8.5 -20h1.5v1.5h-1.5zm-4 55h1.5v1.5h-1.5zm-0.5 -10.5h1.5v1.5h-1.5zm12.5 -19.5h1.5v1.5h-1.5zm-5 11h1.5v1.5h-1.5zm-3.5 -21.5h1.5v1.5h-1.5zm3 55h1.5v1.5h-1.5zm-7 -65.5h1.5v1.5h-1.5zm8.5 51h1.5v1.5h-1.5zm-8.5 -70h1.5v1.5h-1.5zm2 37h1.5v1.5h-1.5zm13 42.5h1.5v1.5h-1.5zm2.5 -67h1.5v1.5h-1.5zm-4.5 31h1.5v1.5h-1.5zm-1 -27h1.5v1.5h-1.5zm-7 79h1.5v1.5h-1.5zm2 -15h1.5v1.5h-1.5zm-5 22h1.5v1.5h-1.5zm5.5 -85h1.5v1.5h-1.5zm0.5 2.5h1.5v1.5h-1.5zm4.5 23h1.5v1.5h-1.5zm-13 38.5h1.5v1.5h-1.5zm14 -76h1.5v1.5h-1.5zm-10.5 16.5h1.5v1.5h-1.5zm-4 44.5h1.5v1.5h-1.5zm13 -50.5h1.5v1.5h-1.5zm-5.5 25.5h1.5v1.5h-1.5zm2.5 69.5h1.5v1.5h-1.5zm-8 -55.5h1.5v1.5h-1.5zm8.5 -36h1.5v1.5h-1.5zm3 62.5h1.5v1.5h-1.5zm-11.5 -75.5h1.5v1.5h-1.5zm-2.5 14h1.5v1.5h-1.5zm10.5 15.5h1.5v1.5h-1.5zm-2.5 -6h1.5v1.5h-1.5zm-7 27.5h1.5v1.5h-1.5zm9 -29h1.5v1.5h-1.5zm-1.5 -24.5h1.5v1.5h-1.5zm-4 25h1.5v1.5h-1.5zm6.5 43.5h1.5v1.5h-1.5zm-11 -26h1.5v1.5h-1.5zm3 26.5h1.5v1.5h-1.5zm16 -57.5h1.5v1.5h-1.5zm-16.5 53.5h1.5v1.5h-1.5zm13 -55h1.5v1.5h-1.5zm0 1h1.5v1.5h-1.5zm-11 13.5h1.5v1.5h-1.5zm2 66.5h1.5v1.5h-1.5zm9.5 -86.5h1.5v1.5h-1.5zm-9.5 -19.5h1.5v1.5h-1.5zm-2 94.5h1.5v1.5h-1.5zm4 -14h1.5v1.5h-1.5zm-1 -31.5h1.5v1.5h-1.5zm8 -1h1.5v1.5h-1.5zm-0.5 22h1.5v1.5h-1.5zm-7.5 28h1.5v1.5h-1.5zm15.5 -80h1.5v1.5h-1.5zm-16 6.5h1.5v1.5h-1.5zm-4 53.5h1.5v1.5h-1.5zm-5 17.5h1.5v1.5h-1.5zm5 -6h1.5v1.5h-1.5zm-1 -57h1.5v1.5h-1.5zm11 2.5h1.5v1.5h-1.5zm-15 34h1.5v1.5h-1.5zm3.5 10h1.5v1.5h-1.5zm13 -56.5h1.5v1.5h-1.5zm-4.5 79.5h1.5v1.5h-1.5zm-9.5 5.5h1.5v1.5h-1.5zm15 -50.5h1.5v1.5h-1.5zm-9 -29.5h1.5v1.5h-1.5zm0.5 6h1.5v1.5h-1.5zm10 -18.5h1.5v1.5h-1.5zm-12.5 38h1.5v1.5h-1.5zm8 -26h1.5v1.5h-1.5zm-1.5 -14h1.5v1.5h-1.5zm2 65.5h1.5v1.5h-1.5zm-7 -41.5h1.5v1.5h-1.5zm0.5 52.5h1.5v1.5h-1.5zm-2 -19h1.5v1.5h-1.5zm8 24.5h1.5v1.5h-1.5zm4.5 21.5h1.5v1.5h-1.5zm-13 -74.5h1.5v1.5h-1.5zm11 0h1.5v1.5h-1.5zm-9.5 -26h1.5v1.5h-1.5zm6 88.5h1.5v1.5h-1.5zm-0.5 -48.5h1.5v1.5h-1.5zm2 -40.5h1.5v1.5h-1.5zm0 50h1.5v1.5h-1.5zm-12.5 -45h1.5v1.5h-1.5zm13 78.5h1.5v1.5h-1.5zm-2.5 -68h1.5v1.5h-1.5zm2 -1.5h1.5v1.5h-1.5zm-14 87h1.5v1.5h-1.5zm12 -66.5h1.5v1.5h-1.5zm-8.5 -3.5h1.5v1.5h-1.5zm10 52h1.5v1.5h-1.5zm1 -59h1.5v1.5h-1.5zm-6 21.5h1.5v1.5h-1.5zm9 -14.5h1.5v1.5h-1.5zm-2 28.5h1.5v1.5h-1.5zm-10 20.5h1.5v1.5h-1.5zm6 -56.5h1.5v1.5h-1.5zm-3 10h1.5v1.5h-1.5zm7 33h1.5v1.5h-1.5zm-3 -6.5h1.5v1.5h-1.5zm-2.5 10h1.5v1.5h-1.5zm-3.5 -24h1.5v1.5h-1.5zm9.5 23h1.5v1.5h-1.5zm-20 -29h1.5v1.5h-1.5zm9.5 57h1.5v1.5h-1.5zm-1.5 -64h1.5v1.5h-1.5zm2 -9.5h1.5v1.5h-1.5zm-2 59.5h1.5v1.5h-1.5zm8 -61h1.5v1.5h-1.5zm6 1h1.5v1.5h-1.5zm-2.5 39.5h1.5v1.5h-1.5zm0 -66h1.5v1.5h-1.5zm-7 77h1.5v1.5h-1.5zm1.5 14h1.5v1.5h-1.5zm-7 -47.5h1.5v1.5h-1.5zm14 -45h1.5v1.5h-1.5zm-7 102h1.5v1.5h-1.5zm6 -74.5h1.5v1.5h-1.5zm-6.5 60h1.5v1.5h-1.5zm-1 -20.5h1.5v1.5h-1.5zm7.5 -19.5h1.5v1.5h-1.5zm0 -41.5h1.5v1.5h-1.5zm-2.5 57.5h1.5v1.5h-1.5zm-7.5 -2.5h1.5v1.5h-1.5zm1 -35h1.5v1.5h-1.5zm7 30.5h1.5v1.5h-1.5zm-8.5 -15h1.5v1.5h-1.5zm0 11.5h1.5v1.5h-1.5zm8 22h1.5v1.5h-1.5zm2.5 -43.5h1.5v1.5h-1.5zm-13.5 38h1.5v1.5h-1.5zm7 -28h1.5v1.5h-1.5zm3 -18h1.5v1.5h-1.5zm-4 10h1.5v1.5h-1.5zm-4.5 45h1.5v1.5h-1.5zm-4 -48h1.5v1.5h-1.5zm-0.5 66h1.5v1.5h-1.5zm7.5 -88h1.5v1.5h-1.5zm4 10.5h1.5v1.5h-1.5zm-0.5 -6h1.5v1.5h-1.5zm-11.5 52h1.5v1.5h-1.5zm6 1.5h1.5v1.5h-1.5zm3.5 -28h1.5v1.5h-1.5zm2 56h1.5v1.5h-1.5zm-11.5 -71.5h1.5v1.5h-1.5zm16.5 50.5h1.5v1.5h-1.5zm-10.5 18.5h1.5v1.5h-1.5zm2.5 -52h1.5v1.5h-1.5zm-0.5 -15.5h1.5v1.5h-1.5zm-3.5 57.5h1.5v1.5h-1.5zm9.5 -53.5h1.5v1.5h-1.5zm1.5 28h1.5v1.5h-1.5zm-9 15.5h1.5v1.5h-1.5zm-1.5 23h1.5v1.5h-1.5zm0 -37.5h1.5v1.5h-1.5zm3 -2h1.5v1.5h-1.5zm10.5 35h1.5v1.5h-1.5zm-9.5 -79h1.5v1.5h-1.5zm-5.5 34.5h1.5v1.5h-1.5zm1.5 14.5h1.5v1.5h-1.5zm7 -37h1.5v1.5h-1.5zm8 37h1.5v1.5h-1.5zm-14.5 -56h1.5v1.5h-1.5zm18.5 31.5h1.5v1.5h-1.5zm-8 -17.5h1.5v1.5h-1.5zm-5.5 24.5h1.5v1.5h-1.5zm-2.5 -28h1.5v1.5h-1.5zm-3 41.5h1.5v1.5h-1.5zm1.5 -42h1.5v1.5h-1.5zm10.5 33.5h1.5v1.5h-1.5zm-5.5 -31.5h1.5v1.5h-1.5zm-8.5 67h1.5v1.5h-1.5zm7.5 -2h1.5v1.5h-1.5zm-7 7h1.5v1.5h-1.5zm5 -0.5h1.5v1.5h-1.5zm-2.5 -35h1.5v1.5h-1.5zm13.5 -54h1.5v1.5h-1.5zm-23 71.5h1.5v1.5h-1.5zm10 15.5h1.5v1.5h-1.5zm-8.5 -69h1.5v1.5h-1.5zm14.5 37h1.5v1.5h-1.5zm1.5 -3.5h1.5v1.5h-1.5zm1 4h1.5v1.5h-1.5zm0 3.5h1.5v1.5h-1.5zm-5.5 -53h1.5v1.5h-1.5zm6 67h1.5v1.5h-1.5zm-8 -44.5h1.5v1.5h-1.5zm3 24h1.5v1.5h-1.5zm0 6.5h1.5v1.5h-1.5zm2.5 15.5h1.5v1.5h-1.5zm-3.5 -72h1.5v1.5h-1.5zm1 84h1.5v1.5h-1.5zm1.5 -56h1.5v1.5h-1.5zm6.5 -9h1.5v1.5h-1.5zm3 50h1.5v1.5h-1.5zm-10.5 19h1.5v1.5h-1.5zm-4.5 -34h1.5v1.5h-1.5zm2.5 4h1.5v1.5h-1.5zm0 5h1.5v1.5h-1.5zm5.5 -17h1.5v1.5h-1.5zm0 41.5h1.5v1.5h-1.5zm-1 -48h1.5v1.5h-1.5zm-11 -9.5h1.5v1.5h-1.5zm1 13.5h1.5v1.5h-1.5zm0.5 4.5h1.5v1.5h-1.5zm6 10.5h1.5v1.5h-1.5zm7.5 6.5h1.5v1.5h-1.5zm-3.5 -46h1.5v1.5h-1.5zm-4.5 36h1.5v1.5h-1.5zm8.5 -10h1.5v1.5h-1.5zm-1.5 44h1.5v1.5h-1.5zm-4 -21.5h1.5v1.5h-1.5zm5.5 4h1.5v1.5h-1.5zm-6.5 -57.5h1.5v1.5h-1.5zm8.5 63h1.5v1.5h-1.5zm-14 -14h1.5v1.5h-1.5zm11 5.5h1.5v1.5h-1.5zm-1.5 -37.5h1.5v1.5h-1.5zm-6.5 27.5h1.5v1.5h-1.5zm-3.5 25h1.5v1.5h-1.5zm-5 -54.5h1.5v1.5h-1.5zm3 -28h1.5v1.5h-1.5zm8 98.5h1.5v1.5h-1.5zm-5 -19h1.5v1.5h-1.5zm0.5 -11.5h1.5v1.5h-1.5zm17.5 13.5h1.5v1.5h-1.5zm-22.5 -66.5h1.5v1.5h-1.5zm1.5 -5h1.5v1.5h-1.5zm12.5 83h1.5v1.5h-1.5zm-11 -49h1.5v1.5h-1.5zm11.5 8h1.5v1.5h-1.5zm2 -54.5h1.5v1.5h-1.5zm-11 81h1.5v1.5h-1.5zm2.5 19.5h1.5v1.5h-1.5zm-6 -86h1.5v1.5h-1.5zm11.5 95h1.5v1.5h-1.5zm-7.5 -96.5h1.5v1.5h-1.5zm-3.5 23.5h1.5v1.5h-1.5zm8 -22h1.5v1.5h-1.5zm0 4h1.5v1.5h-1.5zm-2.5 72h1.5v1.5h-1.5zm-1.5 -54h1.5v1.5h-1.5zm4.5 19.5h1.5v1.5h-1.5zm-5.5 -32.5h1.5v1.5h-1.5zm-1.5 -19h1.5v1.5h-1.5zm-2 79.5h1.5v1.5h-1.5zm1 -73h1.5v1.5h-1.5zm1 6.5h1.5v1.5h-1.5zm16 65h1.5v1.5h-1.5zm-22.5 11.5h1.5v1.5h-1.5zm7.5 -26.5h1.5v1.5h-1.5zm3.5 13.5h1.5v1.5h-1.5zm-6 -7h1.5v1.5h-1.5zm-1.5 16h1.5v1.5h-1.5zm15 -37.5h1.5v1.5h-1.5zm-1.5 29h1.5v1.5h-1.5zm-2.5 9.5h1.5v1.5h-1.5zm-14 -6.5h1.5v1.5h-1.5zm5 -51h1.5v1.5h-1.5zm13.5 60h1.5v1.5h-1.5zm-6 -101.5h1.5v1.5h-1.5zm-1.5 20.5h1.5v1.5h-1.5zm-2 25.5h1.5v1.5h-1.5zm-1.5 6h1.5v1.5h-1.5zm-2.5 -30.5h1.5v1.5h-1.5zm8.5 84.5h1.5v1.5h-1.5zm-0.5 -107h1.5v1.5h-1.5zm0 24h1.5v1.5h-1.5zm2 22h1.5v1.5h-1.5zm4.5 -19.5h1.5v1.5h-1.5zm-13 74.5h1.5v1.5h-1.5zm-9.5 -72.5h1.5v1.5h-1.5zm5 14.5h1.5v1.5h-1.5zm2.5 69h1.5v1.5h-1.5zm17.5 -47.5h1.5v1.5h-1.5zm-6 21h1.5v1.5h-1.5zm-0.5 -12.5h1.5v1.5h-1.5zm0.5 4.5h1.5v1.5h-1.5zm5 10h1.5v1.5h-1.5zm-8.5 11.5h1.5v1.5h-1.5zm0 -47h1.5v1.5h-1.5zm-10 -4.5h1.5v1.5h-1.5zm3.5 53.5h1.5v1.5h-1.5zm-3 -13h1.5v1.5h-1.5zm4 -75.5h1.5v1.5h-1.5zm-1 29h1.5v1.5h-1.5zm1 -27h1.5v1.5h-1.5zm-2 2h1.5v1.5h-1.5zm11.5 53.5h1.5v1.5h-1.5zm-12.5 -14.5h1.5v1.5h-1.5zm0.5 23.5h1.5v1.5h-1.5zm2 -25h1.5v1.5h-1.5zm-4.5 34.5h1.5v1.5h-1.5zm20.5 16h1.5v1.5h-1.5zm-7.5 -83.5h1.5v1.5h-1.5zm-7 4h1.5v1.5h-1.5zm-2 62.5h1.5v1.5h-1.5zm-3.5 -61h1.5v1.5h-1.5zm8 21.5h1.5v1.5h-1.5zm0.5 14.5h1.5v1.5h-1.5zm5.5 30.5h1.5v1.5h-1.5zm1.5 7.5h1.5v1.5h-1.5zm3.5 -37.5h1.5v1.5h-1.5zm-19.5 -16h1.5v1.5h-1.5zm19 35.5h1.5v1.5h-1.5zm-9.5 -26.5h1.5v1.5h-1.5zm2 39.5h1.5v1.5h-1.5zm10 -13h1.5v1.5h-1.5zm-7 33h1.5v1.5h-1.5zm-16 -37.5h1.5v1.5h-1.5zm2.5 8.5h1.5v1.5h-1.5zm13 -11h1.5v1.5h-1.5zm-4 9h1.5v1.5h-1.5zm3.5 -73.5h1.5v1.5h-1.5zm-3 65.5h1.5v1.5h-1.5zm5 -46h1.5v1.5h-1.5zm-13.5 19.5h1.5v1.5h-1.5zm-5 -6.5h1.5v1.5h-1.5zm7 -11.5h1.5v1.5h-1.5zm9 43.5h1.5v1.5h-1.5zm-11 4.5h1.5v1.5h-1.5zm-8 -12h1.5v1.5h-1.5zm10.5 -2h1.5v1.5h-1.5zm7.5 13h1.5v1.5h-1.5zm-6 -39.5h1.5v1.5h-1.5zm-10.5 2.5h1.5v1.5h-1.5zm12 44h1.5v1.5h-1.5zm11.5 -17h1.5v1.5h-1.5zm-1.5 25.5h1.5v1.5h-1.5zm-17 -8.5h1.5v1.5h-1.5zm4.5 16.5h1.5v1.5h-1.5zm0 7.5h1.5v1.5h-1.5zm2.5 -74.5h1.5v1.5h-1.5zm-10.5 37h1.5v1.5h-1.5zm8.5 -50.5h1.5v1.5h-1.5zm-11 91.5h1.5v1.5h-1.5zm16.5 -8.5h1.5v1.5h-1.5zm-11.5 0h1.5v1.5h-1.5zm7 -9h1.5v1.5h-1.5zm5 -5h1.5v1.5h-1.5zm-2.5 7h1.5v1.5h-1.5zm6.5 -24h1.5v1.5h-1.5zm5 -61h1.5v1.5h-1.5zm-9 86h1.5v1.5h-1.5zm1 -78.5h1.5v1.5h-1.5zm1 70.5h1.5v1.5h-1.5zm-7 -1.5h1.5v1.5h-1.5zm-9 -31.5h1.5v1.5h-1.5zm7 -5.5h1.5v1.5h-1.5zm2 38.5h1.5v1.5h-1.5zm2.5 -26h1.5v1.5h-1.5zm-6 6h1.5v1.5h-1.5zm0.5 16.5h1.5v1.5h-1.5zm2 -46h1.5v1.5h-1.5zm-4.5 -20.5h1.5v1.5h-1.5zm0.5 81.5h1.5v1.5h-1.5zm-5.5 -39.5h1.5v1.5h-1.5zm8 22h1.5v1.5h-1.5zm2.5 5h1.5v1.5h-1.5zm-5 -48.5h1.5v1.5h-1.5zm2.5 0h1.5v1.5h-1.5zm-5.5 44.5h1.5v1.5h-1.5zm3 -27.5h1.5v1.5h-1.5zm-2 33.5h1.5v1.5h-1.5zm8.5 -48.5h1.5v1.5h-1.5zm-2.5 13.5h1.5v1.5h-1.5zm-12.5 -22.5h1.5v1.5h-1.5zm22.5 -6.5h1.5v1.5h-1.5zm-7 -8h1.5v1.5h-1.5z"/>
<path fill="#14148a" d="M0 0m657.5 80.5h1.5v1.5h-1.5zm11 19h1.5v1.5h-1.5zm-5.5 7.5h1.5v1.5h-1.5zm14.5 -3.5h1.5v1.5h-1.5zm-6 66.5h1.5v1.5h-1.5zm4.5 -32.5h1.5v1.5h-1.5zm-7.5 7h1.5v1.5h-1.5zm-1.5 -32h1.5v1.5h-1.5zm6 -35h1.5v1.5h-1.5zm-14 91.5h1.5v1.5h-1.5zm5 -84h1.5v1.5h-1.5zm8 7h1.5v1.5h-1.5zm-10 -2.5h1.5v1.5h-1.5zm3 77h1.5v1.5h-1.5zm-14 -18.5h1.5v1.5h-1.5zm23.5 -42.5h1.5v1.5h-1.5zm-8.5 42.5h1.5v1.5h-1.5zm-4.5 -8h1.5v1.5h-1.5zm14 -56.5h1.5v1.5h-1.5zm-12 71h1.5v1.5h-1.5zm-3 -53h1.5v1.5h-1.5zm-10.5 18h1.5v1.5h-1.5zm15.5 16.5h1.5v1.5h-1.5zm-4.5 8.5h1.5v1.5h-1.5zm8.5 -72.5h1.5v1.5h-1.5zm-15 20.5h1.5v1.5h-1.5zm14 -32h1.5v1.5h-1.5zm-11 104h1.5v1.5h-1.5zm16 -106h1.5v1.5h-1.5zm-8.5 72h1.5v1.5h-1.5zm0.5 1.5h1.5v1.5h-1.5zm4.5 -36.5h1.5v1.5h-1.5zm0 59.5h1.5v1.5h-1.5zm0 -2h1.5v1.5h-1.5zm4.5 -78h1.5v1.5h-1.5zm2.5 -4.5h1.5v1.5h-1.5zm-14 35h1.5v1.5h-1.5zm6 53h1.5v1.5h-1.5zm4 2h1.5v1.5h-1.5zm-6.5 -86.5h1.5v1.5h-1.5zm1.5 53.5h1.5v1.5h-1.5zm0 30.5h1.5v1.5h-1.5zm-4.5 -58.5h1.5v1.5h-1.5zm0 2.5h1.5v1.5h-1.5zm7 62.5h1.5v1.5h-1.5zm-8.5 5h1.5v1.5h-1.5zm18.5 -54.5h1.5v1.5h-1.5zm-9 44h1.5v1.5h-1.5zm-9 -7.5h1.5v1.5h-1.5zm-0.5 -62h1.5v1.5h-1.5zm-9.5 69.5h1.5v1.5h-1.5zm11.5 -22.5h1.5v1.5h-1.5zm-5.5 -66h1.5v1.5h-1.5zm5.5 73h1.5v1.5h-1.5zm1.5 -43.5h1.5v1.5h-1.5zm-6.5 33h1.5v1.5h-1.5zm17.5 -24.5h1.5v1.5h-1.5zm-5.5 -28h1.5v1.5h-1.5zm-4.5 1.5h1.5v1.5h-1.5z"/>
<path fill="#2834c4" d="M0 0m670.5 79h1.5v1.5h-1.5zm-12 -5.5h1.5v1.5h-1.5zm0.5 16h1.5v1.5h-1.5zm13.5 -14h1.5v1.5h-1.5zm-6.5 75h1.5v1.5h-1.5zm-4.5 -72.5h1.5v1.5h-1.5zm1.5 33h1.5v1.5h-1.5zm-2 27h1.5v1.5h-1.5zm4 -44.5h1.5v1.5h-1.5zm7.5 11h1.5v1.5h-1.5zm-9 13h1.5v1.5h-1.5zm4.5 15.5h1.5v1.5h-1.5zm-7.5 -33h1.5v1.5h-1.5zm13.5 33h1.5v1.5h-1.5zm-10 -66.5h1.5v1.5h-1.5zm3.5 -4h1.5v1.5h-1.5zm11 63.5h1.5v1.5h-1.5zm-15.5 29h1.5v1.5h-1.5zm3.5 -43h1.5v1.5h-1.5zm-4 -29.5h1.5v1.5h-1.5zm4.5 1.5h1.5v1.5h-1.5zm-3 48h1.5v1.5h-1.5zm-2 -40.5h1.5v1.5h-1.5zm-1.5 -16.5h1.5v1.5h-1.5zm11.5 5.5h1.5v1.5h-1.5zm1 30h1.5v1.5h-1.5zm-11.5 -34.5h1.5v1.5h-1.5zm3.5 69h1.5v1.5h-1.5zm5.5 10h1.5v1.5h-1.5zm2.5 -81h1.5v1.5h-1.5zm6.5 103.5h1.5v1.5h-1.5zm-18 -60.5h1.5v1.5h-1.5zm15 -15h1.5v1.5h-1.5zm-7.5 6h1.5v1.5h-1.5zm8.5 26h1.5v1.5h-1.5zm-8 -24h1.5v1.5h-1.5zm-1 -7.5h1.5v1.5h-1.5zm-10.5 -32.5h1.5v1.5h-1.5zm3.5 78.5h1.5v1.5h-1.5zm8.5 7.5h1.5v1.5h-1.5zm5.5 -64h1.5v1.5h-1.5zm-11 17.5h1.5v1.5h-1.5zm2 34h1.5v1.5h-1.5zm2 -16h1.5v1.5h-1.5zm0.5 30.5h1.5v1.5h-1.5zm0.5 -70h1.5v1.5h-1.5zm6 64.5h1.5v1.5h-1.5zm-5.5 24h1.5v1.5h-1.5zm-7 -80h1.5v1.5h-1.5zm14.5 3h1.5v1.5h-1.5zm-14.5 51h1.5v1.5h-1.5zm3.5 -35.5h1.5v1.5h-1.5zm-6.5 44h1.5v1.5h-1.5zm-2 -86h1.5v1.5h-1.5zm12.5 90.5h1.5v1.5h-1.5zm-9 -14h1.5v1.5h-1.5zm-4 -6h1.5v1.5h-1.5zm14.5 -36.5h1.5v1.5h-1.5zm-8 -19.5h1.5v1.5h-1.5zm1.5 77h1.5v1.5h-1.5zm4 -38.5h1.5v1.5h-1.5zm3.5 -16.5h1.5v1.5h-1.5zm-9 12.5h1.5v1.5h-1.5zm1 -9h1.5v1.5h-1.5zm6.5 49.5h1.5v1.5h-1.5zm-3.5 -7.5h1.5v1.5h-1.5zm-13.5 -48.5h1.5v1.5h-1.5zm16 -1h1.5v1.5h-1.5zm-6 53.5h1.5v1.5h-1.5zm13 -59h1.5v1.5h-1.5zm-18 78h1.5v1.5h-1.5zm3 -85h1.5v1.5h-1.5zm6.5 4.5h1.5v1.5h-1.5zm6 -7h1.5v1.5h-1.5zm0 31h1.5v1.5h-1.5zm-4.5 -46.5h1.5v1.5h-1.5zm4.5 91h1.5v1.5h-1.5zm-0.5 -48.5h1.5v1.5h-1.5zm-7.5 -2.5h1.5v1.5h-1.5zm9 -7h1.5v1.5h-1.5zm-10.5 49h1.5v1.5h-1.5zm3 -45.5h1.5v1.5h-1.5zm-6 56.5h1.5v1.5h-1.5zm4.5 -74.5h1.5v1.5h-1.5zm-2.5 18h1.5v1.5h-1.5zm6 2h1.5v1.5h-1.5zm-5 -10h1.5v1.5h-1.5zm-2.5 -15.5h1.5v1.5h-1.5zm-4.5 18.5h1.5v1.5h-1.5zm15 -13h1.5v1.5h-1.5zm-9 40h1.5v1.5h-1.5zm8 16h1.5v1.5h-1.5zm-9.5 -12h1.5v1.5h-1.5zm7 -32.5h1.5v1.5h-1.5zm-3 -16h1.5v1.5h-1.5zm-2.5 26h1.5v1.5h-1.5zm10 -3h1.5v1.5h-1.5zm-12 69h1.5v1.5h-1.5zm1.5 -117h1.5v1.5h-1.5zm-2 50h1.5v1.5h-1.5zm2 9.5h1.5v1.5h-1.5zm-8.5 32h1.5v1.5h-1.5zm1 -54h1.5v1.5h-1.5zm13 -33h1.5v1.5h-1.5zm-5.5 12h1.5v1.5h-1.5zm0 20h1.5v1.5h-1.5zm9.5 -1.5h1.5v1.5h-1.5zm-6.5 -6.5h1.5v1.5h-1.5zm1.5 -26.5h1.5v1.5h-1.5zm-6 2.5h1.5v1.5h-1.5zm2.5 53h1.5v1.5h-1.5zm-7.5 22.5h1.5v1.5h-1.5z"/></g>
<rect x="568" y="21.5" width="185.3" height="197.2" fill="none" stroke="#000" stroke-width="1.4"/>
<line x1="568" y1="118.8" x2="753.3" y2="118.8" stroke="#000" stroke-width="1.9"/>
<line x1="659.6" y1="21.5" x2="659.6" y2="218.7" stroke="#000" stroke-width="1.9"/>
<path d="M563.5 218.7H568M568 218.7V223.2M565.5 203.47H568M581.7 218.7V221.2M565.5 194.56H568M589.71 218.7V221.2M565.5 188.24H568M595.39 218.7V221.2M565.5 183.33H568M599.8 218.7V221.2M565.5 179.33H568M603.41 218.7V221.2M565.5 175.94H568M606.45 218.7V221.2M565.5 173H568M609.09 218.7V221.2M565.5 170.42H568M611.42 218.7V221.2M563.5 168.1H568M613.5 218.7V223.2M565.5 153.26H568M627.38 218.7V221.2M565.5 144.58H568M635.5 218.7V221.2M565.5 138.42H568M641.25 218.7V221.2M565.5 133.64H568M645.72 218.7V221.2M565.5 129.74H568M649.37 218.7V221.2M565.5 126.44H568M652.46 218.7V221.2M565.5 123.58H568M655.13 218.7V221.2M565.5 121.06H568M657.49 218.7V221.2M563.5 118.8H568M659.6 218.7V223.2M565.5 104.11H568M673.57 218.7V221.2M565.5 95.52H568M681.74 218.7V221.2M565.5 89.42H568M687.54 218.7V221.2M565.5 84.69H568M692.03 218.7V221.2M565.5 80.83H568M695.71 218.7V221.2M565.5 77.56H568M698.81 218.7V221.2M565.5 74.73H568M701.5 218.7V221.2M565.5 72.23H568M703.88 218.7V221.2M563.5 70H568M706 218.7V223.2M565.5 55.4H568M720.24 218.7V221.2M565.5 46.86H568M728.57 218.7V221.2M565.5 40.8H568M734.48 218.7V221.2M565.5 36.1H568M739.06 218.7V221.2M565.5 32.26H568M742.81 218.7V221.2M565.5 29.01H568M745.97 218.7V221.2M565.5 26.2H568M748.72 218.7V221.2M565.5 23.72H568M751.14 218.7V221.2M563.5 21.5H568M753.3 218.7V223.2" stroke="#000" stroke-width="1.1" fill="none"/>
<text x="547.7" y="218.6" font-size="7.3" stroke="#000" stroke-width="0.28">10</text>
<text x="555.4" y="212.3" font-size="7.3" stroke="#000" stroke-width="0.28">0</text>
<text x="571.2" y="240.9" font-size="7.3" stroke="#000" stroke-width="0.28">10</text>
<text x="578.5" y="234.9" font-size="7.3" stroke="#000" stroke-width="0.28">0</text>
<text x="547.7" y="173.6" font-size="7.3" stroke="#000" stroke-width="0.28">10</text>
<text x="555.4" y="167.3" font-size="7.3" stroke="#000" stroke-width="0.28">1</text>
<text x="611" y="240.9" font-size="7.3" stroke="#000" stroke-width="0.28">10</text>
<text x="618.3" y="234.9" font-size="7.3" stroke="#000" stroke-width="0.28">1</text>
<text x="547.7" y="124.3" font-size="7.3" stroke="#000" stroke-width="0.28">10</text>
<text x="555.4" y="118" font-size="7.3" stroke="#000" stroke-width="0.28">2</text>
<text x="657.1" y="240.9" font-size="7.3" stroke="#000" stroke-width="0.28">10</text>
<text x="664.4" y="234.9" font-size="7.3" stroke="#000" stroke-width="0.28">2</text>
<text x="547.7" y="75.5" font-size="7.3" stroke="#000" stroke-width="0.28">10</text>
<text x="555.4" y="69.2" font-size="7.3" stroke="#000" stroke-width="0.28">3</text>
<text x="703.5" y="240.9" font-size="7.3" stroke="#000" stroke-width="0.28">10</text>
<text x="710.8" y="234.9" font-size="7.3" stroke="#000" stroke-width="0.28">3</text>
<text x="547.7" y="35" font-size="7.3" stroke="#000" stroke-width="0.28">10</text>
<text x="555.4" y="28.7" font-size="7.3" stroke="#000" stroke-width="0.28">4</text>
<text x="742.7" y="240.9" font-size="7.3" stroke="#000" stroke-width="0.28">10</text>
<text x="750" y="234.9" font-size="7.3" stroke="#000" stroke-width="0.28">4</text>
<text transform="translate(571 37.1) scale(0.95 1)" font-size="9" stroke="#000" stroke-width="0" text-anchor="start">Q1</text>
<text transform="translate(571 50) scale(0.95 1)" font-size="9" stroke="#000" stroke-width="0" text-anchor="start">34.8</text>
<text transform="translate(737.3 37.1) scale(0.95 1)" font-size="9" stroke="#000" stroke-width="0" text-anchor="end">Q2</text>
<text transform="translate(737.3 50) scale(0.95 1)" font-size="9" stroke="#000" stroke-width="0" text-anchor="end">4.65</text>
<text transform="translate(571 196.5) scale(0.95 1)" font-size="9" stroke="#000" stroke-width="0" text-anchor="start">Q4</text>
<text transform="translate(571 208.6) scale(0.95 1)" font-size="9" stroke="#000" stroke-width="0" text-anchor="start">51.5</text>
<text transform="translate(737.3 196.5) scale(0.95 1)" font-size="9" stroke="#000" stroke-width="0" text-anchor="end">Q3</text>
<text transform="translate(737.3 208.6) scale(0.95 1)" font-size="9" stroke="#000" stroke-width="0" text-anchor="end">9.11</text>
<text transform="translate(538 116) rotate(-90)" font-size="11" font-weight="bold" fill="#cc1020" text-anchor="middle">PI</text>
<text x="661.9" y="261" font-size="13" font-weight="bold" fill="#1ea84e" text-anchor="middle">Annexin FITC</text>
<rect x="1" y="268" width="249" height="24" fill="#cc97cb"/>
<text x="125.5" y="282.3" font-size="13.5" font-weight="bold" fill="#111" text-anchor="middle">Control</text>
<rect x="258" y="268" width="248" height="24" fill="#cc97cb"/>
<text x="382" y="282.3" font-size="13.5" font-weight="bold" fill="#111" text-anchor="middle">Temp 43</text>
<rect x="513.3" y="268" width="248.7" height="24" fill="#cc97cb"/>
<text x="637.65" y="282.3" font-size="13.5" font-weight="bold" fill="#111" text-anchor="middle">Temp 48</text>
<text x="7" y="316" font-size="16.8" font-weight="bold" stroke="#000" stroke-width="0.3">B</text>
<path d="M60.6 320.2V447.5H242.5" stroke="#000" stroke-width="1.8" fill="none"/>
<text transform="translate(53.1 447.5) rotate(-90)" font-size="6.2" font-weight="bold" stroke="#000" stroke-width="0.2" text-anchor="middle">0</text>
<text transform="translate(53.1 422.04) rotate(-90)" font-size="6.2" font-weight="bold" stroke="#000" stroke-width="0.2" text-anchor="middle">20</text>
<text transform="translate(53.1 396.58) rotate(-90)" font-size="6.2" font-weight="bold" stroke="#000" stroke-width="0.2" text-anchor="middle">40</text>
<text transform="translate(53.1 371.12) rotate(-90)" font-size="6.2" font-weight="bold" stroke="#000" stroke-width="0.2" text-anchor="middle">60</text>
<text transform="translate(53.1 345.66) rotate(-90)" font-size="6.2" font-weight="bold" stroke="#000" stroke-width="0.2" text-anchor="middle">80</text>
<text transform="translate(53.1 320.2) rotate(-90)" font-size="6.2" font-weight="bold" stroke="#000" stroke-width="0.2" text-anchor="middle">100</text>
<path d="M56.1 447.5H60.6M56.1 422.04H60.6M56.1 396.58H60.6M56.1 371.12H60.6M56.1 345.66H60.6M56.1 320.2H60.6" stroke="#000" stroke-width="1.3" fill="none"/>
<rect x="71.3" y="334.5" width="41.7" height="113" fill="url(#chk1)" stroke="#000" stroke-width="2.1"/>
<line x1="82.15" y1="333.2" x2="102.15" y2="333.2" stroke="#000" stroke-width="1"/>
<rect x="135.3" y="362.3" width="41" height="85.2" fill="url(#chk2)" stroke="#000" stroke-width="2.1"/>
<line x1="145.8" y1="361" x2="165.8" y2="361" stroke="#000" stroke-width="1"/>
<rect x="199.2" y="383.3" width="41.4" height="64.2" fill="url(#chk3)" stroke="#000" stroke-width="2.1"/>
<line x1="209.9" y1="382" x2="229.9" y2="382" stroke="#000" stroke-width="1"/>
<line x1="90.2" y1="311.4" x2="217.7" y2="311.4" stroke="#000" stroke-width="2"/>
<polygon points="147.05,304.6 147.81,306.15 149.52,306.4 148.29,307.6 148.58,309.3 147.05,308.5 145.52,309.3 145.81,307.6 144.58,306.4 146.29,306.15" fill="#000"/>
<polygon points="152.75,304.6 153.51,306.15 155.22,306.4 153.99,307.6 154.28,309.3 152.75,308.5 151.22,309.3 151.51,307.6 150.28,306.4 151.99,306.15" fill="#000"/>
<line x1="92" y1="328.4" x2="154.8" y2="328.4" stroke="#000" stroke-width="2"/>
<polygon points="116.35,321.2 117.11,322.75 118.82,323 117.59,324.2 117.88,325.9 116.35,325.1 114.82,325.9 115.11,324.2 113.88,323 115.59,322.75" fill="#000"/>
<polygon points="122.05,321.2 122.81,322.75 124.52,323 123.29,324.2 123.58,325.9 122.05,325.1 120.52,325.9 120.81,324.2 119.58,323 121.29,322.75" fill="#000"/>
<line x1="156.6" y1="357" x2="218" y2="357" stroke="#000" stroke-width="2"/>
<polygon points="187.35,349.4 188.11,350.95 189.82,351.2 188.59,352.4 188.88,354.1 187.35,353.3 185.82,354.1 186.11,352.4 184.88,351.2 186.59,350.95" fill="#000"/>
<polygon points="193.05,349.4 193.81,350.95 195.52,351.2 194.29,352.4 194.58,354.1 193.05,353.3 191.52,354.1 191.81,352.4 190.58,351.2 192.29,350.95" fill="#000"/>
<text transform="translate(39 384) rotate(-90)" font-size="12.75" font-weight="bold" text-anchor="middle">(% Alive Cell Number)</text>
<text transform="translate(94 458) rotate(-45)" font-size="9" font-weight="bold" text-anchor="end">Control</text>
<text transform="translate(159 457) rotate(-45)" font-size="9" font-weight="bold" text-anchor="end">43</text>
<text transform="translate(222 457) rotate(-45)" font-size="9" font-weight="bold" text-anchor="end">48</text>
<text x="103.3" y="484" font-size="13.2" font-weight="bold">Temperature (<tspan font-size="9.5" dy="-5.2">o</tspan><tspan dy="5.2">C)</tspan></text>
<text x="256" y="316.8" font-size="16.8" font-weight="bold" stroke="#000" stroke-width="0.3">C</text>
<path d="M308.7 320V447.4H501.5" stroke="#000" stroke-width="1.8" fill="none"/>
<text x="303.2" y="449.7" font-size="6.5" font-weight="bold" stroke="#000" stroke-width="0.15" text-anchor="end">0</text>
<text x="303.2" y="407.23" font-size="6.5" font-weight="bold" stroke="#000" stroke-width="0.15" text-anchor="end">10</text>
<text x="303.2" y="364.77" font-size="6.5" font-weight="bold" stroke="#000" stroke-width="0.15" text-anchor="end">20</text>
<text x="303.2" y="322.3" font-size="6.5" font-weight="bold" stroke="#000" stroke-width="0.15" text-anchor="end">30</text>
<path d="M304.2 447.4H308.7M304.2 404.93H308.7M304.2 362.47H308.7M304.2 320H308.7" stroke="#000" stroke-width="1.3" fill="none"/>
<rect x="318.8" y="434.5" width="43.8" height="12.9" fill="url(#chk1)" stroke="#000" stroke-width="2.1"/>
<line x1="330.7" y1="433.2" x2="350.7" y2="433.2" stroke="#000" stroke-width="1"/>
<rect x="384.2" y="338.6" width="41.4" height="108.8" fill="url(#chk2)" stroke="#000" stroke-width="2.1"/>
<line x1="394.9" y1="337.3" x2="414.9" y2="337.3" stroke="#000" stroke-width="1"/>
<rect x="447.7" y="391.4" width="41.6" height="56" fill="url(#chk3)" stroke="#000" stroke-width="2.1"/>
<line x1="458.5" y1="390.1" x2="478.5" y2="390.1" stroke="#000" stroke-width="1"/>
<line x1="341" y1="314.9" x2="466.7" y2="314.9" stroke="#000" stroke-width="2"/>
<polygon points="396.3,305.6 397.06,307.15 398.77,307.4 397.54,308.6 397.83,310.3 396.3,309.5 394.77,310.3 395.06,308.6 393.83,307.4 395.54,307.15" fill="#000"/>
<polygon points="401.9,305.6 402.66,307.15 404.37,307.4 403.14,308.6 403.43,310.3 401.9,309.5 400.37,310.3 400.66,308.6 399.43,307.4 401.14,307.15" fill="#000"/>
<polygon points="407.5,305.6 408.26,307.15 409.97,307.4 408.74,308.6 409.03,310.3 407.5,309.5 405.97,310.3 406.26,308.6 405.03,307.4 406.74,307.15" fill="#000"/>
<line x1="341" y1="326.8" x2="403.8" y2="326.8" stroke="#000" stroke-width="2"/>
<polygon points="363.2,320 363.96,321.55 365.67,321.8 364.44,323 364.73,324.7 363.2,323.9 361.67,324.7 361.96,323 360.73,321.8 362.44,321.55" fill="#000"/>
<polygon points="367.8,320 368.56,321.55 370.27,321.8 369.04,323 369.33,324.7 367.8,323.9 366.27,324.7 366.56,323 365.33,321.8 367.04,321.55" fill="#000"/>
<polygon points="372.4,320 373.16,321.55 374.87,321.8 373.64,323 373.93,324.7 372.4,323.9 370.87,324.7 371.16,323 369.93,321.8 371.64,321.55" fill="#000"/>
<polygon points="377,320 377.76,321.55 379.47,321.8 378.24,323 378.53,324.7 377,323.9 375.47,324.7 375.76,323 374.53,321.8 376.24,321.55" fill="#000"/>
<line x1="404.4" y1="331.7" x2="471.2" y2="331.7" stroke="#000" stroke-width="2"/>
<polygon points="427.4,325.5 428.16,327.05 429.87,327.3 428.64,328.5 428.93,330.2 427.4,329.4 425.87,330.2 426.16,328.5 424.93,327.3 426.64,327.05" fill="#000"/>
<polygon points="432,325.5 432.76,327.05 434.47,327.3 433.24,328.5 433.53,330.2 432,329.4 430.47,330.2 430.76,328.5 429.53,327.3 431.24,327.05" fill="#000"/>
<polygon points="436.6,325.5 437.36,327.05 439.07,327.3 437.84,328.5 438.13,330.2 436.6,329.4 435.07,330.2 435.36,328.5 434.13,327.3 435.84,327.05" fill="#000"/>
<polygon points="441.2,325.5 441.96,327.05 443.67,327.3 442.44,328.5 442.73,330.2 441.2,329.4 439.67,330.2 439.96,328.5 438.73,327.3 440.44,327.05" fill="#000"/>
<text transform="translate(287.3 383.7) rotate(-90)" font-size="12.75" font-weight="bold" text-anchor="middle">(% Apoptotic Cell Number)</text>
<text transform="translate(343 458) rotate(-45)" font-size="9" font-weight="bold" text-anchor="end">Control</text>
<text transform="translate(407 457) rotate(-45)" font-size="9" font-weight="bold" text-anchor="end">43</text>
<text transform="translate(471 457) rotate(-45)" font-size="9" font-weight="bold" text-anchor="end">48</text>
<text x="352.3" y="484" font-size="13.2" font-weight="bold">Temperature (<tspan font-size="9.5" dy="-5.2">o</tspan><tspan dy="5.2">C)</tspan></text>
<text x="510.5" y="314" font-size="16.8" font-weight="bold" stroke="#000" stroke-width="0.3">D</text>
<path d="M567 314.7V446H759" stroke="#000" stroke-width="1.8" fill="none"/>
<text x="561.5" y="448.3" font-size="6.5" font-weight="bold" stroke="#000" stroke-width="0.15" text-anchor="end">0</text>
<text x="561.5" y="415.48" font-size="6.5" font-weight="bold" stroke="#000" stroke-width="0.15" text-anchor="end">10</text>
<text x="561.5" y="382.65" font-size="6.5" font-weight="bold" stroke="#000" stroke-width="0.15" text-anchor="end">20</text>
<text x="561.5" y="349.82" font-size="6.5" font-weight="bold" stroke="#000" stroke-width="0.15" text-anchor="end">30</text>
<text x="561.5" y="317" font-size="6.5" font-weight="bold" stroke="#000" stroke-width="0.15" text-anchor="end">40</text>
<path d="M562.5 446H567M562.5 413.18H567M562.5 380.35H567M562.5 347.52H567M562.5 314.7H567" stroke="#000" stroke-width="1.3" fill="none"/>
<rect x="578.2" y="425.5" width="41.8" height="20.5" fill="url(#chk1)" stroke="#000" stroke-width="2.1"/>
<line x1="589.1" y1="424.2" x2="609.1" y2="424.2" stroke="#000" stroke-width="1"/>
<rect x="642" y="428.7" width="41.3" height="17.3" fill="url(#chk2)" stroke="#000" stroke-width="2.1"/>
<line x1="652.65" y1="427.4" x2="672.65" y2="427.4" stroke="#000" stroke-width="1"/>
<rect x="706.2" y="332.2" width="41.4" height="113.8" fill="url(#chk3)" stroke="#000" stroke-width="2.1"/>
<line x1="716.9" y1="330.9" x2="736.9" y2="330.9" stroke="#000" stroke-width="1"/>
<line x1="596.4" y1="317" x2="727.4" y2="317" stroke="#000" stroke-width="2"/>
<polygon points="654.1,309.1 654.86,310.65 656.57,310.9 655.34,312.1 655.63,313.8 654.1,313 652.57,313.8 652.86,312.1 651.63,310.9 653.34,310.65" fill="#000"/>
<polygon points="658.7,309.1 659.46,310.65 661.17,310.9 659.94,312.1 660.23,313.8 658.7,313 657.17,313.8 657.46,312.1 656.23,310.9 657.94,310.65" fill="#000"/>
<polygon points="663.3,309.1 664.06,310.65 665.77,310.9 664.54,312.1 664.83,313.8 663.3,313 661.77,313.8 662.06,312.1 660.83,310.9 662.54,310.65" fill="#000"/>
<polygon points="667.9,309.1 668.66,310.65 670.37,310.9 669.14,312.1 669.43,313.8 667.9,313 666.37,313.8 666.66,312.1 665.43,310.9 667.14,310.65" fill="#000"/>
<line x1="658.3" y1="327.2" x2="730" y2="327.2" stroke="#000" stroke-width="2"/>
<polygon points="685.7,320.6 686.46,322.15 688.17,322.4 686.94,323.6 687.23,325.3 685.7,324.5 684.17,325.3 684.46,323.6 683.23,322.4 684.94,322.15" fill="#000"/>
<polygon points="690.3,320.6 691.06,322.15 692.77,322.4 691.54,323.6 691.83,325.3 690.3,324.5 688.77,325.3 689.06,323.6 687.83,322.4 689.54,322.15" fill="#000"/>
<polygon points="694.9,320.6 695.66,322.15 697.37,322.4 696.14,323.6 696.43,325.3 694.9,324.5 693.37,325.3 693.66,323.6 692.43,322.4 694.14,322.15" fill="#000"/>
<polygon points="699.5,320.6 700.26,322.15 701.97,322.4 700.74,323.6 701.03,325.3 699.5,324.5 697.97,325.3 698.26,323.6 697.03,322.4 698.74,322.15" fill="#000"/>
<text transform="translate(546 380) rotate(-90)" font-size="13" font-weight="bold" text-anchor="middle">(% Necrotic Cell Number)</text>
<text transform="translate(600 457) rotate(-45)" font-size="9" font-weight="bold" text-anchor="end">Control</text>
<text transform="translate(664 457) rotate(-45)" font-size="9" font-weight="bold" text-anchor="end">43</text>
<text transform="translate(730 457) rotate(-45)" font-size="9" font-weight="bold" text-anchor="end">48</text>
<text x="609.5" y="484" font-size="13.2" font-weight="bold">Temperature (<tspan font-size="9.5" dy="-5.2">o</tspan><tspan dy="5.2">C)</tspan></text>
</svg></body></html>
